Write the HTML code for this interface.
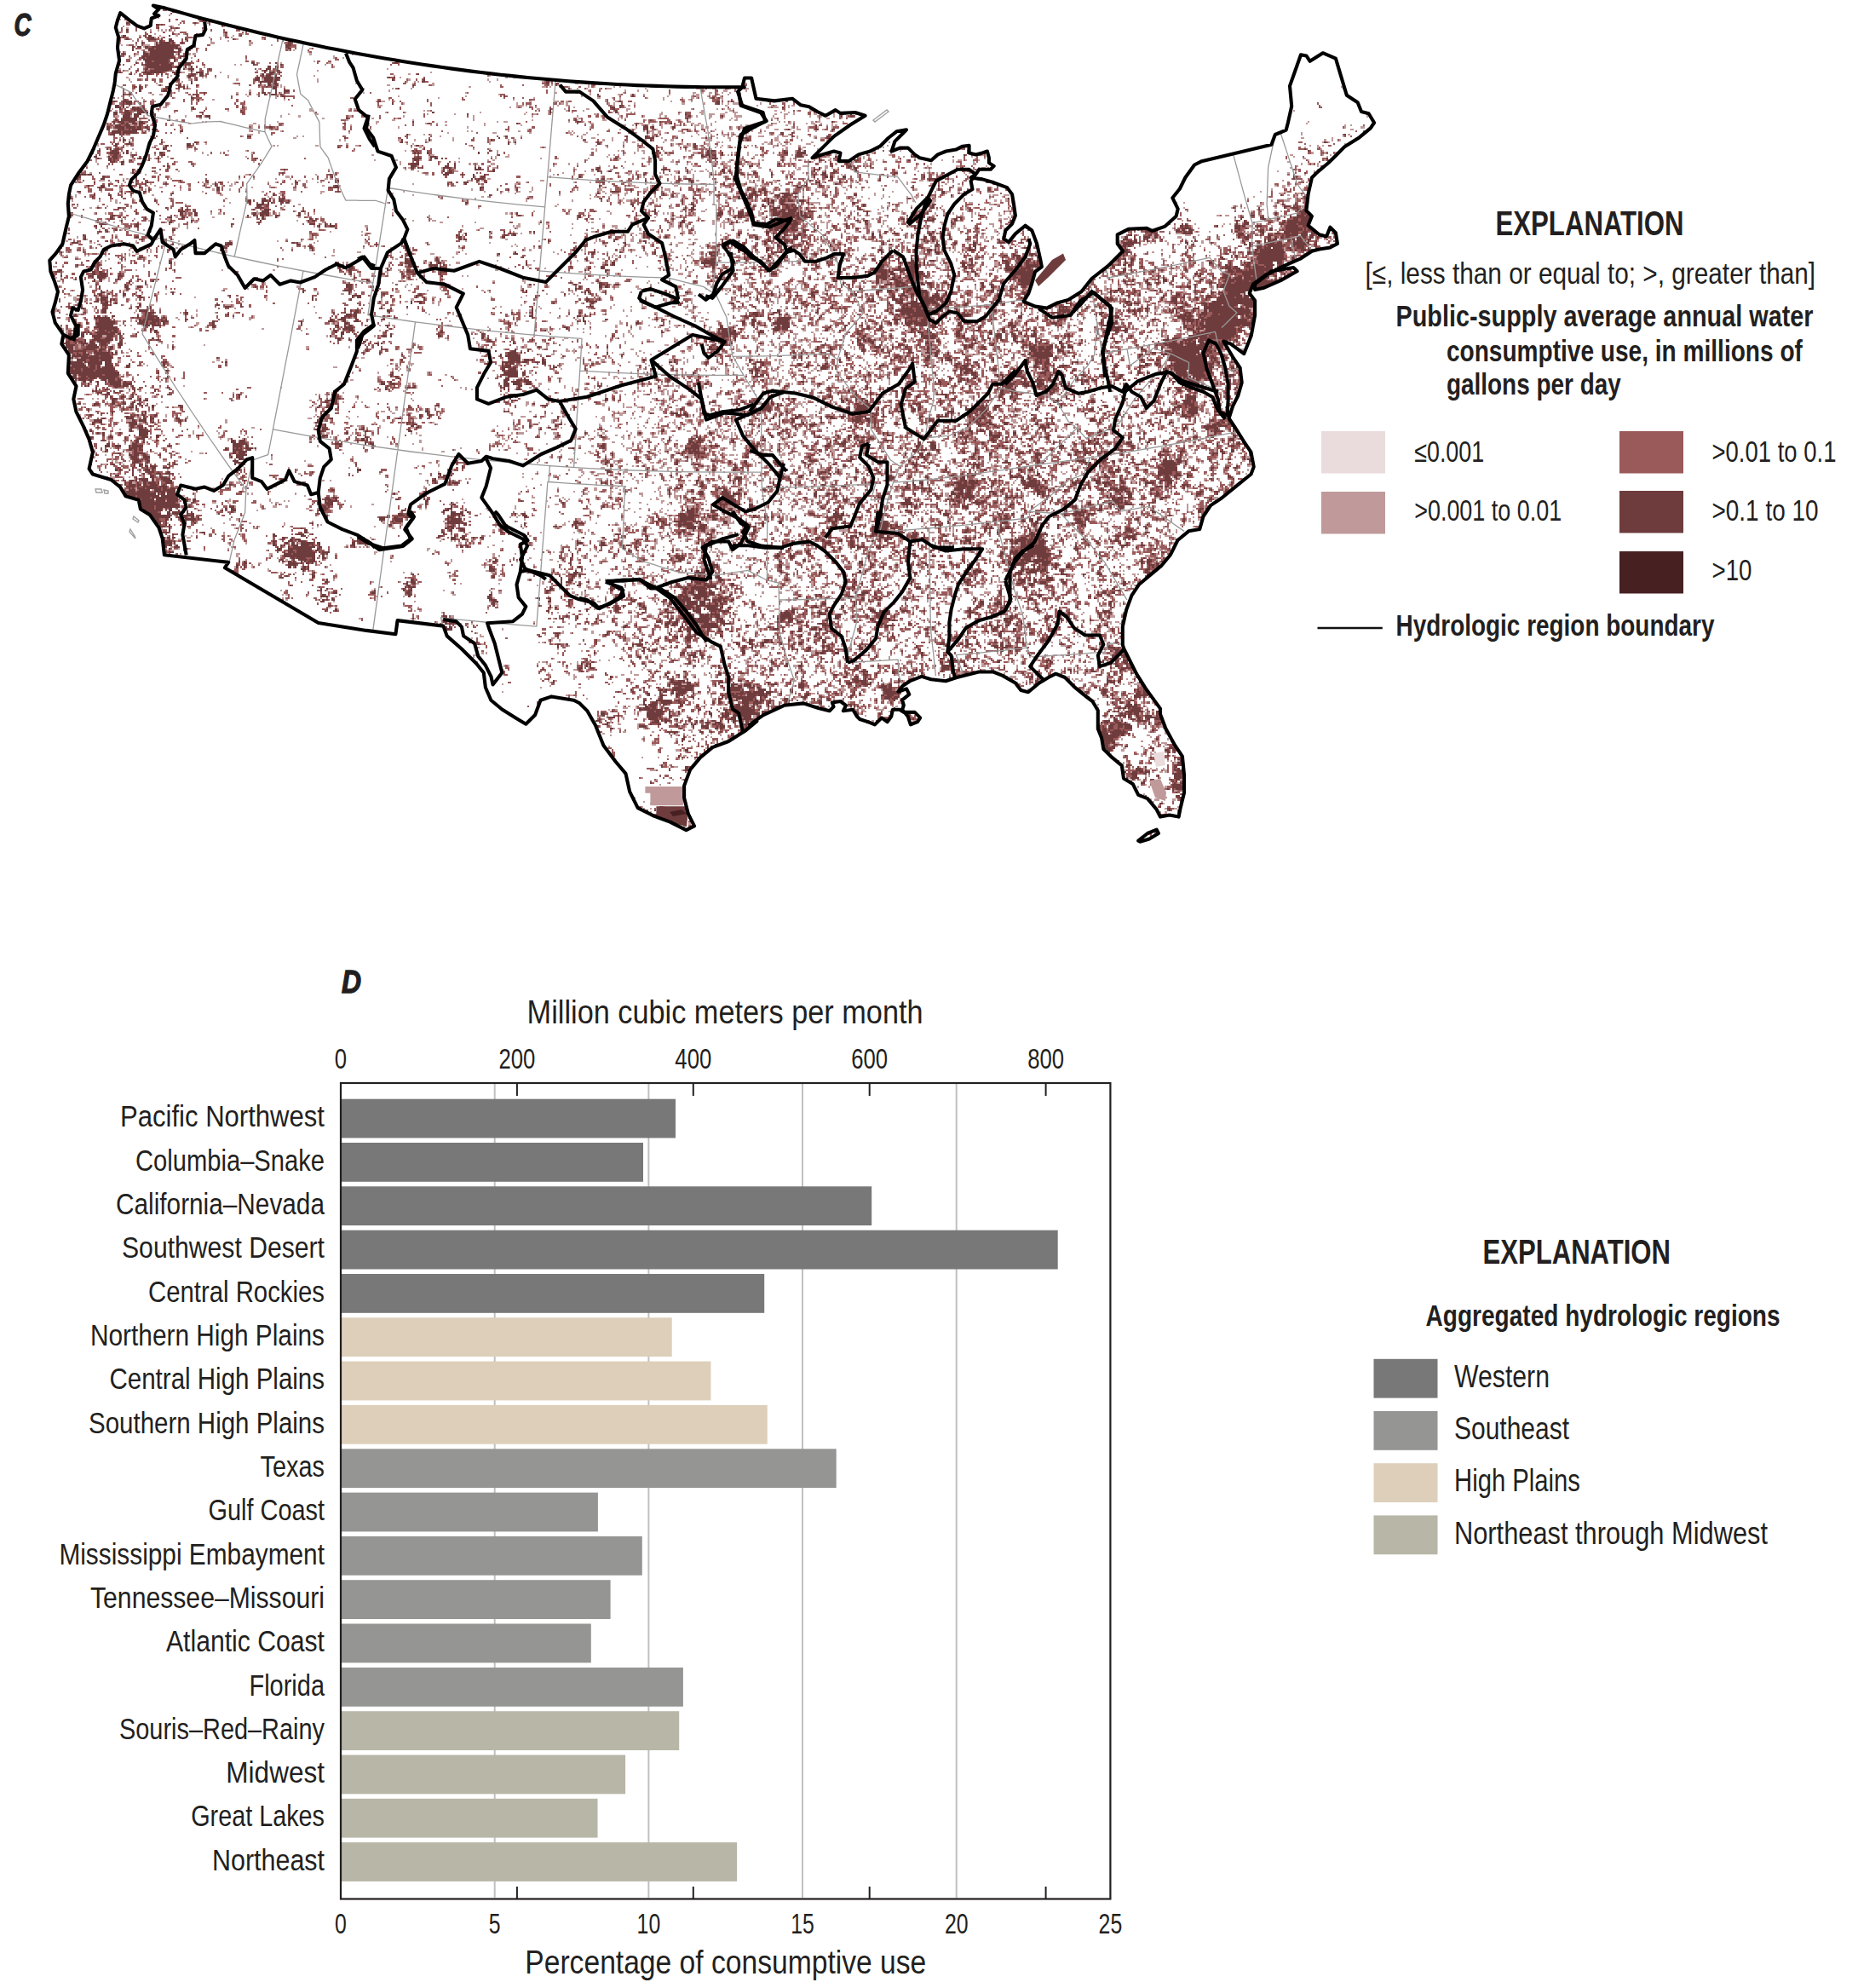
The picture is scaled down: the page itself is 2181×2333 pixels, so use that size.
<!DOCTYPE html>
<html><head><meta charset="utf-8"><style>
html,body{margin:0;padding:0;background:#fff;width:2181px;height:2333px;overflow:hidden}
svg{display:block}
</style></head><body>
<svg width="2181" height="2333" viewBox="0 0 2181 2333">
<rect width="2181" height="2333" fill="#fff"/>
<g transform="scale(2.15)" shape-rendering="crispEdges" fill="none" stroke-width="1">
<path stroke="#6f3c3d" d="M0 .5m109 10h2m-1 1h2m-43 1h1m36 0h1m-22 1h2m1 0h1m32 0h1m-36 2h1m6 0h1m2 0h1m-28 1h1m53 1h1m-30 1h1m-28 1h2m10 0h1m1 0h2m9 0h1m38 0h1m-67 1h1m1 0h1m13 0h3m67 0h2m-84 1h1m11 0h4m3 0h1m3 0h2m7 0h1m25 0h1m-47 1h1m5 0h2m3 0h3m7 0h1m55 0h1m-82 1h1m7 0h1m1 0h6m1 0h1m4 0h1m57 0h2m-74 1h13m58 0h3m-87 1h1m2 0h2m2 0h2m2 0h14m59 0h2m-86 1h1m8 0h3m1 0h10m1 0h3m5 0h1m52 0h2m-87 1h1m8 0h14m2 0h2m-21 1h1m3 0h14m1 0h1m4 0h1m-36 1h1m10 0h3m1 0h13m2 0h1m3 0h1m-25 1h18m3 0h4m-25 1h2m1 0h16m2 0h1m-21 1h14m3 0h1m4 0h2m109 0h1m-133 1h4m1 0h8m3 0h1m4 0h2m-28 1h1m5 0h12m1 0h2m3 0h2m1 0h3m33 0h2m11 0h1m64 0h2m-140 1h1m1 0h8m1 0h6m4 0h2m1 0h3m34 0h1m14 0h1m-74 1h14m2 0h2m3 0h1m2 0h1m41 0h2m2 0h2m-73 1h2m3 0h10m6 0h1m2 0h3m8 0h1m30 0h3m2 0h1m-76 1h1m3 0h1m2 0h10m12 0h1m39 0h2m4 0h2m-87 1h1m12 0h11m5 0h4m9 0h4m33 0h1m2 0h3m2 0h1m-82 1h1m8 0h3m5 0h1m6 0h2m7 0h3m2 0h2m32 0h1m2 0h3m79 0h1m-126 1h3m3 0h2m32 0h1m1 0h3m2 0h1m-48 1h1m36 0h2m2 0h5m1 0h3m59 0h1m2 0h1m-120 1h2m9 0h1m31 0h3m2 0h8m62 0h1m16 0h1m68 0h1m-197 1h1m37 0h9m79 0h2m66 0h2m-196 1h1m37 0h1m3 0h2m1 0h2m147 0h2m3 0h2m-218 1h1m9 0h2m8 0h1m33 0h1m4 0h2m2 0h2m73 0h1m77 0h1m-231 1h1m2 0h1m13 0h2m5 0h2m1 0h1m44 0h1m2 0h3m-75 1h1m13 0h2m5 0h1m2 0h1m48 0h2m66 0h1m92 0h1m-235 1h1m12 0h2m59 0h1m4 0h3m-87 1h1m39 0h1m31 0h2m5 0h1m4 0h1m-89 1h1m2 0h1m34 0h1m1 0h1m36 0h1m3 0h3m2 0h1m172 0h1m18 0h1m-239 1h1m46 0h2m119 0h1m51 0h1m17 0h1m-242 1h2m283 0h1m2 0h1m-325 1h1m39 0h1m321 0h1m-371 1h1m1 0h1m4 0h5m134 0h2m130 0h1m52 0h2m6 0h1m-333 1h1m1 0h3m142 0h1m87 0h1m88 0h2m-330 1h2m2 0h1m270 0h2m-277 1h3m1 0h1m4 0h2m1 0h1m1 0h2m26 0h1m26 0h1m200 0h3m2 0h1m88 0h1m-363 1h1m6 0h7m7 0h1m18 0h1m194 0h1m33 0h2m-268 1h2m3 0h1m1 0h5m51 0h1m168 0h1m9 0h1m25 0h1m-275 1h2m4 0h3m4 0h6m29 0h1m21 0h1m103 0h1m63 0h1m31 0h1m3 0h1m-275 1h2m4 0h3m2 0h4m7 0h1m170 0h1m118 0h1m84 0h2m3 0h1m281 0h2m-681 1h4m2 0h3m8 0h1m24 0h1m2 0h3m261 0h1m17 0h1m64 0h1m4 0h2m5 0h1m-405 1h8m9 0h1m104 0h1m185 0h1m-313 1h1m2 0h9m17 0h1m221 0h1m40 0h1m-294 1h1m1 0h4m2 0h4m2 0h2m22 0h1m124 0h1m89 0h2m43 0h1m93 0h1m-393 1h1m3 0h2m1 0h1m2 0h3m1 0h3m109 0h1m45 0h1m47 0h1m64 0h1m18 0h1m-304 1h3m2 0h3m5 0h1m270 0h1m4 0h1m92 0h1m-388 1h2m3 0h5m1 0h5m1 0h2m2 0h2m63 0h1m2 0h2m202 0h3m2 0h1m10 0h2m76 0h1m-388 1h2m4 0h4m2 0h1m1 0h5m4 0h1m2 0h2m265 0h1m1 0h1m21 0h1m54 0h1m14 0h2m7 0h2m-395 1h5m1 0h8m23 0h2m243 0h3m7 0h1m-293 1h5m1 0h8m3 0h1m266 0h1m7 0h1m72 0h2m4 0h1m-373 1h3m2 0h1m1 0h1m154 0h1m181 0h1m22 0h1m306 0h1m-600 1h2m139 0h1m65 0h1m9 0h2m4 0h1m44 0h2m27 0h1m18 0h2m-265 1h1m83 0h1m79 0h5m28 0h1m19 0h1m1 0h1m43 0h2m-386 1h1m151 0h1m14 0h1m33 0h1m80 0h1m5 0h1m52 0h1m-339 1h1m17 0h1m17 0h2m111 0h1m57 0h1m3 0h1m44 0h1m24 0h1m371 0h1m-661 1h1m5 0h3m30 0h2m173 0h1m48 0h2m51 0h1m-317 1h1m26 0h2m10 0h2m123 0h2m150 0h1m148 0h1m-439 1h1m93 0h1m189 0h1m4 0h1m7 0h1m137 0h2m-469 1h1m1 0h1m2 0h2m24 0h1m141 0h1m155 0h1m48 0h1m275 0h1m-659 1h1m6 0h3m5 0h1m155 0h1m1 0h1m39 0h1m88 0h1m1 0h2m26 0h4m38 0h1m7 0h1m2 0h1m57 0h1m216 0h1m-655 1h5m4 0h1m17 0h2m137 0h1m1 0h1m4 0h1m27 0h1m96 0h1m27 0h3m5 0h1m33 0h2m5 0h5m96 0h2m-476 1h2m8 0h2m14 0h2m182 0h1m85 0h1m24 0h1m1 0h3m1 0h2m3 0h1m40 0h3m13 0h2m46 0h1m26 0h1m-476 1h2m6 0h1m1 0h3m8 0h1m155 0h1m6 0h3m120 0h2m23 0h2m2 0h2m1 0h1m36 0h1m7 0h3m9 0h1m8 0h1m40 0h3m-447 1h1m5 0h2m1 0h2m12 0h1m4 0h1m4 0h1m52 0h1m85 0h5m5 0h1m1 0h2m2 0h1m94 0h1m51 0h3m56 0h1m276 0h1m-666 1h2m1 0h1m8 0h1m9 0h1m144 0h3m198 0h1m19 0h2m17 0h3m27 0h1m227 0h1m-665 1h3m3 0h2m160 0h1m159 0h1m18 0h1m33 0h2m18 0h1m2 0h1m2 0h1m-402 1h1m157 0h5m15 0h1m3 0h1m176 0h1m27 0h1m8 0h1m1 0h1m-374 1h1m132 0h3m16 0h2m3 0h1m160 0h2m43 0h1m8 0h3m9 0h1m-252 1h2m2 0h1m1 0h1m11 0h4m2 0h1m10 0h1m1 0h2m63 0h2m7 0h1m111 0h1m15 0h1m2 0h2m57 0h1m195 0h1m-650 1h1m18 0h1m63 0h1m86 0h1m2 0h1m13 0h4m6 0h1m55 0h2m35 0h2m30 0h2m48 0h1m2 0h1m18 0h2m57 0h2m-455 1h1m2 0h1m166 0h1m2 0h2m22 0h1m56 0h1m5 0h2m41 0h1m18 0h2m2 0h1m45 0h1m10 0h2m10 0h1m-396 1h1m81 0h1m88 0h4m105 0h1m17 0h1m24 0h1m8 0h1m6 0h2m8 0h1m27 0h2m3 0h2m32 0h2m24 0h2m196 0h1m-671 1h5m1 0h2m23 0h1m106 0h1m61 0h3m7 0h1m5 0h1m5 0h1m86 0h1m36 0h1m16 0h1m15 0h1m22 0h1m4 0h2m37 0h1m228 0h1m-675 1h1m12 0h1m16 0h2m106 0h1m76 0h1m4 0h2m51 0h1m31 0h1m95 0h1m5 0h2m1 0h2m5 0h2m42 0h1m201 0h2m-666 1h1m12 0h2m17 0h1m182 0h1m1 0h1m1 0h3m65 0h1m40 0h1m3 0h3m20 0h1m2 0h1m53 0h1m25 0h1m26 0h5m5 0h1m188 0h2m-634 1h1m23 0h1m13 0h1m70 0h2m75 0h2m2 0h1m61 0h4m22 0h1m17 0h1m5 0h2m64 0h1m15 0h1m21 0h1m26 0h1m2 0h1m-460 1h1m19 0h1m8 0h1m32 0h1m6 0h1m40 0h2m83 0h1m6 0h3m9 0h1m63 0h1m47 0h1m67 0h3m10 0h1m-400 1h1m14 0h1m4 0h1m10 0h1m26 0h1m126 0h1m9 0h1m140 0h1m44 0h1m6 0h1m8 0h1m86 0h1m-496 1h1m6 0h2m2 0h1m51 0h1m5 0h1m65 0h2m142 0h1m29 0h1m77 0h1m2 0h3m6 0h2m63 0h1m-459 1h3m19 0h1m41 0h2m60 0h1m1 0h3m77 0h2m93 0h1m51 0h1m25 0h3m60 0h1m-418 1h1m36 0h2m142 0h1m14 0h1m4 0h1m61 0h1m11 0h3m22 0h1m26 0h1m2 0h1m4 0h2m94 0h1m26 0h2m-498 1h1m22 0h1m3 0h1m7 0h2m104 0h1m149 0h4m18 0h2m53 0h2m1 0h2m1 0h2m95 0h2m-445 1h1m22 0h1m231 0h1m35 0h1m47 0h3m4 0h1m9 0h4m2 0h3m78 0h2m10 0h1m-476 1h1m7 0h2m88 0h1m4 0h1m112 0h1m94 0h1m4 0h1m24 0h1m14 0h1m1 0h2m1 0h2m3 0h1m5 0h3m2 0h4m18 0h1m15 0h2m51 0h1m6 0h1m172 0h1m-663 1h2m11 0h1m9 0h1m5 0h1m300 0h1m35 0h1m5 0h2m13 0h1m2 0h3m4 0h1m277 0h2m-676 1h1m105 0h1m2 0h1m4 0h1m1 0h2m132 0h1m39 0h1m22 0h2m25 0h1m19 0h1m4 0h1m4 0h2m9 0h1m6 0h1m1 0h1m1 0h1m65 0h1m53 0h1m161 0h1m-629 1h1m50 0h2m6 0h3m1 0h1m4 0h3m2 0h1m193 0h1m20 0h1m34 0h1m9 0h1m1 0h1m1 0h2m3 0h3m1 0h3m3 0h3m-303 1h1m6 0h1m2 0h1m1 0h1m4 0h2m1 0h2m96 0h2m116 0h1m34 0h2m10 0h1m1 0h2m3 0h2m13 0h1m23 0h2m40 0h1m189 0h1m15 0h1m-574 1h4m2 0h1m197 0h2m31 0h2m29 0h2m9 0h1m6 0h4m2 0h2m37 0h1m35 0h1m1 0h1m190 0h1m6 0h1m5 0h1m-574 1h3m2 0h1m199 0h1m32 0h1m32 0h1m4 0h2m2 0h1m8 0h2m1 0h1m1 0h1m1 0h1m31 0h1m2 0h1m33 0h1m3 0h1m191 0h3m2 0h1m1 0h1m3 0h1m-660 1h1m10 0h2m24 0h1m8 0h1m40 0h4m230 0h1m2 0h2m43 0h4m3 0h2m2 0h3m4 0h1m27 0h1m39 0h2m163 0h1m13 0h1m13 0h1m3 0h4m3 0h1m-614 1h1m2 0h1m35 0h1m5 0h3m210 0h1m15 0h1m3 0h2m31 0h1m10 0h3m3 0h2m1 0h5m34 0h1m34 0h1m24 0h1m157 0h1m20 0h2m1 0h2m-616 1h4m5 0h1m36 0h4m18 0h1m158 0h1m32 0h1m19 0h1m15 0h1m10 0h2m2 0h2m12 0h2m1 0h4m1 0h5m1 0h2m3 0h3m29 0h1m24 0h1m209 0h6m-676 1h1m35 0h1m23 0h2m6 0h2m30 0h2m2 0h5m16 0h1m118 0h1m69 0h1m4 0h1m34 0h3m8 0h3m2 0h2m12 0h4m1 0h7m1 0h3m1 0h1m33 0h1m24 0h1m3 0h3m1 0h1m189 0h1m13 0h3m1 0h1m-677 1h1m22 0h2m36 0h1m6 0h2m27 0h1m2 0h1m3 0h2m1 0h2m3 0h2m11 0h1m119 0h1m32 0h1m30 0h1m4 0h2m13 0h1m23 0h3m9 0h3m1 0h3m12 0h3m2 0h14m1 0h1m56 0h3m2 0h1m30 0h1m147 0h2m19 0h1m3 0h4m1 0h3m-656 1h2m3 0h1m13 0h1m12 0h2m5 0h2m39 0h1m2 0h1m6 0h1m165 0h1m84 0h1m1 0h2m13 0h1m7 0h8m1 0h3m1 0h4m56 0h3m1 0h2m2 0h1m15 0h2m28 0h1m123 0h2m9 0h2m14 0h1m1 0h10m-656 1h2m17 0h1m19 0h1m43 0h1m25 0h1m2 0h1m147 0h1m46 0h1m29 0h1m23 0h1m4 0h7m2 0h3m54 0h2m1 0h2m2 0h3m4 0h1m2 0h1m11 0h2m1 0h1m152 0h1m11 0h2m6 0h1m8 0h3m1 0h6m-663 1h1m12 0h1m26 0h1m10 0h1m37 0h1m25 0h1m1 0h2m176 0h1m23 0h2m33 0h1m14 0h1m1 0h1m1 0h2m1 0h6m3 0h1m29 0h1m3 0h2m27 0h1m4 0h4m11 0h2m28 0h2m122 0h1m3 0h1m21 0h1m1 0h6m1 0h5m-623 1h2m47 0h1m153 0h1m75 0h3m25 0h1m2 0h1m19 0h3m1 0h1m2 0h3m1 0h3m36 0h1m28 0h2m16 0h1m31 0h2m122 0h1m3 0h3m11 0h1m6 0h2m1 0h12m-660 1h3m16 0h2m50 0h1m42 0h3m5 0h1m2 0h1m190 0h1m48 0h16m26 0h1m10 0h1m46 0h1m124 0h1m1 0h1m27 0h1m3 0h3m17 0h2m2 0h5m1 0h5m-662 1h1m2 0h1m18 0h2m98 0h1m2 0h1m2 0h3m188 0h1m48 0h1m2 0h7m2 0h3m20 0h1m6 0h1m36 0h1m144 0h2m1 0h2m15 0h1m9 0h3m1 0h2m6 0h3m13 0h7m2 0h4m-295 1h2m1 0h7m1 0h3m33 0h2m30 0h1m33 0h1m27 0h1m83 0h5m24 0h3m3 0h1m12 0h2m7 0h9m1 0h1m1 0h2m-659 1h1m5 0h1m30 0h2m281 0h1m42 0h2m1 0h2m2 0h4m1 0h4m2 0h3m3 0h2m173 0h1m3 0h1m1 0h3m14 0h2m1 0h2m2 0h2m25 0h1m11 0h2m3 0h2m5 0h1m1 0h9m1 0h1m1 0h3m-663 1h1m3 0h1m192 0h1m15 0h1m7 0h1m15 0h1m33 0h1m7 0h2m16 0h1m66 0h2m6 0h4m8 0h2m43 0h1m25 0h1m3 0h1m111 0h4m1 0h1m11 0h3m1 0h2m1 0h2m23 0h2m12 0h2m11 0h8m2 0h3m2 0h1m8 0h1m-472 1h1m23 0h1m1 0h1m48 0h1m4 0h2m15 0h1m51 0h1m14 0h2m2 0h1m5 0h1m7 0h1m39 0h1m11 0h2m11 0h1m5 0h2m4 0h1m114 0h1m1 0h2m14 0h5m25 0h3m4 0h1m5 0h1m6 0h3m2 0h3m1 0h4m1 0h4m2 0h2m10 0h1m-684 1h1m33 0h2m89 0h1m78 0h1m4 0h1m20 0h2m3 0h2m69 0h1m1 0h1m49 0h1m7 0h1m16 0h2m3 0h1m1 0h2m2 0h1m36 0h1m3 0h1m26 0h2m9 0h1m14 0h1m82 0h2m9 0h2m1 0h2m44 0h3m2 0h1m6 0h1m3 0h3m5 0h1m1 0h7m1 0h4m1 0h2m-671 1h1m27 0h2m174 0h2m22 0h2m56 0h1m18 0h1m1 0h2m8 0h1m48 0h2m11 0h1m1 0h2m4 0h3m40 0h1m27 0h2m3 0h1m8 0h1m95 0h2m3 0h1m4 0h4m2 0h2m44 0h1m2 0h3m10 0h2m2 0h1m2 0h2m1 0h2m4 0h5m2 0h2m2 0h1m-674 1h1m30 0h1m5 0h1m5 0h2m2 0h1m156 0h2m1 0h2m81 0h1m57 0h1m18 0h1m5 0h1m6 0h1m1 0h2m3 0h2m69 0h1m4 0h1m9 0h1m8 0h1m84 0h3m3 0h1m4 0h1m1 0h1m7 0h1m45 0h2m8 0h1m1 0h2m1 0h2m3 0h1m2 0h4m1 0h3m3 0h2m-658 1h1m30 0h2m208 0h1m35 0h1m15 0h2m5 0h1m35 0h1m22 0h1m1 0h2m4 0h1m2 0h3m1 0h1m5 0h1m16 0h1m48 0h1m1 0h1m2 0h1m35 0h1m66 0h1m3 0h2m1 0h2m5 0h1m20 0h1m4 0h1m25 0h1m7 0h2m2 0h1m1 0h4m2 0h1m4 0h1m2 0h1m1 0h3m1 0h1m1 0h1m3 0h1m-680 1h4m46 0h1m34 0h3m32 0h2m1 0h1m166 0h1m11 0h1m10 0h1m41 0h1m11 0h1m10 0h2m6 0h1m2 0h2m2 0h1m7 0h1m41 0h1m28 0h1m9 0h2m8 0h2m12 0h4m8 0h1m55 0h8m1 0h1m24 0h2m12 0h1m17 0h1m2 0h1m4 0h1m2 0h1m1 0h4m1 0h3m6 0h9m3 0h1m-625 1h1m28 0h4m35 0h2m41 0h1m112 0h1m1 0h1m20 0h1m50 0h5m8 0h2m10 0h1m6 0h1m3 0h1m7 0h1m16 0h1m4 0h1m23 0h1m3 0h1m13 0h1m10 0h2m8 0h1m9 0h2m77 0h1m2 0h6m32 0h1m27 0h1m2 0h2m4 0h1m2 0h9m1 0h1m3 0h9m3 0h2m-686 1h1m37 0h1m9 0h1m40 0h1m46 0h1m50 0h1m73 0h1m24 0h1m66 0h1m4 0h1m4 0h2m14 0h1m11 0h2m2 0h1m3 0h2m19 0h1m47 0h2m7 0h2m19 0h2m14 0h1m17 0h1m45 0h4m1 0h1m65 0h1m3 0h3m1 0h1m1 0h9m4 0h2m1 0h4m6 0h1m-687 1h1m89 0h2m45 0h2m50 0h1m30 0h1m60 0h1m37 0h1m38 0h1m6 0h1m20 0h2m11 0h1m9 0h1m61 0h1m25 0h1m2 0h1m18 0h1m7 0h3m50 0h1m1 0h1m67 0h1m3 0h3m1 0h4m1 0h5m3 0h2m3 0h4m2 0h1m3 0h1m-662 1h1m112 0h1m142 0h1m89 0h1m14 0h2m6 0h1m10 0h1m17 0h1m24 0h2m17 0h1m6 0h3m1 0h1m18 0h3m81 0h3m55 0h1m13 0h2m1 0h13m3 0h1m2 0h1m2 0h3m1 0h2m-683 1h1m247 0h1m41 0h2m13 0h1m18 0h1m29 0h5m29 0h1m1 0h1m1 0h2m12 0h1m18 0h1m22 0h1m25 0h1m2 0h3m100 0h4m60 0h1m3 0h2m1 0h2m2 0h14m-480 1h3m47 0h1m8 0h2m40 0h1m33 0h1m29 0h2m1 0h1m15 0h1m15 0h1m15 0h2m4 0h2m65 0h2m40 0h1m8 0h3m48 0h1m1 0h1m31 0h1m21 0h1m11 0h2m1 0h17m-479 1h2m89 0h1m74 0h3m17 0h1m10 0h2m24 0h1m9 0h1m70 0h1m21 0h2m3 0h4m6 0h1m1 0h1m47 0h1m5 0h1m54 0h2m11 0h14m-625 1h2m160 0h1m46 0h1m104 0h1m15 0h1m1 0h2m2 0h1m6 0h2m7 0h2m10 0h1m13 0h1m28 0h3m4 0h1m43 0h1m12 0h1m5 0h1m1 0h2m9 0h1m99 0h2m7 0h1m10 0h15m4 0h2m-641 1h1m154 0h2m15 0h1m80 0h2m43 0h2m19 0h1m2 0h3m15 0h2m4 0h1m29 0h1m10 0h2m21 0h1m13 0h1m6 0h1m3 0h1m27 0h2m24 0h3m3 0h2m47 0h1m2 0h2m2 0h2m48 0h2m15 0h1m1 0h16m3 0h2m-615 1h1m128 0h5m12 0h2m70 0h1m9 0h1m63 0h6m17 0h1m11 0h1m57 0h1m12 0h1m6 0h2m2 0h1m2 0h1m3 0h2m20 0h1m16 0h3m6 0h3m1 0h3m3 0h2m42 0h1m3 0h1m2 0h2m30 0h1m12 0h1m20 0h2m2 0h13m5 0h2m-655 1h2m38 0h2m89 0h1m37 0h4m10 0h1m3 0h2m46 0h1m46 0h2m47 0h8m29 0h1m1 0h1m28 0h1m39 0h1m4 0h3m5 0h1m20 0h2m3 0h1m18 0h2m4 0h2m3 0h2m2 0h1m1 0h1m47 0h1m2 0h1m42 0h2m9 0h1m7 0h1m1 0h2m4 0h8m2 0h3m-658 1h1m8 0h1m1 0h2m134 0h3m27 0h1m3 0h2m9 0h5m3 0h1m44 0h1m42 0h2m2 0h2m48 0h1m3 0h3m26 0h1m2 0h1m24 0h1m6 0h1m27 0h3m14 0h6m1 0h1m20 0h2m2 0h2m18 0h2m6 0h1m2 0h7m40 0h1m2 0h1m2 0h2m1 0h2m47 0h1m3 0h1m1 0h1m6 0h1m1 0h3m2 0h2m3 0h6m2 0h2m-650 1h1m2 0h1m130 0h3m2 0h4m30 0h2m10 0h1m1 0h2m1 0h1m70 0h1m16 0h2m55 0h1m3 0h1m55 0h2m32 0h4m7 0h2m4 0h6m23 0h3m21 0h2m3 0h1m2 0h1m2 0h9m38 0h2m14 0h1m45 0h3m2 0h2m4 0h3m1 0h6m1 0h4m2 0h2m-646 1h1m131 0h1m4 0h3m18 0h1m26 0h3m1 0h2m77 0h2m5 0h2m59 0h1m6 0h1m14 0h1m64 0h6m8 0h2m1 0h1m2 0h6m24 0h2m2 0h1m18 0h4m4 0h6m4 0h1m46 0h1m15 0h1m16 0h1m19 0h1m1 0h3m1 0h4m5 0h1m1 0h11m9 0h2m-674 1h2m19 0h1m41 0h1m89 0h1m4 0h2m19 0h1m10 0h2m1 0h1m14 0h1m78 0h1m10 0h2m61 0h1m21 0h1m60 0h8m1 0h1m2 0h13m48 0h6m1 0h4m1 0h3m38 0h1m10 0h2m2 0h1m16 0h1m12 0h1m22 0h3m2 0h3m2 0h1m1 0h13m4 0h1m-670 1h3m17 0h2m2 0h2m134 0h2m30 0h4m14 0h4m86 0h1m62 0h1m28 0h1m49 0h1m1 0h2m3 0h5m1 0h3m3 0h2m3 0h5m1 0h2m24 0h1m1 0h2m21 0h12m41 0h1m6 0h1m10 0h1m4 0h1m40 0h4m1 0h15m1 0h5m3 0h1m-650 1h2m2 0h4m7 0h1m125 0h1m16 0h1m10 0h1m5 0h2m13 0h1m160 0h1m7 0h1m11 0h3m29 0h1m4 0h1m22 0h3m2 0h3m7 0h3m2 0h3m28 0h1m20 0h12m46 0h1m40 0h2m1 0h1m12 0h2m2 0h1m1 0h1m3 0h18m5 0h1m-669 1h1m15 0h2m2 0h5m6 0h3m153 0h1m20 0h1m147 0h1m11 0h1m76 0h6m1 0h1m2 0h1m2 0h1m3 0h4m2 0h2m1 0h2m11 0h1m33 0h4m2 0h8m67 0h1m21 0h2m6 0h1m5 0h3m5 0h2m1 0h4m1 0h9m3 0h1m-647 1h1m2 0h4m7 0h1m128 0h1m26 0h1m2 0h1m166 0h2m50 0h1m12 0h1m22 0h6m3 0h2m1 0h2m4 0h3m1 0h3m50 0h3m1 0h7m68 0h1m2 0h1m4 0h1m4 0h1m16 0h1m4 0h5m2 0h4m1 0h10m1 0h3m8 0h1m-661 1h1m9 0h1m2 0h2m8 0h1m10 0h1m124 0h1m40 0h1m152 0h1m60 0h1m22 0h2m2 0h2m2 0h4m6 0h2m53 0h1m1 0h1m2 0h8m54 0h1m7 0h1m5 0h1m2 0h2m3 0h1m14 0h2m12 0h9m1 0h12m5 0h1m-646 1h1m3 0h1m14 0h1m12 0h1m116 0h2m124 0h1m52 0h1m8 0h1m66 0h2m8 0h2m11 0h2m9 0h3m3 0h1m50 0h1m9 0h8m31 0h1m17 0h2m3 0h1m6 0h2m8 0h2m18 0h1m5 0h1m6 0h6m1 0h7m1 0h3m1 0h10m-627 1h1m8 0h1m160 0h3m68 0h1m15 0h2m90 0h2m39 0h1m17 0h2m6 0h1m2 0h5m3 0h3m3 0h1m2 0h3m6 0h2m19 0h1m9 0h1m10 0h6m51 0h1m11 0h2m3 0h2m27 0h2m7 0h3m2 0h11m1 0h9m-643 1h1m15 0h1m120 0h3m49 0h1m47 0h1m23 0h2m12 0h3m1 0h1m4 0h2m101 0h1m20 0h1m4 0h1m17 0h4m2 0h2m1 0h3m3 0h2m3 0h2m2 0h2m8 0h1m18 0h1m4 0h1m14 0h7m52 0h1m2 0h1m7 0h3m23 0h1m11 0h1m2 0h17m1 0h7m1 0h1m-640 1h1m13 0h2m5 0h2m62 0h1m49 0h3m51 0h1m72 0h1m10 0h2m1 0h2m72 0h1m76 0h2m6 0h5m1 0h1m1 0h2m9 0h1m27 0h1m4 0h2m15 0h2m2 0h1m81 0h1m3 0h2m2 0h1m11 0h1m1 0h18m1 0h6m-637 1h1m14 0h1m120 0h2m122 0h1m1 0h1m4 0h1m141 0h1m5 0h1m19 0h1m3 0h1m2 0h2m37 0h1m6 0h1m8 0h3m40 0h1m15 0h2m45 0h1m11 0h14m2 0h3m-523 1h1m22 0h4m93 0h1m1 0h1m32 0h2m108 0h1m27 0h1m11 0h1m8 0h3m2 0h3m2 0h1m5 0h2m3 0h6m6 0h1m26 0h1m1 0h2m8 0h1m54 0h1m2 0h2m4 0h1m3 0h1m10 0h1m2 0h1m18 0h1m16 0h14m-628 1h2m37 0h1m70 0h1m24 0h1m96 0h1m31 0h1m1 0h1m8 0h1m43 0h2m45 0h1m8 0h1m12 0h4m31 0h2m5 0h2m6 0h1m1 0h1m4 0h7m4 0h1m4 0h1m3 0h1m20 0h1m16 0h2m1 0h1m44 0h1m1 0h1m4 0h1m5 0h1m32 0h1m3 0h1m4 0h2m2 0h3m2 0h10m-626 1h2m3 0h1m7 0h2m4 0h1m20 0h1m95 0h1m18 0h1m19 0h1m78 0h1m13 0h1m92 0h1m2 0h2m1 0h1m21 0h1m7 0h1m12 0h4m11 0h1m7 0h1m4 0h2m3 0h2m1 0h4m1 0h2m3 0h2m4 0h1m11 0h1m15 0h1m13 0h3m34 0h1m10 0h1m5 0h1m5 0h1m3 0h1m19 0h2m17 0h1m3 0h1m1 0h2m1 0h7m2 0h1m-629 1h1m2 0h2m11 0h1m8 0h1m7 0h1m40 0h1m66 0h5m16 0h1m13 0h3m63 0h1m110 0h1m1 0h2m10 0h2m1 0h1m13 0h1m7 0h2m21 0h2m19 0h2m2 0h4m2 0h2m1 0h4m1 0h2m2 0h4m2 0h1m28 0h1m14 0h2m37 0h2m16 0h1m5 0h1m12 0h1m6 0h2m2 0h1m12 0h2m5 0h12m1 0h4m-628 1h4m17 0h2m92 0h1m21 0h1m2 0h2m30 0h1m3 0h1m60 0h1m120 0h1m17 0h1m12 0h1m42 0h2m2 0h1m3 0h1m1 0h1m5 0h4m1 0h5m1 0h1m2 0h2m38 0h1m1 0h1m30 0h1m2 0h2m9 0h1m1 0h1m27 0h2m4 0h3m2 0h2m5 0h2m4 0h4m3 0h9m1 0h3m1 0h3m-629 1h1m1 0h3m2 0h1m1 0h1m107 0h1m20 0h1m39 0h1m88 0h2m5 0h1m85 0h1m60 0h1m1 0h1m10 0h3m1 0h2m7 0h1m3 0h6m1 0h4m1 0h3m38 0h2m45 0h4m26 0h1m5 0h3m10 0h1m4 0h1m5 0h21m-633 1h2m1 0h1m1 0h2m1 0h1m146 0h1m16 0h1m3 0h2m90 0h1m1 0h4m91 0h2m20 0h1m15 0h1m17 0h1m1 0h2m12 0h4m4 0h4m3 0h7m3 0h3m1 0h1m26 0h2m11 0h1m23 0h1m31 0h3m22 0h4m2 0h1m16 0h23m-629 1h3m4 0h1m160 0h1m4 0h1m72 0h1m20 0h1m47 0h1m27 0h2m36 0h2m46 0h1m4 0h3m2 0h13m1 0h3m2 0h1m3 0h1m8 0h2m12 0h2m1 0h1m1 0h3m4 0h1m5 0h1m17 0h1m4 0h1m1 0h1m30 0h1m1 0h1m1 0h3m19 0h2m2 0h1m1 0h1m8 0h3m1 0h25m-629 1h3m1 0h1m15 0h1m41 0h2m11 0h1m190 0h1m48 0h1m33 0h1m34 0h1m5 0h1m7 0h1m31 0h1m6 0h3m1 0h5m1 0h4m4 0h2m1 0h2m10 0h2m15 0h1m3 0h1m9 0h1m21 0h1m4 0h1m1 0h2m28 0h2m24 0h1m4 0h2m8 0h2m1 0h7m1 0h8m3 0h6m-648 1h1m1 0h2m3 0h1m12 0h1m17 0h1m6 0h1m40 0h3m5 0h1m90 0h1m99 0h2m87 0h1m28 0h1m13 0h1m37 0h2m1 0h1m1 0h10m4 0h1m1 0h2m1 0h2m55 0h1m4 0h5m3 0h2m12 0h1m25 0h1m17 0h2m11 0h17m3 0h1m2 0h5m-647 1h2m4 0h2m10 0h2m17 0h1m6 0h1m105 0h1m19 0h1m4 0h1m76 0h1m163 0h1m3 0h1m2 0h1m25 0h1m4 0h6m2 0h3m2 0h2m3 0h2m1 0h2m1 0h2m3 0h2m55 0h1m1 0h1m1 0h1m10 0h1m28 0h1m2 0h2m14 0h1m1 0h3m5 0h4m2 0h22m1 0h2m2 0h1m-644 1h1m14 0h2m18 0h5m110 0h1m2 0h2m15 0h2m77 0h1m133 0h2m20 0h1m37 0h1m4 0h10m1 0h8m1 0h1m1 0h1m1 0h2m2 0h1m4 0h1m20 0h1m34 0h6m32 0h1m1 0h2m1 0h2m3 0h1m11 0h1m1 0h1m1 0h1m3 0h1m4 0h1m5 0h2m1 0h23m1 0h1m-639 1h1m9 0h2m21 0h5m17 0h2m79 0h1m5 0h1m4 0h3m16 0h1m66 0h1m10 0h1m25 0h1m94 0h3m8 0h2m1 0h1m19 0h2m39 0h1m5 0h15m4 0h1m14 0h1m47 0h5m1 0h2m1 0h2m16 0h2m16 0h1m19 0h1m2 0h1m4 0h3m6 0h3m3 0h21m1 0h1m-644 1h1m37 0h4m18 0h1m22 0h1m64 0h3m1 0h2m95 0h1m31 0h1m87 0h4m7 0h1m3 0h1m3 0h1m57 0h1m1 0h1m2 0h2m1 0h2m1 0h9m1 0h1m1 0h2m2 0h2m8 0h6m47 0h4m2 0h1m14 0h1m1 0h2m17 0h1m24 0h1m1 0h2m1 0h1m5 0h4m3 0h3m1 0h13m1 0h2m1 0h2m-645 1h2m11 0h2m2 0h1m3 0h2m12 0h1m3 0h7m41 0h1m60 0h4m1 0h2m14 0h1m2 0h1m76 0h2m24 0h2m2 0h1m86 0h2m1 0h1m2 0h2m1 0h1m32 0h1m41 0h1m5 0h12m5 0h2m10 0h4m27 0h2m12 0h1m9 0h1m28 0h2m32 0h8m4 0h1m1 0h1m3 0h14m3 0h1m1 0h3m1 0h1m-634 1h9m12 0h1m2 0h1m3 0h5m1 0h2m2 0h1m96 0h3m1 0h1m3 0h1m20 0h1m74 0h1m27 0h1m39 0h1m48 0h2m10 0h1m5 0h7m15 0h1m40 0h1m5 0h4m2 0h1m3 0h3m49 0h2m8 0h1m3 0h2m7 0h3m21 0h1m5 0h2m32 0h4m1 0h2m5 0h2m2 0h17m2 0h1m2 0h4m-633 1h1m1 0h6m16 0h1m1 0h9m1 0h1m1 0h1m10 0h1m78 0h2m3 0h4m5 0h2m13 0h1m108 0h1m11 0h1m27 0h1m3 0h1m47 0h2m8 0h1m3 0h7m11 0h1m45 0h3m3 0h1m2 0h1m2 0h1m2 0h6m14 0h1m2 0h1m8 0h3m3 0h1m29 0h1m6 0h2m1 0h1m23 0h1m23 0h2m14 0h7m1 0h2m1 0h25m2 0h2m-645 1h2m12 0h9m13 0h5m2 0h4m1 0h4m24 0h1m47 0h1m14 0h4m4 0h2m4 0h3m119 0h1m2 0h2m28 0h1m56 0h2m3 0h3m11 0h6m46 0h1m12 0h1m4 0h1m1 0h5m2 0h5m3 0h1m13 0h3m7 0h1m37 0h1m3 0h1m23 0h1m3 0h2m2 0h1m36 0h1m1 0h4m1 0h1m2 0h1m1 0h23m2 0h1m-637 1h1m4 0h11m13 0h5m1 0h3m1 0h1m2 0h1m26 0h1m47 0h1m23 0h2m87 0h1m69 0h2m56 0h2m3 0h2m2 0h1m7 0h9m47 0h1m6 0h2m2 0h1m4 0h4m1 0h8m2 0h2m12 0h2m3 0h1m22 0h2m7 0h1m13 0h3m24 0h1m2 0h1m2 0h3m36 0h1m3 0h1m2 0h1m1 0h2m1 0h26m-642 1h2m9 0h9m16 0h4m1 0h5m28 0h1m66 0h2m3 0h1m1 0h2m19 0h1m66 0h1m82 0h1m22 0h1m8 0h1m16 0h2m5 0h1m6 0h2m1 0h4m30 0h2m7 0h1m10 0h1m13 0h2m3 0h1m1 0h4m2 0h3m12 0h2m10 0h1m14 0h5m23 0h2m22 0h3m2 0h1m38 0h2m3 0h1m1 0h1m1 0h22m1 0h5m-642 1h1m9 0h13m52 0h1m67 0h1m3 0h5m18 0h1m96 0h2m83 0h2m5 0h1m22 0h3m1 0h4m21 0h2m7 0h1m11 0h2m5 0h2m27 0h2m13 0h2m8 0h2m16 0h2m53 0h5m34 0h2m3 0h1m2 0h1m1 0h18m3 0h1m4 0h1m-651 1h2m6 0h2m12 0h10m14 0h1m3 0h1m104 0h6m20 0h1m95 0h1m82 0h5m1 0h1m5 0h1m17 0h4m1 0h3m21 0h1m19 0h1m1 0h2m5 0h2m15 0h3m2 0h1m3 0h1m17 0h1m9 0h1m12 0h2m3 0h1m8 0h1m3 0h1m24 0h1m13 0h1m1 0h2m1 0h2m3 0h2m32 0h3m2 0h4m1 0h17m1 0h1m-644 1h1m6 0h2m12 0h3m1 0h3m1 0h2m18 0h1m1 0h2m96 0h2m6 0h3m48 0h1m55 0h1m94 0h1m1 0h3m1 0h1m1 0h2m13 0h1m7 0h2m25 0h2m6 0h1m9 0h1m1 0h1m8 0h1m6 0h1m10 0h2m7 0h2m15 0h2m8 0h2m12 0h2m6 0h1m8 0h1m38 0h4m1 0h3m2 0h3m35 0h1m2 0h1m3 0h17m1 0h2m-638 1h3m2 0h2m1 0h1m3 0h7m1 0h4m20 0h2m97 0h1m2 0h2m22 0h1m29 0h2m119 0h1m26 0h1m3 0h1m1 0h8m12 0h3m51 0h1m28 0h1m1 0h1m1 0h3m2 0h3m13 0h2m16 0h2m6 0h1m3 0h1m4 0h1m6 0h1m37 0h4m3 0h1m4 0h1m36 0h2m1 0h1m1 0h19m-638 1h2m1 0h3m1 0h2m3 0h1m3 0h10m1 0h2m8 0h1m111 0h2m5 0h1m19 0h1m25 0h1m23 0h2m123 0h3m1 0h11m11 0h1m53 0h2m33 0h1m3 0h1m1 0h1m12 0h2m16 0h2m2 0h3m5 0h2m3 0h1m2 0h1m3 0h2m17 0h1m20 0h1m48 0h7m1 0h14m-641 1h1m2 0h2m1 0h2m2 0h2m4 0h6m2 0h4m3 0h1m114 0h1m5 0h1m22 0h2m2 0h1m25 0h2m22 0h1m70 0h1m53 0h1m1 0h2m2 0h5m2 0h1m69 0h2m13 0h1m16 0h8m11 0h2m1 0h2m16 0h4m6 0h2m4 0h1m3 0h3m15 0h1m1 0h1m19 0h2m12 0h1m31 0h10m1 0h14m1 0h1m6 0h1m-649 1h1m2 0h2m12 0h4m2 0h4m4 0h1m17 0h1m100 0h2m77 0h1m2 0h1m33 0h1m87 0h1m1 0h6m5 0h1m66 0h1m1 0h2m2 0h1m29 0h6m16 0h1m1 0h1m2 0h1m7 0h2m3 0h1m1 0h1m6 0h2m6 0h1m45 0h1m29 0h1m2 0h4m5 0h5m1 0h17m-635 1h2m2 0h2m3 0h1m3 0h12m4 0h1m15 0h1m2 0h2m97 0h2m4 0h1m75 0h2m22 0h1m97 0h1m3 0h2m2 0h1m1 0h1m2 0h1m66 0h2m1 0h2m1 0h2m1 0h1m15 0h2m7 0h1m8 0h2m14 0h1m3 0h2m4 0h1m8 0h2m5 0h2m3 0h1m6 0h1m2 0h1m21 0h1m44 0h3m2 0h3m3 0h5m4 0h5m8 0h2m1 0h1m2 0h2m-640 1h2m2 0h2m1 0h2m1 0h1m2 0h2m2 0h7m5 0h2m131 0h2m66 0h3m11 0h1m104 0h1m2 0h2m2 0h2m1 0h2m71 0h1m3 0h1m1 0h3m17 0h1m11 0h1m4 0h2m41 0h2m1 0h2m6 0h1m2 0h1m9 0h2m29 0h1m27 0h1m2 0h2m2 0h2m1 0h1m1 0h1m1 0h2m1 0h3m1 0h2m2 0h4m9 0h1m-641 1h3m3 0h1m2 0h4m1 0h3m3 0h3m6 0h3m129 0h1m8 0h2m1 0h1m71 0h1m99 0h1m12 0h4m1 0h2m15 0h1m53 0h1m6 0h1m28 0h4m21 0h1m1 0h1m7 0h1m1 0h1m19 0h1m4 0h1m2 0h2m6 0h2m9 0h1m41 0h3m1 0h2m1 0h5m1 0h2m1 0h6m2 0h3m1 0h10m2 0h1m-636 1h5m4 0h1m2 0h5m2 0h3m6 0h3m139 0h1m182 0h1m4 0h1m1 0h1m1 0h1m50 0h1m19 0h3m8 0h1m9 0h4m7 0h1m5 0h2m17 0h2m1 0h2m10 0h2m15 0h3m1 0h1m1 0h2m7 0h2m4 0h1m3 0h1m36 0h1m10 0h1m4 0h10m2 0h5m1 0h5m2 0h1m2 0h4m-632 1h4m7 0h7m1 0h1m1 0h1m2 0h2m3 0h1m28 0h1m199 0h1m36 0h1m55 0h2m2 0h1m2 0h1m51 0h1m6 0h1m17 0h1m5 0h4m6 0h1m6 0h2m10 0h2m18 0h2m1 0h2m5 0h2m20 0h1m3 0h3m2 0h3m1 0h4m4 0h2m2 0h3m37 0h1m10 0h1m3 0h21m1 0h2m3 0h3m-631 1h3m5 0h7m2 0h3m2 0h2m139 0h1m7 0h1m1 0h1m70 0h1m6 0h1m98 0h5m2 0h1m50 0h2m6 0h2m15 0h2m9 0h2m13 0h1m9 0h2m1 0h1m27 0h1m24 0h4m1 0h7m3 0h2m31 0h1m12 0h2m9 0h1m5 0h17m1 0h3m8 0h1m-634 1h11m4 0h2m1 0h2m3 0h1m140 0h1m69 0h1m8 0h3m6 0h1m144 0h1m18 0h2m16 0h2m5 0h2m2 0h1m14 0h1m9 0h1m4 0h2m50 0h3m1 0h2m1 0h3m4 0h4m23 0h1m20 0h1m10 0h3m1 0h15m1 0h1m1 0h4m1 0h1m-627 1h3m2 0h1m2 0h2m4 0h9m1 0h1m1 0h1m134 0h1m8 0h1m69 0h5m2 0h1m46 0h1m52 0h1m3 0h1m44 0h1m3 0h1m10 0h1m4 0h1m8 0h1m22 0h1m10 0h2m7 0h4m1 0h2m5 0h1m7 0h1m36 0h1m1 0h10m6 0h1m2 0h1m45 0h2m5 0h1m1 0h17m1 0h3m1 0h2m3 0h1m-629 1h1m2 0h1m1 0h2m1 0h4m3 0h8m1 0h1m157 0h1m53 0h1m3 0h6m109 0h2m43 0h1m6 0h1m8 0h1m7 0h2m45 0h1m1 0h2m5 0h1m8 0h1m31 0h1m3 0h1m1 0h11m6 0h1m40 0h2m10 0h3m2 0h14m1 0h4m1 0h1m-621 1h9m1 0h5m1 0h6m212 0h1m2 0h8m14 0h2m7 0h1m31 0h1m50 0h1m42 0h2m2 0h1m24 0h1m26 0h3m3 0h1m10 0h2m2 0h2m6 0h1m44 0h12m11 0h1m19 0h1m15 0h1m15 0h22m1 0h2m5 0h1m-630 1h1m4 0h18m56 0h1m158 0h7m149 0h2m2 0h1m12 0h2m10 0h2m24 0h2m1 0h1m2 0h1m3 0h1m6 0h3m8 0h3m3 0h1m4 0h1m33 0h1m4 0h6m4 0h1m45 0h1m15 0h21m2 0h3m5 0h1m-628 1h5m2 0h5m1 0h6m158 0h1m58 0h6m2 0h3m1 0h1m5 0h1m54 0h1m16 0h1m40 0h1m48 0h1m27 0h1m4 0h1m5 0h2m6 0h2m7 0h1m2 0h3m8 0h1m13 0h1m17 0h2m3 0h2m1 0h1m2 0h2m50 0h1m7 0h2m5 0h21m2 0h1m1 0h1m-626 1h7m1 0h1m1 0h8m1 0h4m28 0h2m32 0h1m150 0h7m1 0h2m1 0h3m4 0h2m2 0h2m67 0h2m1 0h1m16 0h2m26 0h4m41 0h1m33 0h1m39 0h2m26 0h2m3 0h4m1 0h3m12 0h1m1 0h2m13 0h1m21 0h1m17 0h17m3 0h1m1 0h2m6 0h1m-635 1h8m2 0h8m1 0h4m9 0h1m18 0h1m175 0h2m7 0h1m1 0h1m1 0h3m15 0h2m25 0h1m61 0h1m25 0h2m3 0h1m19 0h1m4 0h1m8 0h2m70 0h2m4 0h1m36 0h2m1 0h1m1 0h3m12 0h1m39 0h2m3 0h3m6 0h1m1 0h16m1 0h5m2 0h1m-627 1h8m2 0h3m1 0h2m2 0h5m7 0h2m18 0h1m184 0h1m1 0h3m137 0h1m19 0h1m3 0h2m7 0h2m29 0h3m22 0h2m14 0h2m2 0h4m1 0h1m3 0h1m14 0h1m14 0h2m4 0h1m4 0h1m3 0h4m25 0h2m12 0h2m1 0h2m4 0h1m1 0h1m4 0h20m2 0h2m-624 1h10m1 0h3m1 0h2m1 0h6m7 0h1m204 0h5m1 0h2m20 0h2m108 0h1m2 0h1m24 0h1m7 0h4m13 0h1m14 0h1m41 0h1m1 0h1m1 0h2m6 0h1m29 0h3m3 0h2m6 0h1m1 0h1m28 0h1m12 0h1m1 0h1m13 0h1m2 0h18m1 0h3m9 0h2m1 0h1m-639 1h3m1 0h3m1 0h7m1 0h10m211 0h2m2 0h4m37 0h1m35 0h2m3 0h1m6 0h1m44 0h2m34 0h3m38 0h2m33 0h6m12 0h2m9 0h1m15 0h1m1 0h1m3 0h1m10 0h1m35 0h1m12 0h2m2 0h1m1 0h21m6 0h1m3 0h2m-636 1h6m1 0h6m1 0h11m27 0h2m182 0h2m1 0h5m127 0h2m1 0h3m46 0h1m26 0h1m32 0h1m2 0h1m2 0h4m11 0h2m11 0h1m1 0h1m12 0h3m2 0h1m9 0h2m21 0h1m13 0h1m13 0h1m4 0h7m1 0h13m-625 1h28m21 0h1m127 0h1m60 0h8m2 0h2m91 0h1m31 0h1m2 0h1m60 0h1m13 0h1m35 0h1m1 0h3m1 0h3m23 0h2m10 0h3m4 0h5m27 0h2m12 0h2m3 0h1m6 0h1m8 0h6m1 0h8m2 0h3m5 0h1m-628 1h2m1 0h13m1 0h8m148 0h2m59 0h9m2 0h2m81 0h2m2 0h1m5 0h1m33 0h1m2 0h2m1 0h1m55 0h2m19 0h1m28 0h1m5 0h3m10 0h2m1 0h2m5 0h4m13 0h1m2 0h2m3 0h2m10 0h2m9 0h2m5 0h1m2 0h2m30 0h6m2 0h7m13 0h3m-636 1h4m2 0h3m1 0h16m27 0h1m121 0h1m2 0h1m56 0h1m3 0h6m98 0h1m29 0h4m23 0h1m33 0h1m22 0h1m36 0h2m10 0h2m1 0h1m5 0h6m8 0h1m5 0h1m5 0h1m7 0h1m4 0h1m7 0h4m3 0h2m2 0h2m30 0h2m1 0h4m1 0h7m10 0h1m2 0h1m-633 1h3m1 0h5m1 0h3m3 0h8m1 0h1m25 0h1m126 0h1m58 0h2m8 0h1m37 0h1m32 0h2m104 0h1m54 0h2m4 0h2m2 0h1m2 0h2m12 0h1m1 0h1m2 0h2m6 0h2m6 0h1m5 0h2m14 0h1m21 0h2m30 0h2m2 0h1m1 0h2m1 0h1m1 0h3m1 0h3m-619 1h1m1 0h4m1 0h2m6 0h2m1 0h4m1 0h2m209 0h3m4 0h3m1 0h3m69 0h2m4 0h2m14 0h2m34 0h1m95 0h1m11 0h1m1 0h1m1 0h1m5 0h1m10 0h3m1 0h2m1 0h1m6 0h1m6 0h4m2 0h4m12 0h1m1 0h1m1 0h2m2 0h3m10 0h1m3 0h1m29 0h1m5 0h3m1 0h2m3 0h1m12 0h1m-627 1h2m2 0h1m3 0h1m3 0h1m1 0h7m2 0h1m139 0h1m4 0h1m61 0h2m2 0h5m2 0h4m74 0h1m16 0h1m4 0h1m50 0h2m57 0h2m14 0h2m9 0h2m3 0h1m14 0h1m2 0h5m3 0h1m2 0h1m1 0h1m4 0h2m1 0h2m5 0h2m14 0h1m1 0h2m34 0h1m11 0h2m2 0h2m2 0h6m16 0h2m-624 1h1m4 0h1m6 0h6m1 0h5m136 0h2m3 0h3m59 0h3m2 0h4m3 0h3m60 0h1m34 0h1m61 0h1m47 0h1m17 0h1m3 0h1m28 0h8m4 0h4m4 0h4m6 0h1m2 0h1m10 0h1m54 0h1m1 0h8m9 0h1m6 0h1m-626 1h1m1 0h1m13 0h4m1 0h3m2 0h1m138 0h1m14 0h1m46 0h1m1 0h3m5 0h2m41 0h2m47 0h1m3 0h1m49 0h1m43 0h1m21 0h1m25 0h1m7 0h1m14 0h1m2 0h6m6 0h3m1 0h1m2 0h3m1 0h2m2 0h1m1 0h1m2 0h3m1 0h2m60 0h1m2 0h4m19 0h1m-620 1h1m10 0h1m8 0h1m18 0h1m118 0h1m4 0h1m6 0h2m1 0h2m46 0h1m1 0h1m7 0h1m75 0h1m68 0h1m23 0h1m12 0h1m7 0h1m18 0h1m2 0h1m29 0h1m23 0h3m2 0h1m12 0h1m2 0h1m3 0h2m1 0h1m4 0h1m18 0h1m40 0h1m4 0h1m22 0h2m3 0h1m-624 1h1m4 0h2m14 0h1m10 0h1m125 0h1m64 0h1m1 0h1m4 0h2m168 0h2m26 0h1m11 0h2m3 0h1m46 0h1m2 0h1m1 0h2m1 0h2m16 0h1m3 0h3m60 0h2m4 0h2m2 0h3m20 0h1m3 0h1m-625 1h1m1 0h1m9 0h1m2 0h2m6 0h1m10 0h1m292 0h1m25 0h1m14 0h1m34 0h1m9 0h1m25 0h1m2 0h2m52 0h2m3 0h3m16 0h4m1 0h1m61 0h1m5 0h2m4 0h1m-597 1h3m2 0h2m3 0h1m118 0h2m138 0h3m2 0h1m69 0h1m50 0h1m8 0h1m9 0h1m7 0h1m20 0h1m23 0h1m7 0h1m17 0h2m4 0h1m1 0h1m14 0h3m1 0h3m76 0h1m16 0h1m4 0h2m-619 1h3m12 0h1m19 0h1m37 0h1m50 0h3m94 0h5m43 0h1m126 0h1m12 0h2m7 0h1m2 0h1m17 0h2m7 0h1m5 0h1m2 0h3m29 0h2m4 0h1m2 0h1m17 0h1m11 0h1m62 0h1m26 0h1m-616 1h1m5 0h2m4 0h1m57 0h1m51 0h3m93 0h1m2 0h1m138 0h2m30 0h2m13 0h1m32 0h2m14 0h1m28 0h2m4 0h2m29 0h1m3 0h1m61 0h5m22 0h1m-615 1h3m2 0h1m3 0h2m4 0h1m105 0h4m92 0h1m51 0h2m3 0h1m22 0h1m54 0h1m7 0h1m8 0h1m1 0h2m15 0h2m8 0h1m2 0h1m4 0h1m2 0h2m48 0h2m26 0h1m2 0h1m2 0h1m13 0h1m5 0h1m7 0h1m65 0h5m-592 1h2m13 0h1m2 0h2m97 0h2m1 0h3m95 0h1m1 0h1m48 0h1m52 0h1m27 0h1m1 0h2m6 0h1m11 0h1m15 0h1m9 0h2m1 0h1m4 0h1m2 0h1m1 0h2m39 0h1m24 0h2m8 0h1m4 0h2m13 0h1m6 0h3m18 0h1m49 0h4m1 0h2m-592 1h2m4 0h1m4 0h2m103 0h2m3 0h2m92 0h1m48 0h1m57 0h1m5 0h1m12 0h1m2 0h2m2 0h2m2 0h1m4 0h1m2 0h1m38 0h1m12 0h1m6 0h1m10 0h1m21 0h1m10 0h1m8 0h1m14 0h1m18 0h2m7 0h2m18 0h2m33 0h1m10 0h1m3 0h4m1 0h1m5 0h1m-615 1h1m7 0h3m7 0h2m4 0h2m2 0h2m2 0h2m104 0h1m1 0h1m107 0h1m83 0h2m25 0h1m13 0h4m1 0h2m1 0h1m42 0h2m2 0h4m15 0h1m2 0h1m4 0h5m10 0h1m19 0h2m44 0h1m62 0h1m3 0h6m-601 1h1m12 0h2m6 0h1m4 0h1m5 0h1m13 0h2m75 0h1m3 0h2m58 0h2m56 0h3m110 0h1m7 0h3m4 0h1m1 0h1m41 0h9m20 0h1m4 0h1m30 0h2m1 0h1m1 0h1m4 0h3m33 0h1m23 0h1m39 0h2m2 0h1m1 0h3m-582 1h3m1 0h1m8 0h1m14 0h2m73 0h1m4 0h3m3 0h1m38 0h1m89 0h1m97 0h1m3 0h6m3 0h1m32 0h2m4 0h1m4 0h6m1 0h2m2 0h1m17 0h1m3 0h2m24 0h1m7 0h3m5 0h2m21 0h1m11 0h1m25 0h1m14 0h2m4 0h1m15 0h4m2 0h1m2 0h4m9 0h1m-616 1h1m18 0h1m6 0h1m105 0h1m52 0h1m137 0h2m38 0h2m2 0h6m36 0h4m1 0h2m3 0h7m5 0h1m9 0h1m8 0h2m1 0h2m24 0h4m1 0h7m4 0h1m10 0h1m10 0h2m28 0h2m43 0h2m7 0h5m-593 1h1m17 0h1m97 0h2m53 0h2m41 0h1m1 0h1m128 0h1m8 0h1m3 0h2m8 0h1m30 0h2m4 0h7m2 0h1m2 0h1m6 0h1m4 0h2m6 0h1m18 0h4m8 0h1m1 0h1m1 0h1m2 0h3m52 0h1m32 0h1m9 0h1m2 0h1m7 0h1m2 0h6m9 0h2m1 0h1m-612 1h1m5 0h1m15 0h1m1 0h1m95 0h1m1 0h1m55 0h1m73 0h1m47 0h1m10 0h4m3 0h2m31 0h1m7 0h2m10 0h1m37 0h3m1 0h5m2 0h2m1 0h1m38 0h1m1 0h1m10 0h1m1 0h1m2 0h3m1 0h1m52 0h1m10 0h1m19 0h1m10 0h1m1 0h2m1 0h2m4 0h1m3 0h5m12 0h2m-619 1h1m21 0h1m1 0h1m1 0h1m1 0h2m5 0h2m137 0h1m5 0h1m4 0h2m133 0h3m1 0h3m10 0h1m23 0h1m15 0h1m9 0h1m26 0h3m3 0h1m7 0h2m3 0h1m29 0h1m3 0h1m11 0h2m3 0h1m1 0h2m2 0h2m13 0h1m8 0h1m72 0h1m8 0h3m2 0h2m11 0h3m-597 1h1m1 0h2m5 0h1m3 0h1m1 0h1m144 0h1m4 0h1m57 0h1m11 0h1m65 0h1m4 0h1m46 0h1m2 0h1m8 0h3m14 0h4m4 0h2m6 0h6m3 0h1m5 0h1m19 0h2m7 0h4m1 0h1m12 0h1m6 0h2m2 0h2m71 0h1m31 0h5m-594 1h1m12 0h4m5 0h2m2 0h2m12 0h2m76 0h3m3 0h2m35 0h2m5 0h1m79 0h1m94 0h1m12 0h1m5 0h1m3 0h1m9 0h1m1 0h2m12 0h1m4 0h3m9 0h1m1 0h3m2 0h3m2 0h1m24 0h1m4 0h1m4 0h1m18 0h1m1 0h5m26 0h2m5 0h1m2 0h1m21 0h1m55 0h1m17 0h1m-620 1h5m16 0h2m2 0h4m2 0h1m14 0h2m2 0h1m71 0h1m253 0h1m4 0h2m31 0h5m3 0h3m1 0h1m29 0h3m21 0h3m1 0h1m4 0h1m23 0h1m9 0h1m20 0h3m2 0h1m26 0h1m5 0h1m27 0h2m3 0h2m2 0h2m-622 1h2m2 0h2m14 0h5m4 0h1m3 0h1m14 0h1m73 0h2m48 0h2m1 0h1m206 0h1m5 0h1m9 0h1m18 0h2m1 0h1m3 0h1m2 0h1m11 0h1m15 0h1m23 0h1m3 0h2m3 0h3m7 0h2m16 0h1m17 0h1m15 0h1m37 0h2m24 0h2m1 0h2m1 0h2m-622 1h1m20 0h4m99 0h2m1 0h1m44 0h1m2 0h3m77 0h2m102 0h2m25 0h1m1 0h1m3 0h4m31 0h1m11 0h1m38 0h1m5 0h4m2 0h3m5 0h2m15 0h2m4 0h2m2 0h1m6 0h2m45 0h1m32 0h5m3 0h3m-602 1h2m2 0h3m4 0h1m90 0h2m2 0h1m46 0h2m2 0h1m60 0h1m13 0h1m110 0h1m18 0h2m7 0h2m23 0h1m9 0h1m50 0h1m5 0h2m3 0h1m3 0h1m24 0h2m2 0h1m74 0h1m9 0h7m1 0h5m2 0h2m-621 1h1m17 0h2m3 0h2m1 0h1m96 0h2m20 0h1m28 0h2m70 0h2m69 0h1m63 0h1m29 0h1m3 0h1m10 0h1m64 0h1m22 0h4m1 0h1m32 0h1m40 0h2m9 0h8m8 0h1m-628 1h1m24 0h1m4 0h4m92 0h1m3 0h3m18 0h2m24 0h1m71 0h1m32 0h1m33 0h1m56 0h1m9 0h1m36 0h1m62 0h1m5 0h1m34 0h1m34 0h1m40 0h1m11 0h2m3 0h2m6 0h1m-623 1h1m21 0h1m4 0h6m92 0h3m22 0h2m22 0h2m136 0h2m64 0h1m82 0h1m4 0h1m1 0h1m11 0h2m2 0h1m1 0h3m2 0h1m29 0h1m29 0h2m59 0h1m1 0h5m5 0h1m-621 1h1m2 0h1m8 0h1m10 0h5m93 0h1m14 0h1m129 0h1m29 0h1m37 0h2m36 0h1m18 0h1m37 0h1m1 0h1m36 0h1m2 0h2m4 0h1m9 0h2m3 0h1m7 0h2m4 0h1m39 0h2m2 0h1m3 0h1m16 0h1m38 0h1m-608 1h1m3 0h1m15 0h4m5 0h2m21 0h1m67 0h3m125 0h2m22 0h1m51 0h1m26 0h1m12 0h2m8 0h1m13 0h1m12 0h1m5 0h2m2 0h2m15 0h2m35 0h1m3 0h1m2 0h1m11 0h6m26 0h1m27 0h1m2 0h1m13 0h1m43 0h2m10 0h2m-626 1h2m8 0h3m6 0h1m8 0h4m4 0h2m88 0h2m22 0h2m92 0h1m34 0h2m50 0h1m1 0h1m33 0h1m4 0h1m8 0h1m15 0h2m9 0h1m5 0h1m2 0h3m1 0h2m3 0h1m30 0h1m17 0h1m1 0h3m13 0h4m3 0h1m20 0h3m43 0h1m34 0h3m7 0h2m11 0h1m-626 1h1m18 0h1m6 0h4m47 0h1m6 0h1m40 0h1m22 0h2m1 0h1m164 0h1m11 0h2m2 0h2m44 0h1m35 0h1m2 0h1m7 0h3m45 0h1m4 0h1m13 0h2m14 0h1m4 0h2m7 0h2m24 0h1m1 0h1m16 0h1m5 0h1m16 0h1m31 0h3m-618 1h1m17 0h2m2 0h1m6 0h1m40 0h2m3 0h3m61 0h1m1 0h2m1 0h1m151 0h1m12 0h1m10 0h2m3 0h3m15 0h2m15 0h2m38 0h1m4 0h1m6 0h1m1 0h1m2 0h1m9 0h2m2 0h1m34 0h1m4 0h1m4 0h1m8 0h3m50 0h2m1 0h1m29 0h2m6 0h1m31 0h1m3 0h3m-600 1h2m2 0h1m47 0h3m1 0h4m65 0h1m2 0h1m173 0h3m1 0h3m17 0h1m52 0h1m6 0h2m7 0h3m29 0h2m5 0h2m17 0h1m8 0h1m5 0h1m6 0h1m25 0h1m18 0h2m2 0h2m15 0h3m8 0h2m7 0h1m40 0h1m-619 1h2m12 0h3m52 0h8m48 0h4m12 0h1m2 0h2m125 0h1m46 0h1m1 0h3m30 0h1m1 0h2m10 0h1m19 0h1m6 0h1m4 0h5m9 0h1m29 0h2m5 0h2m15 0h2m9 0h1m38 0h1m10 0h2m3 0h1m2 0h1m2 0h3m5 0h1m3 0h2m4 0h2m47 0h1m5 0h1m4 0h2m-620 1h3m3 0h3m4 0h1m1 0h6m14 0h1m34 0h5m2 0h2m49 0h1m17 0h1m124 0h2m47 0h5m6 0h1m1 0h2m18 0h4m36 0h3m7 0h1m39 0h3m5 0h3m34 0h1m1 0h1m14 0h1m15 0h3m10 0h1m5 0h1m11 0h1m7 0h2m45 0h1m7 0h2m-610 1h1m5 0h5m1 0h1m46 0h1m3 0h1m1 0h1m1 0h1m2 0h4m1 0h1m148 0h1m23 0h2m15 0h1m44 0h8m2 0h1m27 0h1m78 0h1m9 0h1m6 0h3m21 0h1m5 0h1m5 0h1m4 0h1m2 0h1m26 0h1m11 0h2m17 0h1m7 0h1m27 0h1m-589 1h1m11 0h2m1 0h2m1 0h2m4 0h1m40 0h1m3 0h5m3 0h2m237 0h1m1 0h1m1 0h2m1 0h1m2 0h1m23 0h1m16 0h1m17 0h1m3 0h1m3 0h1m8 0h2m36 0h4m1 0h3m3 0h1m1 0h2m19 0h2m4 0h1m12 0h1m3 0h1m6 0h1m3 0h1m7 0h1m10 0h1m2 0h1m2 0h2m17 0h3m22 0h1m9 0h1m21 0h1m4 0h2m4 0h1m-622 1h1m15 0h2m52 0h2m1 0h5m219 0h1m9 0h1m8 0h1m2 0h6m28 0h1m21 0h1m65 0h4m10 0h1m12 0h2m5 0h1m29 0h1m24 0h3m2 0h2m1 0h2m4 0h1m1 0h1m8 0h1m22 0h3m6 0h3m19 0h2m4 0h2m8 0h1m-619 1h2m7 0h6m48 0h2m1 0h4m192 0h1m7 0h1m35 0h1m1 0h1m3 0h2m1 0h6m23 0h1m4 0h2m57 0h1m21 0h1m7 0h2m2 0h2m18 0h1m5 0h1m7 0h2m14 0h3m6 0h3m19 0h1m4 0h3m4 0h2m2 0h1m8 0h1m20 0h1m10 0h1m17 0h3m2 0h2m13 0h1m-631 1h1m17 0h2m1 0h3m2 0h2m7 0h1m37 0h1m3 0h6m191 0h1m7 0h1m32 0h1m4 0h1m6 0h1m1 0h1m25 0h1m5 0h2m28 0h1m50 0h1m7 0h2m2 0h2m23 0h1m8 0h1m24 0h4m14 0h2m2 0h1m4 0h1m10 0h1m8 0h1m19 0h4m1 0h1m6 0h1m17 0h1m-592 1h4m3 0h4m44 0h1m2 0h4m214 0h1m27 0h1m5 0h1m1 0h1m23 0h2m32 0h2m21 0h1m12 0h1m20 0h1m2 0h1m1 0h2m25 0h2m2 0h1m30 0h2m35 0h2m29 0h1m10 0h1m34 0h1m-608 1h4m1 0h1m1 0h2m49 0h3m197 0h1m15 0h2m6 0h1m25 0h1m61 0h1m21 0h2m17 0h1m20 0h2m20 0h1m7 0h1m31 0h1m20 0h2m2 0h1m9 0h1m1 0h2m13 0h1m10 0h2m5 0h1m5 0h3m15 0h1m9 0h2m7 0h1m1 0h2m-610 1h4m3 0h2m45 0h3m201 0h1m16 0h1m20 0h1m19 0h1m8 0h1m7 0h2m34 0h4m17 0h2m17 0h1m13 0h1m24 0h1m4 0h1m22 0h1m14 0h1m1 0h2m20 0h4m6 0h1m1 0h4m3 0h2m2 0h1m12 0h1m10 0h6m2 0h2m2 0h1m34 0h1m-634 1h1m22 0h4m4 0h1m14 0h1m32 0h3m118 0h1m80 0h2m37 0h1m28 0h1m7 0h2m15 0h1m14 0h2m42 0h1m15 0h1m1 0h1m7 0h1m39 0h3m7 0h2m6 0h2m23 0h5m6 0h1m5 0h1m9 0h1m16 0h7m1 0h2m2 0h1m-587 1h2m10 0h1m2 0h2m14 0h1m2 0h1m32 0h1m2 0h2m61 0h1m135 0h1m2 0h1m35 0h1m9 0h3m19 0h1m5 0h1m15 0h2m17 0h1m12 0h1m24 0h1m17 0h3m30 0h4m44 0h1m13 0h3m24 0h3m11 0h9m4 0h1m-575 1h1m2 0h1m2 0h2m1 0h3m167 0h1m80 0h2m16 0h1m31 0h1m5 0h1m11 0h1m6 0h1m15 0h1m16 0h1m18 0h2m37 0h2m3 0h1m23 0h1m2 0h1m1 0h2m59 0h3m3 0h1m31 0h1m2 0h7m33 0h1m-612 1h1m7 0h1m4 0h1m2 0h1m2 0h2m4 0h4m159 0h1m148 0h2m1 0h2m22 0h1m24 0h1m77 0h1m1 0h2m21 0h1m36 0h2m11 0h1m3 0h1m4 0h1m4 0h1m11 0h3m1 0h7m8 0h1m9 0h2m6 0h2m3 0h2m-613 1h1m1 0h1m6 0h1m6 0h3m1 0h1m46 0h1m64 0h2m134 0h2m20 0h1m26 0h1m8 0h1m10 0h2m50 0h1m4 0h1m9 0h1m10 0h1m7 0h1m7 0h1m5 0h1m15 0h1m20 0h1m18 0h2m4 0h2m29 0h1m11 0h1m3 0h2m14 0h1m7 0h10m8 0h1m9 0h1m-590 1h1m7 0h4m2 0h1m4 0h2m36 0h1m40 0h1m74 0h1m85 0h3m91 0h1m16 0h1m5 0h3m6 0h1m9 0h2m10 0h2m13 0h1m20 0h1m1 0h1m33 0h1m5 0h1m44 0h1m2 0h4m1 0h1m5 0h1m15 0h8m2 0h1m-571 1h1m5 0h1m2 0h2m2 0h3m2 0h3m1 0h1m144 0h2m97 0h1m108 0h2m3 0h2m3 0h1m67 0h1m2 0h1m3 0h1m18 0h1m14 0h2m23 0h1m16 0h1m23 0h8m2 0h2m4 0h1m-586 1h2m7 0h1m9 0h2m3 0h1m152 0h1m1 0h2m2 0h1m114 0h1m4 0h1m60 0h1m9 0h1m48 0h1m32 0h2m3 0h2m2 0h1m1 0h2m19 0h2m3 0h1m4 0h1m4 0h1m7 0h1m28 0h1m8 0h1m6 0h1m1 0h1m10 0h2m2 0h2m3 0h4m3 0h3m19 0h1m-597 1h1m7 0h2m3 0h4m41 0h1m106 0h1m1 0h2m128 0h1m25 0h1m4 0h3m21 0h3m1 0h1m5 0h2m11 0h1m1 0h1m14 0h2m17 0h4m7 0h1m8 0h2m14 0h1m3 0h2m24 0h5m1 0h2m2 0h2m37 0h1m2 0h3m5 0h1m20 0h1m3 0h3m2 0h2m5 0h1m21 0h3m-599 1h1m1 0h5m2 0h1m4 0h5m60 0h1m83 0h1m148 0h1m14 0h4m20 0h1m1 0h1m2 0h1m18 0h1m17 0h1m17 0h3m18 0h1m15 0h1m1 0h3m9 0h2m20 0h1m2 0h2m1 0h1m32 0h1m2 0h1m10 0h1m2 0h1m9 0h1m7 0h1m3 0h3m3 0h1m18 0h1m11 0h1m-612 1h1m4 0h1m3 0h2m1 0h1m2 0h4m2 0h1m5 0h5m39 0h1m19 0h2m81 0h2m7 0h1m124 0h1m9 0h2m16 0h1m4 0h1m27 0h1m52 0h1m13 0h1m25 0h4m1 0h3m1 0h1m9 0h1m1 0h1m11 0h3m2 0h4m4 0h1m17 0h1m8 0h4m6 0h2m2 0h2m11 0h1m8 0h7m-572 1h1m1 0h2m3 0h1m2 0h2m1 0h4m1 0h1m3 0h4m143 0h1m7 0h1m1 0h3m78 0h1m1 0h1m7 0h1m41 0h1m2 0h1m16 0h1m21 0h1m8 0h1m4 0h1m35 0h1m2 0h1m22 0h1m3 0h2m17 0h4m1 0h2m1 0h5m8 0h1m15 0h2m1 0h5m1 0h1m2 0h1m14 0h3m1 0h2m3 0h1m3 0h3m1 0h4m6 0h2m11 0h5m3 0h1m3 0h3m32 0h1m-608 1h1m2 0h1m1 0h4m1 0h2m1 0h2m2 0h4m3 0h1m30 0h1m4 0h2m118 0h1m125 0h1m11 0h1m38 0h1m26 0h1m4 0h1m40 0h1m2 0h2m3 0h1m13 0h1m1 0h2m2 0h5m2 0h2m2 0h1m7 0h1m15 0h10m12 0h1m5 0h2m5 0h2m8 0h1m1 0h2m18 0h1m11 0h1m7 0h4m6 0h1m16 0h1m-608 1h1m3 0h5m1 0h1m2 0h8m1 0h4m280 0h2m9 0h2m35 0h1m3 0h1m30 0h2m4 0h2m32 0h2m3 0h1m23 0h9m9 0h1m18 0h7m1 0h2m14 0h1m9 0h1m8 0h1m7 0h3m17 0h4m1 0h2m3 0h1m4 0h1m1 0h1m-579 1h1m1 0h1m2 0h4m1 0h8m1 0h2m2 0h3m28 0h1m244 0h2m21 0h2m1 0h1m25 0h1m5 0h1m66 0h3m2 0h1m1 0h1m1 0h3m1 0h1m13 0h6m1 0h4m27 0h2m4 0h2m1 0h1m1 0h2m3 0h1m15 0h1m3 0h1m5 0h1m4 0h4m1 0h5m13 0h1m16 0h1m11 0h1m-589 1h4m2 0h6m2 0h4m1 0h7m85 0h2m182 0h1m11 0h1m13 0h1m3 0h2m6 0h2m11 0h2m8 0h1m21 0h1m6 0h2m36 0h1m10 0h1m2 0h1m13 0h5m2 0h2m17 0h1m7 0h1m9 0h3m4 0h2m7 0h2m17 0h3m2 0h2m1 0h7m13 0h2m31 0h1m7 0h1m-603 1h1m1 0h5m1 0h7m2 0h6m1 0h5m35 0h1m99 0h2m108 0h1m23 0h1m11 0h2m3 0h2m4 0h1m5 0h3m48 0h1m61 0h2m11 0h1m3 0h2m2 0h2m10 0h3m3 0h2m18 0h4m11 0h1m6 0h1m20 0h2m1 0h1m1 0h3m14 0h1m23 0h2m6 0h2m4 0h1m-601 1h16m1 0h1m1 0h2m1 0h5m119 0h1m15 0h2m132 0h1m16 0h2m10 0h4m2 0h4m2 0h1m37 0h2m5 0h2m2 0h1m43 0h1m10 0h1m8 0h3m1 0h3m1 0h3m12 0h2m22 0h2m1 0h1m36 0h1m4 0h1m4 0h2m10 0h1m2 0h2m20 0h3m8 0h1m-597 1h6m1 0h12m1 0h9m134 0h1m159 0h1m2 0h7m43 0h2m5 0h1m3 0h2m22 0h1m12 0h1m17 0h2m1 0h1m4 0h1m3 0h2m1 0h1m1 0h5m8 0h1m8 0h1m2 0h1m2 0h1m13 0h1m2 0h1m31 0h1m1 0h1m1 0h1m3 0h1m3 0h2m12 0h3m20 0h1m-583 1h2m2 0h7m1 0h14m81 0h2m2 0h2m149 0h1m40 0h1m3 0h1m12 0h2m1 0h6m39 0h1m39 0h2m15 0h1m14 0h2m9 0h2m1 0h7m6 0h2m9 0h3m1 0h2m2 0h1m13 0h1m32 0h1m2 0h2m1 0h3m1 0h1m1 0h2m6 0h1m9 0h3m24 0h1m-587 1h1m1 0h7m1 0h5m1 0h6m3 0h3m2 0h2m70 0h4m2 0h1m32 0h2m13 0h1m1 0h1m104 0h1m36 0h1m2 0h1m14 0h2m1 0h6m58 0h3m5 0h1m25 0h3m4 0h1m15 0h1m1 0h2m5 0h1m2 0h1m44 0h1m32 0h6m20 0h2m25 0h2m-586 1h8m1 0h5m1 0h6m3 0h3m2 0h2m70 0h1m1 0h5m48 0h2m50 0h1m93 0h1m15 0h1m2 0h5m59 0h2m4 0h2m25 0h3m23 0h1m1 0h2m2 0h1m5 0h2m2 0h2m39 0h1m27 0h6m1 0h1m1 0h1m15 0h1m-555 1h20m4 0h2m3 0h1m67 0h2m2 0h5m50 0h1m13 0h1m60 0h1m84 0h2m2 0h6m49 0h1m17 0h1m22 0h6m25 0h1m7 0h6m6 0h1m29 0h1m20 0h2m6 0h2m1 0h2m2 0h4m1 0h2m13 0h1m29 0h1m-584 1h22m80 0h4m50 0h1m14 0h2m58 0h1m72 0h1m12 0h4m2 0h1m2 0h2m5 0h2m53 0h3m25 0h6m2 0h1m1 0h1m17 0h2m11 0h2m5 0h1m10 0h3m27 0h1m12 0h2m9 0h1m1 0h2m1 0h1m3 0h4m5 0h1m-548 1h8m1 0h13m5 0h1m21 0h3m48 0h2m1 0h1m66 0h1m82 0h1m63 0h1m1 0h1m5 0h1m7 0h2m37 0h1m9 0h1m36 0h1m3 0h2m10 0h1m13 0h4m22 0h1m29 0h1m3 0h3m13 0h1m4 0h1m3 0h4m-537 1h7m1 0h4m1 0h1m1 0h2m6 0h1m22 0h1m2 0h2m47 0h4m65 0h3m128 0h1m1 0h2m1 0h1m14 0h1m2 0h2m5 0h1m3 0h1m1 0h1m37 0h1m7 0h1m25 0h1m15 0h1m27 0h2m58 0h1m2 0h1m9 0h2m8 0h3m16 0h1m25 0h2m1 0h1m-581 1h11m3 0h2m3 0h1m23 0h1m4 0h3m45 0h1m1 0h2m41 0h2m21 0h3m9 0h1m117 0h1m2 0h4m1 0h1m7 0h3m2 0h3m2 0h2m10 0h2m61 0h2m5 0h1m13 0h2m52 0h1m10 0h1m22 0h1m4 0h1m2 0h1m1 0h1m6 0h3m8 0h2m17 0h1m24 0h2m-577 1h7m5 0h2m1 0h5m3 0h1m1 0h1m21 0h1m115 0h1m3 0h3m2 0h2m2 0h1m66 0h1m52 0h4m1 0h1m7 0h2m4 0h2m4 0h1m51 0h1m3 0h1m23 0h1m15 0h2m15 0h1m33 0h1m34 0h1m4 0h6m36 0h2m23 0h2m-575 1h7m3 0h2m1 0h6m2 0h1m1 0h2m13 0h1m53 0h1m43 0h3m26 0h7m28 0h1m3 0h2m84 0h3m2 0h3m16 0h1m4 0h1m41 0h2m11 0h3m1 0h2m19 0h3m32 0h3m19 0h1m7 0h1m6 0h2m12 0h1m14 0h1m3 0h5m1 0h1m2 0h4m-516 1h11m6 0h7m72 0h1m38 0h4m1 0h1m23 0h3m1 0h1m1 0h1m32 0h3m70 0h1m11 0h5m1 0h6m4 0h2m1 0h3m8 0h1m10 0h2m4 0h2m25 0h1m10 0h6m17 0h5m33 0h2m17 0h1m9 0h1m2 0h2m8 0h1m17 0h1m4 0h2m3 0h2m1 0h3m2 0h1m43 0h1m-556 1h10m4 0h5m2 0h2m2 0h1m69 0h1m28 0h3m1 0h1m3 0h2m4 0h3m20 0h4m2 0h1m35 0h2m83 0h8m5 0h1m2 0h1m1 0h1m21 0h1m1 0h1m3 0h2m2 0h1m3 0h1m8 0h1m16 0h1m1 0h7m9 0h1m9 0h3m64 0h1m2 0h1m12 0h1m4 0h2m24 0h1m61 0h2m-573 1h3m3 0h2m1 0h1m4 0h2m1 0h6m1 0h1m98 0h3m5 0h5m24 0h1m1 0h6m107 0h2m10 0h8m10 0h2m27 0h1m33 0h2m2 0h1m1 0h2m72 0h1m1 0h1m8 0h1m2 0h1m1 0h3m7 0h1m3 0h2m2 0h2m19 0h3m2 0h3m25 0h2m9 0h1m3 0h1m10 0h1m9 0h1m-573 1h4m2 0h1m8 0h1m1 0h1m3 0h1m108 0h1m1 0h4m24 0h8m62 0h2m42 0h1m2 0h2m5 0h7m3 0h2m1 0h2m12 0h2m28 0h2m25 0h1m1 0h3m4 0h1m20 0h2m33 0h1m24 0h2m2 0h1m1 0h2m8 0h2m3 0h1m1 0h2m21 0h3m55 0h1m-562 1h3m2 0h1m8 0h3m4 0h1m63 0h1m44 0h1m28 0h7m1 0h3m31 0h1m26 0h6m39 0h1m3 0h1m7 0h2m1 0h5m2 0h1m1 0h1m12 0h2m19 0h1m8 0h2m27 0h2m4 0h2m17 0h6m8 0h1m20 0h1m2 0h1m20 0h2m7 0h3m14 0h3m18 0h1m1 0h4m-504 1h1m2 0h1m1 0h1m119 0h2m33 0h1m5 0h2m31 0h1m25 0h1m1 0h1m48 0h1m1 0h1m4 0h8m4 0h4m22 0h2m6 0h1m38 0h2m4 0h1m17 0h6m1 0h1m2 0h1m20 0h4m25 0h1m6 0h1m17 0h2m11 0h1m12 0h3m33 0h1m-540 1h3m2 0h1m151 0h4m55 0h1m10 0h1m46 0h1m8 0h2m3 0h5m2 0h3m21 0h1m4 0h2m40 0h1m2 0h1m6 0h1m12 0h9m1 0h1m2 0h2m22 0h1m24 0h1m2 0h1m4 0h1m2 0h2m13 0h1m12 0h1m12 0h1m34 0h1m-539 1h1m4 0h1m39 0h1m31 0h1m78 0h2m1 0h2m2 0h3m20 0h1m40 0h1m36 0h2m22 0h5m1 0h4m55 0h1m4 0h1m5 0h3m9 0h1m12 0h8m2 0h3m16 0h2m5 0h1m15 0h1m8 0h2m1 0h2m4 0h2m1 0h2m10 0h1m15 0h1m37 0h2m8 0h1m-534 1h1m73 0h2m73 0h1m3 0h2m4 0h3m19 0h1m77 0h2m19 0h2m4 0h1m4 0h2m4 0h1m21 0h2m32 0h1m6 0h2m22 0h1m1 0h6m7 0h1m35 0h2m8 0h1m8 0h2m14 0h1m2 0h1m49 0h3m-529 1h3m18 0h2m54 0h2m73 0h2m30 0h2m95 0h2m1 0h1m37 0h1m37 0h1m2 0h1m7 0h1m6 0h1m1 0h1m6 0h2m1 0h5m1 0h2m5 0h2m4 0h1m1 0h1m25 0h2m12 0h1m3 0h2m17 0h1m3 0h1m22 0h1m23 0h1m2 0h1m7 0h2m-533 1h1m54 0h1m12 0h4m4 0h1m71 0h1m45 0h1m47 0h2m26 0h1m5 0h1m5 0h2m8 0h3m21 0h2m40 0h1m16 0h1m6 0h3m1 0h3m3 0h2m1 0h3m6 0h3m14 0h1m46 0h3m1 0h6m47 0h2m-472 1h2m13 0h3m72 0h3m6 0h1m3 0h2m86 0h1m11 0h2m27 0h1m6 0h1m21 0h1m40 0h3m10 0h4m4 0h1m2 0h2m1 0h1m1 0h2m2 0h1m4 0h2m4 0h1m1 0h4m3 0h1m10 0h2m43 0h2m1 0h2m2 0h2m40 0h3m3 0h5m-531 1h1m1 0h2m1 0h2m11 0h1m46 0h2m3 0h1m7 0h1m28 0h2m41 0h1m6 0h3m2 0h3m4 0h1m3 0h2m54 0h1m10 0h1m23 0h1m27 0h1m6 0h1m56 0h3m4 0h2m10 0h2m1 0h2m11 0h3m1 0h3m4 0h3m3 0h3m3 0h2m8 0h1m13 0h1m4 0h1m24 0h3m3 0h1m3 0h2m41 0h1m3 0h6m-531 1h1m2 0h1m6 0h1m54 0h1m3 0h2m1 0h3m31 0h4m47 0h3m3 0h2m33 0h1m47 0h1m17 0h1m27 0h1m4 0h2m5 0h1m43 0h1m7 0h2m2 0h1m9 0h1m4 0h1m15 0h1m2 0h2m1 0h1m6 0h1m4 0h3m2 0h1m23 0h3m22 0h1m2 0h6m1 0h6m1 0h1m9 0h1m11 0h1m17 0h1m8 0h2m-531 1h5m1 0h1m53 0h2m6 0h3m3 0h4m26 0h1m1 0h4m116 0h1m20 0h1m10 0h2m44 0h1m38 0h1m6 0h3m7 0h1m2 0h2m4 0h2m4 0h2m10 0h1m3 0h1m2 0h1m32 0h1m7 0h1m2 0h3m21 0h2m1 0h6m1 0h4m2 0h4m21 0h1m5 0h1m7 0h1m1 0h3m20 0h1m-543 1h5m1 0h1m53 0h1m6 0h1m2 0h2m3 0h7m2 0h2m17 0h2m2 0h4m115 0h3m10 0h2m17 0h1m33 0h1m2 0h1m42 0h1m4 0h1m17 0h4m10 0h2m60 0h1m2 0h1m22 0h1m1 0h2m1 0h3m1 0h4m2 0h3m24 0h1m4 0h1m11 0h1m3 0h1m-527 1h2m1 0h2m2 0h1m52 0h2m2 0h1m1 0h1m3 0h4m1 0h5m1 0h1m3 0h1m16 0h3m57 0h1m2 0h2m72 0h3m9 0h1m1 0h2m40 0h1m2 0h2m42 0h2m8 0h1m3 0h1m4 0h1m13 0h2m2 0h1m2 0h1m8 0h1m16 0h1m36 0h1m22 0h13m17 0h1m6 0h1m17 0h4m7 0h2m3 0h1m-540 1h2m4 0h3m53 0h1m1 0h1m3 0h1m2 0h12m2 0h2m17 0h1m57 0h2m2 0h1m84 0h1m6 0h1m36 0h1m3 0h1m36 0h1m5 0h1m13 0h1m3 0h2m3 0h1m3 0h1m5 0h3m1 0h4m6 0h3m1 0h1m5 0h1m45 0h1m17 0h2m3 0h7m1 0h6m16 0h1m19 0h1m4 0h1m7 0h1m-532 1h1m2 0h1m58 0h3m3 0h13m3 0h2m132 0h1m32 0h1m6 0h1m82 0h2m26 0h1m9 0h1m10 0h2m14 0h1m22 0h1m29 0h1m8 0h1m2 0h12m2 0h1m11 0h3m41 0h1m7 0h1m-488 1h2m4 0h3m2 0h8m2 0h2m136 0h1m26 0h1m5 0h1m23 0h1m62 0h1m10 0h1m13 0h1m37 0h1m4 0h1m9 0h1m43 0h1m1 0h2m1 0h2m2 0h10m1 0h1m15 0h1m39 0h1m10 0h1m-550 1h1m1 0h3m60 0h1m1 0h4m1 0h10m2 0h1m1 0h4m126 0h1m36 0h1m39 0h3m49 0h1m4 0h2m32 0h1m14 0h1m3 0h1m40 0h1m11 0h2m3 0h5m1 0h1m3 0h10m7 0h1m55 0h2m3 0h1m-485 1h4m1 0h12m4 0h1m1 0h1m133 0h1m71 0h1m39 0h1m6 0h1m9 0h2m30 0h1m3 0h1m20 0h2m34 0h1m11 0h2m3 0h1m1 0h5m1 0h15m26 0h1m28 0h1m8 0h1m-543 1h1m58 0h17m4 0h1m135 0h1m22 0h1m33 0h2m1 0h1m50 0h3m5 0h3m40 0h1m20 0h1m3 0h2m8 0h1m36 0h1m7 0h3m1 0h6m2 0h7m27 0h1m-442 1h2m1 0h5m3 0h2m4 0h2m128 0h1m4 0h1m54 0h1m2 0h5m50 0h1m6 0h2m41 0h1m16 0h1m3 0h1m55 0h1m3 0h2m2 0h4m4 0h1m1 0h3m3 0h1m24 0h1m23 0h1m6 0h1m3 0h1m-483 1h2m5 0h1m2 0h5m1 0h3m98 0h1m36 0h1m3 0h1m39 0h1m14 0h1m3 0h3m65 0h2m37 0h1m47 0h1m11 0h1m15 0h3m1 0h6m1 0h6m1 0h1m51 0h1m2 0h3m-499 1h1m2 0h1m20 0h1m2 0h2m1 0h1m3 0h1m1 0h1m1 0h4m97 0h2m40 0h1m56 0h1m2 0h1m12 0h1m40 0h2m27 0h1m14 0h2m55 0h1m20 0h2m1 0h2m3 0h1m1 0h2m1 0h14m49 0h1m2 0h3m5 0h1m-502 1h2m22 0h6m1 0h1m2 0h2m1 0h1m140 0h1m143 0h1m13 0h2m4 0h1m28 0h2m13 0h1m10 0h1m19 0h11m4 0h2m2 0h4m3 0h1m46 0h1m2 0h2m3 0h2m-504 1h1m3 0h1m23 0h5m149 0h1m73 0h1m3 0h3m33 0h2m43 0h1m5 0h1m12 0h1m7 0h1m3 0h1m3 0h2m5 0h1m9 0h1m5 0h2m20 0h9m5 0h1m2 0h1m1 0h3m2 0h1m1 0h2m5 0h1m43 0h3m1 0h2m-504 1h1m3 0h1m23 0h2m2 0h1m3 0h2m1 0h1m98 0h2m47 0h1m72 0h1m1 0h1m33 0h2m48 0h1m6 0h1m14 0h1m17 0h1m12 0h3m19 0h1m1 0h3m3 0h1m5 0h1m2 0h1m2 0h1m5 0h1m5 0h2m17 0h1m25 0h1m1 0h1m1 0h2m-469 1h3m1 0h1m98 0h3m47 0h1m31 0h1m34 0h1m111 0h1m36 0h1m23 0h2m1 0h2m1 0h2m1 0h2m1 0h2m8 0h2m19 0h1m24 0h3m2 0h2m-467 1h1m101 0h3m32 0h1m11 0h1m62 0h1m2 0h2m2 0h1m2 0h2m36 0h2m42 0h1m2 0h1m54 0h2m2 0h5m21 0h2m3 0h5m1 0h3m8 0h2m44 0h2m3 0h1m-460 1h1m116 0h1m24 0h3m31 0h1m31 0h6m2 0h2m37 0h1m20 0h2m20 0h1m2 0h1m4 0h1m21 0h2m25 0h3m2 0h2m1 0h2m19 0h3m2 0h6m2 0h1m2 0h1m7 0h1m19 0h2m24 0h3m-458 1h1m54 0h1m84 0h5m1 0h1m62 0h1m1 0h2m46 0h1m17 0h1m13 0h1m3 0h1m11 0h1m17 0h1m3 0h1m16 0h1m11 0h2m2 0h1m21 0h1m1 0h2m21 0h4m8 0h1m7 0h3m6 0h2m16 0h2m-472 1h1m13 0h2m97 0h1m35 0h1m6 0h2m2 0h1m59 0h4m1 0h2m1 0h1m2 0h1m3 0h2m131 0h2m4 0h1m22 0h1m17 0h1m54 0h1m-474 1h2m15 0h1m98 0h1m36 0h1m5 0h1m63 0h1m2 0h1m1 0h1m1 0h2m2 0h2m2 0h3m138 0h1m29 0h1m8 0h4m50 0h1m-448 1h1m45 0h2m80 0h1m3 0h3m37 0h1m26 0h4m1 0h1m1 0h1m7 0h3m34 0h1m36 0h1m10 0h2m3 0h1m15 0h1m27 0h1m1 0h2m26 0h4m2 0h1m1 0h2m5 0h4m4 0h1m-403 1h2m43 0h1m1 0h3m73 0h1m5 0h1m2 0h3m9 0h1m55 0h1m1 0h6m3 0h1m4 0h1m72 0h2m29 0h1m28 0h3m28 0h3m4 0h2m2 0h3m9 0h2m31 0h2m-393 1h1m2 0h2m79 0h1m9 0h1m52 0h1m10 0h3m1 0h2m2 0h1m10 0h2m65 0h1m3 0h1m26 0h1m30 0h1m26 0h3m4 0h2m4 0h3m9 0h2m31 0h2m-457 1h1m63 0h2m91 0h2m52 0h2m5 0h1m2 0h1m4 0h7m8 0h2m26 0h1m37 0h1m62 0h1m33 0h2m7 0h1m15 0h1m25 0h1m-440 1h1m46 0h1m1 0h4m73 0h1m32 0h2m18 0h1m3 0h1m12 0h3m1 0h1m2 0h8m1 0h5m2 0h1m71 0h2m33 0h3m56 0h1m14 0h1m11 0h1m21 0h1m-434 1h1m2 0h1m41 0h1m3 0h1m75 0h2m31 0h3m37 0h3m1 0h9m5 0h1m1 0h1m8 0h1m60 0h1m2 0h1m33 0h3m5 0h1m9 0h1m40 0h2m46 0h2m-434 1h1m28 0h1m15 0h1m2 0h2m73 0h3m32 0h2m29 0h1m8 0h2m2 0h2m2 0h4m2 0h1m5 0h1m71 0h1m13 0h1m66 0h1m63 0h2m-430 1h2m19 0h2m17 0h2m74 0h1m10 0h1m54 0h1m8 0h2m1 0h3m2 0h5m1 0h3m5 0h1m71 0h1m2 0h4m3 0h1m50 0h1m16 0h2m28 0h1m23 0h1m2 0h2m3 0h2m-433 1h1m46 0h2m42 0h2m39 0h2m61 0h2m1 0h1m3 0h8m1 0h3m2 0h1m5 0h2m45 0h1m1 0h2m13 0h1m6 0h3m5 0h2m67 0h1m16 0h1m1 0h1m1 0h2m6 0h1m6 0h1m16 0h3m2 0h2m-431 1h4m44 0h1m42 0h2m68 0h1m33 0h6m3 0h8m6 0h1m4 0h1m37 0h1m8 0h1m2 0h1m14 0h3m32 0h1m68 0h2m25 0h2m-415 1h1m84 0h3m24 0h2m4 0h2m35 0h1m7 0h1m25 0h2m1 0h4m1 0h5m1 0h2m6 0h5m43 0h1m9 0h2m18 0h2m5 0h2m1 0h2m11 0h3m12 0h1m23 0h1m29 0h2m6 0h1m2 0h1m23 0h1m-422 1h1m1 0h1m2 0h2m84 0h4m29 0h1m9 0h2m11 0h1m20 0h1m1 0h1m16 0h1m6 0h7m4 0h1m2 0h4m1 0h5m1 0h1m3 0h2m39 0h1m29 0h2m2 0h1m4 0h2m14 0h1m36 0h1m28 0h3m-389 1h2m92 0h3m27 0h2m9 0h1m34 0h2m15 0h1m3 0h1m4 0h3m1 0h6m1 0h3m4 0h2m1 0h2m1 0h2m2 0h1m40 0h1m25 0h2m7 0h1m59 0h2m7 0h2m60 0h1m-338 1h1m40 0h1m38 0h1m15 0h2m5 0h2m1 0h6m1 0h3m2 0h1m2 0h2m1 0h2m15 0h2m28 0h1m8 0h2m15 0h2m11 0h1m55 0h2m6 0h4m18 0h1m39 0h2m-428 1h2m88 0h1m24 0h1m5 0h1m9 0h1m25 0h1m3 0h1m8 0h1m1 0h1m12 0h1m6 0h7m2 0h12m2 0h1m49 0h2m2 0h1m11 0h1m5 0h1m66 0h1m1 0h1m8 0h1m3 0h1m57 0h1m-307 1h1m2 0h1m32 0h2m12 0h3m14 0h1m2 0h9m1 0h2m4 0h5m2 0h2m2 0h2m44 0h1m1 0h2m5 0h1m6 0h2m72 0h2m11 0h2m6 0h1m10 0h1m22 0h1m18 0h1m-430 1h1m4 0h1m136 0h1m15 0h2m14 0h1m10 0h2m4 0h2m1 0h5m1 0h1m1 0h3m1 0h1m1 0h8m38 0h2m17 0h1m23 0h2m14 0h1m37 0h1m16 0h1m1 0h1m5 0h1m11 0h1m-390 1h1m5 0h1m114 0h2m20 0h1m15 0h1m26 0h1m6 0h3m5 0h5m5 0h3m1 0h6m31 0h1m2 0h2m6 0h1m6 0h1m2 0h2m23 0h3m2 0h5m7 0h4m8 0h1m23 0h2m16 0h1m19 0h2m34 0h4m-269 1h1m12 0h2m12 0h4m2 0h3m1 0h3m3 0h3m5 0h1m1 0h1m4 0h1m30 0h1m1 0h3m1 0h2m12 0h3m12 0h1m15 0h2m1 0h6m43 0h3m1 0h1m49 0h1m15 0h1m3 0h1m1 0h2m-247 1h1m10 0h4m1 0h2m4 0h2m1 0h2m1 0h5m33 0h6m6 0h1m8 0h4m6 0h2m19 0h7m44 0h1m5 0h1m9 0h2m30 0h1m5 0h1m16 0h1m12 0h1m-372 1h2m65 0h1m5 0h1m48 0h1m8 0h6m3 0h5m1 0h1m1 0h3m32 0h7m24 0h3m6 0h1m7 0h1m4 0h6m4 0h1m40 0h1m21 0h2m1 0h1m15 0h1m1 0h2m3 0h1m22 0h1m4 0h1m7 0h1m-389 1h1m16 0h5m59 0h2m7 0h1m9 0h1m40 0h2m4 0h2m1 0h5m1 0h7m3 0h4m29 0h5m1 0h3m18 0h1m4 0h2m17 0h2m3 0h6m62 0h5m17 0h3m5 0h2m-338 1h3m1 0h1m81 0h1m5 0h1m25 0h1m4 0h1m3 0h1m3 0h1m2 0h11m4 0h1m1 0h2m31 0h2m2 0h3m2 0h1m14 0h2m14 0h1m9 0h1m3 0h2m3 0h1m1 0h2m33 0h1m25 0h2m1 0h1m19 0h1m7 0h1m15 0h1m6 0h1m-361 1h2m1 0h3m72 0h1m4 0h1m32 0h3m3 0h2m2 0h2m3 0h3m1 0h10m4 0h1m1 0h3m28 0h3m3 0h2m3 0h3m39 0h2m1 0h2m67 0h3m5 0h1m-315 1h1m1 0h4m114 0h3m1 0h3m7 0h4m3 0h7m3 0h5m41 0h1m6 0h4m27 0h5m13 0h1m15 0h1m27 0h1m9 0h1m4 0h1m1 0h1m3 0h2m13 0h1m-236 1h2m4 0h1m9 0h1m5 0h2m2 0h2m3 0h1m4 0h4m2 0h9m3 0h1m11 0h2m31 0h1m8 0h4m25 0h2m1 0h1m1 0h5m52 0h2m2 0h1m4 0h2m4 0h1m5 0h2m37 0h1m2 0h2m-363 1h2m1 0h2m93 0h2m22 0h1m6 0h2m2 0h4m2 0h1m1 0h9m27 0h2m4 0h1m1 0h1m16 0h2m4 0h1m32 0h2m24 0h1m26 0h1m4 0h1m1 0h2m27 0h1m5 0h1m20 0h2m-358 1h4m124 0h1m3 0h2m1 0h1m1 0h1m1 0h1m3 0h2m4 0h1m29 0h3m11 0h2m5 0h3m1 0h2m1 0h1m54 0h2m35 0h2m9 0h2m17 0h1m1 0h1m1 0h1m30 0h1m-365 1h1m88 0h1m37 0h2m3 0h2m6 0h1m2 0h1m5 0h3m4 0h1m32 0h1m3 0h1m14 0h1m1 0h2m14 0h1m40 0h1m17 0h1m3 0h1m5 0h1m3 0h1m3 0h2m5 0h1m20 0h1m23 0h1m8 0h1m-305 1h3m25 0h1m33 0h1m10 0h1m5 0h1m1 0h1m1 0h1m45 0h1m12 0h2m3 0h1m55 0h1m21 0h1m16 0h2m12 0h1m2 0h2m10 0h2m35 0h1m-308 1h1m25 0h2m33 0h1m10 0h1m2 0h1m4 0h1m1 0h1m6 0h1m30 0h1m12 0h1m7 0h1m9 0h1m31 0h1m57 0h2m31 0h1m-285 1h1m9 0h1m33 0h1m29 0h2m5 0h3m1 0h1m13 0h2m41 0h2m6 0h2m41 0h1m33 0h2m22 0h2m24 0h3m21 0h2m-256 1h1m21 0h1m5 0h1m4 0h3m8 0h1m61 0h2m39 0h1m31 0h3m32 0h2m12 0h1m1 0h3m22 0h1m-297 1h1m24 0h1m24 0h1m8 0h1m5 0h1m9 0h2m29 0h1m2 0h2m6 0h3m1 0h1m8 0h1m10 0h1m7 0h1m35 0h1m41 0h2m26 0h1m12 0h4m-312 1h1m64 0h1m76 0h1m6 0h1m6 0h3m2 0h1m4 0h1m9 0h2m6 0h1m4 0h2m24 0h1m38 0h2m12 0h1m4 0h1m9 0h1m3 0h1m2 0h1m4 0h1m2 0h1m50 0h1m-349 1h1m42 0h2m3 0h1m35 0h1m1 0h4m51 0h2m5 0h2m5 0h1m9 0h1m6 0h1m2 0h2m16 0h1m15 0h1m4 0h1m37 0h3m8 0h2m2 0h2m3 0h1m6 0h1m5 0h2m10 0h1m20 0h2m19 0h1m-297 1h1m40 0h1m2 0h2m25 0h2m8 0h1m20 0h1m3 0h1m5 0h1m15 0h1m16 0h1m1 0h2m16 0h1m2 0h1m2 0h2m23 0h1m15 0h1m10 0h2m13 0h3m1 0h2m1 0h3m53 0h1m-302 1h1m46 0h1m23 0h2m28 0h2m3 0h1m21 0h1m8 0h2m6 0h1m2 0h1m16 0h2m5 0h1m23 0h1m42 0h2m2 0h3m4 0h3m26 0h1m21 0h4m1 0h1m-260 1h1m2 0h1m2 0h2m46 0h1m22 0h1m3 0h1m2 0h1m5 0h2m9 0h1m4 0h1m11 0h2m30 0h2m43 0h2m6 0h3m39 0h3m9 0h3m-261 1h2m4 0h2m24 0h1m22 0h2m33 0h2m7 0h3m1 0h2m37 0h1m9 0h1m41 0h1m1 0h2m3 0h1m3 0h1m50 0h1m2 0h3m-288 1h1m47 0h2m5 0h1m2 0h1m22 0h2m38 0h2m1 0h2m6 0h2m45 0h1m58 0h1m46 0h2m-240 1h1m4 0h4m3 0h1m28 0h1m57 0h1m3 0h1m3 0h1m24 0h1m11 0h2m33 0h1m11 0h1m44 0h4m1 0h3m-267 1h2m28 0h2m3 0h1m94 0h1m128 0h3m3 0h2m-221 1h1m2 0h1m50 0h1m14 0h2m48 0h3m15 0h2m70 0h1m2 0h3m-289 1h1m46 0h1m26 0h1m26 0h1m95 0h2m1 0h3m1 0h1m20 0h1m25 0h3m28 0h1m4 0h4m2 0h3m-298 1h1m4 0h1m32 0h1m19 0h1m44 0h2m43 0h1m46 0h2m3 0h2m5 0h2m17 0h2m12 0h1m12 0h1m1 0h2m25 0h3m6 0h1m3 0h3m-299 1h1m2 0h1m1 0h1m22 0h1m4 0h2m24 0h1m45 0h1m6 0h1m7 0h1m76 0h1m3 0h2m6 0h1m31 0h1m14 0h1m26 0h1m5 0h1m2 0h1m4 0h2m1 0h1m-301 1h1m2 0h1m1 0h1m69 0h1m36 0h1m6 0h2m29 0h2m10 0h1m34 0h5m7 0h2m43 0h1m37 0h2m4 0h1m1 0h1m-302 1h2m4 0h2m68 0h1m27 0h2m45 0h2m45 0h4m1 0h1m28 0h1m21 0h2m27 0h1m6 0h1m5 0h6m-322 1h1m19 0h1m103 0h2m15 0h1m28 0h3m2 0h1m28 0h1m13 0h4m1 0h1m3 0h1m59 0h2m11 0h1m14 0h3m-297 1h1m36 0h1m3 0h1m14 0h2m86 0h1m8 0h4m13 0h2m2 0h1m3 0h1m2 0h1m1 0h1m13 0h1m4 0h1m45 0h3m13 0h1m2 0h1m8 0h1m2 0h2m13 0h1m-282 1h1m33 0h1m27 0h2m10 0h2m29 0h1m26 0h1m8 0h1m6 0h1m8 0h2m7 0h2m5 0h1m23 0h1m30 0h1m49 0h1m8 0h1m-255 1h1m6 0h1m21 0h2m3 0h1m57 0h2m5 0h1m8 0h3m4 0h1m121 0h1m4 0h1m2 0h1m3 0h1m-280 1h1m30 0h1m9 0h1m22 0h1m63 0h1m5 0h2m3 0h1m90 0h1m8 0h1m38 0h1m-313 1h1m66 0h2m7 0h1m21 0h3m65 0h4m3 0h1m1 0h2m14 0h1m6 0h1m64 0h1m3 0h1m37 0h1m6 0h1m7 0h1m-318 1h1m63 0h2m2 0h4m19 0h1m9 0h2m3 0h1m29 0h1m19 0h1m7 0h7m17 0h2m73 0h2m37 0h3m1 0h1m1 0h2m10 0h1m-321 1h1m63 0h6m1 0h1m1 0h2m15 0h3m24 0h1m11 0h1m5 0h1m24 0h3m2 0h2m1 0h3m2 0h1m14 0h1m74 0h1m38 0h1m1 0h3m1 0h1m11 0h1m-258 1h1m2 0h4m3 0h2m3 0h1m9 0h1m8 0h4m3 0h4m3 0h1m5 0h1m1 0h3m12 0h3m7 0h1m16 0h2m5 0h6m6 0h1m2 0h2m78 0h1m38 0h1m18 0h1m-277 1h1m17 0h1m4 0h9m11 0h1m3 0h1m4 0h2m2 0h2m1 0h4m1 0h1m24 0h3m28 0h1m1 0h1m2 0h1m8 0h3m1 0h2m-136 1h1m7 0h1m8 0h4m2 0h4m21 0h6m4 0h3m1 0h2m21 0h3m27 0h1m13 0h4m1 0h2m3 0h2m105 0h2m25 0h1m-281 1h1m15 0h2m1 0h1m3 0h11m20 0h6m1 0h1m8 0h4m13 0h2m49 0h5m3 0h1m2 0h1m108 0h2m15 0h1m1 0h1m2 0h2m-289 1h1m7 0h1m14 0h1m1 0h2m3 0h1m2 0h5m6 0h1m16 0h1m5 0h2m1 0h3m1 0h6m1 0h4m9 0h2m18 0h1m14 0h1m16 0h9m100 0h3m7 0h2m17 0h2m1 0h3m-274 1h2m5 0h1m5 0h2m1 0h5m4 0h1m18 0h4m1 0h5m1 0h9m1 0h3m5 0h1m13 0h2m14 0h1m2 0h1m6 0h1m2 0h1m13 0h8m102 0h1m8 0h2m3 0h1m5 0h1m6 0h3m1 0h3m-273 1h1m5 0h3m6 0h2m1 0h1m21 0h2m1 0h6m1 0h1m3 0h5m1 0h5m20 0h3m22 0h2m15 0h2m1 0h4m2 0h1m111 0h1m1 0h1m2 0h1m11 0h8m-267 1h2m7 0h1m7 0h2m15 0h1m2 0h1m2 0h12m3 0h1m1 0h2m18 0h4m7 0h1m15 0h1m18 0h4m1 0h3m113 0h1m14 0h4m1 0h1m-265 1h2m30 0h2m5 0h1m2 0h9m1 0h1m2 0h1m12 0h2m9 0h1m11 0h2m30 0h3m1 0h3m2 0h1m114 0h1m3 0h1m-261 1h2m5 0h8m3 0h2m21 0h1m6 0h1m2 0h1m2 0h6m1 0h2m1 0h2m3 0h1m7 0h3m13 0h1m2 0h1m4 0h1m25 0h1m9 0h1m3 0h1m124 0h2m-268 1h1m4 0h3m2 0h6m3 0h2m1 0h1m15 0h1m2 0h2m5 0h1m5 0h4m2 0h5m3 0h2m8 0h1m17 0h2m37 0h1m5 0h1m114 0h1m3 0h2m3 0h1m-266 1h2m1 0h5m3 0h2m7 0h2m26 0h1m2 0h2m2 0h3m2 0h1m1 0h1m5 0h1m8 0h3m32 0h2m1 0h1m141 0h1m6 0h3m1 0h2m-269 1h2m1 0h3m13 0h1m8 0h2m18 0h4m1 0h4m1 0h2m3 0h1m3 0h1m3 0h3m38 0h1m1 0h1m1 0h1m145 0h7m-272 1h1m1 0h4m1 0h2m3 0h1m1 0h2m35 0h10m1 0h1m10 0h3m63 0h1m121 0h2m1 0h2m1 0h1m1 0h5m-274 1h13m19 0h2m12 0h2m1 0h14m2 0h1m36 0h1m165 0h6m-289 1h1m19 0h3m1 0h5m2 0h1m4 0h1m16 0h1m8 0h1m3 0h1m3 0h8m4 0h2m49 0h1m25 0h1m111 0h1m2 0h1m1 0h1m4 0h9m7 0h2m-305 1h2m23 0h9m3 0h1m4 0h1m16 0h2m5 0h1m1 0h2m3 0h14m1 0h2m49 0h2m11 0h1m5 0h1m9 0h1m114 0h2m1 0h1m1 0h2m1 0h3m9 0h1m-303 1h1m7 0h1m15 0h8m4 0h2m21 0h1m5 0h4m2 0h10m3 0h2m1 0h1m51 0h1m27 0h1m106 0h1m2 0h2m2 0h5m1 0h1m3 0h2m3 0h4m2 0h1m1 0h1m-302 1h4m18 0h5m1 0h1m4 0h1m28 0h1m1 0h1m2 0h3m2 0h1m1 0h4m3 0h2m193 0h1m7 0h1m4 0h2m2 0h9m-307 1h1m26 0h5m2 0h1m1 0h1m5 0h1m6 0h1m20 0h5m3 0h6m71 0h4m12 0h1m109 0h2m7 0h3m1 0h2m3 0h2m2 0h4m-309 1h3m29 0h3m1 0h1m1 0h3m10 0h1m3 0h1m2 0h1m5 0h1m3 0h1m3 0h1m2 0h2m2 0h1m2 0h2m2 0h1m191 0h3m2 0h2m2 0h1m8 0h5m8 0h1m-304 1h1m24 0h4m3 0h1m16 0h1m4 0h3m2 0h4m6 0h1m3 0h1m2 0h2m2 0h1m189 0h1m1 0h2m4 0h3m2 0h1m12 0h1m4 0h3m-305 1h2m23 0h1m3 0h2m8 0h1m3 0h1m3 0h1m1 0h1m6 0h1m2 0h2m1 0h3m9 0h5m197 0h3m1 0h7m10 0h1m2 0h3m-307 1h1m22 0h4m16 0h1m8 0h1m4 0h4m4 0h1m1 0h3m11 0h1m192 0h1m1 0h1m2 0h3m2 0h3m1 0h4m-285 1h2m36 0h1m13 0h2m3 0h2m1 0h2m11 0h3m191 0h1m1 0h2m1 0h3m2 0h1m3 0h4m-18 1h1m1 0h2m1 0h1m2 0h4m1 0h1m15 0h1m-266 1h6m12 0h2m4 0h1m4 0h1m206 0h4m2 0h9m-247 1h1m30 0h1m3 0h1m197 0h4m2 0h7m2 0h1m-218 1h2m200 0h10m1 0h2m-241 1h1m26 0h1m200 0h9m-238 1h2m228 0h6m23 0h1m-260 1h1m229 0h7m-7 1h4m1 0h2m-219 1h2m210 0h3m3 0h2m30 0h1m-255 1h1m216 0h2m2 0h2m5 0h2m23 0h1m-254 1h1m216 0h6m19 0h2m8 0h5m-269 1h2m10 0h1m217 0h3m29 0h2m2 0h2m-37 1h1m19 0h1m11 0h2m2 0h1m-37 1h1m-236 1h1m11 0h1m231 0h1m22 0h1m-268 1h1m1 0h1m6 0h2m247 0h1m12 0h1m2 0h2m-16 1h1m12 0h2m-1 1h1m-2 1h3m-285 1h1m253 0h2m24 0h5m-285 1h1m12 0h2m239 0h1m5 0h1m3 0h1m15 0h2m2 0h1m-272 1h2m244 0h3m18 0h1m1 0h1m1 0h1m-281 1h1m8 0h2m244 0h4m1 0h1m15 0h5m-32 1h1m3 0h3m1 0h2m1 0h3m15 0h3m-29 1h4m3 0h2m14 0h6m-28 1h3m11 0h1m8 0h4m-30 1h1m1 0h5m19 0h4m1 0h1m-29 1h1m9 0h2m9 0h1m2 0h2m2 0h1m-31 1h1m7 0h1m3 0h1m11 0h1m1 0h1m3 0h1m-292 1h1m267 0h2m16 0h1m2 0h3m-7 1h5m1 0h1m-7 1h7m-10 1h1m2 0h1m1 0h5m-7 1h1m1 1h1m2 1h1m-4 1h2m-1 1h3m-2 1h2m-13 2h2m-261 2h1m258 0h1m-273 1h1m3 0h1m271 0h2m-282 1h1m7 0h2m271 0h1m-275 1h1m-9 1h1m1 0h1m5 0h2m267 0h1m1 0h1m-275 1h1m0 1h2m1 0h1m1 0h1m-5 1h3m-1 1h1m6 0h2m-1 1h1"/>
<path stroke="#9a5a5a" d="M0 .5m89 5h2m3 1h2m-3 1h1m-26 3h1m23 0h1m3 0h1m11 0h1m-17 1h1m6 0h2m8 0h1m2 0h1m1 0h1m-45 1h1m27 0h1m1 0h1m4 0h1m1 0h1m6 0h1m-46 1h2m11 0h1m4 0h1m1 0h1m24 0h1m7 0h1m-38 1h2m6 0h1m27 0h1m5 0h1m-62 1h1m7 0h1m10 0h1m8 0h2m1 0h1m12 0h1m-45 1h1m7 0h1m17 0h1m22 0h1m6 0h1m6 0h2m-66 1h1m3 0h1m9 0h1m2 0h1m6 0h1m4 0h1m3 0h4m20 0h1m9 0h1m1 0h1m-56 1h2m14 0h1m1 0h1m3 0h2m4 0h1m15 0h1m6 0h2m2 0h2m-58 1h1m23 0h1m3 0h2m15 0h1m6 0h1m-65 1h1m1 0h2m6 0h1m2 0h2m5 0h1m2 0h1m11 0h4m18 0h2m18 0h2m-80 1h1m2 0h1m1 0h1m4 0h1m4 0h1m4 0h2m12 0h1m2 0h1m12 0h1m12 0h1m15 0h1m6 0h1m-87 1h1m9 0h1m6 0h3m4 0h1m9 0h1m36 0h1m14 0h1m2 0h1m2 0h1m-84 1h1m3 0h1m14 0h1m1 0h1m2 0h1m1 0h1m55 0h1m2 0h1m-90 1h3m4 0h1m28 0h1m6 0h2m44 0h3m8 0h1m-98 1h1m7 0h2m21 0h1m1 0h1m51 0h4m-88 1h3m2 0h2m3 0h1m10 0h1m7 0h1m3 0h1m4 0h1m43 0h1m4 0h1m8 0h1m-93 1h1m23 0h2m3 0h1m4 0h1m43 0h1m1 0h1m9 0h1m-102 1h1m7 0h1m3 0h1m16 0h1m1 0h1m2 0h1m67 0h1m-104 1h1m1 0h1m4 0h1m7 0h1m18 0h1m-36 1h3m2 0h1m24 0h1m1 0h1m8 0h1m27 0h1m-59 1h1m2 0h1m17 0h1m36 0h1m48 0h1m-115 1h2m5 0h1m15 0h1m3 0h1m11 0h1m74 0h2m-116 1h2m12 0h1m8 0h1m6 0h1m4 0h1m3 0h1m25 0h2m1 0h2m34 0h2m4 0h2m35 0h1m-142 1h1m1 0h1m1 0h1m12 0h1m4 0h1m6 0h2m4 0h1m29 0h1m6 0h1m3 0h1m21 0h1m4 0h1m35 0h1m2 0h1m-153 1h1m1 0h1m5 0h1m4 0h1m8 0h1m6 0h1m2 0h1m2 0h1m9 0h2m27 0h2m10 0h1m2 0h1m26 0h1m31 0h1m3 0h1m-139 1h1m14 0h2m11 0h1m45 0h2m26 0h1m-112 1h1m4 0h1m2 0h1m3 0h2m25 0h1m3 0h1m1 0h1m23 0h1m2 0h1m6 0h1m1 0h1m-88 1h2m1 0h1m6 0h1m5 0h2m10 0h2m2 0h1m12 0h2m2 0h3m27 0h1m3 0h1m1 0h1m2 0h1m-89 1h1m1 0h1m4 0h1m2 0h1m2 0h1m11 0h1m8 0h1m5 0h1m8 0h1m25 0h2m10 0h1m1 0h1m-84 1h1m5 0h1m1 0h2m3 0h1m1 0h2m3 0h2m11 0h1m8 0h2m31 0h1m3 0h2m1 0h1m60 0h2m12 0h1m38 0h1m-191 1h2m2 0h1m4 0h1m2 0h1m8 0h1m4 0h1m3 0h1m5 0h1m4 0h1m22 0h1m1 0h1m10 0h1m112 0h1m-187 1h1m10 0h1m14 0h2m31 0h1m3 0h1m5 0h1m61 0h1m1 0h2m16 0h1m-157 1h2m2 0h2m2 0h2m2 0h2m15 0h1m1 0h1m31 0h1m13 0h1m62 0h1m6 0h1m4 0h1m2 0h1m-147 1h1m2 0h2m7 0h2m40 0h1m2 0h1m79 0h1m10 0h2m63 0h1m3 0h1m-210 1h2m3 0h2m29 0h3m7 0h1m12 0h1m68 0h2m4 0h1m69 0h2m3 0h1m19 0h1m-255 1h2m3 0h2m2 0h1m2 0h1m16 0h1m3 0h1m7 0h1m27 0h1m5 0h1m1 0h1m3 0h2m76 0h1m7 0h2m37 0h1m11 0h1m11 0h3m5 0h1m17 0h2m81 0h2m325 0h1m-662 1h1m1 0h1m2 0h1m1 0h1m12 0h1m6 0h1m2 0h1m4 0h1m33 0h1m1 0h2m1 0h2m77 0h1m47 0h2m23 0h1m8 0h3m6 0h1m6 0h1m81 0h1m-339 1h1m4 0h2m3 0h1m11 0h1m2 0h1m3 0h1m5 0h1m40 0h1m11 0h1m41 0h1m18 0h1m102 0h1m8 0h1m1 0h1m54 0h1m4 0h1m5 0h2m3 0h1m1 0h2m1 0h1m326 0h1m-667 1h1m20 0h1m4 0h1m13 0h1m35 0h1m16 0h1m137 0h1m23 0h1m4 0h1m37 0h1m17 0h1m6 0h2m9 0h1m1 0h1m-337 1h1m2 0h1m3 0h1m7 0h1m10 0h1m1 0h1m6 0h1m4 0h1m1 0h2m1 0h1m23 0h1m4 0h1m4 0h2m4 0h1m3 0h2m44 0h1m52 0h1m42 0h1m16 0h1m25 0h1m23 0h1m24 0h1m-323 1h2m1 0h1m21 0h1m9 0h1m2 0h1m1 0h1m2 0h1m17 0h1m6 0h1m4 0h1m3 0h1m1 0h1m6 0h1m118 0h3m41 0h1m21 0h1m50 0h2m-325 1h1m25 0h1m10 0h1m3 0h1m17 0h1m14 0h1m9 0h1m1 0h1m2 0h5m112 0h1m2 0h1m49 0h1m11 0h1m5 0h1m1 0h1m4 0h1m26 0h2m7 0h1m1 0h2m3 0h1m-333 1h1m4 0h1m3 0h1m22 0h1m11 0h4m16 0h1m28 0h1m4 0h1m30 0h2m19 0h2m38 0h1m22 0h1m4 0h1m4 0h1m49 0h1m16 0h1m28 0h1m6 0h1m2 0h1m-325 1h1m1 0h1m30 0h1m3 0h2m1 0h1m2 0h1m18 0h1m27 0h1m48 0h2m6 0h1m18 0h1m18 0h2m35 0h3m39 0h1m3 0h1m35 0h2m4 0h1m11 0h4m6 0h1m17 0h1m13 0h1m-371 1h1m1 0h1m2 0h1m6 0h3m2 0h2m2 0h2m16 0h1m3 0h1m3 0h1m20 0h1m3 0h1m80 0h1m3 0h1m14 0h1m72 0h2m2 0h2m19 0h1m5 0h1m1 0h1m3 0h2m27 0h2m15 0h2m3 0h1m2 0h1m2 0h1m18 0h1m9 0h1m3 0h1m-373 1h1m3 0h2m1 0h1m4 0h1m2 0h1m5 0h2m6 0h2m12 0h1m2 0h1m20 0h1m2 0h3m72 0h1m12 0h1m15 0h1m49 0h1m1 0h3m13 0h1m1 0h1m25 0h1m7 0h1m50 0h1m29 0h1m6 0h2m4 0h1m285 0h1m-654 1h1m3 0h1m6 0h2m5 0h1m5 0h1m38 0h1m2 0h1m26 0h1m46 0h1m28 0h1m56 0h1m39 0h2m6 0h1m5 0h1m75 0h1m5 0h1m291 0h1m-652 1h1m4 0h1m1 0h1m10 0h1m16 0h1m24 0h1m3 0h1m73 0h1m10 0h1m64 0h1m5 0h2m9 0h1m9 0h1m28 0h2m56 0h1m23 0h1m6 0h1m291 0h2m-656 1h1m1 0h1m2 0h1m13 0h1m18 0h1m1 0h1m5 0h1m10 0h2m7 0h2m57 0h1m26 0h1m71 0h1m10 0h1m8 0h1m22 0h1m2 0h2m40 0h1m15 0h1m32 0h2m-369 1h1m4 0h2m3 0h3m1 0h1m20 0h2m14 0h1m20 0h2m56 0h2m1 0h3m39 0h1m56 0h1m1 0h1m17 0h3m17 0h1m2 0h1m64 0h1m32 0h1m2 0h1m7 0h1m-380 1h3m3 0h1m11 0h1m25 0h1m21 0h1m1 0h1m38 0h1m38 0h1m8 0h1m112 0h1m36 0h1m3 0h3m64 0h2m1 0h1m20 0h1m-399 1h1m3 0h1m8 0h1m2 0h1m26 0h1m21 0h2m97 0h1m58 0h1m2 0h1m6 0h1m25 0h1m15 0h5m28 0h2m64 0h2m15 0h1m9 0h1m-407 1h1m29 0h1m14 0h2m80 0h1m2 0h1m4 0h2m8 0h1m23 0h1m23 0h1m65 0h2m2 0h2m2 0h1m9 0h1m2 0h1m7 0h1m23 0h2m17 0h1m53 0h1m10 0h1m4 0h1m2 0h1m3 0h1m-408 1h1m2 0h1m9 0h4m34 0h1m75 0h1m16 0h1m7 0h1m1 0h2m94 0h2m2 0h1m11 0h1m30 0h5m9 0h1m49 0h1m22 0h1m10 0h1m3 0h1m285 0h1m-687 1h1m1 0h1m16 0h1m2 0h2m5 0h1m7 0h2m85 0h3m121 0h1m2 0h1m3 0h1m23 0h1m9 0h1m2 0h1m1 0h1m7 0h2m4 0h1m4 0h1m45 0h1m46 0h1m-408 1h1m1 0h1m4 0h2m8 0h3m4 0h1m13 0h1m136 0h1m50 0h1m26 0h1m2 0h1m4 0h1m28 0h1m2 0h4m3 0h6m3 0h2m3 0h1m54 0h1m14 0h1m9 0h1m-398 1h1m1 0h1m4 0h1m2 0h1m14 0h1m6 0h1m61 0h3m32 0h1m37 0h1m7 0h1m1 0h1m47 0h1m31 0h1m32 0h1m11 0h1m2 0h1m1 0h1m2 0h1m2 0h1m1 0h1m47 0h1m11 0h1m26 0h3m-405 1h4m4 0h2m5 0h2m2 0h1m2 0h1m2 0h1m6 0h1m2 0h1m4 0h1m45 0h1m7 0h2m34 0h1m32 0h1m3 0h1m12 0h1m80 0h1m3 0h1m27 0h1m1 0h1m6 0h1m7 0h1m2 0h1m1 0h1m3 0h1m55 0h1m13 0h2m295 0h1m-685 1h1m1 0h1m5 0h1m5 0h1m2 0h2m2 0h1m2 0h1m13 0h1m37 0h1m4 0h1m3 0h2m2 0h1m1 0h1m35 0h2m2 0h1m10 0h1m74 0h1m12 0h2m31 0h1m31 0h1m42 0h1m4 0h1m3 0h1m25 0h1m8 0h3m6 0h1m3 0h3m275 0h1m-666 1h2m1 0h1m5 0h1m2 0h1m2 0h1m11 0h1m3 0h1m48 0h1m1 0h2m36 0h1m2 0h1m84 0h2m11 0h1m32 0h1m22 0h1m6 0h1m3 0h2m9 0h1m4 0h3m4 0h1m3 0h2m18 0h1m3 0h1m21 0h1m14 0h1m5 0h2m-393 1h1m6 0h1m10 0h1m1 0h1m5 0h2m50 0h1m16 0h1m35 0h1m50 0h1m46 0h2m41 0h2m39 0h1m2 0h2m2 0h2m3 0h1m3 0h1m18 0h1m7 0h1m38 0h1m36 0h2m247 0h1m3 0h1m-686 1h2m5 0h1m8 0h1m1 0h1m1 0h1m10 0h1m2 0h1m54 0h2m110 0h1m48 0h1m27 0h1m8 0h1m17 0h1m29 0h1m12 0h1m12 0h3m10 0h1m-375 1h1m6 0h1m2 0h2m77 0h1m85 0h1m111 0h1m10 0h2m1 0h1m30 0h1m5 0h1m2 0h1m20 0h1m4 0h1m4 0h2m8 0h2m9 0h2m279 0h1m-672 1h1m3 0h1m18 0h1m45 0h1m55 0h2m32 0h2m12 0h1m35 0h1m43 0h1m25 0h1m12 0h1m1 0h1m10 0h2m19 0h1m16 0h1m3 0h1m23 0h1m19 0h1m280 0h1m2 0h1m-676 1h2m3 0h1m3 0h2m10 0h2m17 0h1m32 0h2m52 0h1m27 0h2m3 0h1m11 0h1m23 0h1m7 0h1m9 0h1m2 0h2m3 0h1m57 0h1m24 0h1m1 0h1m18 0h1m17 0h1m1 0h2m35 0h1m4 0h1m-389 1h1m2 0h1m2 0h1m3 0h1m15 0h1m168 0h2m7 0h1m2 0h1m48 0h2m6 0h1m14 0h2m13 0h1m15 0h1m32 0h1m1 0h1m1 0h1m11 0h1m9 0h2m15 0h2m2 0h1m277 0h1m-671 1h1m1 0h1m4 0h1m40 0h1m3 0h1m105 0h1m3 0h1m9 0h1m33 0h1m58 0h1m1 0h2m23 0h1m31 0h1m36 0h1m6 0h2m279 0h2m13 0h1m-670 1h2m4 0h1m2 0h1m3 0h1m3 0h1m14 0h2m16 0h1m1 0h1m146 0h1m95 0h1m15 0h1m3 0h2m3 0h1m2 0h1m5 0h1m5 0h2m29 0h1m290 0h1m15 0h1m-667 1h1m4 0h1m3 0h2m20 0h1m10 0h2m78 0h3m2 0h1m6 0h1m27 0h1m5 0h1m26 0h1m73 0h1m8 0h1m7 0h3m2 0h2m3 0h1m7 0h1m11 0h1m1 0h1m2 0h1m28 0h1m11 0h1m300 0h2m-669 1h3m2 0h2m1 0h2m16 0h1m4 0h1m12 0h3m1 0h1m78 0h1m3 0h1m41 0h1m26 0h1m37 0h1m52 0h1m8 0h2m1 0h1m9 0h1m1 0h1m4 0h1m1 0h1m3 0h1m13 0h2m6 0h2m7 0h2m19 0h1m272 0h1m10 0h1m-670 1h1m2 0h1m7 0h1m2 0h2m18 0h2m3 0h1m15 0h2m85 0h1m32 0h2m7 0h1m30 0h1m89 0h1m1 0h1m2 0h1m12 0h1m4 0h2m1 0h2m1 0h1m29 0h2m60 0h1m44 0h2m1 0h2m182 0h3m1 0h1m5 0h2m-671 1h1m2 0h1m6 0h1m3 0h1m1 0h1m24 0h2m42 0h1m56 0h1m33 0h1m1 0h2m3 0h3m32 0h1m71 0h1m42 0h1m6 0h1m2 0h1m22 0h1m1 0h1m8 0h1m1 0h1m5 0h1m10 0h1m35 0h1m45 0h1m186 0h1m5 0h1m-672 1h1m2 0h2m3 0h2m7 0h1m16 0h1m4 0h1m25 0h1m6 0h1m15 0h1m86 0h1m1 0h1m1 0h1m4 0h2m30 0h1m8 0h1m47 0h1m16 0h1m15 0h2m1 0h2m2 0h1m1 0h3m13 0h3m1 0h1m3 0h2m2 0h1m8 0h1m14 0h2m6 0h1m1 0h1m24 0h2m18 0h2m3 0h1m50 0h1m185 0h2m5 0h2m1 0h1m3 0h1m-677 1h1m1 0h1m5 0h2m2 0h2m5 0h1m2 0h1m6 0h1m5 0h1m35 0h1m13 0h1m90 0h1m5 0h1m36 0h1m51 0h1m35 0h1m17 0h2m9 0h1m4 0h1m5 0h1m1 0h2m12 0h2m8 0h5m4 0h1m5 0h1m12 0h1m19 0h2m12 0h2m8 0h1m29 0h1m2 0h1m3 0h2m1 0h1m183 0h1m-658 1h3m9 0h1m1 0h1m2 0h1m4 0h1m1 0h1m48 0h1m88 0h2m1 0h1m8 0h1m64 0h1m32 0h2m19 0h1m15 0h1m2 0h2m7 0h1m3 0h1m36 0h1m7 0h1m3 0h1m9 0h3m17 0h1m18 0h2m11 0h1m19 0h1m5 0h1m6 0h1m3 0h1m164 0h1m8 0h1m-660 1h1m1 0h1m6 0h1m2 0h1m8 0h1m1 0h1m2 0h1m6 0h1m7 0h2m40 0h1m1 0h2m1 0h1m25 0h1m76 0h1m24 0h1m34 0h1m31 0h1m18 0h2m31 0h1m3 0h1m13 0h1m4 0h1m16 0h1m6 0h1m9 0h2m9 0h3m8 0h1m1 0h2m4 0h1m16 0h1m10 0h1m23 0h1m6 0h1m168 0h1m19 0h2m-676 1h2m11 0h1m1 0h2m5 0h1m15 0h1m50 0h3m2 0h1m82 0h1m8 0h2m83 0h1m13 0h1m1 0h2m17 0h1m5 0h1m25 0h3m1 0h1m8 0h1m6 0h1m19 0h1m9 0h1m12 0h1m6 0h1m12 0h1m4 0h2m19 0h1m3 0h1m26 0h1m4 0h3m179 0h1m8 0h1m2 0h2m-664 1h1m6 0h3m13 0h1m8 0h1m7 0h2m120 0h1m1 0h1m11 0h1m5 0h1m20 0h2m51 0h1m34 0h1m14 0h2m4 0h1m11 0h1m3 0h1m11 0h2m3 0h1m18 0h1m11 0h2m6 0h1m2 0h1m2 0h1m14 0h2m12 0h2m5 0h3m3 0h2m26 0h2m8 0h1m180 0h1m5 0h1m4 0h1m-667 1h1m1 0h1m5 0h1m7 0h2m14 0h1m2 0h2m8 0h2m35 0h1m81 0h1m15 0h1m19 0h1m3 0h1m38 0h1m47 0h1m28 0h2m9 0h1m3 0h1m6 0h4m5 0h1m3 0h1m9 0h1m3 0h1m1 0h1m1 0h2m11 0h2m7 0h1m6 0h1m1 0h1m11 0h1m24 0h1m3 0h1m19 0h1m190 0h1m1 0h1m-672 1h1m11 0h1m30 0h1m2 0h1m12 0h1m121 0h1m2 0h1m28 0h1m7 0h1m3 0h1m43 0h1m19 0h1m3 0h1m10 0h2m29 0h2m6 0h2m4 0h1m9 0h1m7 0h1m10 0h3m1 0h1m1 0h1m2 0h1m19 0h1m5 0h2m1 0h1m3 0h1m1 0h2m1 0h1m1 0h1m16 0h1m33 0h3m3 0h1m176 0h1m13 0h2m-676 1h1m35 0h2m6 0h2m128 0h1m4 0h1m2 0h1m16 0h1m19 0h1m4 0h1m53 0h1m10 0h1m25 0h2m10 0h1m20 0h2m4 0h2m41 0h1m17 0h1m1 0h1m3 0h1m6 0h2m13 0h1m1 0h2m11 0h1m1 0h1m14 0h1m1 0h1m6 0h1m175 0h1m-635 1h1m1 0h1m11 0h1m2 0h1m5 0h1m56 0h2m1 0h1m67 0h2m20 0h2m15 0h1m2 0h1m46 0h1m9 0h1m3 0h1m33 0h1m2 0h2m9 0h1m22 0h1m4 0h2m15 0h1m24 0h2m8 0h1m1 0h1m7 0h1m17 0h1m3 0h2m38 0h1m4 0h1m173 0h2m1 0h1m-664 1h1m27 0h1m1 0h1m6 0h2m5 0h2m87 0h1m61 0h1m2 0h1m2 0h1m18 0h3m44 0h1m13 0h2m14 0h2m17 0h1m2 0h1m4 0h1m22 0h1m3 0h1m5 0h1m7 0h2m14 0h1m15 0h1m6 0h1m17 0h1m18 0h2m36 0h2m1 0h2m179 0h1m3 0h1m-670 1h3m7 0h1m18 0h1m78 0h2m1 0h1m27 0h1m47 0h3m2 0h1m4 0h1m5 0h1m4 0h1m7 0h1m1 0h1m65 0h1m7 0h2m4 0h1m4 0h1m3 0h1m10 0h1m12 0h1m12 0h1m4 0h1m4 0h2m2 0h2m1 0h1m7 0h1m13 0h1m4 0h1m7 0h1m2 0h1m1 0h1m7 0h1m2 0h2m10 0h1m17 0h2m6 0h1m12 0h1m1 0h1m9 0h2m186 0h1m5 0h1m3 0h1m-671 1h1m17 0h2m20 0h1m24 0h1m23 0h1m15 0h1m1 0h1m23 0h2m1 0h1m1 0h1m52 0h1m14 0h1m1 0h1m11 0h2m37 0h1m11 0h2m29 0h2m3 0h1m37 0h1m1 0h2m5 0h1m4 0h1m1 0h1m1 0h2m1 0h3m17 0h1m11 0h1m1 0h1m2 0h1m4 0h2m14 0h1m4 0h1m6 0h2m4 0h1m11 0h1m3 0h2m2 0h2m2 0h1m2 0h1m16 0h1m171 0h1m2 0h1m-665 1h1m7 0h1m6 0h3m23 0h2m1 0h1m3 0h2m38 0h1m2 0h1m4 0h1m20 0h1m6 0h1m6 0h1m4 0h1m1 0h1m62 0h1m8 0h1m9 0h1m19 0h2m28 0h1m4 0h1m11 0h1m7 0h1m7 0h1m14 0h1m9 0h1m25 0h1m3 0h1m11 0h2m7 0h1m7 0h1m1 0h2m16 0h1m14 0h1m4 0h1m10 0h1m3 0h1m18 0h1m3 0h2m2 0h3m3 0h1m4 0h1m5 0h1m179 0h1m-666 1h1m6 0h2m26 0h1m7 0h1m4 0h1m20 0h1m60 0h1m9 0h1m76 0h1m3 0h1m47 0h1m2 0h1m10 0h1m1 0h1m4 0h1m9 0h1m1 0h1m2 0h1m3 0h1m2 0h2m7 0h1m6 0h1m1 0h1m15 0h2m5 0h1m1 0h1m34 0h1m2 0h3m2 0h1m4 0h1m2 0h1m3 0h1m3 0h5m2 0h1m4 0h1m29 0h2m2 0h2m1 0h1m9 0h1m10 0h2m176 0h1m2 0h3m3 0h1m-673 1h1m2 0h1m13 0h1m3 0h2m2 0h1m7 0h1m3 0h2m5 0h1m7 0h4m15 0h1m41 0h1m5 0h1m13 0h2m80 0h1m7 0h1m59 0h1m13 0h1m3 0h2m13 0h1m5 0h1m4 0h1m1 0h1m6 0h1m21 0h1m10 0h1m4 0h1m7 0h2m12 0h1m4 0h1m1 0h1m1 0h1m4 0h3m7 0h1m1 0h2m3 0h1m9 0h1m28 0h2m10 0h1m5 0h2m186 0h1m-674 1h1m1 0h1m20 0h1m5 0h1m1 0h1m1 0h2m1 0h1m1 0h1m1 0h3m6 0h1m7 0h3m7 0h1m3 0h1m4 0h1m1 0h1m1 0h1m7 0h1m2 0h1m18 0h1m2 0h2m23 0h1m3 0h2m59 0h2m3 0h1m10 0h1m3 0h1m17 0h1m5 0h1m25 0h1m10 0h4m11 0h2m10 0h1m16 0h2m7 0h1m11 0h1m4 0h1m15 0h1m4 0h1m1 0h1m1 0h2m8 0h3m3 0h1m2 0h2m9 0h1m8 0h1m1 0h2m5 0h1m4 0h1m24 0h2m12 0h1m1 0h2m9 0h1m12 0h3m162 0h1m5 0h3m-661 1h1m4 0h1m3 0h2m8 0h1m4 0h4m10 0h1m1 0h1m11 0h1m7 0h1m6 0h1m1 0h2m10 0h1m13 0h1m6 0h1m7 0h2m2 0h2m79 0h2m5 0h1m7 0h1m1 0h1m12 0h1m6 0h1m16 0h1m28 0h1m4 0h2m3 0h2m36 0h1m5 0h2m8 0h2m3 0h4m4 0h2m9 0h3m1 0h1m7 0h2m5 0h1m6 0h1m1 0h1m11 0h2m50 0h1m2 0h1m12 0h1m16 0h1m153 0h2m5 0h1m3 0h2m-662 1h1m1 0h2m12 0h1m2 0h2m1 0h1m2 0h3m1 0h1m2 0h1m15 0h1m7 0h1m14 0h1m3 0h1m9 0h1m28 0h1m3 0h2m15 0h1m61 0h1m1 0h2m25 0h1m7 0h1m18 0h1m13 0h1m13 0h1m6 0h2m4 0h1m1 0h1m12 0h1m20 0h1m17 0h4m1 0h1m32 0h2m2 0h1m11 0h1m14 0h1m18 0h1m14 0h1m8 0h3m10 0h1m23 0h1m152 0h1m-652 1h1m1 0h1m4 0h1m11 0h1m11 0h1m3 0h1m16 0h1m13 0h3m6 0h1m9 0h1m16 0h2m10 0h2m4 0h1m12 0h1m1 0h1m99 0h2m30 0h3m11 0h1m2 0h1m5 0h2m18 0h1m1 0h2m1 0h1m14 0h2m12 0h1m7 0h1m9 0h1m7 0h2m5 0h2m15 0h2m5 0h3m2 0h1m3 0h1m7 0h1m5 0h2m25 0h1m11 0h1m2 0h1m5 0h2m19 0h2m3 0h1m4 0h1m156 0h1m5 0h2m-666 1h2m4 0h2m1 0h5m4 0h1m10 0h1m4 0h1m20 0h1m17 0h1m8 0h1m48 0h3m2 0h1m78 0h1m7 0h1m4 0h1m35 0h1m23 0h3m2 0h3m1 0h1m9 0h1m15 0h1m4 0h3m1 0h1m1 0h1m7 0h1m8 0h1m9 0h2m3 0h2m7 0h1m1 0h1m3 0h2m3 0h3m1 0h1m1 0h2m14 0h1m25 0h1m15 0h1m14 0h2m3 0h1m4 0h2m3 0h1m4 0h2m8 0h2m4 0h1m151 0h2m1 0h1m1 0h1m5 0h2m-672 1h1m5 0h2m15 0h1m3 0h1m1 0h1m9 0h1m6 0h1m29 0h2m10 0h1m3 0h1m12 0h1m5 0h3m8 0h1m18 0h1m1 0h1m87 0h1m8 0h1m22 0h1m5 0h1m14 0h1m6 0h1m4 0h1m5 0h1m3 0h1m2 0h2m2 0h1m5 0h1m5 0h1m10 0h2m1 0h1m2 0h1m2 0h1m4 0h1m6 0h1m3 0h1m6 0h1m19 0h1m2 0h4m13 0h1m2 0h1m2 0h1m69 0h1m8 0h1m3 0h4m151 0h1m8 0h2m-654 1h1m7 0h1m4 0h1m1 0h1m1 0h1m3 0h1m5 0h1m14 0h1m18 0h1m6 0h2m24 0h1m3 0h1m4 0h2m149 0h1m21 0h1m20 0h1m2 0h1m5 0h1m3 0h1m5 0h2m10 0h1m22 0h2m2 0h2m1 0h1m5 0h1m2 0h1m2 0h1m4 0h1m5 0h1m10 0h1m5 0h1m6 0h2m8 0h2m55 0h1m11 0h1m10 0h1m147 0h1m6 0h1m5 0h1m2 0h2m-663 1h2m13 0h3m4 0h1m21 0h1m50 0h1m5 0h1m117 0h1m56 0h1m11 0h1m10 0h1m12 0h1m1 0h1m2 0h1m6 0h1m5 0h4m7 0h2m1 0h1m1 0h2m9 0h1m4 0h1m2 0h2m2 0h1m13 0h1m16 0h1m1 0h1m4 0h1m43 0h1m2 0h1m4 0h3m2 0h2m179 0h1m5 0h1m5 0h1m1 0h1m3 0h2m-668 1h1m2 0h1m1 0h1m100 0h1m1 0h2m83 0h1m1 0h1m25 0h1m21 0h2m35 0h1m2 0h1m30 0h1m5 0h1m6 0h1m4 0h1m3 0h1m8 0h2m7 0h3m5 0h1m3 0h2m9 0h1m1 0h1m4 0h2m1 0h1m1 0h1m2 0h1m11 0h2m3 0h2m6 0h2m41 0h1m3 0h1m2 0h1m5 0h1m20 0h1m1 0h1m5 0h1m3 0h1m140 0h2m11 0h1m4 0h1m-675 1h1m1 0h1m10 0h2m2 0h1m5 0h2m5 0h2m24 0h1m40 0h1m8 0h1m9 0h1m87 0h1m85 0h1m4 0h1m15 0h1m4 0h1m18 0h1m1 0h2m3 0h1m2 0h1m9 0h1m4 0h1m9 0h1m2 0h1m1 0h1m4 0h2m5 0h1m2 0h1m1 0h1m1 0h1m2 0h1m6 0h1m12 0h1m8 0h1m1 0h1m29 0h1m13 0h1m198 0h1m1 0h2m-675 1h1m34 0h1m3 0h2m7 0h1m7 0h2m27 0h1m11 0h1m3 0h1m7 0h1m2 0h1m5 0h2m95 0h1m2 0h1m72 0h1m2 0h1m6 0h1m5 0h1m1 0h3m31 0h1m29 0h1m1 0h1m3 0h1m1 0h1m6 0h1m3 0h1m3 0h1m1 0h1m3 0h1m1 0h1m12 0h2m12 0h1m37 0h2m30 0h1m11 0h1m130 0h1m15 0h4m7 0h2m2 0h1m-641 1h3m10 0h1m8 0h1m1 0h4m35 0h1m4 0h1m8 0h1m62 0h1m120 0h1m3 0h2m5 0h3m1 0h4m3 0h2m20 0h2m1 0h1m15 0h1m12 0h1m10 0h1m4 0h1m2 0h1m6 0h1m1 0h2m1 0h1m13 0h2m4 0h1m6 0h2m16 0h1m17 0h2m1 0h1m20 0h1m10 0h2m6 0h2m2 0h1m137 0h1m11 0h1m6 0h2m2 0h2m-674 1h2m1 0h1m13 0h1m11 0h2m16 0h1m7 0h1m41 0h1m7 0h2m7 0h1m100 0h1m78 0h1m14 0h1m6 0h1m13 0h2m1 0h1m24 0h1m18 0h1m5 0h1m7 0h2m5 0h1m3 0h1m1 0h1m10 0h1m10 0h2m3 0h1m1 0h1m14 0h1m1 0h2m15 0h1m3 0h1m16 0h4m3 0h1m8 0h1m6 0h1m150 0h1m6 0h1m3 0h1m-644 1h1m1 0h1m21 0h2m6 0h3m40 0h1m1 0h1m3 0h1m9 0h1m100 0h2m94 0h4m4 0h1m3 0h2m3 0h1m4 0h1m14 0h1m1 0h2m14 0h1m8 0h2m2 0h1m1 0h2m2 0h1m1 0h1m18 0h1m17 0h1m1 0h1m16 0h1m16 0h3m16 0h1m1 0h1m17 0h1m5 0h1m122 0h1m2 0h1m18 0h1m7 0h1m2 0h1m1 0h1m-670 1h2m12 0h1m2 0h1m8 0h3m22 0h1m1 0h1m8 0h1m36 0h1m4 0h3m6 0h1m11 0h1m180 0h1m45 0h2m4 0h1m11 0h2m5 0h1m2 0h1m6 0h2m2 0h2m3 0h2m3 0h1m1 0h2m2 0h2m1 0h3m2 0h1m13 0h1m14 0h1m12 0h1m7 0h1m5 0h1m1 0h1m10 0h1m3 0h2m2 0h3m15 0h1m1 0h1m121 0h1m27 0h1m1 0h1m4 0h1m-665 1h1m16 0h3m2 0h1m6 0h1m16 0h1m5 0h2m2 0h1m1 0h1m1 0h2m13 0h1m16 0h1m4 0h1m4 0h1m6 0h2m9 0h1m5 0h1m135 0h1m11 0h1m2 0h2m27 0h2m21 0h1m1 0h1m2 0h1m12 0h2m4 0h1m6 0h1m5 0h1m8 0h1m5 0h1m2 0h1m5 0h2m3 0h2m18 0h1m7 0h1m1 0h1m16 0h2m14 0h1m3 0h1m16 0h2m4 0h1m4 0h1m1 0h1m2 0h1m11 0h1m94 0h2m54 0h1m2 0h2m-635 1h2m10 0h1m15 0h2m2 0h1m9 0h1m4 0h1m28 0h1m10 0h1m3 0h1m1 0h1m4 0h1m136 0h1m1 0h1m11 0h2m21 0h1m6 0h1m1 0h1m1 0h1m17 0h1m17 0h1m1 0h1m2 0h2m1 0h1m2 0h1m6 0h1m6 0h2m1 0h2m2 0h1m19 0h1m8 0h2m5 0h1m10 0h2m1 0h1m12 0h1m13 0h4m1 0h3m6 0h1m13 0h2m17 0h1m2 0h1m122 0h1m3 0h1m5 0h1m2 0h2m12 0h3m3 0h1m-669 1h1m12 0h1m6 0h3m4 0h1m8 0h1m25 0h1m1 0h2m17 0h1m14 0h1m11 0h1m18 0h1m110 0h1m10 0h1m18 0h1m6 0h3m28 0h1m3 0h1m1 0h2m3 0h1m8 0h1m8 0h1m1 0h1m12 0h1m6 0h1m8 0h1m2 0h1m5 0h1m4 0h1m4 0h1m7 0h1m5 0h4m13 0h2m5 0h1m3 0h1m24 0h1m3 0h1m1 0h2m4 0h1m138 0h1m38 0h2m2 0h1m9 0h1m3 0h2m5 0h2m3 0h1m-675 1h1m4 0h1m15 0h1m2 0h4m2 0h1m17 0h1m5 0h1m1 0h1m2 0h1m1 0h2m1 0h1m35 0h2m3 0h1m7 0h1m9 0h1m5 0h1m45 0h1m67 0h1m1 0h1m5 0h1m24 0h1m2 0h1m2 0h1m20 0h2m10 0h2m15 0h1m2 0h1m1 0h2m23 0h2m3 0h1m3 0h1m10 0h1m3 0h2m16 0h1m3 0h1m4 0h1m10 0h1m9 0h1m10 0h1m10 0h1m1 0h1m4 0h2m7 0h1m3 0h1m18 0h1m1 0h2m106 0h1m21 0h1m10 0h1m10 0h2m6 0h1m15 0h1m-675 1h1m5 0h1m19 0h1m2 0h2m8 0h2m12 0h1m10 0h1m32 0h1m30 0h2m1 0h1m63 0h1m10 0h1m34 0h1m35 0h1m5 0h1m24 0h1m24 0h1m1 0h2m16 0h1m1 0h1m6 0h1m4 0h2m4 0h1m13 0h1m8 0h1m3 0h1m4 0h1m3 0h1m15 0h1m2 0h1m13 0h1m10 0h2m5 0h1m9 0h2m12 0h1m2 0h1m9 0h2m1 0h1m13 0h1m121 0h1m8 0h2m12 0h2m2 0h1m3 0h1m-653 1h3m2 0h2m2 0h1m15 0h1m11 0h1m2 0h1m3 0h2m1 0h1m7 0h1m18 0h1m12 0h2m2 0h1m25 0h1m2 0h1m1 0h2m44 0h1m12 0h1m80 0h1m3 0h1m3 0h1m22 0h2m15 0h1m2 0h1m6 0h1m7 0h1m9 0h2m15 0h1m11 0h1m3 0h2m8 0h1m3 0h2m3 0h1m17 0h1m4 0h1m4 0h1m8 0h1m9 0h2m5 0h2m8 0h2m1 0h1m9 0h1m4 0h1m8 0h2m107 0h2m3 0h1m39 0h1m4 0h1m4 0h1m4 0h3m3 0h1m-658 1h1m6 0h1m12 0h1m4 0h3m14 0h2m9 0h1m1 0h1m61 0h1m2 0h1m2 0h2m57 0h1m85 0h1m26 0h1m1 0h1m6 0h1m6 0h2m2 0h1m13 0h1m1 0h1m13 0h1m4 0h1m5 0h1m2 0h1m1 0h1m7 0h1m3 0h1m2 0h1m6 0h3m23 0h1m5 0h1m3 0h1m7 0h2m9 0h1m2 0h1m1 0h1m4 0h1m3 0h2m13 0h1m4 0h2m4 0h1m14 0h2m101 0h2m24 0h1m1 0h1m3 0h1m9 0h5m2 0h1m2 0h1m8 0h1m-657 1h2m2 0h1m8 0h1m8 0h1m12 0h2m12 0h1m1 0h1m35 0h1m1 0h1m25 0h4m5 0h1m100 0h2m18 0h2m44 0h1m3 0h1m15 0h2m10 0h2m22 0h1m16 0h1m7 0h1m1 0h2m3 0h1m3 0h1m32 0h1m3 0h1m5 0h2m12 0h1m6 0h1m4 0h1m14 0h2m24 0h1m3 0h1m133 0h1m7 0h1m1 0h1m3 0h2m2 0h1m-649 1h1m3 0h1m8 0h3m1 0h1m1 0h1m8 0h1m9 0h1m7 0h3m24 0h1m13 0h1m23 0h1m8 0h1m3 0h1m4 0h1m182 0h1m9 0h1m21 0h2m10 0h1m25 0h1m1 0h1m1 0h1m3 0h1m12 0h1m3 0h1m2 0h2m6 0h1m19 0h3m6 0h2m16 0h1m1 0h1m11 0h3m13 0h1m87 0h2m2 0h1m6 0h1m25 0h1m3 0h1m7 0h1m1 0h1m3 0h1m5 0h1m2 0h2m5 0h1m-658 1h1m12 0h1m3 0h4m1 0h1m8 0h1m43 0h1m46 0h1m4 0h2m3 0h1m115 0h1m29 0h1m30 0h1m9 0h1m4 0h1m39 0h2m2 0h1m10 0h2m3 0h1m2 0h2m4 0h1m1 0h1m7 0h1m1 0h1m6 0h1m1 0h1m7 0h1m21 0h1m1 0h2m2 0h1m2 0h1m1 0h1m12 0h1m12 0h2m12 0h1m99 0h1m2 0h1m13 0h1m13 0h1m7 0h1m3 0h3m7 0h1m1 0h1m7 0h2m-674 1h1m14 0h1m3 0h1m4 0h3m6 0h1m4 0h1m18 0h2m12 0h1m74 0h1m16 0h1m80 0h1m78 0h1m16 0h1m44 0h1m7 0h1m3 0h2m1 0h2m7 0h1m8 0h2m5 0h2m9 0h1m12 0h1m13 0h1m1 0h2m2 0h1m6 0h1m2 0h1m15 0h1m1 0h1m3 0h1m7 0h1m11 0h1m1 0h1m80 0h1m1 0h2m5 0h1m26 0h3m1 0h1m4 0h1m1 0h2m1 0h1m8 0h2m9 0h1m1 0h1m-677 1h1m20 0h1m3 0h1m2 0h1m2 0h1m6 0h1m12 0h1m85 0h3m23 0h1m50 0h1m9 0h1m11 0h3m44 0h1m5 0h1m6 0h2m26 0h1m2 0h1m11 0h1m1 0h1m21 0h1m17 0h1m3 0h1m3 0h1m4 0h1m9 0h1m14 0h3m8 0h2m4 0h2m11 0h1m5 0h1m23 0h2m10 0h2m2 0h2m2 0h1m24 0h1m53 0h2m4 0h1m2 0h1m26 0h1m20 0h1m1 0h2m1 0h2m6 0h3m3 0h1m6 0h2m1 0h1m9 0h1m1 0h1m-661 1h1m1 0h1m1 0h1m11 0h1m24 0h1m74 0h1m80 0h1m27 0h1m10 0h1m10 0h1m25 0h1m8 0h1m23 0h1m1 0h1m14 0h1m26 0h2m15 0h1m1 0h2m1 0h1m4 0h5m8 0h2m6 0h2m8 0h1m7 0h1m3 0h2m5 0h1m3 0h1m3 0h1m17 0h2m16 0h2m2 0h2m1 0h4m9 0h1m13 0h1m57 0h2m1 0h1m3 0h2m4 0h1m1 0h1m1 0h3m9 0h1m2 0h1m4 0h1m18 0h1m3 0h2m1 0h1m3 0h2m2 0h1m9 0h1m11 0h2m3 0h2m1 0h1m-681 1h1m15 0h1m15 0h1m99 0h4m27 0h2m48 0h1m17 0h1m6 0h1m1 0h1m1 0h1m1 0h1m9 0h1m41 0h1m18 0h1m18 0h2m3 0h2m26 0h1m3 0h1m14 0h1m1 0h1m1 0h1m1 0h1m3 0h1m3 0h3m12 0h1m20 0h1m6 0h1m2 0h1m3 0h1m2 0h1m4 0h1m4 0h1m5 0h1m2 0h1m1 0h1m2 0h1m2 0h2m8 0h2m4 0h1m2 0h1m21 0h1m58 0h1m7 0h3m1 0h1m8 0h1m6 0h1m38 0h1m3 0h1m3 0h3m4 0h2m3 0h1m4 0h1m17 0h1m-693 1h1m10 0h1m14 0h1m7 0h3m1 0h3m95 0h3m25 0h1m50 0h1m23 0h1m2 0h1m1 0h1m40 0h1m12 0h1m6 0h1m3 0h1m7 0h1m10 0h3m31 0h1m11 0h2m1 0h1m5 0h2m2 0h1m2 0h1m4 0h2m2 0h1m2 0h2m1 0h1m1 0h2m5 0h2m8 0h1m29 0h2m3 0h1m2 0h2m1 0h2m11 0h3m1 0h1m14 0h1m25 0h1m56 0h1m3 0h2m3 0h3m5 0h1m31 0h1m3 0h1m6 0h1m3 0h1m2 0h2m1 0h2m2 0h1m5 0h5m1 0h1m15 0h2m2 0h1m-677 1h1m10 0h1m4 0h1m1 0h1m9 0h1m3 0h3m1 0h1m10 0h2m76 0h1m78 0h1m3 0h1m13 0h2m50 0h2m12 0h1m2 0h3m13 0h1m7 0h1m3 0h1m31 0h1m12 0h2m8 0h2m1 0h1m14 0h3m1 0h2m1 0h1m3 0h1m10 0h1m3 0h1m2 0h3m2 0h1m5 0h1m2 0h2m12 0h1m2 0h1m10 0h1m1 0h1m2 0h1m14 0h2m1 0h3m25 0h1m62 0h1m10 0h1m17 0h1m8 0h1m3 0h1m12 0h2m3 0h2m6 0h2m5 0h1m3 0h1m2 0h3m6 0h1m4 0h1m1 0h1m2 0h1m1 0h2m1 0h1m-692 1h2m6 0h1m30 0h1m1 0h1m9 0h1m75 0h1m4 0h2m28 0h1m1 0h1m95 0h1m1 0h1m27 0h1m7 0h1m60 0h1m1 0h1m8 0h1m4 0h1m5 0h1m1 0h1m1 0h1m1 0h2m1 0h1m2 0h3m2 0h1m1 0h1m3 0h2m1 0h1m1 0h1m1 0h1m1 0h2m3 0h1m6 0h2m2 0h2m4 0h1m1 0h3m1 0h1m8 0h1m2 0h2m11 0h1m1 0h1m2 0h1m1 0h1m7 0h1m8 0h1m1 0h1m3 0h1m10 0h2m11 0h3m1 0h2m53 0h2m2 0h1m1 0h1m2 0h1m3 0h1m3 0h1m11 0h1m6 0h1m5 0h3m4 0h1m7 0h1m4 0h2m14 0h1m4 0h1m1 0h1m9 0h3m4 0h2m4 0h1m-685 1h1m1 0h2m5 0h1m3 0h1m3 0h1m2 0h2m4 0h1m10 0h1m5 0h1m41 0h1m30 0h1m43 0h1m48 0h2m49 0h1m28 0h1m19 0h1m7 0h1m49 0h1m8 0h1m1 0h1m2 0h2m3 0h1m4 0h1m5 0h1m1 0h2m1 0h1m1 0h1m4 0h1m2 0h1m1 0h1m7 0h1m3 0h2m10 0h1m1 0h3m1 0h2m19 0h1m1 0h1m3 0h1m3 0h1m5 0h2m8 0h1m1 0h1m5 0h1m6 0h3m3 0h3m2 0h1m2 0h1m52 0h1m1 0h1m2 0h1m3 0h1m1 0h1m2 0h1m1 0h2m2 0h2m9 0h2m4 0h1m2 0h1m25 0h1m5 0h1m2 0h1m7 0h2m1 0h1m4 0h1m2 0h1m3 0h1m3 0h3m7 0h1m2 0h2m-669 1h2m4 0h1m7 0h1m14 0h1m3 0h1m28 0h1m37 0h1m39 0h1m3 0h1m27 0h1m65 0h1m13 0h1m6 0h1m9 0h2m8 0h1m17 0h3m17 0h1m17 0h1m8 0h1m1 0h1m5 0h1m7 0h1m1 0h1m2 0h1m4 0h1m6 0h1m2 0h1m10 0h1m2 0h1m1 0h2m5 0h1m16 0h1m10 0h1m12 0h2m7 0h1m5 0h1m12 0h1m10 0h1m7 0h1m3 0h1m1 0h1m51 0h1m1 0h1m8 0h1m40 0h1m15 0h1m4 0h1m2 0h1m4 0h1m4 0h1m5 0h4m11 0h1m7 0h1m3 0h1m-696 1h1m3 0h1m4 0h2m9 0h1m7 0h2m6 0h2m21 0h1m75 0h1m31 0h1m2 0h1m1 0h1m26 0h1m85 0h1m36 0h1m9 0h1m11 0h1m7 0h1m4 0h1m7 0h1m3 0h1m8 0h2m4 0h1m6 0h1m7 0h3m1 0h1m2 0h4m12 0h2m3 0h1m19 0h1m3 0h1m4 0h1m1 0h1m9 0h2m6 0h1m4 0h1m3 0h2m4 0h2m2 0h1m4 0h2m16 0h2m11 0h1m45 0h1m10 0h1m17 0h1m7 0h1m1 0h1m29 0h1m9 0h1m9 0h1m1 0h2m10 0h2m11 0h2m-680 1h1m5 0h1m9 0h1m6 0h1m9 0h1m3 0h1m1 0h1m10 0h1m21 0h1m1 0h2m37 0h2m2 0h1m1 0h1m1 0h1m27 0h1m3 0h1m2 0h1m3 0h1m9 0h1m30 0h1m2 0h1m37 0h1m3 0h1m18 0h1m3 0h1m1 0h1m9 0h1m10 0h1m8 0h2m4 0h1m30 0h1m1 0h2m1 0h1m2 0h1m3 0h1m3 0h2m6 0h1m14 0h1m2 0h1m4 0h4m1 0h1m1 0h1m6 0h1m5 0h1m2 0h1m3 0h1m27 0h2m1 0h2m4 0h3m2 0h1m8 0h1m7 0h1m4 0h2m2 0h1m7 0h1m4 0h1m3 0h1m7 0h1m60 0h1m1 0h1m22 0h1m6 0h1m2 0h2m13 0h1m10 0h2m5 0h1m5 0h1m1 0h1m9 0h3m3 0h1m4 0h2m3 0h1m1 0h2m-688 1h1m2 0h2m5 0h1m5 0h1m2 0h1m18 0h2m8 0h1m3 0h1m2 0h1m3 0h1m28 0h1m31 0h1m66 0h1m1 0h1m2 0h1m27 0h1m40 0h2m18 0h1m25 0h1m17 0h1m27 0h1m1 0h2m5 0h1m2 0h1m12 0h2m7 0h3m1 0h3m3 0h1m2 0h1m1 0h1m3 0h2m14 0h1m1 0h2m4 0h2m11 0h1m4 0h1m3 0h2m2 0h1m2 0h2m1 0h1m5 0h2m1 0h1m5 0h1m1 0h1m5 0h1m1 0h1m6 0h2m6 0h3m4 0h1m4 0h2m3 0h1m5 0h1m3 0h1m1 0h2m47 0h1m5 0h1m20 0h1m6 0h1m1 0h2m14 0h1m2 0h2m4 0h1m6 0h1m7 0h1m10 0h1m1 0h1m3 0h2m4 0h1m2 0h1m3 0h1m1 0h3m-692 1h1m3 0h3m3 0h2m1 0h1m10 0h1m1 0h1m21 0h1m4 0h1m5 0h2m27 0h2m37 0h1m53 0h1m7 0h3m1 0h3m57 0h1m26 0h1m11 0h1m11 0h1m3 0h1m3 0h1m6 0h1m5 0h1m32 0h1m1 0h1m11 0h2m6 0h2m7 0h1m2 0h1m2 0h1m2 0h1m2 0h1m4 0h3m7 0h2m1 0h1m4 0h1m1 0h1m2 0h1m1 0h1m1 0h1m13 0h1m5 0h1m6 0h1m2 0h2m1 0h1m1 0h1m3 0h1m7 0h1m1 0h1m10 0h1m2 0h1m3 0h1m2 0h2m17 0h1m6 0h2m3 0h1m49 0h1m31 0h1m8 0h1m8 0h1m1 0h3m11 0h1m4 0h1m14 0h2m1 0h2m1 0h2m3 0h1m2 0h1m-685 1h1m4 0h1m7 0h2m8 0h1m1 0h1m27 0h1m5 0h1m120 0h2m8 0h3m25 0h1m57 0h1m12 0h2m16 0h1m16 0h1m26 0h1m19 0h1m6 0h1m7 0h1m3 0h1m1 0h1m15 0h1m3 0h1m3 0h1m2 0h1m9 0h2m16 0h1m2 0h1m2 0h1m6 0h1m3 0h1m1 0h3m3 0h1m1 0h1m6 0h1m13 0h1m2 0h2m2 0h1m19 0h2m5 0h2m54 0h1m8 0h1m13 0h2m5 0h2m17 0h1m1 0h2m1 0h1m1 0h2m1 0h1m1 0h1m4 0h1m2 0h2m18 0h1m2 0h3m3 0h1m-683 1h1m12 0h1m1 0h1m1 0h3m3 0h2m1 0h1m8 0h1m53 0h1m98 0h1m3 0h1m45 0h1m8 0h1m29 0h3m6 0h1m1 0h1m2 0h1m4 0h1m1 0h1m24 0h1m5 0h2m1 0h1m17 0h1m1 0h1m3 0h1m1 0h1m16 0h1m10 0h1m1 0h1m12 0h1m8 0h1m2 0h1m8 0h1m5 0h1m1 0h1m17 0h1m22 0h4m20 0h1m4 0h1m3 0h1m4 0h1m3 0h2m4 0h1m1 0h1m3 0h2m5 0h1m46 0h1m1 0h1m2 0h1m1 0h1m5 0h2m7 0h1m10 0h2m4 0h1m14 0h1m1 0h1m1 0h1m2 0h1m4 0h1m4 0h1m17 0h1m10 0h1m-680 1h1m29 0h4m5 0h2m2 0h2m6 0h2m125 0h3m5 0h1m1 0h1m49 0h1m13 0h2m27 0h1m8 0h1m7 0h1m6 0h1m22 0h1m1 0h1m1 0h1m9 0h1m9 0h1m5 0h1m14 0h1m2 0h2m13 0h1m4 0h1m9 0h1m4 0h1m9 0h1m4 0h3m1 0h2m6 0h1m3 0h2m9 0h2m9 0h2m1 0h1m4 0h1m21 0h3m3 0h1m2 0h1m5 0h1m2 0h3m4 0h1m5 0h1m1 0h1m1 0h1m3 0h1m44 0h2m1 0h2m29 0h1m1 0h3m1 0h1m6 0h1m7 0h1m5 0h1m5 0h1m1 0h1m3 0h3m14 0h2m3 0h5m-676 1h2m27 0h1m1 0h2m10 0h1m6 0h1m91 0h1m33 0h1m1 0h2m3 0h2m1 0h1m56 0h1m5 0h1m29 0h1m5 0h1m2 0h1m8 0h1m5 0h1m21 0h2m2 0h1m4 0h1m13 0h1m4 0h2m11 0h3m3 0h1m5 0h1m2 0h1m4 0h1m3 0h1m27 0h1m1 0h1m25 0h2m3 0h2m3 0h1m5 0h1m2 0h2m3 0h1m20 0h2m4 0h2m1 0h2m4 0h1m6 0h3m1 0h1m4 0h2m1 0h1m49 0h2m1 0h1m3 0h3m28 0h3m21 0h1m1 0h1m3 0h3m2 0h1m17 0h2m4 0h1m-667 1h2m25 0h1m6 0h2m1 0h1m14 0h1m57 0h1m2 0h1m68 0h2m12 0h1m1 0h1m92 0h1m3 0h1m26 0h1m9 0h1m8 0h3m1 0h2m20 0h2m9 0h1m8 0h1m9 0h1m4 0h1m2 0h1m9 0h1m5 0h1m5 0h1m1 0h3m4 0h1m5 0h1m1 0h1m3 0h1m4 0h1m9 0h1m27 0h2m13 0h1m2 0h4m4 0h1m4 0h1m2 0h2m41 0h1m1 0h2m6 0h1m2 0h2m21 0h1m3 0h1m15 0h2m8 0h1m5 0h1m1 0h1m1 0h1m16 0h1m5 0h1m-662 1h2m2 0h3m12 0h1m4 0h1m1 0h1m4 0h1m2 0h1m11 0h1m57 0h1m80 0h1m4 0h1m3 0h1m45 0h1m42 0h2m3 0h1m9 0h1m13 0h2m3 0h1m13 0h4m1 0h1m6 0h1m1 0h1m9 0h2m4 0h1m9 0h1m1 0h1m1 0h1m5 0h2m12 0h1m8 0h4m3 0h2m2 0h2m12 0h1m3 0h1m2 0h1m1 0h1m1 0h2m18 0h1m2 0h1m4 0h1m9 0h1m3 0h1m13 0h1m6 0h2m2 0h2m8 0h1m43 0h2m1 0h1m11 0h1m11 0h1m9 0h2m3 0h2m7 0h3m3 0h1m4 0h3m4 0h1m7 0h2m13 0h1m1 0h1m-673 1h1m4 0h2m7 0h1m9 0h1m9 0h1m6 0h1m1 0h2m6 0h1m102 0h1m28 0h1m4 0h2m5 0h1m5 0h1m6 0h1m3 0h1m68 0h1m10 0h1m7 0h1m14 0h1m33 0h2m20 0h1m5 0h1m9 0h1m3 0h1m1 0h1m2 0h1m9 0h1m7 0h2m6 0h3m14 0h1m8 0h1m2 0h3m1 0h1m4 0h1m1 0h1m1 0h2m3 0h2m1 0h1m3 0h1m8 0h2m7 0h1m2 0h1m4 0h1m3 0h1m8 0h1m1 0h2m8 0h1m1 0h1m2 0h2m1 0h1m1 0h1m39 0h1m2 0h2m3 0h1m2 0h1m3 0h2m3 0h3m5 0h1m13 0h1m1 0h2m9 0h1m2 0h2m3 0h1m1 0h1m4 0h1m2 0h1m2 0h1m1 0h2m13 0h1m2 0h2m-664 1h1m2 0h2m4 0h1m1 0h1m2 0h1m10 0h1m26 0h1m89 0h2m1 0h2m24 0h1m1 0h1m2 0h2m21 0h1m2 0h1m16 0h1m22 0h1m45 0h1m3 0h1m53 0h1m3 0h1m3 0h1m20 0h1m2 0h1m5 0h1m15 0h1m1 0h1m9 0h2m28 0h2m6 0h1m3 0h2m9 0h4m18 0h1m2 0h1m4 0h1m8 0h2m5 0h1m1 0h1m1 0h1m2 0h1m7 0h2m37 0h1m1 0h2m1 0h1m6 0h1m4 0h1m5 0h1m5 0h1m1 0h1m1 0h1m9 0h3m8 0h3m3 0h1m3 0h1m1 0h1m4 0h1m1 0h1m4 0h1m2 0h3m7 0h1m2 0h2m-668 1h1m6 0h2m4 0h1m1 0h1m1 0h2m13 0h1m26 0h1m31 0h1m25 0h1m36 0h1m23 0h1m8 0h2m2 0h1m1 0h2m5 0h1m1 0h1m4 0h3m37 0h1m3 0h1m24 0h1m1 0h1m8 0h2m52 0h1m8 0h1m1 0h2m7 0h2m14 0h1m2 0h3m2 0h2m2 0h2m22 0h1m4 0h1m10 0h2m2 0h2m15 0h1m17 0h1m14 0h1m11 0h3m3 0h1m7 0h1m7 0h3m1 0h2m1 0h2m56 0h2m4 0h1m7 0h1m8 0h1m2 0h1m3 0h2m1 0h2m11 0h1m2 0h4m3 0h2m5 0h1m3 0h1m6 0h1m8 0h1m-652 1h1m3 0h1m2 0h1m4 0h1m5 0h1m23 0h1m1 0h2m90 0h1m2 0h2m4 0h1m19 0h1m8 0h2m11 0h2m4 0h1m32 0h1m10 0h1m3 0h1m2 0h3m15 0h3m47 0h1m4 0h1m17 0h1m8 0h1m2 0h1m11 0h1m2 0h1m1 0h1m2 0h1m23 0h2m2 0h4m13 0h2m9 0h1m3 0h1m6 0h1m2 0h1m1 0h3m2 0h1m2 0h1m15 0h2m4 0h1m11 0h1m12 0h1m3 0h1m1 0h1m4 0h4m6 0h1m2 0h1m36 0h1m2 0h3m4 0h1m3 0h1m4 0h3m6 0h2m6 0h2m5 0h1m9 0h2m8 0h1m1 0h1m3 0h1m6 0h3m1 0h1m-653 1h1m19 0h2m3 0h1m1 0h1m9 0h4m18 0h1m95 0h1m2 0h1m2 0h3m12 0h1m4 0h1m11 0h1m4 0h1m1 0h1m4 0h1m2 0h1m1 0h1m3 0h2m46 0h2m15 0h1m10 0h1m10 0h1m29 0h1m11 0h1m3 0h1m10 0h1m4 0h1m7 0h1m11 0h1m1 0h2m6 0h1m14 0h2m3 0h1m15 0h2m5 0h1m7 0h1m8 0h1m2 0h1m27 0h4m7 0h1m3 0h2m1 0h1m1 0h1m6 0h1m12 0h1m4 0h1m42 0h1m2 0h1m2 0h2m8 0h1m4 0h2m2 0h3m1 0h2m1 0h1m10 0h1m1 0h1m5 0h3m1 0h1m14 0h2m3 0h2m1 0h1m13 0h1m2 0h1m4 0h2m-676 1h1m3 0h1m18 0h2m2 0h1m1 0h1m6 0h1m15 0h1m13 0h1m33 0h1m55 0h3m7 0h2m10 0h2m9 0h2m6 0h1m4 0h1m4 0h1m2 0h1m149 0h1m6 0h2m16 0h1m2 0h2m2 0h1m1 0h1m29 0h1m4 0h2m13 0h1m4 0h1m5 0h1m8 0h1m1 0h1m5 0h1m4 0h1m2 0h1m13 0h1m2 0h2m4 0h1m16 0h4m49 0h1m7 0h3m1 0h1m2 0h2m1 0h1m6 0h2m5 0h1m12 0h2m4 0h1m2 0h3m10 0h1m4 0h1m15 0h1m5 0h1m1 0h1m1 0h1m1 0h1m1 0h2m-678 1h3m2 0h1m5 0h2m6 0h3m2 0h2m4 0h1m1 0h1m3 0h1m1 0h2m13 0h1m2 0h1m103 0h1m1 0h1m16 0h1m1 0h1m10 0h1m1 0h3m14 0h1m1 0h3m87 0h1m5 0h1m54 0h2m3 0h1m2 0h1m5 0h3m1 0h1m4 0h1m30 0h1m7 0h1m2 0h1m4 0h1m3 0h1m7 0h1m3 0h3m3 0h1m6 0h1m1 0h1m5 0h2m3 0h1m1 0h2m9 0h1m5 0h1m4 0h1m4 0h1m6 0h2m9 0h2m49 0h1m4 0h1m2 0h1m1 0h2m1 0h1m8 0h1m2 0h2m3 0h1m12 0h1m10 0h1m2 0h4m4 0h1m2 0h2m1 0h1m1 0h3m18 0h1m2 0h2m2 0h1m-675 1h1m6 0h1m11 0h1m9 0h1m8 0h1m4 0h1m1 0h2m5 0h1m111 0h1m9 0h2m5 0h2m7 0h1m1 0h1m1 0h1m1 0h1m3 0h3m8 0h1m57 0h2m1 0h1m1 0h1m17 0h2m8 0h1m6 0h1m37 0h1m3 0h1m5 0h1m3 0h2m8 0h1m14 0h1m5 0h3m18 0h1m22 0h2m7 0h1m9 0h1m4 0h2m3 0h1m4 0h2m2 0h1m2 0h2m10 0h1m2 0h3m8 0h1m1 0h1m5 0h1m2 0h1m11 0h2m45 0h3m3 0h2m4 0h2m13 0h1m1 0h1m1 0h1m1 0h1m4 0h3m2 0h2m5 0h1m14 0h1m3 0h1m2 0h2m2 0h1m4 0h1m11 0h1m5 0h3m-669 1h2m2 0h1m1 0h1m4 0h1m1 0h2m7 0h1m7 0h2m5 0h1m23 0h3m40 0h2m53 0h1m24 0h1m2 0h1m6 0h2m9 0h1m65 0h1m12 0h1m9 0h1m56 0h2m7 0h1m1 0h2m2 0h2m6 0h2m27 0h1m2 0h1m7 0h1m4 0h1m1 0h1m5 0h1m3 0h1m17 0h1m4 0h1m3 0h3m3 0h1m3 0h1m1 0h2m10 0h1m2 0h1m6 0h1m2 0h1m12 0h2m5 0h3m3 0h1m43 0h1m4 0h1m9 0h1m12 0h1m18 0h1m3 0h1m5 0h1m5 0h1m2 0h1m6 0h1m22 0h1m1 0h2m-667 1h2m11 0h1m16 0h1m1 0h1m5 0h1m4 0h1m5 0h3m1 0h1m105 0h2m3 0h3m1 0h1m21 0h2m15 0h1m44 0h1m40 0h1m15 0h2m44 0h1m4 0h1m1 0h1m5 0h2m7 0h2m19 0h2m5 0h1m3 0h1m3 0h1m7 0h1m1 0h1m1 0h2m6 0h2m13 0h1m3 0h1m4 0h3m2 0h1m2 0h6m14 0h2m6 0h6m10 0h2m3 0h1m4 0h1m1 0h1m41 0h2m7 0h1m1 0h1m5 0h1m2 0h1m2 0h1m4 0h1m4 0h3m16 0h1m11 0h1m1 0h1m2 0h4m9 0h1m12 0h1m2 0h1m3 0h2m-666 1h1m15 0h1m3 0h1m8 0h1m7 0h1m3 0h1m1 0h1m1 0h1m2 0h1m11 0h1m92 0h1m19 0h1m10 0h1m1 0h1m19 0h1m84 0h1m15 0h3m21 0h1m12 0h1m1 0h1m4 0h3m1 0h1m26 0h1m2 0h2m9 0h3m3 0h3m28 0h1m2 0h2m3 0h1m5 0h1m2 0h1m3 0h1m3 0h1m1 0h1m1 0h2m1 0h1m5 0h1m9 0h2m3 0h1m3 0h2m12 0h1m2 0h5m1 0h1m3 0h1m2 0h1m41 0h1m10 0h1m2 0h1m4 0h3m14 0h1m6 0h2m8 0h1m2 0h3m3 0h3m4 0h1m1 0h1m6 0h1m7 0h1m14 0h1m-646 1h2m8 0h1m6 0h1m73 0h1m43 0h2m1 0h1m6 0h1m2 0h1m6 0h1m61 0h1m40 0h1m1 0h1m3 0h1m12 0h3m46 0h3m5 0h1m3 0h1m19 0h3m3 0h1m1 0h1m10 0h2m7 0h2m10 0h2m9 0h1m3 0h2m4 0h2m3 0h1m4 0h1m2 0h2m2 0h1m5 0h3m5 0h1m2 0h1m3 0h1m4 0h1m4 0h2m14 0h1m5 0h1m5 0h1m7 0h2m38 0h2m13 0h1m10 0h2m2 0h1m4 0h1m2 0h1m1 0h1m2 0h2m9 0h1m4 0h2m2 0h2m2 0h2m1 0h2m1 0h1m3 0h2m21 0h1m-643 1h1m15 0h1m1 0h1m7 0h1m57 0h3m3 0h1m48 0h1m1 0h1m21 0h1m23 0h1m1 0h3m46 0h1m6 0h1m31 0h1m1 0h1m2 0h1m74 0h1m6 0h1m1 0h1m7 0h2m1 0h1m9 0h2m3 0h1m7 0h2m4 0h1m2 0h2m14 0h1m8 0h2m2 0h1m3 0h1m1 0h1m3 0h1m4 0h1m2 0h1m1 0h2m1 0h1m3 0h1m13 0h1m7 0h1m1 0h1m5 0h1m3 0h1m2 0h1m40 0h2m12 0h1m5 0h2m1 0h1m2 0h1m8 0h2m6 0h2m4 0h1m2 0h1m4 0h1m6 0h2m3 0h2m25 0h1m-661 1h1m19 0h1m24 0h1m12 0h1m47 0h1m1 0h1m1 0h2m1 0h1m46 0h1m9 0h2m24 0h1m12 0h2m17 0h1m36 0h2m15 0h1m2 0h1m14 0h1m2 0h1m19 0h1m14 0h2m17 0h1m4 0h1m5 0h2m1 0h1m6 0h1m6 0h1m6 0h1m14 0h3m2 0h1m7 0h2m1 0h1m3 0h1m3 0h1m1 0h1m3 0h1m6 0h2m2 0h1m2 0h1m2 0h1m7 0h1m1 0h1m2 0h1m7 0h1m1 0h1m1 0h2m1 0h1m2 0h1m5 0h1m13 0h1m5 0h1m1 0h1m5 0h2m1 0h2m1 0h1m2 0h1m33 0h2m1 0h2m27 0h1m15 0h2m1 0h3m13 0h1m3 0h1m-631 1h1m16 0h1m17 0h1m3 0h2m17 0h1m1 0h1m44 0h1m22 0h3m5 0h2m15 0h2m2 0h1m14 0h1m6 0h1m1 0h1m9 0h3m13 0h2m41 0h1m24 0h1m4 0h1m1 0h1m2 0h1m6 0h2m23 0h1m38 0h2m1 0h1m8 0h2m7 0h2m3 0h2m10 0h2m12 0h2m5 0h1m6 0h2m5 0h1m5 0h1m10 0h2m9 0h1m1 0h2m2 0h1m1 0h3m5 0h1m1 0h1m3 0h1m2 0h1m5 0h1m12 0h1m8 0h1m2 0h1m5 0h1m3 0h2m33 0h1m4 0h2m4 0h1m1 0h1m5 0h1m5 0h2m6 0h2m5 0h1m15 0h1m2 0h1m3 0h1m1 0h1m9 0h1m-635 1h1m4 0h1m10 0h3m2 0h1m2 0h1m2 0h1m3 0h1m3 0h1m6 0h1m45 0h1m22 0h1m20 0h1m20 0h1m15 0h1m2 0h1m7 0h1m11 0h1m15 0h3m22 0h1m16 0h1m11 0h1m13 0h1m3 0h1m4 0h1m10 0h1m21 0h2m1 0h1m7 0h1m34 0h1m4 0h2m8 0h1m2 0h1m3 0h1m8 0h1m1 0h1m11 0h1m1 0h2m3 0h2m12 0h1m4 0h1m1 0h1m6 0h1m8 0h1m5 0h2m2 0h2m12 0h1m1 0h3m7 0h1m4 0h2m5 0h1m2 0h1m1 0h1m3 0h3m1 0h1m1 0h1m1 0h1m1 0h1m3 0h1m1 0h2m29 0h1m2 0h1m3 0h4m5 0h2m2 0h3m2 0h1m1 0h1m1 0h3m5 0h2m1 0h1m5 0h1m1 0h1m13 0h2m1 0h2m3 0h1m6 0h1m-635 1h1m15 0h2m8 0h2m3 0h1m1 0h1m6 0h1m2 0h1m8 0h1m6 0h1m51 0h1m45 0h1m5 0h2m6 0h1m2 0h4m13 0h2m17 0h1m19 0h1m20 0h2m6 0h1m23 0h1m4 0h1m6 0h1m33 0h1m1 0h1m3 0h1m6 0h1m23 0h2m6 0h1m4 0h2m3 0h1m6 0h1m3 0h1m1 0h1m2 0h2m22 0h1m7 0h1m1 0h1m1 0h1m13 0h1m2 0h2m5 0h1m1 0h4m21 0h2m4 0h4m7 0h3m1 0h1m3 0h1m4 0h2m4 0h1m2 0h1m32 0h1m4 0h2m1 0h1m3 0h1m3 0h1m1 0h2m2 0h4m1 0h1m1 0h1m2 0h1m7 0h2m4 0h1m2 0h4m7 0h3m7 0h1m4 0h2m-635 1h1m1 0h1m13 0h1m1 0h1m4 0h1m2 0h1m1 0h1m8 0h1m11 0h1m13 0h1m74 0h1m20 0h1m2 0h2m6 0h1m2 0h1m1 0h2m16 0h1m1 0h2m11 0h2m74 0h1m3 0h1m1 0h1m4 0h1m44 0h1m28 0h1m1 0h1m1 0h2m4 0h1m5 0h1m1 0h1m5 0h1m2 0h1m3 0h1m5 0h2m1 0h1m5 0h1m3 0h1m17 0h2m4 0h1m6 0h2m1 0h1m7 0h1m2 0h1m4 0h1m7 0h1m2 0h1m3 0h4m4 0h1m1 0h1m7 0h1m2 0h1m8 0h1m2 0h1m1 0h4m35 0h2m6 0h1m11 0h1m2 0h2m1 0h1m1 0h1m9 0h1m4 0h1m2 0h1m4 0h1m1 0h4m2 0h2m8 0h1m3 0h1m2 0h1m-628 1h2m2 0h1m5 0h1m3 0h1m1 0h1m2 0h3m4 0h1m3 0h1m1 0h2m9 0h1m38 0h1m4 0h1m14 0h2m24 0h3m28 0h1m6 0h2m4 0h1m3 0h1m11 0h1m61 0h1m1 0h1m13 0h1m14 0h1m1 0h1m29 0h2m16 0h1m31 0h1m2 0h1m4 0h1m1 0h1m6 0h1m2 0h1m2 0h1m1 0h2m2 0h1m1 0h2m13 0h1m1 0h4m7 0h2m4 0h1m2 0h1m1 0h2m2 0h1m6 0h1m3 0h1m4 0h1m8 0h1m9 0h1m1 0h1m7 0h2m2 0h2m7 0h1m1 0h2m2 0h1m1 0h1m3 0h4m2 0h2m31 0h2m1 0h1m1 0h1m1 0h1m10 0h1m3 0h1m4 0h1m3 0h1m1 0h1m14 0h1m3 0h2m2 0h1m10 0h2m1 0h1m2 0h3m-612 1h1m22 0h1m2 0h1m2 0h1m3 0h1m39 0h1m5 0h2m11 0h1m63 0h1m4 0h1m4 0h1m7 0h1m3 0h1m13 0h2m47 0h1m26 0h1m3 0h1m2 0h1m5 0h2m30 0h1m33 0h1m1 0h1m7 0h1m8 0h1m6 0h1m4 0h1m4 0h1m5 0h3m4 0h2m2 0h2m9 0h1m5 0h2m3 0h1m1 0h1m3 0h1m3 0h3m5 0h1m1 0h1m3 0h1m8 0h1m5 0h1m1 0h1m8 0h2m7 0h3m2 0h1m4 0h3m5 0h2m3 0h1m1 0h1m30 0h1m1 0h1m3 0h1m3 0h2m2 0h1m3 0h1m8 0h1m10 0h2m10 0h1m3 0h2m4 0h1m4 0h1m1 0h1m5 0h3m9 0h1m3 0h1m-647 1h1m9 0h2m3 0h1m4 0h1m5 0h1m2 0h1m1 0h1m5 0h1m6 0h1m1 0h1m6 0h1m31 0h2m10 0h1m1 0h1m40 0h1m17 0h1m23 0h2m16 0h1m3 0h1m3 0h1m27 0h2m21 0h1m24 0h1m2 0h1m2 0h2m1 0h2m7 0h1m17 0h1m9 0h1m3 0h3m4 0h4m22 0h1m17 0h1m2 0h1m9 0h1m2 0h2m1 0h2m6 0h1m5 0h4m8 0h2m2 0h1m6 0h1m1 0h1m5 0h1m2 0h1m5 0h1m2 0h1m1 0h1m1 0h2m4 0h1m6 0h1m17 0h1m6 0h3m4 0h2m1 0h2m8 0h2m27 0h1m4 0h2m6 0h2m4 0h1m4 0h2m1 0h1m1 0h2m3 0h1m2 0h1m6 0h1m4 0h1m5 0h1m4 0h1m1 0h1m2 0h1m1 0h2m1 0h1m1 0h2m1 0h2m-629 1h1m13 0h1m4 0h1m4 0h1m6 0h1m5 0h1m51 0h1m7 0h2m80 0h1m2 0h1m3 0h1m7 0h2m2 0h2m54 0h1m14 0h3m10 0h2m5 0h1m46 0h2m4 0h2m26 0h2m10 0h1m6 0h1m7 0h2m2 0h1m3 0h2m1 0h1m4 0h1m4 0h1m2 0h2m1 0h1m6 0h6m5 0h1m2 0h1m6 0h1m26 0h1m1 0h1m3 0h1m1 0h2m5 0h1m1 0h2m6 0h1m3 0h3m1 0h1m7 0h2m30 0h1m16 0h1m2 0h3m1 0h1m2 0h3m5 0h1m1 0h2m2 0h3m4 0h2m2 0h3m5 0h1m2 0h1m2 0h1m5 0h2m-621 1h1m9 0h1m1 0h1m5 0h1m4 0h1m1 0h1m13 0h1m41 0h1m10 0h3m17 0h1m18 0h1m18 0h2m6 0h2m9 0h2m2 0h2m18 0h2m59 0h1m9 0h1m16 0h1m3 0h1m28 0h2m19 0h1m25 0h1m6 0h1m11 0h2m10 0h1m3 0h1m5 0h1m1 0h2m5 0h3m1 0h2m2 0h2m7 0h1m13 0h1m4 0h1m4 0h1m3 0h2m13 0h1m3 0h1m2 0h2m2 0h1m1 0h1m4 0h1m16 0h1m8 0h1m3 0h2m2 0h1m17 0h1m4 0h1m1 0h1m1 0h1m11 0h1m1 0h1m1 0h2m6 0h1m2 0h1m1 0h1m5 0h1m6 0h2m7 0h3m2 0h2m1 0h1m1 0h1m4 0h3m3 0h1m-623 1h1m3 0h2m1 0h1m14 0h1m6 0h1m50 0h1m4 0h1m3 0h1m9 0h1m51 0h2m6 0h1m1 0h1m10 0h1m3 0h2m155 0h1m29 0h1m8 0h2m8 0h1m18 0h2m1 0h1m1 0h1m1 0h1m1 0h1m7 0h2m13 0h1m6 0h1m6 0h2m1 0h1m3 0h2m9 0h1m4 0h1m1 0h2m2 0h1m3 0h3m2 0h2m1 0h1m2 0h1m9 0h1m5 0h1m3 0h1m6 0h2m2 0h2m1 0h1m13 0h3m1 0h1m4 0h1m3 0h1m7 0h1m1 0h2m1 0h2m2 0h1m6 0h1m1 0h1m5 0h1m4 0h2m10 0h1m7 0h1m2 0h1m2 0h1m3 0h1m2 0h1m18 0h1m-646 1h1m2 0h1m1 0h1m13 0h1m3 0h1m1 0h1m12 0h1m2 0h1m1 0h1m3 0h1m36 0h1m4 0h1m3 0h1m5 0h1m3 0h1m71 0h1m19 0h1m60 0h2m29 0h2m53 0h1m2 0h2m20 0h2m1 0h1m1 0h1m4 0h1m1 0h1m6 0h1m14 0h2m3 0h1m4 0h1m8 0h1m4 0h1m1 0h4m6 0h1m4 0h1m1 0h1m6 0h1m1 0h2m6 0h1m1 0h1m13 0h1m1 0h1m2 0h1m5 0h3m2 0h2m2 0h1m2 0h3m1 0h3m1 0h1m13 0h1m4 0h1m13 0h1m1 0h1m6 0h2m8 0h2m2 0h2m2 0h2m10 0h2m8 0h1m6 0h1m12 0h1m2 0h1m1 0h2m4 0h1m19 0h2m2 0h1m-642 1h1m8 0h1m5 0h1m5 0h1m11 0h2m8 0h1m38 0h1m3 0h2m70 0h1m1 0h1m9 0h1m20 0h1m1 0h1m38 0h1m53 0h2m25 0h2m26 0h1m21 0h1m11 0h1m16 0h1m3 0h3m1 0h1m8 0h2m5 0h1m1 0h3m1 0h2m1 0h1m7 0h2m12 0h3m11 0h2m3 0h1m3 0h3m2 0h1m17 0h2m6 0h1m1 0h1m18 0h2m1 0h2m9 0h1m5 0h1m1 0h1m1 0h1m1 0h2m1 0h1m3 0h1m7 0h2m1 0h1m12 0h1m2 0h1m1 0h1m1 0h1m3 0h1m2 0h1m7 0h1m1 0h1m1 0h1m36 0h1m-651 1h1m1 0h1m14 0h1m6 0h1m1 0h1m26 0h2m3 0h1m13 0h1m79 0h1m6 0h1m3 0h2m2 0h1m16 0h1m16 0h2m84 0h2m11 0h2m85 0h1m22 0h1m11 0h2m4 0h1m3 0h2m6 0h3m2 0h1m2 0h1m5 0h1m2 0h1m12 0h1m8 0h1m1 0h1m1 0h1m10 0h1m2 0h2m1 0h2m2 0h1m6 0h1m1 0h1m2 0h1m1 0h1m6 0h2m3 0h1m17 0h1m6 0h1m5 0h3m3 0h2m9 0h1m2 0h2m1 0h1m1 0h1m1 0h1m2 0h1m2 0h1m1 0h1m9 0h2m2 0h1m4 0h2m1 0h2m1 0h1m1 0h1m1 0h1m-626 1h1m2 0h1m12 0h1m6 0h2m1 0h1m4 0h1m16 0h2m5 0h1m2 0h1m12 0h1m17 0h1m5 0h1m4 0h2m50 0h1m4 0h2m3 0h1m4 0h1m7 0h1m39 0h2m22 0h1m4 0h1m8 0h2m5 0h1m20 0h1m6 0h1m6 0h1m53 0h1m30 0h2m3 0h1m1 0h1m7 0h1m10 0h1m17 0h1m7 0h1m9 0h1m5 0h1m7 0h1m1 0h1m3 0h1m15 0h1m1 0h2m1 0h1m2 0h1m1 0h1m5 0h1m1 0h1m2 0h1m1 0h1m2 0h1m8 0h2m4 0h1m5 0h1m2 0h1m14 0h2m5 0h1m2 0h1m2 0h1m3 0h1m8 0h1m1 0h1m6 0h1m1 0h2m1 0h1m3 0h1m3 0h1m1 0h1m3 0h1m3 0h1m5 0h3m1 0h1m2 0h1m2 0h1m3 0h2m2 0h1m4 0h3m21 0h1m-644 1h1m3 0h2m29 0h1m2 0h1m4 0h1m18 0h1m20 0h1m8 0h1m49 0h1m1 0h1m7 0h1m8 0h1m2 0h1m46 0h1m17 0h1m6 0h1m2 0h5m26 0h1m5 0h1m2 0h1m4 0h1m5 0h1m26 0h1m7 0h2m40 0h1m1 0h1m4 0h3m2 0h2m1 0h1m3 0h1m7 0h2m6 0h1m6 0h1m18 0h2m3 0h1m16 0h2m2 0h1m2 0h1m9 0h1m1 0h1m2 0h1m3 0h1m13 0h1m6 0h1m3 0h2m4 0h2m8 0h1m4 0h1m11 0h2m8 0h1m3 0h3m6 0h1m5 0h2m1 0h2m1 0h1m1 0h2m5 0h1m1 0h1m9 0h1m2 0h1m8 0h1m2 0h1m2 0h1m1 0h1m2 0h2m4 0h3m3 0h1m13 0h1m2 0h1m-641 1h1m8 0h1m25 0h2m10 0h1m11 0h1m16 0h1m4 0h2m7 0h1m4 0h1m43 0h1m1 0h1m8 0h1m11 0h1m6 0h1m3 0h1m34 0h2m24 0h1m6 0h1m21 0h1m14 0h1m1 0h1m41 0h1m1 0h1m11 0h1m21 0h1m3 0h2m2 0h1m1 0h2m2 0h1m1 0h1m2 0h1m5 0h1m2 0h1m1 0h1m6 0h1m1 0h1m21 0h1m4 0h1m8 0h2m3 0h1m7 0h2m1 0h3m1 0h1m16 0h1m3 0h1m5 0h1m1 0h1m4 0h1m10 0h3m5 0h1m17 0h1m4 0h1m7 0h1m1 0h1m6 0h1m9 0h1m2 0h4m2 0h2m5 0h3m3 0h1m2 0h1m2 0h1m14 0h2m8 0h1m2 0h1m1 0h1m1 0h3m14 0h1m1 0h1m5 0h1m-653 1h2m4 0h1m8 0h1m14 0h1m9 0h1m1 0h2m1 0h3m5 0h1m3 0h1m1 0h1m10 0h1m2 0h2m12 0h1m18 0h1m36 0h1m5 0h1m2 0h1m5 0h1m1 0h1m1 0h1m15 0h1m6 0h1m63 0h1m1 0h2m7 0h2m20 0h1m64 0h2m20 0h1m5 0h1m4 0h1m8 0h1m1 0h1m1 0h1m17 0h2m4 0h1m10 0h2m9 0h1m7 0h3m2 0h1m5 0h1m1 0h1m1 0h1m4 0h2m1 0h3m3 0h1m4 0h3m1 0h1m4 0h1m1 0h1m1 0h1m10 0h2m2 0h4m2 0h1m18 0h1m12 0h1m3 0h1m8 0h1m10 0h1m3 0h2m13 0h1m25 0h1m2 0h1m3 0h1m2 0h2m18 0h1m1 0h2m-644 1h1m2 0h2m4 0h2m5 0h1m6 0h1m1 0h1m14 0h1m9 0h1m1 0h1m12 0h1m16 0h1m62 0h1m1 0h1m15 0h1m7 0h1m29 0h1m1 0h1m34 0h1m4 0h1m1 0h2m47 0h1m25 0h1m3 0h1m23 0h1m20 0h1m5 0h1m6 0h1m16 0h1m6 0h1m2 0h2m26 0h2m6 0h1m4 0h1m3 0h1m3 0h2m1 0h2m2 0h1m6 0h1m2 0h1m5 0h1m3 0h1m2 0h1m13 0h2m1 0h2m4 0h1m3 0h1m9 0h2m2 0h1m3 0h1m1 0h1m4 0h1m2 0h1m3 0h1m16 0h2m3 0h1m4 0h3m7 0h1m9 0h2m7 0h3m9 0h1m28 0h1m-645 1h1m9 0h1m4 0h2m9 0h1m3 0h2m5 0h1m6 0h2m4 0h1m13 0h1m15 0h2m44 0h1m19 0h1m12 0h1m3 0h1m72 0h3m1 0h1m18 0h2m18 0h1m44 0h2m2 0h1m38 0h1m9 0h1m5 0h1m2 0h1m6 0h1m5 0h2m7 0h2m7 0h2m3 0h1m5 0h1m6 0h1m1 0h2m1 0h1m5 0h3m2 0h1m6 0h1m5 0h2m5 0h1m1 0h1m3 0h1m2 0h1m6 0h1m3 0h1m2 0h2m1 0h1m1 0h1m2 0h2m7 0h1m3 0h1m1 0h1m1 0h1m3 0h2m1 0h2m4 0h3m3 0h1m2 0h2m1 0h1m20 0h1m26 0h1m3 0h1m7 0h2m2 0h1m1 0h1m4 0h1m1 0h2m1 0h1m23 0h2m1 0h1m-644 1h1m1 0h1m4 0h1m14 0h1m3 0h1m7 0h1m5 0h1m3 0h1m1 0h1m2 0h2m22 0h2m61 0h3m2 0h1m1 0h1m5 0h1m6 0h1m8 0h1m34 0h1m33 0h2m1 0h1m2 0h1m10 0h1m26 0h1m22 0h1m6 0h1m12 0h1m29 0h2m19 0h1m1 0h1m1 0h1m14 0h1m8 0h3m1 0h1m10 0h5m2 0h1m2 0h2m2 0h1m6 0h1m3 0h1m2 0h1m3 0h1m3 0h1m5 0h1m8 0h1m4 0h1m1 0h1m11 0h2m1 0h1m2 0h2m2 0h2m3 0h1m8 0h1m3 0h2m3 0h1m11 0h3m3 0h3m10 0h1m9 0h1m1 0h1m2 0h2m5 0h2m2 0h2m8 0h2m7 0h1m12 0h1m2 0h2m1 0h1m-622 1h1m2 0h1m7 0h1m7 0h1m15 0h1m20 0h1m16 0h1m6 0h3m1 0h1m46 0h1m27 0h1m6 0h1m10 0h1m1 0h1m26 0h3m2 0h1m32 0h1m14 0h1m14 0h1m34 0h1m17 0h1m1 0h1m7 0h1m2 0h1m20 0h1m7 0h1m2 0h2m8 0h2m4 0h1m11 0h2m8 0h1m9 0h1m2 0h2m11 0h1m3 0h2m5 0h1m5 0h1m6 0h1m5 0h1m1 0h1m5 0h1m4 0h2m11 0h1m4 0h2m4 0h1m23 0h1m10 0h2m3 0h2m5 0h1m2 0h1m14 0h1m3 0h1m2 0h1m4 0h2m1 0h1m9 0h2m3 0h1m3 0h1m12 0h3m1 0h1m1 0h1m22 0h1m5 0h1m-648 1h1m5 0h3m3 0h1m30 0h2m2 0h1m3 0h1m6 0h2m8 0h1m8 0h1m3 0h1m45 0h1m19 0h1m2 0h1m6 0h1m8 0h1m12 0h1m23 0h1m1 0h1m35 0h2m13 0h1m7 0h1m6 0h1m2 0h1m11 0h1m21 0h1m39 0h1m12 0h3m11 0h1m1 0h1m12 0h1m22 0h3m18 0h1m6 0h1m18 0h2m1 0h1m2 0h2m3 0h2m2 0h1m17 0h1m18 0h1m1 0h1m3 0h1m3 0h1m5 0h2m1 0h3m7 0h1m5 0h1m13 0h2m2 0h1m4 0h1m5 0h3m1 0h1m1 0h1m7 0h1m17 0h1m3 0h3m2 0h1m1 0h1m18 0h1m1 0h1m1 0h1m-643 1h1m5 0h1m3 0h2m3 0h3m10 0h1m14 0h1m3 0h1m25 0h1m52 0h2m16 0h1m1 0h1m1 0h2m26 0h1m25 0h1m2 0h1m31 0h1m3 0h1m17 0h1m4 0h2m8 0h1m86 0h1m1 0h2m2 0h1m1 0h1m6 0h2m12 0h1m11 0h1m11 0h1m1 0h1m7 0h2m5 0h2m1 0h1m1 0h1m2 0h1m2 0h2m20 0h1m2 0h1m5 0h1m3 0h1m1 0h1m5 0h3m1 0h1m1 0h2m2 0h1m3 0h1m10 0h1m8 0h1m4 0h1m1 0h1m1 0h1m4 0h1m19 0h1m8 0h2m1 0h2m2 0h1m2 0h1m2 0h1m6 0h1m1 0h1m25 0h1m4 0h1m23 0h1m1 0h1m4 0h2m-650 1h1m2 0h3m6 0h3m1 0h1m2 0h1m3 0h1m3 0h1m2 0h1m12 0h3m29 0h1m2 0h2m70 0h1m2 0h3m3 0h1m16 0h2m28 0h1m20 0h1m4 0h2m9 0h1m14 0h1m2 0h2m13 0h1m25 0h1m24 0h1m2 0h1m32 0h1m1 0h1m4 0h1m11 0h1m5 0h1m2 0h1m1 0h3m1 0h1m27 0h2m6 0h1m1 0h1m1 0h1m5 0h2m1 0h1m1 0h1m4 0h1m6 0h1m4 0h4m1 0h2m8 0h1m1 0h1m3 0h1m1 0h1m4 0h1m2 0h3m2 0h1m1 0h2m1 0h2m2 0h1m7 0h3m3 0h4m1 0h1m1 0h1m3 0h1m12 0h1m6 0h2m8 0h1m2 0h1m4 0h1m3 0h2m11 0h1m3 0h1m2 0h1m2 0h3m7 0h1m3 0h3m1 0h2m3 0h1m17 0h1m2 0h2m3 0h1m-647 1h2m5 0h1m2 0h1m1 0h1m1 0h1m7 0h1m4 0h2m9 0h1m6 0h1m3 0h1m94 0h2m6 0h2m1 0h1m2 0h1m13 0h1m29 0h1m2 0h1m19 0h1m16 0h2m55 0h1m25 0h1m26 0h1m1 0h1m1 0h1m9 0h2m17 0h1m5 0h1m2 0h2m25 0h1m3 0h2m2 0h2m1 0h2m6 0h1m4 0h2m8 0h2m2 0h1m1 0h1m5 0h2m5 0h1m1 0h2m1 0h1m10 0h1m3 0h1m3 0h2m2 0h1m7 0h1m3 0h1m4 0h1m3 0h1m4 0h1m7 0h1m25 0h1m10 0h1m4 0h1m6 0h3m2 0h2m5 0h1m18 0h1m1 0h1m19 0h3m1 0h1m-633 1h1m2 0h3m14 0h1m17 0h1m81 0h1m13 0h2m11 0h1m14 0h2m27 0h1m1 0h2m15 0h1m1 0h1m13 0h1m26 0h1m33 0h2m39 0h1m15 0h1m11 0h1m18 0h1m3 0h1m35 0h1m2 0h1m1 0h1m2 0h1m1 0h2m3 0h1m3 0h1m4 0h1m5 0h3m4 0h1m4 0h3m1 0h1m1 0h2m2 0h1m1 0h1m4 0h1m2 0h1m1 0h1m4 0h1m3 0h1m7 0h1m5 0h1m4 0h1m1 0h1m6 0h1m4 0h1m12 0h2m2 0h1m13 0h1m2 0h2m1 0h1m1 0h3m12 0h2m10 0h1m8 0h2m1 0h1m4 0h2m7 0h1m14 0h1m3 0h4m-648 1h1m6 0h1m19 0h2m2 0h1m4 0h4m11 0h1m7 0h2m87 0h1m10 0h1m2 0h1m8 0h1m1 0h1m32 0h1m2 0h1m19 0h1m1 0h1m68 0h1m53 0h1m2 0h2m6 0h1m1 0h1m2 0h1m2 0h1m5 0h1m15 0h1m29 0h1m3 0h3m2 0h2m10 0h2m2 0h1m8 0h1m4 0h1m11 0h1m12 0h1m5 0h2m3 0h2m2 0h1m9 0h1m2 0h1m2 0h1m4 0h2m14 0h2m1 0h1m2 0h1m1 0h2m12 0h1m2 0h2m4 0h1m4 0h1m3 0h1m1 0h1m7 0h1m7 0h1m2 0h1m3 0h4m14 0h1m14 0h1m1 0h1m-641 1h1m4 0h1m1 0h2m10 0h2m4 0h1m1 0h1m2 0h2m18 0h1m96 0h1m2 0h2m2 0h1m15 0h2m36 0h1m31 0h1m2 0h2m9 0h1m11 0h1m31 0h1m2 0h1m39 0h1m2 0h2m14 0h3m1 0h1m4 0h3m3 0h1m13 0h1m13 0h1m4 0h1m28 0h1m1 0h1m4 0h1m2 0h1m2 0h2m4 0h2m3 0h1m5 0h1m6 0h1m1 0h1m10 0h3m1 0h1m2 0h1m2 0h1m2 0h1m6 0h1m1 0h1m3 0h1m5 0h1m9 0h3m8 0h2m2 0h2m1 0h1m14 0h2m4 0h1m1 0h1m1 0h1m6 0h3m26 0h1m3 0h1m23 0h2m1 0h2m1 0h1m-643 1h1m2 0h1m3 0h3m3 0h1m13 0h1m1 0h1m15 0h1m1 0h2m2 0h1m103 0h1m5 0h1m2 0h1m63 0h2m4 0h1m8 0h2m4 0h1m3 0h1m1 0h1m4 0h2m1 0h2m14 0h1m17 0h1m43 0h1m6 0h2m5 0h1m3 0h1m1 0h1m39 0h1m2 0h1m3 0h1m6 0h1m6 0h2m13 0h1m2 0h1m3 0h1m2 0h1m8 0h1m7 0h2m1 0h1m2 0h2m20 0h3m5 0h1m3 0h1m1 0h3m3 0h2m10 0h2m7 0h3m11 0h1m13 0h2m9 0h1m6 0h1m3 0h2m17 0h2m5 0h1m5 0h2m1 0h1m5 0h8m2 0h1m1 0h2m4 0h2m-646 1h1m3 0h2m2 0h1m2 0h1m5 0h1m29 0h1m5 0h2m91 0h1m3 0h1m17 0h1m6 0h1m2 0h1m52 0h1m3 0h1m5 0h1m2 0h1m9 0h3m6 0h1m14 0h1m2 0h1m37 0h2m13 0h1m8 0h1m6 0h1m2 0h1m10 0h2m21 0h1m7 0h2m13 0h5m7 0h1m8 0h1m3 0h1m1 0h1m1 0h1m7 0h1m7 0h1m3 0h1m4 0h2m1 0h3m1 0h1m1 0h3m3 0h1m7 0h1m1 0h2m2 0h2m1 0h1m1 0h1m1 0h1m2 0h1m5 0h2m2 0h3m6 0h1m2 0h2m1 0h1m3 0h2m3 0h2m9 0h3m5 0h1m1 0h1m10 0h1m4 0h1m1 0h2m6 0h3m8 0h1m2 0h1m3 0h1m1 0h2m2 0h1m3 0h1m1 0h1m1 0h1m9 0h2m4 0h2m5 0h2m-641 1h1m3 0h3m2 0h1m10 0h1m3 0h2m21 0h1m100 0h1m1 0h1m10 0h1m1 0h2m2 0h2m1 0h1m8 0h1m11 0h1m43 0h1m11 0h1m10 0h1m5 0h2m2 0h1m17 0h1m29 0h1m28 0h1m1 0h2m7 0h1m23 0h1m1 0h1m12 0h2m19 0h1m14 0h1m2 0h1m1 0h1m4 0h1m5 0h1m8 0h3m8 0h2m9 0h2m7 0h1m3 0h1m5 0h1m1 0h1m7 0h1m1 0h1m8 0h1m2 0h1m2 0h3m2 0h1m1 0h1m2 0h2m2 0h1m7 0h1m1 0h1m3 0h1m3 0h1m18 0h1m9 0h1m10 0h1m3 0h1m2 0h1m5 0h1m2 0h1m11 0h1m14 0h1m2 0h1m2 0h2m-640 1h2m1 0h1m2 0h1m6 0h1m3 0h1m26 0h1m8 0h1m101 0h1m2 0h1m1 0h1m1 0h1m21 0h2m34 0h1m2 0h3m2 0h1m8 0h1m26 0h1m14 0h1m4 0h1m5 0h1m6 0h1m31 0h1m9 0h1m5 0h1m1 0h1m1 0h1m4 0h1m1 0h1m24 0h1m5 0h2m3 0h2m13 0h1m1 0h3m3 0h4m8 0h1m7 0h2m3 0h1m5 0h1m7 0h1m4 0h1m1 0h1m2 0h2m2 0h2m1 0h1m12 0h1m2 0h1m2 0h1m4 0h1m3 0h1m7 0h1m12 0h1m1 0h1m3 0h6m3 0h1m3 0h1m3 0h1m4 0h1m11 0h1m19 0h1m5 0h1m2 0h1m1 0h4m11 0h1m5 0h1m6 0h1m1 0h2m4 0h1m6 0h2m-636 1h2m1 0h3m9 0h1m2 0h1m4 0h1m16 0h1m118 0h1m2 0h1m4 0h1m7 0h2m7 0h1m2 0h2m33 0h1m4 0h1m16 0h1m7 0h1m1 0h1m21 0h1m4 0h1m3 0h1m11 0h1m37 0h1m12 0h2m15 0h1m6 0h1m12 0h1m5 0h3m1 0h1m10 0h3m2 0h1m1 0h3m1 0h2m9 0h2m4 0h2m7 0h1m4 0h3m4 0h2m2 0h1m1 0h3m3 0h1m1 0h2m16 0h1m5 0h2m7 0h3m11 0h1m2 0h1m4 0h2m3 0h1m5 0h2m3 0h1m15 0h1m8 0h2m1 0h2m9 0h2m8 0h2m3 0h1m1 0h1m21 0h1m3 0h2m4 0h1m-629 1h4m7 0h1m4 0h1m3 0h1m32 0h1m73 0h1m30 0h1m1 0h2m6 0h1m1 0h1m4 0h1m5 0h3m4 0h1m32 0h1m13 0h2m11 0h1m7 0h2m87 0h1m6 0h1m1 0h1m3 0h2m12 0h1m11 0h2m11 0h1m8 0h1m7 0h1m2 0h1m13 0h1m5 0h2m4 0h1m2 0h1m4 0h4m1 0h1m2 0h1m3 0h2m2 0h1m1 0h1m1 0h1m13 0h2m7 0h2m1 0h1m3 0h2m1 0h1m2 0h1m9 0h1m7 0h1m7 0h1m4 0h2m4 0h1m12 0h1m4 0h1m7 0h1m13 0h1m5 0h1m7 0h1m21 0h3m2 0h3m-622 1h4m2 0h1m2 0h2m5 0h1m2 0h1m4 0h1m127 0h1m1 0h1m5 0h2m1 0h2m55 0h1m10 0h1m5 0h1m17 0h1m11 0h1m57 0h2m14 0h2m4 0h3m11 0h2m3 0h1m12 0h1m5 0h1m5 0h1m6 0h2m1 0h1m2 0h1m9 0h1m10 0h1m3 0h1m2 0h1m2 0h1m1 0h3m10 0h1m3 0h2m4 0h2m12 0h1m2 0h2m2 0h1m5 0h1m8 0h1m2 0h1m3 0h2m4 0h1m2 0h2m5 0h1m2 0h1m3 0h2m8 0h1m19 0h1m1 0h1m2 0h1m1 0h2m11 0h2m9 0h1m4 0h1m17 0h1m4 0h1m-623 1h2m1 0h2m3 0h2m10 0h1m5 0h1m8 0h1m6 0h2m113 0h1m10 0h1m17 0h4m46 0h1m5 0h1m3 0h1m38 0h1m59 0h3m3 0h1m4 0h1m12 0h1m21 0h2m1 0h1m4 0h2m2 0h1m5 0h2m10 0h1m9 0h1m6 0h2m2 0h3m8 0h1m1 0h1m2 0h1m10 0h1m2 0h1m8 0h3m10 0h1m1 0h1m19 0h1m6 0h1m10 0h1m2 0h2m2 0h1m2 0h3m14 0h1m1 0h3m4 0h2m13 0h1m2 0h1m4 0h2m2 0h1m21 0h1m2 0h3m13 0h1m-640 1h1m1 0h1m2 0h1m6 0h1m8 0h1m1 0h2m19 0h1m114 0h1m8 0h1m57 0h1m10 0h1m6 0h1m9 0h1m30 0h2m5 0h1m7 0h2m23 0h1m26 0h1m22 0h1m16 0h1m2 0h1m1 0h1m3 0h1m4 0h1m2 0h1m1 0h1m3 0h1m22 0h2m1 0h1m4 0h1m2 0h3m4 0h2m3 0h1m2 0h1m3 0h1m7 0h2m8 0h1m5 0h1m4 0h2m2 0h3m5 0h2m3 0h1m3 0h1m1 0h1m1 0h1m1 0h1m16 0h1m5 0h2m18 0h1m3 0h1m10 0h1m3 0h3m1 0h2m6 0h2m19 0h1m1 0h9m2 0h1m-624 1h1m5 0h1m6 0h1m7 0h2m4 0h2m11 0h2m129 0h2m43 0h2m6 0h1m22 0h1m4 0h1m7 0h1m20 0h2m1 0h1m34 0h2m24 0h2m1 0h3m21 0h1m4 0h2m9 0h1m4 0h1m2 0h2m3 0h2m4 0h1m9 0h1m2 0h1m14 0h3m2 0h1m3 0h1m1 0h1m1 0h1m1 0h1m2 0h1m2 0h1m10 0h3m1 0h1m7 0h3m10 0h2m2 0h1m8 0h1m5 0h1m16 0h1m5 0h1m2 0h1m10 0h1m7 0h1m2 0h1m13 0h1m1 0h1m8 0h1m2 0h1m24 0h1m2 0h1m3 0h1m1 0h1m2 0h1m-635 1h1m2 0h2m21 0h2m22 0h1m30 0h1m74 0h1m25 0h2m47 0h1m3 0h2m21 0h1m29 0h1m3 0h1m36 0h1m25 0h2m9 0h1m27 0h1m3 0h1m3 0h1m8 0h1m19 0h1m13 0h1m6 0h1m1 0h1m4 0h1m1 0h3m10 0h3m5 0h2m1 0h1m4 0h1m11 0h3m1 0h3m5 0h2m8 0h4m6 0h1m2 0h1m1 0h1m8 0h1m9 0h1m6 0h2m2 0h1m4 0h1m8 0h1m4 0h1m4 0h4m2 0h1m22 0h1m3 0h1m3 0h1m1 0h1m1 0h1m-626 1h2m5 0h1m34 0h2m122 0h2m3 0h1m43 0h2m13 0h1m11 0h1m1 0h1m5 0h1m20 0h1m3 0h1m11 0h1m15 0h1m1 0h1m16 0h1m16 0h1m4 0h1m2 0h1m4 0h1m10 0h1m4 0h1m2 0h1m18 0h1m12 0h1m3 0h2m7 0h1m23 0h2m1 0h1m2 0h2m9 0h1m2 0h1m8 0h1m4 0h1m4 0h2m1 0h1m6 0h2m3 0h1m17 0h1m4 0h1m2 0h1m1 0h2m4 0h2m19 0h1m4 0h3m3 0h1m4 0h2m8 0h1m1 0h1m2 0h3m3 0h1m3 0h1m24 0h1m1 0h1m2 0h3m2 0h1m-636 1h1m9 0h1m16 0h1m7 0h1m3 0h2m10 0h1m2 0h1m29 0h1m96 0h3m45 0h1m2 0h2m10 0h1m2 0h1m3 0h1m1 0h2m2 0h1m23 0h1m6 0h2m2 0h1m4 0h2m15 0h1m17 0h1m14 0h1m6 0h1m2 0h1m14 0h1m2 0h1m4 0h4m20 0h2m8 0h1m2 0h2m3 0h1m5 0h1m12 0h1m7 0h1m3 0h2m1 0h2m3 0h4m2 0h3m4 0h1m2 0h1m4 0h1m3 0h1m2 0h1m1 0h1m2 0h1m5 0h1m4 0h1m6 0h2m8 0h1m2 0h1m6 0h1m16 0h1m3 0h1m10 0h1m1 0h1m3 0h1m2 0h1m12 0h1m6 0h4m5 0h1m1 0h1m17 0h3m1 0h1m7 0h1m1 0h1m-613 1h1m1 0h1m12 0h1m13 0h2m31 0h1m89 0h1m4 0h1m45 0h1m5 0h1m6 0h1m4 0h2m4 0h1m4 0h1m11 0h1m12 0h1m6 0h3m41 0h1m14 0h1m1 0h1m6 0h2m1 0h1m13 0h1m4 0h1m1 0h4m14 0h1m1 0h1m16 0h2m6 0h4m12 0h1m3 0h1m2 0h2m1 0h1m16 0h3m11 0h1m1 0h1m2 0h1m1 0h2m1 0h1m2 0h3m2 0h1m21 0h3m5 0h1m1 0h1m3 0h1m1 0h1m12 0h1m4 0h1m9 0h1m5 0h1m17 0h2m4 0h1m6 0h1m16 0h1m6 0h1m6 0h1m-624 1h1m3 0h1m10 0h2m10 0h2m11 0h1m2 0h1m27 0h2m2 0h1m70 0h1m21 0h1m58 0h1m5 0h2m1 0h1m1 0h1m10 0h1m2 0h1m1 0h1m1 0h2m13 0h2m1 0h2m14 0h1m10 0h1m9 0h1m6 0h1m18 0h1m10 0h1m11 0h1m3 0h1m2 0h1m1 0h1m13 0h5m1 0h1m4 0h2m2 0h2m3 0h2m3 0h1m5 0h1m1 0h1m1 0h1m2 0h1m4 0h1m2 0h1m5 0h2m11 0h1m7 0h1m4 0h2m12 0h2m6 0h1m1 0h1m3 0h1m5 0h1m4 0h1m1 0h1m15 0h1m2 0h1m1 0h4m3 0h1m4 0h1m26 0h1m5 0h1m7 0h1m2 0h1m4 0h1m4 0h1m20 0h2m2 0h1m1 0h4m3 0h3m1 0h1m-639 1h1m10 0h1m3 0h1m9 0h1m7 0h1m18 0h2m3 0h1m24 0h2m73 0h2m26 0h1m50 0h1m5 0h1m2 0h1m8 0h1m8 0h1m18 0h1m2 0h1m26 0h1m2 0h1m6 0h2m6 0h1m43 0h1m2 0h1m3 0h1m5 0h1m9 0h1m4 0h1m1 0h1m10 0h1m1 0h1m1 0h1m7 0h1m19 0h1m4 0h5m2 0h1m9 0h1m1 0h2m11 0h1m1 0h1m1 0h1m2 0h1m1 0h2m8 0h1m1 0h2m4 0h2m2 0h1m2 0h1m11 0h1m1 0h1m2 0h1m2 0h1m1 0h1m1 0h1m1 0h4m19 0h1m3 0h1m7 0h1m4 0h1m1 0h1m8 0h2m2 0h2m1 0h2m18 0h1m5 0h1m1 0h1m3 0h1m4 0h1m-637 1h1m3 0h1m7 0h1m163 0h1m6 0h1m49 0h1m3 0h1m6 0h1m15 0h3m49 0h1m4 0h1m1 0h1m6 0h1m5 0h1m7 0h1m7 0h1m1 0h1m19 0h2m2 0h1m3 0h1m2 0h1m2 0h1m6 0h1m19 0h1m2 0h1m1 0h1m4 0h2m2 0h1m12 0h3m3 0h1m2 0h2m2 0h1m30 0h1m7 0h1m9 0h2m9 0h2m1 0h2m5 0h1m3 0h1m1 0h1m2 0h1m1 0h1m3 0h1m4 0h1m5 0h1m11 0h1m3 0h1m3 0h2m7 0h1m2 0h2m16 0h1m2 0h1m23 0h1m2 0h1m1 0h2m3 0h2m-639 1h1m6 0h1m6 0h1m11 0h1m21 0h2m109 0h1m26 0h1m52 0h1m5 0h1m3 0h1m3 0h1m28 0h2m16 0h1m10 0h1m6 0h1m10 0h2m1 0h1m9 0h2m16 0h1m18 0h3m3 0h1m13 0h2m8 0h1m15 0h1m6 0h1m11 0h1m7 0h2m29 0h1m1 0h1m2 0h1m10 0h1m1 0h1m2 0h1m8 0h1m2 0h2m1 0h1m1 0h1m4 0h1m1 0h1m10 0h2m4 0h1m4 0h1m6 0h1m8 0h2m16 0h1m11 0h1m1 0h1m3 0h1m28 0h2m2 0h3m1 0h1m-608 1h1m15 0h1m4 0h2m8 0h1m112 0h1m20 0h1m26 0h2m29 0h1m10 0h2m48 0h1m25 0h1m32 0h1m3 0h3m13 0h1m20 0h1m3 0h1m11 0h1m15 0h1m3 0h1m13 0h1m5 0h2m10 0h1m7 0h1m3 0h1m2 0h1m9 0h1m3 0h2m1 0h3m4 0h1m3 0h1m1 0h2m3 0h3m10 0h2m5 0h1m2 0h1m11 0h1m10 0h1m5 0h1m3 0h1m6 0h1m1 0h1m11 0h1m8 0h2m3 0h1m3 0h1m1 0h1m6 0h2m-621 1h1m12 0h2m4 0h1m24 0h1m118 0h1m14 0h2m37 0h1m79 0h1m1 0h1m5 0h3m13 0h1m3 0h1m15 0h1m2 0h1m12 0h1m5 0h1m13 0h2m2 0h2m28 0h1m3 0h1m1 0h1m3 0h2m1 0h1m3 0h2m2 0h2m4 0h1m1 0h1m7 0h2m4 0h1m12 0h1m1 0h1m1 0h1m5 0h1m2 0h1m8 0h1m3 0h4m4 0h3m1 0h1m2 0h1m2 0h3m1 0h2m4 0h1m2 0h2m4 0h2m1 0h1m2 0h2m6 0h1m2 0h1m6 0h1m2 0h1m7 0h1m2 0h1m12 0h1m4 0h1m7 0h1m7 0h5m3 0h1m3 0h1m3 0h1m1 0h1m-634 1h1m3 0h1m16 0h1m1 0h2m14 0h1m3 0h1m13 0h1m88 0h2m23 0h2m1 0h1m28 0h1m24 0h1m15 0h2m10 0h1m21 0h1m27 0h1m8 0h1m13 0h1m2 0h3m4 0h1m2 0h1m16 0h1m4 0h1m2 0h1m4 0h2m2 0h1m12 0h2m3 0h1m1 0h1m14 0h1m1 0h2m4 0h3m2 0h1m1 0h1m1 0h1m2 0h2m2 0h1m1 0h3m1 0h1m7 0h3m1 0h1m6 0h3m11 0h2m3 0h3m6 0h1m4 0h1m1 0h1m9 0h1m1 0h3m6 0h1m8 0h5m3 0h1m3 0h2m6 0h1m2 0h1m2 0h2m1 0h2m5 0h1m4 0h2m26 0h1m7 0h1m12 0h2m1 0h1m1 0h1m5 0h2m1 0h2m3 0h1m-636 1h1m5 0h1m3 0h1m1 0h1m8 0h1m1 0h1m6 0h1m12 0h2m4 0h1m3 0h1m4 0h1m105 0h1m9 0h1m1 0h1m28 0h1m22 0h2m12 0h1m14 0h2m4 0h1m17 0h1m27 0h1m3 0h1m7 0h3m3 0h1m3 0h1m2 0h1m4 0h2m19 0h1m8 0h1m7 0h1m2 0h1m15 0h2m3 0h2m7 0h1m4 0h1m4 0h1m1 0h1m7 0h1m6 0h2m4 0h1m6 0h1m1 0h3m7 0h1m1 0h2m3 0h1m8 0h1m2 0h1m2 0h1m3 0h1m3 0h1m3 0h1m13 0h2m3 0h1m2 0h1m6 0h2m1 0h2m5 0h1m12 0h1m3 0h3m2 0h1m9 0h1m9 0h2m10 0h2m5 0h1m1 0h2m2 0h1m2 0h1m2 0h1m5 0h1m6 0h1m-617 1h1m2 0h1m4 0h1m7 0h1m2 0h1m5 0h1m13 0h1m1 0h1m1 0h1m4 0h1m92 0h2m16 0h2m6 0h2m2 0h1m21 0h1m7 0h1m36 0h1m13 0h2m4 0h1m44 0h1m9 0h1m2 0h1m5 0h1m33 0h3m7 0h1m1 0h1m2 0h1m6 0h1m25 0h1m5 0h1m1 0h2m9 0h1m1 0h1m2 0h1m1 0h1m14 0h1m4 0h1m6 0h1m1 0h3m4 0h3m2 0h2m3 0h1m1 0h1m1 0h1m1 0h2m4 0h1m5 0h1m6 0h1m6 0h2m3 0h1m4 0h1m4 0h2m5 0h1m9 0h1m1 0h1m1 0h1m2 0h1m13 0h1m1 0h1m3 0h1m1 0h1m12 0h1m8 0h2m4 0h1m1 0h3m3 0h1m2 0h1m1 0h1m1 0h1m2 0h2m4 0h3m2 0h2m1 0h1m-636 1h1m10 0h1m14 0h1m1 0h3m1 0h1m4 0h1m11 0h1m98 0h1m16 0h2m1 0h1m1 0h2m4 0h1m66 0h2m19 0h1m32 0h2m10 0h1m3 0h1m4 0h1m1 0h1m1 0h1m1 0h1m9 0h3m2 0h1m1 0h1m18 0h2m8 0h2m1 0h1m1 0h1m1 0h1m6 0h1m10 0h1m3 0h1m2 0h2m22 0h2m3 0h2m1 0h1m1 0h1m17 0h1m8 0h2m1 0h1m2 0h1m3 0h3m1 0h1m10 0h4m1 0h2m2 0h1m2 0h2m1 0h1m6 0h1m1 0h1m1 0h2m1 0h1m1 0h4m2 0h1m2 0h1m1 0h1m1 0h1m4 0h2m11 0h1m2 0h1m2 0h2m3 0h1m2 0h2m13 0h1m1 0h2m3 0h1m1 0h1m3 0h1m4 0h1m4 0h1m3 0h1m6 0h1m7 0h1m1 0h1m1 0h1m6 0h2m1 0h1m-633 1h3m10 0h3m152 0h1m3 0h3m6 0h1m46 0h1m11 0h1m35 0h2m4 0h1m1 0h1m10 0h1m8 0h1m2 0h1m2 0h2m19 0h1m2 0h3m1 0h1m1 0h1m1 0h1m1 0h1m11 0h2m9 0h1m5 0h2m5 0h2m4 0h1m5 0h1m1 0h1m7 0h1m1 0h1m24 0h1m22 0h1m3 0h1m4 0h1m4 0h3m1 0h3m4 0h1m5 0h1m2 0h4m4 0h1m3 0h3m9 0h4m5 0h1m14 0h1m4 0h1m7 0h1m2 0h1m3 0h1m6 0h2m1 0h1m4 0h1m5 0h2m1 0h1m9 0h2m6 0h1m3 0h1m11 0h1m5 0h2m2 0h3m4 0h5m-637 1h1m2 0h1m2 0h1m4 0h2m5 0h3m4 0h1m4 0h1m7 0h1m3 0h1m3 0h1m3 0h1m118 0h1m1 0h2m1 0h1m1 0h1m5 0h1m1 0h1m15 0h1m48 0h2m36 0h1m21 0h1m8 0h1m3 0h2m9 0h1m1 0h1m1 0h1m4 0h1m4 0h1m21 0h2m4 0h2m10 0h1m1 0h1m15 0h2m6 0h1m11 0h1m5 0h1m15 0h1m5 0h1m1 0h1m8 0h1m7 0h1m1 0h2m2 0h2m1 0h1m20 0h1m10 0h2m2 0h1m3 0h1m1 0h2m3 0h1m5 0h1m6 0h1m2 0h1m9 0h1m2 0h1m2 0h1m11 0h2m12 0h1m24 0h3m1 0h1m5 0h2m11 0h1m-620 1h1m1 0h1m3 0h1m1 0h4m5 0h1m2 0h2m5 0h1m8 0h1m42 0h2m69 0h1m4 0h1m1 0h2m1 0h2m3 0h1m2 0h1m49 0h1m2 0h1m4 0h1m8 0h2m34 0h1m20 0h1m11 0h1m15 0h2m5 0h1m32 0h1m1 0h1m32 0h1m1 0h5m6 0h1m1 0h1m5 0h1m2 0h1m4 0h1m3 0h2m2 0h1m7 0h3m5 0h2m14 0h1m8 0h1m2 0h1m6 0h1m4 0h2m1 0h1m4 0h1m7 0h1m4 0h2m1 0h2m6 0h1m4 0h1m1 0h2m7 0h1m1 0h1m43 0h1m2 0h1m1 0h4m6 0h1m2 0h1m1 0h2m2 0h1m6 0h1m4 0h1m-621 1h1m1 0h1m2 0h1m10 0h1m1 0h1m2 0h2m8 0h2m5 0h2m35 0h1m54 0h1m19 0h1m2 0h1m3 0h2m1 0h1m69 0h1m30 0h1m3 0h1m35 0h1m21 0h1m25 0h1m14 0h1m8 0h2m22 0h1m8 0h1m2 0h3m5 0h3m8 0h1m2 0h1m1 0h1m8 0h1m1 0h1m5 0h1m5 0h1m9 0h1m3 0h2m3 0h1m3 0h1m9 0h1m2 0h1m1 0h1m2 0h1m15 0h3m1 0h3m3 0h1m3 0h1m12 0h1m3 0h1m1 0h1m18 0h5m8 0h1m9 0h1m7 0h1m2 0h1m2 0h2m1 0h1m4 0h1m4 0h1m1 0h1m4 0h1m-626 1h1m1 0h5m2 0h1m25 0h1m7 0h1m87 0h1m29 0h1m60 0h1m3 0h1m7 0h2m28 0h1m12 0h1m6 0h1m10 0h1m8 0h1m5 0h1m6 0h2m6 0h1m1 0h2m1 0h2m10 0h1m3 0h1m1 0h1m2 0h1m16 0h1m23 0h1m7 0h2m5 0h1m2 0h1m3 0h3m7 0h1m11 0h2m5 0h1m3 0h1m2 0h6m7 0h1m5 0h1m5 0h5m12 0h1m4 0h3m3 0h1m9 0h1m9 0h1m1 0h2m7 0h1m6 0h1m1 0h1m2 0h1m32 0h2m13 0h1m2 0h1m3 0h3m9 0h1m3 0h2m5 0h2m-625 1h1m9 0h1m1 0h2m6 0h2m9 0h1m8 0h3m16 0h2m8 0h1m9 0h1m46 0h1m43 0h2m1 0h1m77 0h1m22 0h1m1 0h1m7 0h1m9 0h1m30 0h1m15 0h1m2 0h1m3 0h1m16 0h1m24 0h2m3 0h1m5 0h1m4 0h6m1 0h1m10 0h1m4 0h2m6 0h1m2 0h1m2 0h1m8 0h2m5 0h1m2 0h1m3 0h2m1 0h1m2 0h1m2 0h1m1 0h3m1 0h2m3 0h1m4 0h1m4 0h3m2 0h1m1 0h1m1 0h2m2 0h1m3 0h3m11 0h1m2 0h1m2 0h2m15 0h1m34 0h1m4 0h3m4 0h3m1 0h1m10 0h1m3 0h1m1 0h1m-624 1h2m4 0h1m2 0h1m10 0h1m3 0h1m2 0h1m10 0h2m4 0h1m1 0h1m33 0h1m1 0h1m1 0h1m46 0h2m4 0h1m90 0h1m1 0h1m35 0h2m10 0h1m1 0h1m25 0h2m12 0h1m23 0h1m4 0h3m5 0h1m12 0h1m1 0h1m1 0h1m3 0h1m16 0h2m7 0h2m4 0h1m10 0h1m3 0h2m2 0h1m2 0h4m6 0h1m3 0h3m5 0h2m1 0h1m7 0h2m3 0h1m16 0h1m4 0h2m4 0h1m2 0h1m5 0h1m1 0h2m8 0h2m2 0h2m2 0h1m3 0h1m2 0h1m2 0h1m1 0h1m3 0h2m5 0h1m15 0h1m12 0h2m9 0h1m3 0h2m4 0h1m1 0h1m1 0h2m13 0h1m2 0h1m4 0h1m-635 1h1m16 0h2m2 0h1m3 0h1m2 0h1m2 0h1m3 0h1m8 0h1m3 0h1m38 0h1m1 0h1m4 0h1m39 0h1m6 0h1m3 0h1m9 0h1m79 0h1m6 0h1m17 0h1m20 0h1m12 0h2m2 0h1m28 0h1m3 0h3m4 0h1m24 0h2m14 0h1m2 0h1m19 0h1m6 0h3m2 0h1m4 0h1m4 0h3m1 0h2m5 0h1m13 0h1m3 0h4m5 0h1m2 0h2m10 0h1m3 0h2m8 0h1m2 0h1m5 0h1m6 0h1m5 0h3m10 0h4m1 0h1m40 0h1m14 0h1m3 0h4m9 0h2m1 0h1m18 0h1m1 0h2m1 0h1m-629 1h2m12 0h1m2 0h1m4 0h1m1 0h1m7 0h1m3 0h2m30 0h1m13 0h2m2 0h2m43 0h2m2 0h1m7 0h2m95 0h1m16 0h1m7 0h1m12 0h2m11 0h1m3 0h1m26 0h2m4 0h1m27 0h1m3 0h1m6 0h3m1 0h1m5 0h1m6 0h1m1 0h1m4 0h1m11 0h1m7 0h1m6 0h1m6 0h2m5 0h2m1 0h1m13 0h1m7 0h1m6 0h2m4 0h1m3 0h1m1 0h1m11 0h1m9 0h1m3 0h1m1 0h1m4 0h2m1 0h2m8 0h1m1 0h1m1 0h1m3 0h1m3 0h1m5 0h1m2 0h1m9 0h1m12 0h1m3 0h3m5 0h1m10 0h1m8 0h1m5 0h1m18 0h1m2 0h1m1 0h2m-617 1h1m6 0h1m3 0h1m5 0h1m1 0h1m2 0h1m47 0h1m48 0h1m1 0h1m2 0h1m94 0h1m4 0h1m1 0h1m18 0h1m29 0h1m3 0h1m1 0h2m19 0h2m1 0h2m5 0h1m11 0h1m8 0h2m11 0h1m1 0h2m3 0h2m1 0h1m14 0h1m2 0h1m15 0h1m6 0h1m9 0h2m10 0h2m8 0h2m2 0h2m3 0h7m3 0h3m5 0h1m1 0h2m2 0h4m2 0h1m3 0h1m7 0h2m2 0h1m4 0h1m13 0h1m1 0h1m9 0h1m7 0h1m4 0h3m7 0h2m1 0h1m3 0h1m12 0h1m4 0h3m2 0h1m5 0h3m9 0h1m2 0h1m4 0h1m-608 1h1m8 0h2m2 0h1m6 0h2m1 0h1m1 0h1m7 0h2m92 0h2m3 0h2m2 0h1m1 0h1m88 0h3m2 0h1m1 0h1m1 0h1m21 0h2m21 0h1m1 0h2m34 0h1m4 0h1m8 0h1m3 0h1m1 0h1m4 0h2m1 0h1m13 0h1m6 0h1m2 0h1m2 0h1m1 0h1m2 0h1m8 0h3m7 0h3m5 0h1m1 0h1m1 0h1m5 0h1m3 0h3m1 0h1m1 0h4m2 0h2m2 0h1m3 0h1m1 0h2m3 0h1m7 0h2m1 0h3m1 0h2m4 0h2m1 0h2m2 0h1m4 0h1m12 0h2m1 0h1m7 0h1m5 0h1m12 0h1m2 0h1m5 0h1m18 0h2m6 0h1m7 0h1m15 0h1m3 0h1m1 0h1m5 0h1m2 0h1m1 0h1m6 0h1m1 0h2m4 0h1m13 0h1m-631 1h1m11 0h1m2 0h2m1 0h1m3 0h3m13 0h1m94 0h1m2 0h3m1 0h1m1 0h1m21 0h1m4 0h1m26 0h2m36 0h3m11 0h1m7 0h1m6 0h1m19 0h3m18 0h1m14 0h2m14 0h1m9 0h1m12 0h2m1 0h1m2 0h3m2 0h1m1 0h1m12 0h1m3 0h2m1 0h1m16 0h4m2 0h1m6 0h1m2 0h1m2 0h1m8 0h2m9 0h1m1 0h2m3 0h1m17 0h1m2 0h2m5 0h1m11 0h1m1 0h1m9 0h1m3 0h1m2 0h1m4 0h1m3 0h1m1 0h1m6 0h1m3 0h2m1 0h2m11 0h2m30 0h1m6 0h2m1 0h1m3 0h3m3 0h1m6 0h2m3 0h1m5 0h1m2 0h1m4 0h1m-622 1h1m1 0h3m4 0h3m1 0h1m7 0h1m2 0h1m1 0h1m2 0h2m18 0h1m70 0h1m4 0h1m4 0h2m2 0h1m8 0h1m5 0h1m23 0h1m4 0h1m8 0h1m40 0h1m2 0h1m13 0h1m17 0h1m50 0h1m11 0h2m6 0h1m7 0h1m10 0h1m4 0h1m2 0h1m4 0h1m3 0h3m2 0h1m1 0h1m1 0h2m19 0h1m2 0h2m3 0h1m7 0h2m15 0h3m3 0h2m1 0h2m2 0h1m3 0h2m11 0h1m3 0h3m4 0h1m5 0h1m1 0h1m2 0h1m3 0h1m6 0h1m3 0h2m7 0h1m1 0h1m5 0h1m4 0h3m3 0h1m2 0h2m1 0h2m7 0h1m8 0h1m1 0h1m13 0h1m1 0h2m3 0h1m4 0h1m14 0h2m1 0h1m3 0h2m2 0h2m5 0h1m2 0h1m3 0h3m-629 1h1m1 0h1m13 0h3m2 0h1m1 0h1m1 0h1m7 0h1m3 0h1m9 0h1m2 0h1m79 0h1m2 0h1m3 0h1m10 0h2m6 0h1m10 0h1m4 0h1m7 0h1m3 0h1m52 0h1m15 0h1m8 0h1m7 0h1m35 0h1m9 0h1m4 0h2m5 0h2m28 0h1m5 0h1m3 0h1m8 0h1m1 0h1m26 0h1m2 0h1m5 0h1m2 0h1m3 0h2m6 0h1m7 0h2m2 0h1m2 0h2m7 0h1m4 0h1m11 0h1m8 0h1m5 0h1m1 0h3m3 0h2m2 0h1m2 0h1m21 0h1m8 0h1m2 0h1m11 0h1m1 0h1m2 0h1m2 0h1m3 0h1m13 0h2m11 0h1m14 0h2m1 0h2m4 0h1m1 0h1m5 0h1m6 0h2m1 0h1m-630 1h2m2 0h1m12 0h2m4 0h1m1 0h2m1 0h1m3 0h1m5 0h1m1 0h1m14 0h2m72 0h1m3 0h1m2 0h1m3 0h2m27 0h1m7 0h1m1 0h4m1 0h1m1 0h1m2 0h1m4 0h1m3 0h1m71 0h1m18 0h1m30 0h1m9 0h1m8 0h1m5 0h2m2 0h1m9 0h1m18 0h1m1 0h3m3 0h1m2 0h2m14 0h1m12 0h1m12 0h2m2 0h1m2 0h2m5 0h1m8 0h1m7 0h1m9 0h2m2 0h2m10 0h1m7 0h1m2 0h1m2 0h2m3 0h1m4 0h2m18 0h2m11 0h2m1 0h4m5 0h2m5 0h2m16 0h1m5 0h1m1 0h2m3 0h1m4 0h1m1 0h3m7 0h2m6 0h2m-617 1h1m3 0h2m6 0h1m1 0h1m3 0h1m8 0h1m1 0h2m15 0h2m3 0h2m74 0h2m13 0h1m43 0h1m3 0h2m1 0h2m33 0h1m20 0h1m8 0h2m33 0h1m8 0h1m11 0h2m2 0h1m4 0h1m1 0h2m15 0h1m14 0h1m2 0h1m3 0h1m3 0h2m7 0h1m5 0h1m27 0h1m2 0h1m10 0h1m8 0h1m4 0h3m2 0h2m3 0h1m1 0h1m1 0h1m2 0h2m24 0h1m1 0h1m2 0h1m4 0h1m5 0h2m4 0h2m1 0h1m4 0h1m15 0h1m11 0h1m1 0h1m3 0h4m6 0h2m17 0h1m1 0h1m4 0h2m3 0h2m1 0h1m1 0h1m1 0h1m3 0h1m9 0h1m8 0h1m1 0h2m1 0h1m-618 1h1m2 0h1m1 0h1m9 0h2m2 0h1m12 0h1m8 0h5m79 0h1m4 0h2m20 0h1m17 0h1m10 0h1m3 0h1m1 0h1m38 0h1m17 0h1m37 0h1m1 0h1m7 0h1m10 0h1m6 0h1m7 0h1m3 0h1m6 0h2m1 0h1m16 0h3m5 0h4m3 0h1m5 0h1m3 0h1m1 0h2m16 0h1m6 0h1m8 0h1m3 0h1m5 0h1m3 0h1m1 0h1m2 0h1m2 0h3m14 0h3m11 0h1m3 0h1m2 0h1m4 0h2m1 0h1m1 0h1m4 0h1m1 0h1m30 0h2m20 0h1m5 0h1m2 0h1m5 0h1m5 0h1m5 0h1m8 0h1m1 0h3m1 0h1m2 0h1m3 0h2m2 0h1m1 0h1m9 0h1m4 0h1m6 0h2m-625 1h2m1 0h1m4 0h1m5 0h1m10 0h1m1 0h1m4 0h1m2 0h2m10 0h1m1 0h1m78 0h2m1 0h2m25 0h1m16 0h1m7 0h1m2 0h1m2 0h1m1 0h1m69 0h3m23 0h1m31 0h2m4 0h1m5 0h1m3 0h1m1 0h1m26 0h1m1 0h1m3 0h1m5 0h1m1 0h1m3 0h1m2 0h3m2 0h1m7 0h1m5 0h2m2 0h1m4 0h1m5 0h1m1 0h1m1 0h7m2 0h1m7 0h1m14 0h2m3 0h1m3 0h1m2 0h1m2 0h1m1 0h1m5 0h2m3 0h1m1 0h1m1 0h1m2 0h2m9 0h1m2 0h1m3 0h1m8 0h2m5 0h1m8 0h2m4 0h1m5 0h1m10 0h1m1 0h4m2 0h1m1 0h1m6 0h2m15 0h3m8 0h2m4 0h1m11 0h1m4 0h1m-629 1h1m4 0h2m18 0h1m1 0h1m2 0h1m1 0h1m3 0h2m2 0h1m1 0h1m8 0h1m1 0h1m76 0h1m2 0h1m1 0h2m25 0h2m4 0h2m10 0h1m6 0h1m4 0h1m3 0h1m51 0h1m3 0h2m10 0h1m55 0h1m5 0h1m1 0h1m2 0h1m7 0h1m3 0h1m6 0h2m2 0h1m1 0h3m9 0h1m6 0h1m18 0h2m2 0h1m6 0h1m1 0h1m4 0h1m2 0h1m2 0h1m1 0h1m1 0h2m8 0h1m1 0h2m2 0h1m1 0h1m8 0h1m14 0h1m7 0h1m1 0h1m1 0h1m6 0h1m1 0h1m1 0h2m1 0h3m3 0h1m2 0h1m2 0h2m1 0h2m1 0h4m4 0h1m4 0h2m8 0h1m22 0h1m4 0h1m2 0h1m6 0h1m3 0h2m3 0h1m14 0h1m7 0h1m5 0h2m11 0h1m-621 1h1m1 0h1m2 0h1m4 0h1m1 0h1m1 0h1m2 0h2m14 0h1m24 0h1m75 0h3m26 0h1m4 0h2m3 0h1m2 0h1m3 0h1m1 0h1m3 0h1m3 0h2m4 0h2m96 0h1m52 0h1m5 0h2m6 0h1m8 0h1m3 0h1m3 0h1m9 0h1m1 0h1m5 0h1m11 0h1m4 0h1m2 0h2m2 0h2m1 0h1m3 0h1m4 0h2m1 0h1m12 0h1m13 0h2m1 0h2m9 0h1m9 0h2m1 0h1m5 0h1m2 0h2m2 0h1m2 0h1m14 0h1m6 0h1m2 0h1m1 0h1m19 0h1m1 0h1m3 0h4m11 0h2m13 0h1m4 0h1m10 0h1m1 0h1m12 0h2m5 0h1m-610 1h1m13 0h1m8 0h1m2 0h1m2 0h2m5 0h1m2 0h1m74 0h2m1 0h2m2 0h1m32 0h1m8 0h1m1 0h1m57 0h1m4 0h2m12 0h2m33 0h1m38 0h2m4 0h2m15 0h1m9 0h2m3 0h1m1 0h1m3 0h1m4 0h1m2 0h3m6 0h1m10 0h1m14 0h2m5 0h3m3 0h1m1 0h5m10 0h2m7 0h2m1 0h1m6 0h1m5 0h2m9 0h2m3 0h1m2 0h3m6 0h2m9 0h1m5 0h1m2 0h3m2 0h1m26 0h1m3 0h1m6 0h1m16 0h1m1 0h1m10 0h1m9 0h1m2 0h1m7 0h1m2 0h1m1 0h1m2 0h2m-618 1h2m6 0h1m1 0h2m5 0h1m8 0h1m3 0h1m3 0h1m10 0h1m82 0h2m6 0h2m23 0h2m2 0h4m3 0h1m5 0h2m3 0h1m44 0h1m2 0h1m5 0h1m12 0h1m3 0h1m35 0h1m10 0h1m17 0h2m4 0h1m3 0h2m8 0h2m3 0h1m13 0h1m14 0h1m1 0h3m1 0h1m1 0h1m3 0h1m2 0h1m3 0h1m4 0h1m2 0h2m11 0h1m3 0h1m1 0h1m4 0h1m1 0h2m8 0h1m14 0h2m4 0h1m5 0h4m2 0h1m9 0h2m2 0h3m3 0h1m5 0h1m2 0h1m14 0h1m5 0h2m1 0h2m9 0h1m13 0h1m1 0h1m24 0h1m1 0h1m1 0h2m1 0h1m6 0h1m11 0h1m7 0h1m2 0h1m2 0h1m-616 1h1m3 0h2m2 0h2m1 0h2m6 0h1m5 0h1m3 0h1m3 0h2m12 0h1m77 0h1m26 0h1m1 0h1m17 0h2m12 0h1m42 0h1m1 0h2m5 0h1m1 0h3m9 0h2m33 0h1m20 0h1m4 0h1m7 0h2m7 0h2m9 0h1m2 0h2m14 0h1m2 0h2m5 0h1m1 0h1m1 0h1m6 0h1m1 0h2m1 0h1m1 0h1m26 0h2m1 0h2m2 0h2m4 0h1m1 0h2m5 0h1m1 0h1m12 0h1m19 0h1m2 0h2m1 0h1m3 0h1m4 0h1m4 0h1m7 0h2m15 0h2m3 0h2m6 0h1m2 0h1m3 0h1m10 0h2m5 0h1m5 0h1m8 0h1m3 0h1m2 0h1m3 0h1m5 0h1m6 0h7m7 0h2m6 0h3m-617 1h1m5 0h2m9 0h1m2 0h1m7 0h1m1 0h1m2 0h1m21 0h1m11 0h1m51 0h1m2 0h2m14 0h1m5 0h2m30 0h1m51 0h1m3 0h1m18 0h1m32 0h1m23 0h4m27 0h2m3 0h2m12 0h1m12 0h2m6 0h1m3 0h2m1 0h2m3 0h1m19 0h1m1 0h1m6 0h2m4 0h1m28 0h1m2 0h1m5 0h1m3 0h1m1 0h1m12 0h3m3 0h1m1 0h4m8 0h1m1 0h1m2 0h1m1 0h1m6 0h2m10 0h1m16 0h1m5 0h2m5 0h2m2 0h1m1 0h1m2 0h1m5 0h1m1 0h1m4 0h2m4 0h1m4 0h1m10 0h1m7 0h1m5 0h2m-626 1h1m5 0h1m1 0h1m1 0h1m16 0h3m43 0h2m57 0h1m10 0h2m6 0h1m8 0h1m16 0h1m5 0h1m55 0h1m3 0h1m5 0h1m31 0h2m9 0h1m20 0h1m11 0h1m7 0h1m45 0h1m14 0h1m1 0h1m8 0h1m11 0h1m3 0h1m2 0h1m5 0h3m1 0h2m25 0h1m2 0h1m5 0h2m3 0h1m7 0h1m8 0h3m1 0h2m1 0h1m1 0h1m5 0h1m3 0h1m2 0h2m9 0h1m14 0h1m16 0h1m2 0h1m9 0h2m4 0h1m9 0h1m1 0h2m6 0h1m2 0h1m2 0h1m7 0h1m12 0h3m-623 1h1m6 0h2m12 0h1m9 0h1m1 0h1m1 0h4m6 0h1m7 0h1m29 0h1m9 0h1m28 0h1m1 0h1m5 0h1m8 0h1m5 0h1m1 0h1m3 0h1m5 0h1m15 0h1m3 0h2m49 0h1m3 0h2m11 0h1m6 0h3m22 0h2m33 0h1m8 0h1m8 0h1m10 0h1m19 0h1m7 0h1m3 0h1m1 0h1m2 0h1m2 0h1m3 0h2m5 0h2m4 0h1m12 0h2m3 0h1m4 0h1m1 0h1m5 0h3m26 0h1m1 0h2m6 0h5m3 0h1m7 0h1m2 0h1m1 0h2m7 0h2m8 0h4m6 0h1m1 0h1m4 0h1m1 0h1m11 0h2m10 0h1m3 0h1m1 0h1m3 0h1m21 0h1m1 0h1m10 0h1m2 0h1m1 0h2m8 0h3m2 0h1m4 0h1m2 0h1m-627 1h1m2 0h1m9 0h2m8 0h1m1 0h1m9 0h1m5 0h1m10 0h1m23 0h1m7 0h1m1 0h2m38 0h1m3 0h1m3 0h1m7 0h1m11 0h2m3 0h1m62 0h1m60 0h1m36 0h2m11 0h1m6 0h1m8 0h1m13 0h1m3 0h1m3 0h1m7 0h1m1 0h2m1 0h1m7 0h1m3 0h2m1 0h3m7 0h1m1 0h1m4 0h1m1 0h2m5 0h1m1 0h1m3 0h3m19 0h1m6 0h3m1 0h1m4 0h1m1 0h1m5 0h2m1 0h2m5 0h1m6 0h1m1 0h1m5 0h1m3 0h2m6 0h1m4 0h1m6 0h1m2 0h1m11 0h1m3 0h2m13 0h1m2 0h1m13 0h1m3 0h1m11 0h2m4 0h1m4 0h2m6 0h1m2 0h1m8 0h1m-622 1h1m1 0h1m1 0h1m9 0h1m1 0h1m15 0h1m39 0h1m11 0h1m40 0h1m5 0h1m6 0h1m5 0h2m3 0h1m3 0h1m2 0h1m64 0h1m10 0h1m21 0h1m15 0h1m27 0h1m7 0h1m4 0h1m18 0h1m8 0h1m17 0h1m2 0h1m8 0h2m3 0h1m1 0h1m2 0h2m8 0h1m3 0h1m22 0h1m6 0h2m4 0h2m2 0h1m3 0h1m7 0h3m2 0h2m8 0h1m3 0h2m4 0h1m2 0h1m2 0h1m2 0h1m3 0h1m3 0h1m5 0h2m1 0h1m2 0h2m7 0h1m1 0h1m4 0h2m1 0h1m1 0h3m12 0h1m7 0h4m4 0h1m2 0h1m11 0h2m3 0h2m2 0h1m15 0h3m4 0h1m10 0h1m4 0h3m5 0h2m-610 1h2m4 0h1m2 0h1m6 0h1m6 0h1m9 0h3m3 0h1m3 0h1m1 0h2m10 0h2m47 0h2m2 0h1m20 0h2m2 0h1m21 0h1m50 0h3m18 0h1m19 0h2m12 0h1m15 0h1m35 0h1m2 0h1m1 0h2m2 0h1m2 0h2m15 0h2m15 0h1m7 0h2m12 0h1m8 0h1m17 0h1m7 0h1m3 0h2m3 0h1m2 0h2m1 0h1m2 0h2m1 0h1m3 0h2m4 0h1m13 0h1m1 0h2m15 0h1m3 0h1m2 0h2m10 0h1m5 0h1m1 0h1m20 0h2m3 0h1m2 0h1m7 0h2m1 0h1m2 0h1m7 0h1m18 0h1m8 0h2m5 0h2m2 0h1m11 0h1m-620 1h1m12 0h1m4 0h3m5 0h1m13 0h1m11 0h1m11 0h2m8 0h1m6 0h1m31 0h2m3 0h1m2 0h2m4 0h1m6 0h1m3 0h1m6 0h1m12 0h1m62 0h1m14 0h1m1 0h1m8 0h3m7 0h1m4 0h1m11 0h1m34 0h1m11 0h1m3 0h1m2 0h2m3 0h1m2 0h2m1 0h1m6 0h1m19 0h1m3 0h1m5 0h1m11 0h2m2 0h1m6 0h1m2 0h1m5 0h1m4 0h1m2 0h3m1 0h1m10 0h1m1 0h1m1 0h2m1 0h2m7 0h3m1 0h1m9 0h1m5 0h1m1 0h1m4 0h1m1 0h1m7 0h2m8 0h1m1 0h1m2 0h1m7 0h2m2 0h2m8 0h4m2 0h1m5 0h1m12 0h1m6 0h2m6 0h1m4 0h1m1 0h1m14 0h2m3 0h2m12 0h2m13 0h1m-624 1h1m5 0h1m2 0h3m7 0h1m4 0h1m10 0h1m4 0h1m17 0h1m60 0h1m3 0h1m9 0h1m5 0h2m3 0h2m6 0h1m11 0h2m63 0h1m36 0h1m6 0h1m5 0h2m31 0h1m13 0h1m2 0h1m3 0h2m4 0h1m9 0h4m3 0h1m9 0h2m10 0h1m21 0h3m3 0h3m2 0h1m5 0h2m1 0h2m1 0h1m3 0h1m4 0h2m3 0h1m7 0h1m5 0h1m3 0h2m9 0h2m6 0h1m1 0h1m2 0h2m1 0h2m6 0h1m2 0h2m2 0h1m1 0h1m6 0h1m3 0h2m5 0h1m21 0h1m4 0h1m3 0h1m2 0h1m6 0h1m14 0h2m2 0h4m7 0h1m1 0h1m7 0h2m1 0h3m9 0h1m3 0h1m2 0h1m5 0h2m-623 1h1m1 0h1m10 0h2m1 0h1m1 0h1m12 0h1m2 0h1m38 0h1m1 0h1m43 0h1m8 0h1m1 0h1m3 0h1m4 0h1m1 0h1m2 0h1m15 0h1m65 0h1m69 0h1m2 0h1m9 0h1m14 0h2m3 0h1m2 0h1m18 0h2m7 0h1m21 0h1m8 0h1m4 0h1m1 0h1m1 0h1m4 0h1m2 0h1m5 0h1m1 0h1m2 0h1m7 0h1m2 0h2m4 0h1m9 0h1m12 0h2m5 0h1m3 0h1m5 0h1m7 0h2m4 0h2m2 0h1m1 0h1m2 0h1m7 0h1m9 0h1m5 0h1m11 0h2m4 0h1m2 0h1m3 0h2m3 0h1m4 0h1m8 0h1m6 0h2m5 0h2m6 0h1m2 0h1m1 0h1m4 0h1m3 0h5m5 0h1m1 0h1m-612 1h1m8 0h1m3 0h2m3 0h1m2 0h1m3 0h2m48 0h2m33 0h1m11 0h1m1 0h2m1 0h1m8 0h1m4 0h2m1 0h1m9 0h1m1 0h1m54 0h2m8 0h3m69 0h1m1 0h2m8 0h1m14 0h1m3 0h1m3 0h2m9 0h2m1 0h1m8 0h2m1 0h2m18 0h2m2 0h2m6 0h2m9 0h2m1 0h1m2 0h1m4 0h1m5 0h2m4 0h4m1 0h1m2 0h1m18 0h2m2 0h1m11 0h1m2 0h2m1 0h1m1 0h6m1 0h1m1 0h1m3 0h1m2 0h3m1 0h1m2 0h2m3 0h1m5 0h2m5 0h1m1 0h1m2 0h1m1 0h1m6 0h2m3 0h1m1 0h2m2 0h1m6 0h4m1 0h2m2 0h2m16 0h1m3 0h1m8 0h1m1 0h2m4 0h2m6 0h3m2 0h2m1 0h1m2 0h1m2 0h1m1 0h1m2 0h1m-630 1h1m1 0h2m8 0h2m12 0h3m3 0h1m3 0h1m6 0h1m3 0h1m38 0h1m1 0h1m43 0h2m18 0h1m11 0h1m2 0h1m53 0h4m13 0h1m19 0h1m18 0h1m3 0h1m14 0h1m13 0h1m3 0h2m3 0h2m5 0h1m1 0h1m3 0h2m7 0h1m19 0h1m5 0h1m12 0h1m14 0h1m1 0h1m4 0h1m1 0h1m1 0h2m9 0h2m1 0h2m10 0h1m12 0h3m2 0h1m10 0h1m10 0h1m2 0h1m2 0h1m4 0h3m2 0h1m6 0h4m13 0h1m3 0h1m12 0h2m10 0h1m1 0h1m2 0h2m3 0h1m1 0h1m1 0h1m1 0h1m1 0h1m2 0h1m1 0h2m2 0h1m5 0h1m2 0h1m3 0h1m4 0h2m19 0h1m5 0h1m10 0h1m3 0h2m-628 1h2m8 0h2m8 0h1m13 0h1m5 0h1m1 0h1m38 0h1m50 0h2m1 0h1m80 0h1m1 0h1m1 0h1m15 0h1m16 0h1m2 0h1m18 0h2m2 0h1m17 0h1m5 0h1m13 0h1m5 0h3m5 0h1m1 0h1m2 0h1m1 0h1m2 0h1m14 0h1m1 0h1m5 0h1m5 0h1m3 0h1m4 0h1m7 0h3m2 0h2m8 0h1m4 0h2m1 0h1m3 0h2m1 0h2m1 0h2m7 0h2m2 0h2m5 0h1m2 0h1m8 0h1m17 0h2m9 0h2m3 0h2m2 0h4m1 0h1m1 0h1m2 0h2m6 0h1m1 0h1m24 0h2m12 0h2m6 0h1m2 0h2m3 0h1m2 0h1m22 0h1m3 0h1m2 0h2m2 0h2m2 0h2m6 0h2m3 0h2m2 0h3m2 0h1m-628 1h1m2 0h1m1 0h1m5 0h1m11 0h1m1 0h1m11 0h1m34 0h1m3 0h1m1 0h1m1 0h2m49 0h2m13 0h1m4 0h1m63 0h1m21 0h2m19 0h2m4 0h1m10 0h2m1 0h1m17 0h1m8 0h1m25 0h1m1 0h1m2 0h2m5 0h1m11 0h1m1 0h1m3 0h1m7 0h1m3 0h1m4 0h1m2 0h1m6 0h1m2 0h1m6 0h3m8 0h3m7 0h2m2 0h2m3 0h1m1 0h1m1 0h4m4 0h1m1 0h2m1 0h1m2 0h1m2 0h1m1 0h1m16 0h1m2 0h3m5 0h1m2 0h1m6 0h1m3 0h2m2 0h1m3 0h1m12 0h2m3 0h3m2 0h1m1 0h2m3 0h1m8 0h2m1 0h1m3 0h2m14 0h1m1 0h1m1 0h1m3 0h1m9 0h1m1 0h1m5 0h3m8 0h1m1 0h3m1 0h1m3 0h3m2 0h1m2 0h4m2 0h2m-625 1h1m1 0h1m6 0h1m4 0h1m2 0h1m2 0h1m13 0h2m31 0h1m1 0h1m7 0h1m1 0h1m50 0h1m13 0h2m46 0h1m12 0h1m6 0h1m8 0h1m11 0h3m39 0h1m14 0h5m7 0h1m17 0h1m1 0h1m2 0h1m4 0h1m1 0h1m6 0h1m12 0h1m5 0h1m2 0h1m3 0h1m3 0h1m7 0h1m9 0h1m1 0h1m1 0h1m1 0h1m1 0h1m5 0h2m15 0h1m21 0h1m6 0h1m5 0h1m1 0h1m13 0h3m7 0h1m4 0h1m1 0h2m11 0h1m8 0h1m1 0h1m4 0h1m2 0h1m5 0h1m6 0h2m5 0h1m1 0h1m2 0h1m2 0h1m7 0h1m3 0h6m17 0h2m4 0h1m1 0h1m1 0h1m5 0h2m6 0h3m1 0h1m1 0h1m-616 1h1m6 0h1m8 0h1m4 0h1m2 0h3m4 0h1m7 0h1m3 0h1m34 0h1m69 0h1m99 0h1m25 0h2m2 0h1m19 0h1m3 0h1m9 0h1m8 0h1m1 0h2m6 0h3m2 0h1m1 0h1m17 0h3m1 0h1m1 0h1m11 0h1m7 0h2m10 0h1m1 0h2m4 0h1m6 0h2m2 0h2m6 0h2m7 0h2m28 0h1m12 0h1m3 0h1m4 0h2m6 0h3m7 0h2m3 0h3m1 0h2m2 0h1m1 0h1m7 0h2m1 0h1m8 0h1m3 0h2m2 0h1m2 0h1m1 0h1m2 0h1m1 0h1m6 0h1m2 0h1m15 0h1m2 0h2m3 0h2m3 0h1m3 0h1m13 0h2m1 0h1m3 0h1m9 0h2m-628 1h1m8 0h3m6 0h1m1 0h1m6 0h1m7 0h1m4 0h2m2 0h1m15 0h1m12 0h2m2 0h1m131 0h1m29 0h1m41 0h1m20 0h3m12 0h1m1 0h1m1 0h2m3 0h1m7 0h1m2 0h1m4 0h1m11 0h2m22 0h2m8 0h3m1 0h1m1 0h1m7 0h1m16 0h1m1 0h1m1 0h4m11 0h2m7 0h1m12 0h1m10 0h1m1 0h1m5 0h1m1 0h2m9 0h1m5 0h1m3 0h2m3 0h1m2 0h1m1 0h1m3 0h2m7 0h2m4 0h1m4 0h2m1 0h1m3 0h2m4 0h1m3 0h2m1 0h1m2 0h1m20 0h1m3 0h2m3 0h1m3 0h1m14 0h2m9 0h1m5 0h1m2 0h1m-628 1h1m7 0h1m3 0h1m6 0h1m4 0h1m2 0h1m5 0h1m6 0h1m1 0h1m52 0h1m152 0h1m22 0h2m26 0h2m3 0h1m8 0h1m13 0h1m1 0h5m2 0h2m2 0h2m11 0h1m1 0h1m6 0h1m25 0h2m1 0h1m2 0h1m3 0h2m1 0h1m2 0h3m6 0h4m2 0h1m32 0h1m2 0h1m1 0h1m21 0h1m8 0h1m7 0h2m4 0h2m17 0h1m11 0h1m1 0h1m2 0h1m3 0h1m3 0h2m10 0h1m1 0h1m1 0h2m19 0h1m1 0h1m1 0h2m1 0h1m1 0h1m1 0h1m13 0h1m1 0h2m2 0h1m3 0h2m6 0h1m2 0h1m-633 1h1m12 0h2m1 0h1m8 0h1m11 0h1m5 0h1m4 0h1m26 0h1m122 0h1m52 0h1m3 0h2m19 0h2m2 0h1m3 0h1m11 0h1m1 0h1m4 0h2m11 0h2m6 0h1m4 0h2m1 0h1m1 0h2m8 0h2m9 0h2m8 0h1m23 0h2m24 0h1m10 0h1m1 0h1m1 0h2m1 0h1m9 0h1m3 0h1m1 0h1m2 0h1m2 0h2m22 0h1m5 0h2m3 0h2m1 0h2m11 0h1m6 0h2m3 0h1m6 0h3m6 0h1m3 0h4m8 0h2m2 0h1m10 0h1m2 0h1m17 0h1m1 0h1m2 0h1m1 0h1m15 0h5m3 0h1m3 0h1m6 0h1m-621 1h3m1 0h2m2 0h2m3 0h1m4 0h1m1 0h1m2 0h1m7 0h2m37 0h1m4 0h1m57 0h2m55 0h1m38 0h1m2 0h1m14 0h1m27 0h1m14 0h1m4 0h1m1 0h1m13 0h1m1 0h1m3 0h1m1 0h1m10 0h1m1 0h1m39 0h1m12 0h3m2 0h2m5 0h3m4 0h1m3 0h1m10 0h1m4 0h1m13 0h1m3 0h2m4 0h1m13 0h2m5 0h1m2 0h3m7 0h1m3 0h1m13 0h1m5 0h2m1 0h1m6 0h1m2 0h2m10 0h2m5 0h3m1 0h1m1 0h1m8 0h2m4 0h1m6 0h1m3 0h1m6 0h1m3 0h1m8 0h1m4 0h2m4 0h1m1 0h1m5 0h1m10 0h1m-627 1h1m5 0h1m8 0h2m3 0h1m4 0h1m1 0h1m15 0h1m7 0h1m88 0h1m45 0h1m9 0h2m39 0h2m14 0h1m20 0h1m1 0h3m1 0h1m4 0h3m7 0h1m1 0h1m10 0h1m9 0h1m3 0h2m4 0h1m7 0h1m1 0h5m2 0h1m24 0h2m13 0h2m2 0h1m4 0h1m12 0h4m30 0h1m6 0h1m4 0h1m2 0h1m4 0h1m6 0h1m4 0h1m2 0h1m7 0h1m6 0h2m14 0h1m5 0h1m4 0h1m3 0h4m7 0h1m1 0h1m4 0h1m6 0h1m12 0h1m2 0h1m2 0h1m6 0h1m7 0h1m8 0h1m2 0h2m7 0h1m1 0h1m3 0h2m21 0h1m-624 1h2m3 0h1m10 0h1m2 0h1m1 0h1m10 0h1m1 0h1m6 0h1m29 0h1m62 0h1m43 0h1m9 0h1m1 0h5m43 0h1m29 0h1m3 0h1m4 0h1m9 0h2m10 0h1m8 0h1m9 0h1m12 0h1m2 0h2m1 0h1m1 0h1m4 0h2m8 0h1m7 0h1m1 0h1m2 0h1m15 0h1m12 0h1m24 0h1m1 0h1m8 0h1m3 0h2m5 0h2m1 0h2m1 0h1m10 0h2m7 0h1m1 0h2m1 0h1m1 0h1m7 0h1m2 0h1m3 0h1m3 0h1m1 0h1m7 0h1m2 0h2m7 0h1m1 0h5m5 0h2m6 0h5m1 0h3m1 0h1m9 0h1m1 0h1m3 0h3m5 0h1m2 0h1m7 0h1m18 0h1m1 0h2m5 0h2m5 0h1m4 0h1m-634 1h1m5 0h1m2 0h1m1 0h1m4 0h1m5 0h2m6 0h1m2 0h1m1 0h1m6 0h1m2 0h1m1 0h1m33 0h1m2 0h1m13 0h2m100 0h1m3 0h3m78 0h1m27 0h1m5 0h1m8 0h2m3 0h1m6 0h1m7 0h2m1 0h1m4 0h2m1 0h2m15 0h1m13 0h1m1 0h1m14 0h1m3 0h2m3 0h1m13 0h1m1 0h1m13 0h1m1 0h1m3 0h1m5 0h1m2 0h3m15 0h3m4 0h2m13 0h2m3 0h3m2 0h2m4 0h1m9 0h1m1 0h1m1 0h1m9 0h1m1 0h1m3 0h1m3 0h1m1 0h2m4 0h1m7 0h1m2 0h1m3 0h1m1 0h1m1 0h1m3 0h1m1 0h1m9 0h1m18 0h1m1 0h1m16 0h2m-630 1h2m2 0h1m4 0h2m2 0h4m1 0h2m4 0h1m7 0h1m3 0h2m1 0h3m73 0h3m23 0h1m35 0h2m21 0h1m55 0h1m28 0h2m8 0h1m1 0h1m30 0h2m3 0h1m3 0h1m11 0h1m2 0h3m1 0h1m8 0h1m6 0h2m12 0h1m8 0h1m4 0h1m8 0h1m23 0h1m7 0h2m6 0h2m7 0h2m3 0h1m6 0h2m11 0h1m6 0h2m4 0h1m6 0h1m8 0h4m3 0h1m2 0h2m7 0h2m11 0h2m2 0h1m1 0h4m1 0h1m1 0h1m16 0h3m1 0h1m1 0h2m7 0h1m3 0h1m4 0h1m9 0h2m6 0h3m4 0h1m-623 1h1m2 0h1m5 0h1m1 0h1m1 0h3m3 0h2m3 0h2m2 0h1m46 0h1m97 0h1m21 0h1m3 0h1m84 0h1m14 0h2m24 0h2m8 0h2m9 0h1m7 0h1m8 0h2m17 0h1m4 0h1m6 0h1m2 0h2m14 0h1m5 0h1m4 0h1m7 0h1m4 0h1m6 0h3m3 0h2m1 0h1m8 0h1m13 0h1m8 0h2m7 0h2m5 0h1m3 0h1m2 0h2m1 0h1m2 0h3m2 0h4m11 0h1m2 0h1m3 0h3m2 0h1m1 0h2m1 0h1m1 0h1m13 0h1m8 0h2m3 0h1m10 0h1m2 0h2m12 0h2m8 0h1m2 0h1m-623 1h1m9 0h1m1 0h1m3 0h1m5 0h1m1 0h1m5 0h1m44 0h1m1 0h1m1 0h1m27 0h1m46 0h3m33 0h2m2 0h2m2 0h1m77 0h1m2 0h1m22 0h1m12 0h1m11 0h1m4 0h1m3 0h1m11 0h2m1 0h1m2 0h1m11 0h1m7 0h2m3 0h1m12 0h1m3 0h2m1 0h1m14 0h1m4 0h3m1 0h1m1 0h1m16 0h1m17 0h2m13 0h1m5 0h2m1 0h1m4 0h1m7 0h1m6 0h2m1 0h1m12 0h3m8 0h4m3 0h1m1 0h1m2 0h1m4 0h1m3 0h2m3 0h1m2 0h2m4 0h2m2 0h1m1 0h1m5 0h1m17 0h1m1 0h2m8 0h1m5 0h2m4 0h1m-620 1h1m9 0h1m2 0h2m9 0h1m4 0h2m1 0h2m1 0h1m37 0h1m2 0h1m1 0h1m27 0h1m4 0h1m2 0h1m25 0h1m11 0h2m37 0h1m76 0h1m10 0h1m18 0h1m35 0h1m14 0h2m11 0h3m4 0h1m8 0h1m1 0h1m7 0h1m2 0h2m3 0h2m3 0h1m1 0h1m15 0h2m7 0h1m2 0h3m7 0h5m1 0h2m10 0h1m1 0h1m1 0h1m6 0h2m2 0h1m2 0h1m2 0h2m6 0h1m14 0h2m2 0h1m1 0h1m1 0h1m6 0h1m12 0h1m8 0h1m5 0h1m7 0h1m4 0h2m8 0h3m13 0h2m1 0h2m4 0h1m7 0h2m3 0h1m5 0h1m7 0h1m-617 1h1m1 0h1m1 0h2m2 0h1m8 0h1m5 0h2m3 0h2m3 0h1m36 0h1m3 0h1m31 0h2m1 0h2m19 0h1m44 0h1m10 0h2m45 0h1m6 0h1m8 0h1m21 0h1m5 0h1m6 0h1m4 0h1m2 0h2m6 0h1m8 0h1m6 0h2m20 0h1m5 0h1m11 0h3m6 0h1m6 0h1m1 0h2m6 0h1m3 0h1m2 0h2m4 0h1m2 0h2m2 0h1m7 0h1m2 0h1m3 0h5m1 0h1m9 0h1m3 0h1m9 0h2m8 0h1m2 0h2m2 0h1m4 0h2m2 0h2m7 0h1m12 0h2m2 0h1m12 0h1m19 0h1m6 0h1m3 0h1m2 0h2m8 0h1m3 0h2m3 0h1m2 0h2m10 0h2m2 0h1m1 0h1m2 0h2m6 0h1m3 0h3m5 0h2m4 0h2m-617 1h1m15 0h1m1 0h1m5 0h1m3 0h1m3 0h1m1 0h1m37 0h2m13 0h5m12 0h1m4 0h1m20 0h1m1 0h1m17 0h2m23 0h1m9 0h1m79 0h1m7 0h2m9 0h1m7 0h2m17 0h1m3 0h2m5 0h1m14 0h2m16 0h1m1 0h1m6 0h1m11 0h1m1 0h1m3 0h1m4 0h1m5 0h1m19 0h1m2 0h1m4 0h1m3 0h1m5 0h2m3 0h2m7 0h2m11 0h1m2 0h2m3 0h1m2 0h1m2 0h1m12 0h1m2 0h1m5 0h2m1 0h1m5 0h1m1 0h1m1 0h1m4 0h1m2 0h1m15 0h1m6 0h2m4 0h1m2 0h2m2 0h1m3 0h1m4 0h1m8 0h3m2 0h2m2 0h3m20 0h2m8 0h1m-609 1h4m6 0h1m4 0h1m5 0h2m5 0h2m2 0h1m2 0h1m32 0h1m1 0h1m15 0h1m61 0h1m28 0h1m2 0h1m59 0h2m31 0h1m15 0h1m8 0h2m3 0h1m5 0h1m8 0h2m9 0h1m5 0h1m2 0h1m4 0h1m18 0h1m3 0h1m17 0h2m1 0h1m1 0h1m18 0h1m25 0h1m15 0h2m5 0h1m1 0h1m1 0h1m3 0h4m7 0h1m5 0h2m9 0h1m6 0h1m3 0h2m5 0h3m15 0h2m5 0h1m1 0h2m4 0h2m3 0h1m5 0h2m10 0h2m3 0h1m13 0h2m-590 1h1m5 0h1m17 0h3m6 0h2m34 0h3m17 0h1m1 0h1m1 0h1m81 0h1m5 0h2m1 0h1m58 0h1m56 0h2m7 0h2m9 0h1m3 0h1m2 0h2m3 0h1m4 0h1m21 0h1m5 0h1m1 0h2m1 0h1m8 0h1m3 0h1m3 0h1m1 0h1m11 0h1m3 0h1m4 0h2m15 0h1m6 0h2m16 0h2m5 0h2m7 0h2m9 0h1m2 0h1m7 0h1m5 0h1m5 0h1m1 0h1m3 0h1m2 0h1m1 0h1m8 0h1m1 0h1m2 0h1m7 0h1m2 0h1m4 0h2m6 0h1m2 0h1m2 0h1m3 0h2m1 0h1m5 0h1m1 0h3m3 0h1m3 0h1m16 0h1m1 0h1m1 0h1m5 0h3m3 0h2m-615 1h2m3 0h1m1 0h1m2 0h1m2 0h1m8 0h2m1 0h1m43 0h1m1 0h1m20 0h1m77 0h1m13 0h1m2 0h1m63 0h1m13 0h1m2 0h1m1 0h1m4 0h2m22 0h1m8 0h3m12 0h2m1 0h1m4 0h1m5 0h2m2 0h1m9 0h2m10 0h1m2 0h2m5 0h1m6 0h1m1 0h1m3 0h1m6 0h1m10 0h1m3 0h2m2 0h1m7 0h1m1 0h2m1 0h1m13 0h2m4 0h7m4 0h1m3 0h1m8 0h1m1 0h4m2 0h3m3 0h2m18 0h2m1 0h1m1 0h1m10 0h1m1 0h2m1 0h1m1 0h2m3 0h1m1 0h1m7 0h1m1 0h1m6 0h1m9 0h1m1 0h2m1 0h3m9 0h1m6 0h1m10 0h1m2 0h2m10 0h1m-605 1h1m4 0h1m1 0h1m3 0h1m4 0h1m2 0h2m4 0h1m25 0h1m4 0h2m6 0h1m2 0h2m13 0h3m9 0h1m1 0h2m69 0h1m1 0h1m5 0h1m1 0h1m3 0h1m4 0h1m60 0h1m12 0h1m1 0h1m1 0h1m5 0h1m42 0h1m20 0h2m6 0h2m7 0h1m11 0h1m17 0h1m5 0h1m5 0h1m1 0h1m5 0h1m3 0h1m2 0h2m1 0h1m14 0h1m10 0h1m1 0h2m7 0h4m4 0h1m2 0h1m5 0h2m1 0h2m2 0h1m1 0h1m1 0h1m1 0h1m1 0h2m6 0h1m2 0h1m5 0h1m4 0h1m7 0h2m7 0h1m4 0h1m12 0h3m2 0h1m2 0h1m2 0h1m2 0h1m1 0h1m7 0h1m3 0h1m1 0h1m5 0h1m3 0h3m17 0h1m6 0h1m-608 1h1m2 0h1m4 0h1m5 0h2m4 0h1m1 0h1m1 0h1m2 0h2m27 0h1m4 0h2m2 0h2m4 0h1m24 0h2m2 0h1m43 0h1m29 0h1m3 0h1m1 0h1m1 0h2m81 0h1m1 0h2m35 0h1m1 0h1m6 0h2m1 0h1m1 0h1m5 0h1m12 0h1m3 0h1m4 0h1m10 0h1m1 0h1m8 0h1m1 0h2m6 0h1m3 0h1m1 0h1m4 0h2m4 0h2m5 0h1m3 0h1m23 0h1m10 0h1m8 0h1m1 0h1m3 0h1m5 0h2m2 0h2m5 0h1m1 0h1m3 0h2m1 0h1m19 0h2m9 0h1m1 0h1m2 0h2m4 0h3m6 0h2m3 0h1m3 0h2m1 0h1m1 0h1m8 0h1m6 0h2m5 0h1m1 0h2m1 0h1m7 0h1m6 0h1m9 0h3m2 0h1m-598 1h1m1 0h2m8 0h1m4 0h1m1 0h2m1 0h1m28 0h1m2 0h1m5 0h1m13 0h1m62 0h1m122 0h1m34 0h1m14 0h2m3 0h2m1 0h1m1 0h2m3 0h4m17 0h2m12 0h1m5 0h1m2 0h1m5 0h1m3 0h1m5 0h1m12 0h1m13 0h1m2 0h2m1 0h1m3 0h1m1 0h1m1 0h2m1 0h1m3 0h1m8 0h2m4 0h1m9 0h1m3 0h2m6 0h2m13 0h1m7 0h1m2 0h2m4 0h1m3 0h1m2 0h1m1 0h1m6 0h1m2 0h1m1 0h3m4 0h1m1 0h3m5 0h1m10 0h1m4 0h1m8 0h2m3 0h2m3 0h1m1 0h1m2 0h2m10 0h2m1 0h1m2 0h1m-605 1h2m1 0h1m1 0h1m5 0h1m8 0h1m2 0h2m3 0h1m26 0h1m1 0h1m9 0h1m44 0h2m50 0h1m58 0h1m27 0h2m12 0h1m13 0h1m17 0h2m1 0h1m2 0h1m11 0h3m4 0h2m2 0h1m1 0h1m1 0h1m5 0h1m11 0h2m8 0h1m7 0h1m4 0h1m7 0h1m1 0h1m6 0h1m5 0h1m26 0h1m1 0h3m4 0h1m1 0h1m1 0h1m3 0h1m1 0h1m3 0h1m14 0h1m6 0h4m1 0h1m1 0h1m5 0h2m1 0h1m4 0h1m5 0h1m1 0h2m2 0h1m1 0h1m4 0h1m8 0h1m2 0h1m2 0h2m1 0h1m1 0h1m3 0h3m1 0h1m13 0h1m1 0h2m8 0h1m1 0h3m1 0h1m1 0h1m1 0h2m1 0h1m3 0h1m5 0h3m3 0h1m2 0h2m5 0h1m1 0h2m-603 1h1m6 0h1m12 0h1m8 0h1m1 0h1m5 0h1m1 0h1m12 0h6m53 0h2m51 0h1m14 0h1m56 0h1m13 0h2m9 0h2m10 0h1m1 0h1m20 0h1m3 0h1m9 0h1m11 0h1m27 0h1m1 0h2m5 0h1m2 0h1m10 0h1m2 0h1m1 0h2m1 0h1m2 0h1m1 0h1m2 0h2m13 0h2m4 0h1m10 0h1m2 0h1m1 0h3m1 0h3m2 0h1m1 0h1m2 0h1m18 0h1m2 0h2m2 0h2m8 0h1m1 0h1m1 0h1m1 0h1m1 0h1m3 0h1m7 0h1m3 0h3m4 0h1m1 0h2m4 0h1m6 0h2m3 0h1m3 0h1m3 0h1m3 0h1m7 0h2m1 0h1m3 0h2m6 0h4m2 0h2m17 0h2m3 0h1m4 0h3m2 0h1m-603 1h1m5 0h1m7 0h2m6 0h1m6 0h1m9 0h1m12 0h2m8 0h1m1 0h1m13 0h1m33 0h3m27 0h1m6 0h1m15 0h1m50 0h1m2 0h2m15 0h1m13 0h1m9 0h2m12 0h1m32 0h2m4 0h1m7 0h3m5 0h2m4 0h1m13 0h1m1 0h3m2 0h1m11 0h1m18 0h1m37 0h1m4 0h1m4 0h2m1 0h1m12 0h1m3 0h1m3 0h1m2 0h1m2 0h2m8 0h1m6 0h3m4 0h1m5 0h3m4 0h1m1 0h2m2 0h1m3 0h1m1 0h2m3 0h1m13 0h2m1 0h1m6 0h1m6 0h1m9 0h1m3 0h1m1 0h1m2 0h1m1 0h1m2 0h1m5 0h1m4 0h2m10 0h1m2 0h1m1 0h1m-603 1h1m18 0h1m17 0h1m14 0h1m8 0h3m14 0h1m67 0h1m14 0h2m87 0h1m19 0h1m42 0h1m7 0h3m1 0h1m4 0h1m5 0h1m2 0h1m28 0h1m16 0h1m4 0h1m5 0h1m6 0h1m7 0h2m1 0h4m6 0h2m4 0h1m7 0h1m2 0h1m4 0h1m7 0h1m3 0h1m3 0h1m3 0h1m5 0h1m6 0h1m1 0h1m2 0h1m2 0h1m1 0h1m6 0h1m3 0h1m1 0h1m1 0h1m28 0h2m6 0h2m4 0h1m13 0h2m2 0h2m6 0h3m6 0h1m5 0h1m6 0h1m4 0h1m-595 1h1m103 0h2m2 0h1m46 0h2m1 0h1m132 0h1m5 0h1m1 0h2m7 0h2m6 0h1m1 0h1m10 0h2m42 0h1m2 0h1m1 0h1m7 0h1m10 0h1m2 0h3m1 0h1m1 0h3m3 0h1m4 0h1m1 0h1m5 0h1m7 0h2m3 0h1m1 0h1m4 0h1m4 0h1m1 0h1m6 0h2m1 0h1m2 0h1m3 0h2m1 0h1m4 0h1m2 0h1m2 0h2m7 0h1m3 0h2m1 0h1m6 0h1m13 0h2m6 0h2m3 0h1m15 0h2m8 0h1m2 0h3m15 0h2m5 0h2m5 0h1m-596 1h2m7 0h1m19 0h1m74 0h1m3 0h1m2 0h1m32 0h2m9 0h1m2 0h1m1 0h2m65 0h1m24 0h2m5 0h1m4 0h1m33 0h1m1 0h1m3 0h1m1 0h1m4 0h1m15 0h1m2 0h1m16 0h1m5 0h1m11 0h1m1 0h1m4 0h1m3 0h1m4 0h3m3 0h1m1 0h1m4 0h3m1 0h1m5 0h1m3 0h1m4 0h1m7 0h1m2 0h1m21 0h1m1 0h1m13 0h2m3 0h1m11 0h1m2 0h2m12 0h1m4 0h1m5 0h1m2 0h2m10 0h1m4 0h3m2 0h2m2 0h1m3 0h1m1 0h1m7 0h1m1 0h1m4 0h1m2 0h1m3 0h2m18 0h4m-587 1h1m1 0h1m13 0h1m6 0h1m5 0h1m65 0h1m4 0h1m1 0h1m4 0h2m51 0h1m48 0h1m21 0h1m14 0h2m4 0h1m9 0h2m1 0h1m36 0h1m2 0h4m8 0h2m2 0h1m7 0h1m5 0h1m23 0h1m2 0h1m2 0h2m11 0h3m1 0h1m6 0h1m5 0h1m29 0h1m5 0h2m1 0h1m2 0h2m3 0h1m1 0h1m2 0h4m2 0h1m2 0h2m1 0h2m2 0h2m5 0h1m4 0h1m3 0h1m16 0h2m5 0h2m21 0h1m15 0h3m4 0h2m4 0h2m13 0h1m7 0h1m1 0h1m7 0h1m-579 1h1m13 0h1m8 0h2m7 0h2m5 0h1m3 0h3m8 0h2m30 0h4m4 0h1m5 0h1m55 0h1m42 0h1m1 0h1m19 0h2m9 0h2m3 0h1m14 0h2m1 0h1m35 0h2m16 0h1m1 0h2m5 0h2m5 0h1m13 0h1m1 0h1m7 0h2m5 0h1m2 0h1m3 0h1m3 0h2m4 0h2m1 0h1m8 0h1m9 0h1m19 0h3m6 0h1m7 0h1m1 0h2m1 0h1m2 0h1m4 0h1m4 0h2m2 0h1m3 0h3m4 0h1m2 0h1m2 0h1m2 0h1m11 0h1m2 0h2m3 0h1m1 0h3m2 0h1m4 0h1m4 0h1m3 0h1m3 0h2m6 0h1m3 0h2m12 0h1m26 0h1m2 0h3m-566 1h1m7 0h1m1 0h1m14 0h1m5 0h2m8 0h3m31 0h1m12 0h1m48 0h1m56 0h1m15 0h1m1 0h1m8 0h1m48 0h1m7 0h1m2 0h3m2 0h1m7 0h1m3 0h2m6 0h2m2 0h1m19 0h1m8 0h1m4 0h1m5 0h3m3 0h1m2 0h3m3 0h2m2 0h1m1 0h2m4 0h1m17 0h1m11 0h1m7 0h1m6 0h1m2 0h1m2 0h1m1 0h1m3 0h1m6 0h2m3 0h1m1 0h1m1 0h1m5 0h2m1 0h2m12 0h2m5 0h4m1 0h2m10 0h1m5 0h1m4 0h1m3 0h1m4 0h1m2 0h2m8 0h3m1 0h1m9 0h1m1 0h1m12 0h2m1 0h1m-556 1h2m2 0h2m1 0h2m9 0h1m28 0h1m1 0h1m17 0h1m2 0h2m1 0h2m6 0h4m45 0h1m8 0h1m3 0h1m61 0h1m20 0h3m2 0h2m2 0h1m34 0h2m6 0h1m1 0h1m4 0h5m4 0h2m1 0h2m24 0h1m7 0h2m7 0h1m2 0h1m3 0h2m6 0h1m11 0h1m4 0h1m2 0h1m3 0h1m3 0h2m10 0h1m4 0h1m1 0h2m1 0h4m6 0h1m3 0h2m1 0h2m1 0h2m5 0h2m2 0h1m2 0h2m2 0h1m2 0h1m6 0h1m2 0h1m9 0h1m6 0h2m2 0h1m1 0h1m2 0h1m7 0h1m2 0h1m2 0h3m4 0h1m2 0h1m1 0h3m4 0h1m3 0h1m4 0h1m14 0h1m11 0h3m1 0h1m-575 1h1m14 0h2m3 0h1m13 0h1m3 0h2m19 0h1m25 0h1m5 0h1m2 0h1m1 0h2m3 0h2m30 0h1m10 0h2m2 0h1m15 0h2m2 0h1m54 0h2m11 0h1m7 0h1m2 0h1m2 0h1m3 0h1m33 0h1m2 0h1m2 0h1m1 0h2m6 0h1m5 0h1m1 0h1m14 0h1m7 0h1m12 0h1m16 0h2m6 0h1m1 0h2m5 0h1m1 0h1m1 0h2m4 0h1m1 0h1m4 0h2m1 0h2m2 0h1m2 0h1m3 0h1m4 0h1m5 0h1m10 0h1m1 0h3m10 0h1m1 0h1m1 0h1m1 0h5m5 0h1m1 0h2m5 0h1m3 0h1m18 0h3m5 0h1m1 0h1m1 0h4m2 0h1m4 0h1m18 0h1m2 0h1m1 0h1m25 0h2m1 0h2m-576 1h1m6 0h1m4 0h1m9 0h1m8 0h1m12 0h1m14 0h1m30 0h1m4 0h1m5 0h1m31 0h1m3 0h1m21 0h1m7 0h2m38 0h1m26 0h3m7 0h1m5 0h1m37 0h1m6 0h1m1 0h1m1 0h1m4 0h1m4 0h1m3 0h1m5 0h2m3 0h1m1 0h1m1 0h1m35 0h1m3 0h1m3 0h1m2 0h2m7 0h1m5 0h2m8 0h1m5 0h1m9 0h1m10 0h2m12 0h2m10 0h2m6 0h1m2 0h2m2 0h2m3 0h3m3 0h1m4 0h1m3 0h1m12 0h2m1 0h1m2 0h1m3 0h4m4 0h2m1 0h1m2 0h1m3 0h1m10 0h1m12 0h2m14 0h2m-565 1h1m9 0h1m1 0h1m5 0h1m8 0h1m2 0h1m2 0h1m45 0h1m3 0h1m4 0h3m40 0h1m24 0h1m44 0h2m61 0h1m18 0h1m5 0h1m1 0h1m4 0h1m4 0h1m5 0h1m4 0h2m8 0h1m3 0h1m8 0h2m24 0h2m2 0h3m19 0h1m1 0h1m3 0h1m2 0h1m9 0h2m14 0h3m1 0h1m1 0h1m3 0h1m13 0h1m3 0h1m5 0h1m2 0h1m10 0h1m4 0h5m1 0h2m2 0h1m10 0h1m1 0h1m2 0h1m1 0h1m1 0h3m18 0h1m7 0h1m3 0h1m5 0h1m2 0h1m4 0h2m12 0h1m-571 1h2m11 0h2m17 0h4m2 0h2m1 0h1m45 0h1m3 0h4m38 0h1m3 0h1m1 0h2m14 0h1m14 0h1m23 0h1m24 0h1m73 0h1m16 0h1m2 0h1m3 0h1m3 0h1m13 0h1m19 0h3m13 0h1m2 0h1m7 0h2m3 0h3m1 0h1m13 0h1m3 0h1m3 0h1m1 0h1m6 0h1m3 0h1m3 0h1m4 0h2m6 0h1m1 0h1m5 0h2m5 0h1m14 0h2m1 0h1m2 0h2m14 0h1m4 0h1m6 0h1m3 0h1m6 0h1m2 0h1m1 0h2m5 0h1m3 0h1m2 0h1m2 0h1m8 0h1m1 0h2m9 0h1m1 0h1m5 0h2m-555 1h1m21 0h1m5 0h1m40 0h1m1 0h1m45 0h2m1 0h1m1 0h1m16 0h1m13 0h1m22 0h2m3 0h1m22 0h1m14 0h1m34 0h2m11 0h1m3 0h2m3 0h2m1 0h1m1 0h1m1 0h1m2 0h3m14 0h2m9 0h1m3 0h1m19 0h1m2 0h1m34 0h1m3 0h1m13 0h1m1 0h1m5 0h2m6 0h1m4 0h1m2 0h2m1 0h1m4 0h1m1 0h1m2 0h1m1 0h1m1 0h1m3 0h1m1 0h1m1 0h2m1 0h2m9 0h1m4 0h1m1 0h1m6 0h1m1 0h1m3 0h1m1 0h3m5 0h1m2 0h1m11 0h3m3 0h1m6 0h1m1 0h1m2 0h5m10 0h1m7 0h1m3 0h2m4 0h1m-564 1h1m2 0h1m1 0h1m8 0h3m11 0h2m8 0h1m40 0h1m4 0h1m33 0h2m1 0h3m4 0h1m1 0h1m20 0h1m4 0h1m3 0h1m5 0h2m8 0h1m9 0h1m1 0h1m8 0h1m28 0h3m4 0h1m12 0h1m25 0h2m2 0h1m5 0h1m8 0h1m3 0h1m10 0h1m4 0h1m4 0h1m4 0h1m6 0h2m2 0h1m13 0h1m2 0h2m1 0h4m2 0h1m10 0h2m6 0h1m4 0h1m7 0h3m8 0h1m3 0h1m16 0h1m18 0h1m1 0h1m3 0h3m3 0h1m3 0h1m1 0h2m3 0h1m6 0h1m3 0h1m6 0h1m1 0h1m5 0h1m4 0h1m4 0h1m2 0h1m20 0h1m6 0h1m1 0h3m8 0h1m1 0h1m6 0h1m-551 1h1m5 0h1m4 0h1m18 0h1m50 0h1m28 0h1m3 0h1m1 0h1m4 0h4m27 0h1m39 0h1m33 0h1m16 0h1m14 0h3m1 0h2m10 0h1m8 0h3m1 0h1m2 0h1m1 0h1m1 0h1m2 0h1m2 0h1m7 0h1m5 0h1m1 0h1m1 0h1m4 0h1m2 0h1m1 0h1m2 0h1m18 0h2m2 0h1m1 0h1m14 0h2m1 0h1m7 0h1m5 0h1m1 0h2m20 0h1m8 0h1m1 0h1m5 0h1m6 0h4m6 0h4m2 0h1m1 0h2m1 0h1m3 0h2m2 0h1m4 0h1m2 0h1m1 0h1m3 0h1m1 0h1m9 0h3m1 0h2m1 0h1m23 0h1m2 0h2m2 0h2m2 0h3m3 0h2m9 0h1m7 0h1m-568 1h3m7 0h1m9 0h1m1 0h1m20 0h1m83 0h1m7 0h1m20 0h1m1 0h1m7 0h1m60 0h1m41 0h1m4 0h3m4 0h1m1 0h1m8 0h1m3 0h1m1 0h1m5 0h1m1 0h3m8 0h1m12 0h1m3 0h1m4 0h2m3 0h4m16 0h1m2 0h1m2 0h1m11 0h1m7 0h1m1 0h3m14 0h1m6 0h1m4 0h2m1 0h1m6 0h1m6 0h1m7 0h1m8 0h1m2 0h1m1 0h1m3 0h1m5 0h1m1 0h1m8 0h1m3 0h1m4 0h1m8 0h1m3 0h1m24 0h3m1 0h1m9 0h2m1 0h3m10 0h1m1 0h1m-560 1h2m8 0h1m1 0h1m3 0h1m1 0h2m22 0h1m1 0h3m73 0h1m4 0h1m1 0h1m36 0h1m3 0h1m24 0h1m31 0h1m3 0h1m38 0h2m1 0h2m2 0h1m11 0h3m2 0h1m22 0h2m2 0h1m8 0h1m2 0h1m30 0h2m1 0h1m6 0h1m15 0h2m1 0h1m1 0h1m2 0h1m2 0h1m8 0h1m6 0h1m4 0h2m2 0h2m20 0h1m3 0h1m8 0h1m9 0h1m4 0h1m24 0h1m3 0h2m1 0h4m18 0h1m4 0h1m23 0h1m5 0h1m-563 1h1m14 0h2m63 0h1m43 0h2m1 0h3m24 0h1m7 0h1m22 0h1m80 0h2m2 0h1m1 0h1m1 0h1m1 0h1m6 0h1m39 0h1m1 0h2m31 0h4m5 0h1m2 0h1m2 0h2m21 0h1m3 0h1m4 0h1m2 0h1m14 0h2m4 0h1m2 0h2m2 0h2m3 0h1m5 0h1m6 0h1m2 0h1m3 0h1m2 0h2m8 0h1m4 0h4m11 0h2m1 0h1m4 0h2m2 0h4m2 0h1m1 0h2m9 0h1m1 0h2m4 0h1m4 0h1m9 0h1m8 0h1m8 0h1m-568 1h2m8 0h2m4 0h2m21 0h1m3 0h2m37 0h1m2 0h1m70 0h1m1 0h1m1 0h1m1 0h1m5 0h1m12 0h3m2 0h3m36 0h1m2 0h3m13 0h1m3 0h1m21 0h2m1 0h2m1 0h1m3 0h2m8 0h1m15 0h1m2 0h1m8 0h1m20 0h1m9 0h1m16 0h1m8 0h2m4 0h2m1 0h1m5 0h1m6 0h1m1 0h2m19 0h2m4 0h1m5 0h2m8 0h1m7 0h1m4 0h2m4 0h2m2 0h1m7 0h1m1 0h1m4 0h1m3 0h1m5 0h2m2 0h5m2 0h1m26 0h1m5 0h1m4 0h1m9 0h1m-548 1h2m1 0h1m8 0h2m27 0h1m6 0h1m1 0h1m13 0h1m4 0h1m52 0h2m4 0h1m29 0h1m1 0h1m24 0h2m7 0h1m2 0h1m14 0h1m2 0h2m5 0h1m2 0h1m26 0h1m9 0h1m7 0h1m1 0h1m10 0h2m6 0h1m3 0h1m5 0h1m13 0h1m2 0h3m5 0h1m34 0h1m2 0h2m5 0h1m2 0h1m1 0h1m1 0h2m1 0h2m12 0h1m1 0h2m2 0h2m17 0h1m21 0h1m3 0h2m2 0h1m10 0h1m1 0h1m3 0h1m1 0h1m1 0h1m3 0h1m3 0h1m1 0h1m16 0h2m1 0h2m8 0h1m5 0h3m1 0h1m2 0h3m7 0h1m2 0h2m7 0h2m7 0h1m6 0h3m-526 1h1m1 0h1m8 0h1m19 0h4m1 0h2m78 0h1m3 0h1m3 0h1m21 0h2m27 0h1m10 0h1m25 0h3m16 0h3m7 0h1m14 0h1m20 0h1m4 0h2m1 0h2m23 0h1m1 0h1m2 0h1m9 0h1m3 0h1m1 0h1m14 0h1m8 0h1m4 0h4m20 0h1m4 0h1m13 0h1m6 0h1m2 0h1m5 0h1m2 0h2m9 0h1m2 0h1m22 0h2m1 0h1m12 0h1m5 0h2m2 0h1m2 0h2m2 0h1m4 0h1m4 0h1m-545 1h1m1 0h2m16 0h1m8 0h1m14 0h1m2 0h1m24 0h1m82 0h1m1 0h1m5 0h1m21 0h1m1 0h1m6 0h1m34 0h1m17 0h1m3 0h1m2 0h2m2 0h1m1 0h2m19 0h4m2 0h1m6 0h2m5 0h1m15 0h1m1 0h2m16 0h1m6 0h1m9 0h2m1 0h1m4 0h1m13 0h1m2 0h2m7 0h1m1 0h1m6 0h1m3 0h1m1 0h1m1 0h1m6 0h1m12 0h2m8 0h1m2 0h2m2 0h4m5 0h1m1 0h1m3 0h2m2 0h1m3 0h1m6 0h2m5 0h3m12 0h1m3 0h1m3 0h2m13 0h1m9 0h1m3 0h2m11 0h2m1 0h1m3 0h1m-551 1h1m3 0h1m16 0h1m6 0h1m46 0h2m81 0h1m6 0h1m15 0h1m5 0h1m2 0h1m9 0h1m28 0h1m5 0h1m19 0h4m5 0h1m7 0h1m6 0h1m1 0h1m4 0h3m4 0h1m2 0h1m1 0h1m1 0h2m1 0h1m9 0h1m2 0h1m5 0h1m1 0h2m7 0h1m4 0h1m3 0h1m10 0h2m1 0h2m2 0h1m1 0h1m2 0h1m9 0h4m5 0h1m5 0h1m5 0h1m2 0h1m2 0h2m7 0h1m3 0h1m8 0h2m11 0h1m2 0h2m2 0h1m1 0h1m2 0h1m8 0h1m4 0h4m4 0h1m2 0h1m1 0h1m5 0h1m12 0h1m5 0h1m1 0h1m12 0h1m5 0h2m1 0h1m1 0h2m1 0h1m1 0h2m5 0h1m5 0h1m-544 1h1m4 0h2m14 0h1m2 0h2m1 0h1m12 0h1m1 0h2m25 0h1m1 0h1m7 0h1m73 0h1m2 0h1m1 0h2m4 0h1m18 0h3m1 0h1m60 0h1m11 0h3m15 0h1m2 0h1m1 0h1m1 0h1m2 0h1m2 0h1m3 0h1m23 0h1m10 0h2m6 0h3m5 0h1m2 0h1m4 0h2m2 0h4m1 0h1m6 0h1m1 0h1m7 0h1m1 0h1m6 0h1m3 0h3m2 0h1m6 0h2m4 0h1m2 0h1m8 0h2m2 0h1m2 0h1m14 0h2m3 0h1m3 0h2m6 0h1m6 0h1m5 0h1m12 0h1m3 0h1m7 0h1m18 0h7m2 0h1m2 0h2m1 0h2m10 0h1m9 0h1m-555 1h1m1 0h1m12 0h1m6 0h2m5 0h2m1 0h1m7 0h2m11 0h1m50 0h1m20 0h1m24 0h1m6 0h1m4 0h1m8 0h1m23 0h1m49 0h1m1 0h1m1 0h1m23 0h1m4 0h1m3 0h1m29 0h3m5 0h1m16 0h1m6 0h1m2 0h2m1 0h1m4 0h1m1 0h2m11 0h1m7 0h1m2 0h2m2 0h1m1 0h1m2 0h1m2 0h1m2 0h1m2 0h1m4 0h1m17 0h1m5 0h1m6 0h1m4 0h1m2 0h1m4 0h1m4 0h1m6 0h1m4 0h3m2 0h1m3 0h1m2 0h1m1 0h1m2 0h1m6 0h2m1 0h1m7 0h1m15 0h1m5 0h1m11 0h1m-528 1h1m22 0h1m9 0h2m15 0h1m6 0h1m3 0h1m11 0h1m22 0h1m2 0h1m39 0h1m5 0h1m12 0h1m1 0h2m30 0h2m44 0h1m1 0h1m1 0h1m19 0h2m7 0h2m14 0h2m1 0h1m13 0h1m6 0h1m1 0h1m9 0h1m14 0h1m2 0h1m7 0h1m5 0h3m5 0h2m8 0h1m2 0h1m7 0h1m3 0h1m6 0h3m3 0h1m4 0h2m5 0h1m1 0h1m7 0h1m2 0h2m1 0h2m1 0h1m2 0h2m18 0h1m1 0h1m3 0h1m1 0h1m1 0h3m12 0h1m7 0h1m3 0h1m8 0h1m4 0h1m3 0h1m3 0h1m14 0h2m8 0h3m-550 1h1m2 0h1m26 0h2m2 0h2m6 0h1m15 0h1m3 0h1m1 0h1m4 0h1m9 0h2m20 0h1m10 0h1m38 0h1m6 0h2m3 0h2m2 0h1m4 0h1m24 0h1m2 0h2m37 0h1m5 0h2m8 0h1m1 0h3m1 0h1m4 0h1m9 0h1m7 0h2m5 0h2m1 0h1m2 0h1m3 0h1m9 0h3m4 0h3m5 0h2m2 0h2m5 0h3m9 0h2m1 0h1m3 0h2m8 0h2m6 0h1m2 0h1m4 0h1m4 0h2m5 0h1m6 0h1m1 0h1m2 0h1m6 0h3m2 0h1m3 0h2m6 0h2m8 0h1m12 0h1m4 0h3m2 0h1m6 0h1m6 0h1m6 0h1m4 0h1m1 0h1m7 0h1m1 0h2m2 0h2m2 0h1m4 0h2m3 0h1m2 0h2m1 0h1m3 0h1m9 0h2m8 0h1m1 0h1m-549 1h1m2 0h2m3 0h2m18 0h1m10 0h2m13 0h1m5 0h1m5 0h2m5 0h1m3 0h1m20 0h1m1 0h1m55 0h1m4 0h1m1 0h1m64 0h1m5 0h1m4 0h1m1 0h1m3 0h1m12 0h3m2 0h1m7 0h2m8 0h1m5 0h1m1 0h1m1 0h4m1 0h1m16 0h1m3 0h1m6 0h1m8 0h1m1 0h2m2 0h1m4 0h1m3 0h1m2 0h2m1 0h1m1 0h2m5 0h1m4 0h2m2 0h1m1 0h1m4 0h2m2 0h1m1 0h1m4 0h1m3 0h1m2 0h1m7 0h1m6 0h1m5 0h4m1 0h1m7 0h2m16 0h2m4 0h1m3 0h1m6 0h1m4 0h2m4 0h1m3 0h1m2 0h3m12 0h1m3 0h1m1 0h1m3 0h1m3 0h1m3 0h1m20 0h1m9 0h1m-518 1h1m20 0h2m2 0h1m4 0h1m1 0h1m4 0h1m8 0h1m23 0h1m4 0h2m52 0h1m1 0h1m1 0h1m2 0h2m26 0h1m32 0h1m15 0h2m5 0h2m1 0h2m30 0h1m2 0h1m3 0h1m12 0h2m1 0h2m16 0h1m6 0h2m3 0h1m4 0h4m7 0h1m4 0h2m1 0h1m5 0h1m2 0h1m3 0h2m5 0h1m2 0h1m3 0h5m7 0h2m3 0h1m3 0h1m6 0h2m4 0h2m4 0h1m2 0h1m3 0h1m2 0h2m1 0h1m10 0h1m4 0h1m6 0h1m4 0h2m3 0h1m5 0h1m3 0h1m6 0h1m2 0h4m4 0h1m1 0h1m6 0h1m2 0h1m5 0h1m6 0h1m3 0h1m3 0h2m1 0h1m3 0h2m-549 1h1m62 0h1m2 0h1m11 0h1m1 0h3m25 0h1m49 0h1m2 0h2m35 0h1m25 0h1m2 0h1m5 0h1m2 0h1m10 0h2m4 0h1m1 0h2m1 0h1m3 0h1m29 0h1m2 0h1m12 0h2m19 0h2m5 0h2m11 0h1m1 0h2m2 0h1m2 0h1m2 0h2m9 0h1m2 0h2m2 0h1m7 0h2m2 0h3m3 0h1m1 0h1m5 0h1m1 0h1m2 0h1m1 0h1m1 0h1m7 0h1m6 0h1m10 0h1m1 0h1m10 0h2m6 0h1m22 0h1m13 0h1m2 0h2m6 0h1m10 0h1m4 0h1m4 0h2m4 0h1m1 0h1m1 0h1m2 0h2m2 0h1m-528 1h1m15 0h2m21 0h1m3 0h1m3 0h2m13 0h1m5 0h1m9 0h1m1 0h2m7 0h1m53 0h1m1 0h1m26 0h1m23 0h4m13 0h2m2 0h1m5 0h1m11 0h1m1 0h1m3 0h1m3 0h1m18 0h1m7 0h1m14 0h2m46 0h3m6 0h1m16 0h2m1 0h2m4 0h1m4 0h2m6 0h2m7 0h3m7 0h1m1 0h1m14 0h1m2 0h1m1 0h1m8 0h1m1 0h4m5 0h2m7 0h1m6 0h1m2 0h1m13 0h1m1 0h1m1 0h1m12 0h2m6 0h1m7 0h1m1 0h1m4 0h1m2 0h1m1 0h4m-544 1h1m1 0h2m3 0h3m8 0h1m63 0h1m3 0h1m94 0h1m12 0h1m26 0h1m1 0h1m8 0h1m2 0h1m4 0h1m7 0h1m14 0h1m10 0h1m12 0h1m3 0h1m40 0h1m13 0h1m1 0h1m3 0h1m2 0h3m4 0h1m1 0h1m1 0h1m4 0h1m4 0h1m2 0h2m13 0h1m5 0h2m1 0h1m5 0h2m1 0h1m3 0h1m6 0h2m1 0h1m7 0h1m19 0h1m1 0h1m2 0h5m1 0h2m12 0h1m2 0h1m13 0h1m1 0h1m5 0h1m6 0h1m7 0h1m7 0h2m2 0h1m1 0h4m1 0h1m2 0h4m-549 1h2m1 0h1m7 0h1m23 0h1m21 0h1m3 0h1m2 0h1m1 0h2m3 0h2m8 0h1m3 0h3m2 0h1m72 0h1m20 0h2m32 0h1m8 0h1m10 0h2m3 0h1m11 0h1m2 0h2m1 0h2m1 0h1m15 0h1m8 0h1m1 0h2m44 0h1m2 0h1m9 0h2m1 0h1m11 0h1m1 0h1m1 0h1m8 0h1m3 0h2m14 0h3m2 0h1m6 0h1m9 0h1m3 0h1m4 0h1m7 0h1m2 0h1m11 0h1m6 0h1m2 0h1m1 0h1m2 0h1m2 0h2m10 0h1m1 0h1m4 0h1m8 0h1m36 0h1m1 0h2m2 0h1m6 0h2m-548 1h1m59 0h1m2 0h1m6 0h1m10 0h1m2 0h1m62 0h2m47 0h1m8 0h1m2 0h2m6 0h1m7 0h1m16 0h2m3 0h1m4 0h1m1 0h1m22 0h1m50 0h1m6 0h2m2 0h2m3 0h1m1 0h2m14 0h1m2 0h2m14 0h1m3 0h3m2 0h1m9 0h1m4 0h1m11 0h2m17 0h1m3 0h2m8 0h1m15 0h1m14 0h2m6 0h1m8 0h1m8 0h2m1 0h3m2 0h1m3 0h1m8 0h2m1 0h2m1 0h5m3 0h1m3 0h1m-545 1h1m3 0h1m62 0h1m15 0h1m1 0h1m58 0h1m2 0h1m66 0h1m13 0h1m14 0h2m5 0h2m20 0h2m3 0h1m2 0h1m1 0h1m1 0h2m7 0h1m8 0h1m22 0h1m7 0h4m4 0h5m2 0h1m30 0h2m1 0h1m1 0h1m10 0h2m1 0h1m2 0h1m3 0h1m7 0h1m27 0h1m14 0h1m3 0h1m5 0h1m15 0h2m2 0h1m9 0h2m13 0h2m4 0h1m1 0h1m1 0h1m4 0h2m2 0h1m5 0h1m1 0h1m1 0h1m1 0h2m1 0h1m-543 1h1m52 0h1m5 0h1m19 0h1m8 0h1m30 0h1m90 0h2m12 0h1m36 0h1m8 0h1m2 0h1m2 0h1m1 0h2m8 0h1m1 0h1m5 0h1m38 0h1m10 0h3m6 0h2m5 0h1m1 0h2m6 0h1m5 0h1m3 0h1m7 0h2m4 0h1m2 0h1m1 0h1m1 0h1m2 0h1m2 0h2m4 0h1m2 0h2m3 0h1m6 0h2m7 0h2m9 0h1m1 0h1m1 0h3m1 0h1m10 0h1m8 0h1m2 0h4m9 0h1m8 0h1m2 0h4m3 0h1m19 0h3m3 0h1m-505 1h1m14 0h1m1 0h1m5 0h3m2 0h1m2 0h1m5 0h3m3 0h1m9 0h1m29 0h1m55 0h2m9 0h1m4 0h1m19 0h1m1 0h2m3 0h1m6 0h1m15 0h1m12 0h4m15 0h1m8 0h1m1 0h1m4 0h1m24 0h1m2 0h2m5 0h2m3 0h1m4 0h1m4 0h1m9 0h2m6 0h2m4 0h1m3 0h2m4 0h1m17 0h2m5 0h3m4 0h1m3 0h2m13 0h1m6 0h2m9 0h1m9 0h2m2 0h1m2 0h2m3 0h1m7 0h1m1 0h1m3 0h3m1 0h1m9 0h1m1 0h2m2 0h1m8 0h1m3 0h1m17 0h1m1 0h1m1 0h1m2 0h1m1 0h2m2 0h1m-525 1h1m17 0h1m14 0h1m6 0h1m6 0h1m8 0h1m7 0h1m90 0h1m3 0h1m8 0h1m1 0h1m29 0h1m3 0h1m5 0h1m18 0h1m7 0h2m1 0h1m8 0h1m3 0h1m1 0h1m5 0h1m8 0h1m9 0h1m16 0h1m1 0h1m3 0h1m2 0h1m6 0h1m5 0h2m21 0h1m6 0h2m11 0h1m3 0h1m12 0h1m2 0h1m7 0h1m5 0h1m17 0h1m6 0h1m2 0h1m1 0h1m1 0h1m6 0h6m3 0h1m13 0h1m1 0h3m11 0h2m16 0h1m2 0h1m21 0h2m3 0h3m-503 1h1m17 0h1m2 0h1m3 0h1m1 0h1m5 0h1m4 0h1m1 0h1m92 0h1m3 0h1m6 0h1m29 0h1m13 0h1m5 0h3m9 0h2m5 0h5m9 0h1m2 0h1m2 0h1m1 0h2m12 0h1m14 0h1m16 0h1m18 0h1m3 0h2m1 0h2m12 0h1m4 0h1m2 0h1m11 0h1m1 0h2m2 0h1m9 0h1m2 0h1m3 0h1m4 0h1m8 0h1m1 0h2m2 0h2m5 0h1m4 0h1m1 0h1m7 0h1m12 0h2m1 0h1m2 0h1m34 0h2m3 0h1m1 0h1m20 0h1m1 0h1m4 0h1m1 0h1m1 0h1m-505 1h2m1 0h1m3 0h1m26 0h1m1 0h1m3 0h1m2 0h1m2 0h1m67 0h2m19 0h1m4 0h2m39 0h1m5 0h1m11 0h1m35 0h1m2 0h2m6 0h2m4 0h3m5 0h1m21 0h1m5 0h1m7 0h3m6 0h3m17 0h1m8 0h1m12 0h1m4 0h3m7 0h2m4 0h2m2 0h1m1 0h1m14 0h1m5 0h1m1 0h1m2 0h1m1 0h1m2 0h1m2 0h2m5 0h1m2 0h2m15 0h1m2 0h1m5 0h2m2 0h1m5 0h1m10 0h1m4 0h2m19 0h2m2 0h1m3 0h1m1 0h1m-501 1h1m1 0h1m1 0h1m6 0h1m14 0h1m5 0h1m2 0h1m2 0h1m3 0h1m71 0h1m19 0h1m2 0h2m5 0h2m3 0h1m25 0h1m37 0h2m39 0h1m3 0h1m28 0h1m6 0h1m11 0h2m8 0h3m20 0h1m5 0h1m1 0h1m4 0h2m11 0h2m1 0h1m1 0h1m1 0h1m10 0h1m1 0h1m3 0h3m1 0h1m6 0h1m2 0h2m7 0h1m1 0h2m3 0h1m9 0h1m3 0h1m4 0h1m3 0h1m2 0h1m2 0h1m3 0h1m1 0h1m3 0h3m5 0h2m21 0h1m3 0h1m2 0h1m3 0h1m-500 1h1m2 0h1m3 0h1m21 0h1m6 0h1m9 0h1m91 0h1m21 0h1m13 0h1m6 0h1m2 0h1m1 0h1m18 0h1m34 0h1m18 0h1m1 0h1m16 0h1m14 0h1m4 0h2m6 0h1m5 0h1m3 0h1m13 0h4m4 0h1m6 0h1m3 0h2m3 0h2m2 0h1m13 0h1m2 0h1m1 0h2m3 0h2m5 0h1m1 0h2m10 0h1m7 0h1m2 0h1m11 0h1m3 0h1m4 0h1m1 0h2m1 0h1m3 0h1m8 0h2m4 0h1m9 0h1m1 0h1m5 0h1m2 0h1m4 0h1m6 0h1m2 0h1m1 0h1m1 0h1m-503 1h2m2 0h2m33 0h1m102 0h1m3 0h1m27 0h1m5 0h1m1 0h3m21 0h1m1 0h1m5 0h1m18 0h1m8 0h2m5 0h1m5 0h1m1 0h1m3 0h1m1 0h2m16 0h1m5 0h1m2 0h1m5 0h3m7 0h1m5 0h2m16 0h1m3 0h2m9 0h3m6 0h1m3 0h1m10 0h1m14 0h1m14 0h1m1 0h1m2 0h1m1 0h2m12 0h3m1 0h2m5 0h1m2 0h1m2 0h1m2 0h1m2 0h1m2 0h1m1 0h1m1 0h1m2 0h1m2 0h3m9 0h1m8 0h1m16 0h3m3 0h2m-503 1h3m17 0h1m18 0h1m1 0h1m1 0h1m10 0h1m67 0h1m24 0h1m12 0h2m28 0h1m44 0h3m4 0h2m3 0h1m8 0h1m1 0h1m3 0h1m2 0h1m21 0h1m9 0h1m10 0h1m12 0h1m24 0h1m14 0h2m1 0h1m4 0h1m5 0h1m3 0h1m19 0h1m9 0h1m5 0h1m6 0h2m5 0h1m3 0h2m5 0h1m3 0h1m6 0h1m6 0h1m10 0h1m2 0h2m23 0h1m2 0h1m1 0h1m-503 1h3m18 0h3m4 0h1m14 0h1m74 0h1m2 0h1m21 0h1m3 0h1m14 0h1m11 0h2m1 0h1m33 0h1m7 0h1m1 0h1m1 0h2m12 0h1m21 0h1m3 0h1m1 0h1m2 0h1m17 0h1m13 0h2m6 0h1m2 0h1m5 0h2m3 0h1m9 0h1m1 0h1m6 0h1m9 0h1m1 0h1m17 0h1m8 0h1m7 0h3m4 0h2m5 0h1m3 0h1m3 0h1m16 0h1m14 0h1m2 0h1m7 0h1m26 0h1m1 0h1m14 0h1m3 0h2m-501 1h1m23 0h2m2 0h2m1 0h1m4 0h1m5 0h1m4 0h1m47 0h1m3 0h1m18 0h2m20 0h2m2 0h3m25 0h1m1 0h3m11 0h3m27 0h2m1 0h2m23 0h1m7 0h1m3 0h1m3 0h1m7 0h1m11 0h1m18 0h1m2 0h1m1 0h1m7 0h3m3 0h1m6 0h3m7 0h2m3 0h1m4 0h1m1 0h1m5 0h2m8 0h1m5 0h1m5 0h3m8 0h2m4 0h1m2 0h1m3 0h2m1 0h1m3 0h2m14 0h1m1 0h1m5 0h2m2 0h1m3 0h2m5 0h2m5 0h1m8 0h1m14 0h1m2 0h2m-460 1h2m1 0h1m1 0h1m24 0h2m41 0h2m18 0h1m2 0h2m18 0h1m6 0h1m15 0h1m17 0h3m2 0h1m28 0h2m8 0h1m4 0h1m2 0h1m21 0h1m4 0h1m1 0h1m11 0h1m3 0h1m1 0h2m1 0h1m17 0h1m11 0h1m1 0h1m1 0h3m3 0h1m5 0h1m3 0h2m2 0h1m1 0h1m8 0h3m4 0h1m1 0h1m6 0h2m1 0h1m3 0h1m11 0h1m4 0h2m2 0h1m5 0h1m2 0h1m2 0h1m3 0h1m5 0h1m1 0h1m9 0h1m1 0h1m3 0h1m1 0h1m6 0h1m12 0h2m1 0h1m5 0h1m8 0h4m4 0h2m1 0h1m13 0h1m-474 1h1m8 0h1m9 0h1m10 0h1m38 0h1m1 0h4m41 0h1m41 0h2m1 0h1m37 0h3m2 0h1m4 0h1m15 0h2m1 0h1m1 0h1m7 0h1m11 0h2m3 0h1m11 0h3m6 0h2m6 0h1m5 0h1m1 0h1m5 0h2m25 0h1m4 0h2m27 0h1m4 0h1m8 0h2m9 0h1m19 0h1m2 0h3m2 0h1m3 0h1m25 0h1m7 0h1m9 0h1m7 0h1m-452 1h2m5 0h1m49 0h2m19 0h2m40 0h1m10 0h3m34 0h1m13 0h1m4 0h1m14 0h1m9 0h1m1 0h1m3 0h2m6 0h1m1 0h2m19 0h2m8 0h1m1 0h1m12 0h2m17 0h2m1 0h1m10 0h1m2 0h1m17 0h1m9 0h1m17 0h1m1 0h1m4 0h1m3 0h1m1 0h1m2 0h1m9 0h1m1 0h1m7 0h1m5 0h4m4 0h1m4 0h1m1 0h1m17 0h4m2 0h1m6 0h1m5 0h2m1 0h1m-466 1h1m6 0h1m14 0h1m22 0h1m14 0h1m10 0h2m86 0h1m3 0h1m24 0h1m3 0h2m36 0h1m3 0h2m2 0h1m22 0h1m23 0h1m1 0h1m9 0h1m7 0h4m4 0h1m4 0h2m21 0h1m8 0h1m1 0h1m9 0h1m9 0h2m2 0h2m2 0h1m3 0h1m8 0h2m3 0h2m9 0h2m3 0h2m6 0h1m2 0h1m2 0h1m20 0h1m9 0h1m4 0h2m-466 1h1m18 0h3m23 0h1m17 0h2m2 0h1m23 0h1m52 0h1m8 0h2m1 0h1m11 0h2m18 0h1m4 0h2m10 0h2m2 0h1m3 0h1m4 0h3m1 0h1m3 0h1m2 0h2m1 0h3m2 0h2m2 0h1m15 0h1m11 0h3m15 0h1m6 0h2m1 0h1m1 0h1m5 0h1m2 0h1m1 0h1m1 0h1m6 0h1m12 0h1m6 0h1m2 0h3m8 0h1m11 0h3m2 0h1m1 0h1m3 0h2m1 0h1m14 0h1m6 0h2m1 0h1m2 0h1m2 0h1m3 0h1m10 0h1m4 0h1m24 0h1m2 0h1m5 0h1m-463 1h1m10 0h1m54 0h2m75 0h3m1 0h1m2 0h1m31 0h1m11 0h1m3 0h1m4 0h2m2 0h1m4 0h1m3 0h1m1 0h2m1 0h4m10 0h1m3 0h1m2 0h2m25 0h1m5 0h1m9 0h1m5 0h2m5 0h1m8 0h2m2 0h1m5 0h1m7 0h1m5 0h1m6 0h1m1 0h1m6 0h2m21 0h4m13 0h1m8 0h2m1 0h1m5 0h1m5 0h1m1 0h3m7 0h1m3 0h1m10 0h1m2 0h2m12 0h1m5 0h1m-446 1h2m31 0h1m13 0h1m78 0h1m19 0h1m3 0h3m7 0h1m18 0h1m11 0h1m1 0h2m3 0h1m1 0h2m8 0h1m10 0h1m2 0h1m2 0h1m1 0h1m15 0h7m4 0h2m1 0h1m6 0h1m7 0h1m8 0h2m2 0h3m4 0h1m3 0h1m2 0h1m6 0h1m15 0h1m6 0h2m22 0h1m1 0h1m13 0h1m6 0h1m4 0h1m1 0h1m2 0h1m6 0h4m1 0h1m8 0h2m1 0h1m9 0h1m11 0h1m-429 1h1m4 0h1m32 0h1m1 0h1m1 0h1m44 0h1m28 0h1m4 0h1m6 0h1m43 0h1m3 0h1m14 0h1m3 0h1m10 0h1m2 0h1m6 0h1m3 0h1m1 0h2m21 0h1m18 0h1m16 0h1m1 0h2m2 0h1m10 0h1m1 0h2m13 0h1m8 0h1m3 0h1m2 0h1m4 0h1m1 0h1m2 0h1m3 0h3m17 0h1m6 0h1m13 0h1m3 0h1m2 0h2m8 0h1m1 0h1m17 0h1m6 0h1m4 0h3m-463 1h1m16 0h2m2 0h1m4 0h2m37 0h2m49 0h2m23 0h1m3 0h2m6 0h1m9 0h1m43 0h1m4 0h1m6 0h2m3 0h1m4 0h1m2 0h1m6 0h1m1 0h1m3 0h1m2 0h1m56 0h1m9 0h5m4 0h1m16 0h1m12 0h1m6 0h3m7 0h2m16 0h1m13 0h2m3 0h1m2 0h2m3 0h4m7 0h2m1 0h1m15 0h3m1 0h4m4 0h2m-461 1h2m11 0h1m6 0h1m3 0h1m1 0h1m20 0h1m8 0h1m9 0h1m2 0h1m22 0h1m20 0h1m28 0h1m1 0h1m8 0h1m24 0h1m29 0h1m8 0h1m2 0h1m10 0h1m7 0h1m4 0h1m1 0h1m2 0h2m28 0h2m18 0h1m7 0h2m10 0h1m3 0h4m2 0h3m4 0h1m4 0h1m6 0h1m7 0h1m2 0h3m1 0h2m40 0h1m2 0h1m1 0h1m8 0h1m7 0h2m3 0h1m13 0h1m3 0h2m4 0h1m-455 1h1m9 0h1m7 0h1m1 0h1m1 0h1m5 0h1m15 0h4m16 0h2m92 0h1m20 0h2m5 0h1m13 0h1m12 0h1m2 0h1m1 0h1m1 0h1m8 0h1m4 0h1m1 0h1m39 0h4m9 0h1m13 0h2m1 0h1m4 0h1m6 0h1m5 0h1m2 0h2m1 0h1m10 0h1m7 0h1m4 0h1m1 0h4m1 0h2m19 0h1m5 0h1m5 0h2m7 0h1m1 0h1m1 0h1m1 0h1m2 0h1m4 0h1m4 0h3m13 0h1m2 0h1m10 0h3m1 0h1m-457 1h1m46 0h1m3 0h1m17 0h1m41 0h1m37 0h1m1 0h3m8 0h1m17 0h1m5 0h1m13 0h1m8 0h2m1 0h1m20 0h1m1 0h1m1 0h1m1 0h2m5 0h1m36 0h3m3 0h2m4 0h1m8 0h2m5 0h1m1 0h2m4 0h5m1 0h3m8 0h2m6 0h1m4 0h1m12 0h1m1 0h2m21 0h3m6 0h2m1 0h1m3 0h1m1 0h1m3 0h1m8 0h1m1 0h2m20 0h3m3 0h3m-452 1h2m1 0h1m11 0h2m5 0h1m3 0h1m19 0h1m1 0h1m93 0h1m7 0h1m15 0h1m7 0h1m4 0h1m1 0h1m1 0h1m2 0h1m6 0h1m6 0h1m10 0h1m1 0h1m2 0h1m16 0h3m5 0h1m1 0h2m1 0h1m31 0h2m5 0h3m4 0h1m3 0h1m6 0h2m2 0h1m32 0h1m1 0h1m7 0h2m1 0h1m2 0h2m17 0h1m9 0h1m1 0h2m1 0h1m9 0h1m1 0h2m1 0h1m5 0h1m1 0h1m1 0h2m1 0h1m1 0h3m1 0h1m7 0h1m5 0h2m2 0h1m3 0h1m4 0h1m-454 1h1m17 0h1m1 0h1m2 0h1m1 0h1m24 0h1m89 0h1m13 0h1m3 0h1m6 0h1m10 0h1m5 0h1m2 0h1m1 0h3m1 0h1m1 0h1m11 0h1m2 0h1m5 0h2m10 0h1m1 0h1m11 0h1m1 0h3m31 0h2m1 0h2m6 0h1m1 0h1m2 0h1m3 0h1m8 0h2m3 0h1m2 0h3m6 0h1m1 0h1m15 0h1m3 0h4m33 0h1m4 0h2m1 0h4m4 0h1m12 0h2m3 0h3m4 0h2m7 0h3m15 0h1m3 0h2m-341 1h1m42 0h2m6 0h1m24 0h1m12 0h1m3 0h1m1 0h1m1 0h1m2 0h3m3 0h1m12 0h1m3 0h1m6 0h1m6 0h2m3 0h2m13 0h1m15 0h1m7 0h2m5 0h1m7 0h2m3 0h1m4 0h1m1 0h1m37 0h1m1 0h1m14 0h2m13 0h1m1 0h4m7 0h3m2 0h2m5 0h1m7 0h2m2 0h1m2 0h1m1 0h2m15 0h1m1 0h1m-435 1h1m5 0h2m39 0h1m47 0h1m42 0h2m6 0h1m3 0h1m12 0h1m6 0h2m3 0h1m1 0h2m10 0h1m6 0h3m14 0h1m1 0h2m5 0h2m9 0h2m17 0h1m13 0h1m8 0h1m20 0h1m10 0h1m13 0h1m16 0h1m19 0h1m2 0h1m5 0h1m7 0h1m1 0h1m10 0h1m4 0h1m4 0h1m7 0h1m1 0h2m5 0h2m2 0h3m5 0h1m1 0h2m4 0h1m4 0h1m-456 1h1m22 0h1m1 0h1m37 0h4m42 0h1m27 0h1m13 0h1m1 0h1m11 0h1m4 0h1m6 0h1m1 0h1m3 0h1m8 0h1m14 0h1m12 0h1m13 0h2m16 0h2m27 0h3m1 0h1m5 0h2m8 0h1m5 0h1m13 0h2m11 0h1m2 0h1m4 0h1m33 0h1m1 0h1m2 0h2m1 0h2m2 0h1m18 0h1m8 0h1m12 0h2m12 0h1m3 0h1m2 0h1m-431 1h1m44 0h1m42 0h1m3 0h2m27 0h1m11 0h1m1 0h1m8 0h1m8 0h2m1 0h2m2 0h1m1 0h1m25 0h1m12 0h1m2 0h1m2 0h1m5 0h1m7 0h1m10 0h1m3 0h1m17 0h1m5 0h1m3 0h1m1 0h1m3 0h1m2 0h1m1 0h1m10 0h2m8 0h2m15 0h1m2 0h1m3 0h1m1 0h2m7 0h1m2 0h1m16 0h1m2 0h1m2 0h1m3 0h2m3 0h1m3 0h1m2 0h1m3 0h1m5 0h1m4 0h1m6 0h2m3 0h1m1 0h3m4 0h1m10 0h1m7 0h1m-431 1h2m46 0h1m3 0h2m69 0h1m3 0h2m16 0h1m13 0h1m2 0h1m10 0h1m1 0h1m8 0h1m6 0h2m2 0h1m7 0h1m17 0h2m15 0h1m15 0h1m3 0h2m1 0h4m9 0h1m8 0h1m5 0h1m3 0h2m3 0h1m8 0h1m8 0h3m5 0h1m3 0h1m4 0h1m2 0h1m6 0h1m11 0h3m7 0h3m3 0h1m1 0h1m1 0h1m9 0h1m1 0h2m5 0h1m5 0h1m1 0h1m4 0h1m14 0h1m7 0h1m-429 1h1m3 0h1m1 0h1m38 0h2m91 0h1m16 0h1m1 0h1m1 0h1m14 0h1m11 0h1m8 0h3m11 0h1m3 0h1m23 0h1m14 0h2m7 0h1m14 0h1m5 0h2m3 0h2m4 0h1m13 0h1m3 0h1m6 0h1m5 0h2m23 0h1m2 0h2m8 0h1m1 0h2m1 0h1m1 0h4m14 0h1m2 0h1m7 0h1m2 0h1m2 0h2m14 0h2m-420 1h1m61 0h1m22 0h1m33 0h1m1 0h1m8 0h1m22 0h1m2 0h1m1 0h1m4 0h2m3 0h1m3 0h1m7 0h4m9 0h1m15 0h1m1 0h2m1 0h1m1 0h3m1 0h1m11 0h1m2 0h1m11 0h1m3 0h1m3 0h1m2 0h3m2 0h2m4 0h2m1 0h3m7 0h1m2 0h1m5 0h1m4 0h1m2 0h1m10 0h1m1 0h2m1 0h2m1 0h1m5 0h1m6 0h2m14 0h2m3 0h1m5 0h1m1 0h3m2 0h2m1 0h1m17 0h2m8 0h5m3 0h1m15 0h3m1 0h1m-380 1h1m16 0h1m70 0h1m2 0h1m31 0h2m11 0h1m2 0h1m10 0h1m2 0h1m5 0h1m2 0h1m7 0h2m3 0h2m9 0h2m3 0h1m8 0h1m6 0h2m2 0h2m1 0h2m2 0h1m8 0h3m1 0h1m2 0h1m7 0h2m3 0h2m11 0h1m2 0h3m7 0h1m5 0h1m6 0h3m18 0h3m3 0h1m2 0h3m3 0h3m2 0h1m1 0h2m15 0h1m4 0h1m2 0h1m2 0h1m1 0h2m13 0h1m1 0h1m1 0h1m1 0h2m-382 1h1m2 0h1m12 0h1m3 0h1m59 0h1m1 0h2m1 0h1m3 0h1m11 0h1m21 0h1m4 0h3m3 0h1m3 0h1m2 0h2m2 0h3m14 0h1m1 0h1m8 0h1m12 0h1m4 0h1m5 0h1m1 0h1m7 0h1m2 0h2m1 0h2m4 0h1m1 0h2m3 0h2m13 0h1m1 0h5m1 0h1m2 0h1m8 0h2m40 0h1m5 0h1m3 0h1m2 0h1m1 0h1m9 0h1m1 0h1m15 0h1m2 0h1m1 0h1m5 0h2m2 0h1m14 0h1m2 0h1m7 0h1m-416 1h1m30 0h1m18 0h1m51 0h2m2 0h1m1 0h1m8 0h1m5 0h1m5 0h1m7 0h3m13 0h3m4 0h1m2 0h1m3 0h1m4 0h3m2 0h1m5 0h1m7 0h1m11 0h1m28 0h1m3 0h2m4 0h1m12 0h1m20 0h1m3 0h1m1 0h1m6 0h1m1 0h1m2 0h2m9 0h1m19 0h1m3 0h1m5 0h3m2 0h2m2 0h1m11 0h1m1 0h2m2 0h1m17 0h1m6 0h1m1 0h2m7 0h1m4 0h3m1 0h2m-409 1h1m43 0h1m3 0h1m61 0h1m6 0h1m10 0h1m1 0h1m7 0h1m15 0h3m4 0h2m1 0h1m4 0h1m3 0h1m3 0h2m11 0h2m3 0h1m2 0h1m4 0h1m2 0h1m20 0h2m2 0h1m8 0h1m11 0h1m17 0h1m1 0h1m5 0h1m1 0h1m4 0h3m1 0h1m2 0h1m14 0h1m27 0h2m10 0h2m4 0h1m1 0h1m3 0h2m9 0h1m2 0h1m3 0h1m5 0h1m7 0h1m2 0h1m4 0h1m4 0h1m1 0h1m-367 1h1m3 0h1m15 0h1m49 0h1m11 0h1m1 0h1m2 0h1m3 0h1m5 0h2m25 0h1m1 0h1m2 0h2m8 0h1m11 0h2m2 0h1m5 0h1m1 0h1m12 0h1m13 0h3m2 0h1m5 0h1m1 0h2m7 0h1m1 0h1m2 0h2m1 0h1m8 0h3m5 0h1m1 0h1m2 0h1m2 0h3m11 0h1m10 0h1m2 0h1m1 0h1m9 0h1m10 0h1m6 0h2m2 0h2m9 0h2m13 0h2m3 0h2m2 0h1m11 0h1m12 0h1m7 0h1m-373 1h1m3 0h1m4 0h1m4 0h2m35 0h1m23 0h2m2 0h1m1 0h1m1 0h4m9 0h1m10 0h1m13 0h1m10 0h1m1 0h2m6 0h2m7 0h1m1 0h1m5 0h2m12 0h1m6 0h2m2 0h2m3 0h2m2 0h1m1 0h2m9 0h1m4 0h1m2 0h1m1 0h2m25 0h1m3 0h1m9 0h1m2 0h2m11 0h1m19 0h1m4 0h1m5 0h1m4 0h1m1 0h1m1 0h1m10 0h2m5 0h1m28 0h1m2 0h2m-360 1h1m1 0h1m6 0h1m3 0h1m1 0h1m75 0h1m9 0h1m11 0h2m6 0h1m2 0h1m4 0h1m6 0h1m11 0h1m15 0h1m3 0h1m10 0h3m2 0h2m1 0h1m4 0h1m1 0h1m1 0h1m15 0h1m22 0h1m7 0h1m1 0h1m5 0h2m1 0h1m28 0h2m2 0h1m3 0h1m1 0h2m5 0h2m7 0h1m1 0h2m1 0h1m9 0h1m1 0h1m1 0h1m11 0h1m4 0h1m8 0h1m-352 1h1m6 0h1m2 0h2m40 0h1m3 0h2m36 0h2m3 0h1m1 0h4m4 0h4m2 0h1m9 0h1m5 0h2m1 0h1m9 0h1m6 0h1m7 0h2m12 0h2m1 0h1m1 0h1m1 0h1m7 0h2m2 0h2m1 0h1m2 0h1m2 0h1m1 0h2m3 0h3m10 0h1m7 0h1m1 0h3m5 0h1m6 0h1m3 0h1m2 0h2m3 0h2m7 0h1m12 0h3m2 0h2m2 0h2m6 0h1m1 0h1m1 0h1m6 0h2m1 0h4m14 0h1m5 0h4m1 0h1m1 0h1m13 0h1m-309 1h2m21 0h1m28 0h2m6 0h1m9 0h1m3 0h1m2 0h2m2 0h1m1 0h1m1 0h1m1 0h2m8 0h1m2 0h2m1 0h1m2 0h2m11 0h1m1 0h2m1 0h2m3 0h1m1 0h1m14 0h1m8 0h1m1 0h2m13 0h2m7 0h1m5 0h2m2 0h1m3 0h2m1 0h3m7 0h1m4 0h1m8 0h1m9 0h2m7 0h2m2 0h1m2 0h1m2 0h2m7 0h2m4 0h3m3 0h1m4 0h1m1 0h1m1 0h2m7 0h2m9 0h1m1 0h2m5 0h1m1 0h1m1 0h1m-354 1h1m73 0h1m1 0h1m1 0h1m13 0h1m6 0h1m9 0h1m5 0h1m6 0h1m4 0h2m1 0h3m1 0h1m6 0h1m3 0h1m12 0h1m11 0h2m2 0h1m1 0h1m1 0h1m1 0h1m9 0h1m4 0h1m5 0h1m3 0h1m29 0h2m7 0h2m3 0h1m4 0h1m5 0h2m6 0h1m3 0h1m1 0h1m4 0h2m1 0h1m3 0h2m3 0h5m1 0h3m6 0h2m2 0h2m3 0h2m1 0h2m9 0h2m4 0h1m4 0h1m2 0h1m7 0h1m1 0h1m-352 1h1m36 0h2m4 0h1m9 0h1m19 0h1m1 0h1m11 0h1m9 0h1m22 0h1m3 0h1m1 0h1m4 0h5m11 0h1m5 0h2m9 0h3m5 0h1m9 0h2m4 0h1m1 0h1m1 0h1m2 0h2m2 0h1m10 0h1m3 0h2m5 0h2m3 0h1m1 0h1m11 0h4m2 0h1m16 0h1m6 0h1m2 0h1m6 0h1m15 0h1m8 0h1m1 0h1m1 0h1m1 0h1m5 0h1m9 0h1m11 0h1m9 0h1m1 0h1m1 0h1m-320 1h2m8 0h1m25 0h1m2 0h1m3 0h3m1 0h1m4 0h1m4 0h2m4 0h1m9 0h1m1 0h1m3 0h1m2 0h1m2 0h1m1 0h2m3 0h1m4 0h1m3 0h1m8 0h1m8 0h1m19 0h1m1 0h1m1 0h1m4 0h2m3 0h2m1 0h1m6 0h1m16 0h1m6 0h2m2 0h1m5 0h1m14 0h2m6 0h1m5 0h1m2 0h1m5 0h1m14 0h1m10 0h4m4 0h3m2 0h1m1 0h3m3 0h1m1 0h1m1 0h1m21 0h3m8 0h1m-318 1h1m7 0h1m25 0h2m6 0h1m1 0h3m4 0h1m7 0h2m7 0h1m3 0h1m3 0h2m1 0h1m3 0h1m6 0h1m17 0h1m8 0h1m9 0h1m1 0h2m6 0h1m2 0h1m11 0h2m6 0h2m11 0h1m7 0h1m5 0h1m1 0h1m1 0h1m1 0h1m11 0h1m4 0h3m4 0h2m5 0h1m3 0h1m3 0h1m2 0h3m17 0h1m3 0h3m12 0h1m16 0h1m7 0h1m7 0h2m2 0h1m4 0h2m-353 1h1m15 0h1m27 0h1m33 0h1m1 0h1m7 0h1m10 0h2m3 0h1m2 0h2m8 0h1m1 0h3m2 0h1m1 0h1m18 0h1m18 0h2m4 0h1m1 0h2m2 0h1m4 0h1m4 0h1m3 0h3m3 0h1m10 0h1m7 0h1m3 0h2m3 0h4m22 0h1m2 0h1m5 0h1m11 0h2m13 0h1m1 0h1m1 0h1m7 0h1m9 0h1m1 0h1m11 0h1m11 0h2m1 0h1m5 0h1m-344 1h1m57 0h1m5 0h1m10 0h1m4 0h2m7 0h1m7 0h2m4 0h2m1 0h3m5 0h1m3 0h3m24 0h1m5 0h1m8 0h1m4 0h1m5 0h1m5 0h2m5 0h4m2 0h1m5 0h1m5 0h1m12 0h1m8 0h1m1 0h1m1 0h1m6 0h1m14 0h1m3 0h2m3 0h3m11 0h1m9 0h1m5 0h2m5 0h1m1 0h1m6 0h1m17 0h1m9 0h2m14 0h1m-354 1h1m4 0h1m2 0h1m32 0h1m2 0h1m23 0h1m10 0h1m13 0h1m2 0h2m3 0h1m7 0h2m2 0h2m3 0h3m23 0h2m1 0h1m4 0h1m1 0h1m4 0h1m3 0h2m1 0h1m1 0h2m4 0h1m2 0h2m3 0h1m6 0h1m8 0h1m1 0h1m9 0h1m3 0h1m20 0h1m6 0h1m4 0h2m2 0h1m2 0h4m10 0h2m1 0h1m6 0h1m5 0h3m1 0h1m1 0h1m7 0h1m1 0h2m6 0h1m3 0h2m9 0h1m4 0h1m9 0h1m5 0h2m3 0h1m4 0h1m-351 1h1m1 0h1m1 0h1m35 0h2m1 0h1m2 0h2m11 0h1m4 0h2m16 0h1m3 0h1m9 0h1m1 0h1m16 0h1m21 0h1m13 0h1m1 0h1m1 0h1m9 0h1m4 0h1m1 0h1m12 0h1m3 0h1m2 0h2m1 0h1m3 0h1m6 0h1m2 0h1m1 0h3m37 0h2m3 0h1m6 0h1m3 0h1m2 0h1m3 0h1m4 0h1m2 0h2m6 0h2m3 0h1m3 0h1m2 0h1m15 0h1m2 0h1m4 0h1m14 0h1m2 0h1m5 0h1m-346 1h1m40 0h2m1 0h1m14 0h1m4 0h1m20 0h1m15 0h1m2 0h1m27 0h1m5 0h1m1 0h1m1 0h1m4 0h2m1 0h1m14 0h2m18 0h1m3 0h2m12 0h1m8 0h1m11 0h1m4 0h1m6 0h3m13 0h1m1 0h2m1 0h2m2 0h1m3 0h1m3 0h2m5 0h1m10 0h1m2 0h1m2 0h2m23 0h2m9 0h1m9 0h1m1 0h2m-348 1h1m4 0h1m41 0h2m31 0h1m2 0h2m5 0h1m1 0h1m8 0h2m3 0h1m1 0h2m4 0h1m29 0h1m2 0h1m1 0h1m2 0h1m2 0h1m6 0h1m4 0h1m2 0h1m2 0h1m6 0h1m10 0h1m1 0h2m18 0h3m1 0h1m10 0h2m9 0h1m1 0h1m10 0h1m6 0h1m5 0h1m1 0h2m6 0h1m1 0h1m7 0h2m3 0h3m4 0h1m3 0h1m20 0h1m11 0h3m7 0h1m4 0h1m1 0h1m-272 1h1m2 0h2m8 0h1m2 0h1m5 0h1m10 0h2m25 0h1m3 0h1m1 0h1m3 0h1m16 0h1m2 0h1m2 0h2m3 0h3m8 0h1m1 0h1m1 0h2m1 0h1m1 0h3m1 0h1m1 0h1m11 0h2m2 0h1m38 0h1m10 0h3m11 0h1m12 0h1m43 0h1m1 0h1m1 0h3m3 0h1m-349 1h1m44 0h1m11 0h2m2 0h1m22 0h1m6 0h2m16 0h3m5 0h2m2 0h1m19 0h1m6 0h2m1 0h1m13 0h1m6 0h1m3 0h1m2 0h1m2 0h1m6 0h1m2 0h1m1 0h1m2 0h1m1 0h1m14 0h1m8 0h1m14 0h1m10 0h1m11 0h1m5 0h1m1 0h1m5 0h6m6 0h1m1 0h1m1 0h1m1 0h1m10 0h1m21 0h2m6 0h1m9 0h1m5 0h1m-307 1h1m39 0h1m3 0h1m8 0h1m4 0h1m5 0h1m3 0h1m1 0h2m4 0h1m29 0h1m6 0h1m3 0h2m21 0h1m2 0h1m3 0h2m10 0h2m18 0h1m5 0h1m8 0h2m12 0h3m3 0h1m7 0h2m2 0h1m12 0h1m3 0h3m2 0h1m5 0h1m1 0h2m18 0h1m5 0h2m13 0h2m2 0h1m2 0h1m1 0h1m-307 1h1m13 0h1m21 0h2m2 0h2m16 0h1m6 0h2m8 0h1m1 0h1m20 0h1m7 0h1m14 0h1m1 0h2m6 0h1m4 0h4m8 0h1m9 0h1m3 0h1m1 0h1m24 0h1m1 0h3m3 0h2m6 0h1m15 0h2m7 0h1m11 0h1m4 0h1m15 0h1m11 0h2m2 0h1m6 0h1m17 0h1m-269 1h2m7 0h2m10 0h1m11 0h1m3 0h1m5 0h3m8 0h1m35 0h1m8 0h2m4 0h1m11 0h1m2 0h1m4 0h2m7 0h1m17 0h2m2 0h1m3 0h1m8 0h1m2 0h1m11 0h3m7 0h2m19 0h1m5 0h1m4 0h1m4 0h1m11 0h1m7 0h1m8 0h2m7 0h1m2 0h1m-315 1h1m16 0h3m17 0h2m9 0h1m3 0h1m21 0h2m6 0h1m14 0h1m10 0h1m7 0h2m6 0h1m7 0h1m5 0h1m6 0h1m2 0h1m4 0h1m6 0h1m7 0h1m5 0h3m21 0h2m6 0h1m12 0h2m5 0h2m1 0h1m2 0h2m5 0h2m6 0h1m1 0h3m6 0h1m9 0h1m2 0h1m1 0h1m30 0h1m3 0h3m1 0h3m-297 1h1m2 0h1m17 0h1m3 0h1m21 0h1m1 0h2m6 0h1m1 0h2m1 0h1m5 0h1m5 0h1m20 0h1m8 0h1m3 0h1m3 0h1m16 0h1m5 0h1m10 0h1m1 0h1m2 0h1m5 0h1m30 0h2m4 0h2m4 0h1m5 0h2m1 0h1m2 0h2m3 0h2m3 0h2m1 0h1m1 0h1m5 0h2m5 0h1m7 0h1m1 0h2m10 0h1m1 0h1m1 0h1m3 0h1m2 0h1m11 0h1m1 0h1m9 0h1m-319 1h1m6 0h1m1 0h2m8 0h1m1 0h3m2 0h1m19 0h2m4 0h2m2 0h2m9 0h3m13 0h1m11 0h2m13 0h1m3 0h1m13 0h1m10 0h1m1 0h2m7 0h1m1 0h2m2 0h1m3 0h1m6 0h1m29 0h3m18 0h2m2 0h5m6 0h1m4 0h1m1 0h1m3 0h2m4 0h2m2 0h1m6 0h1m9 0h2m10 0h1m9 0h2m6 0h1m10 0h1m1 0h1m-306 1h1m13 0h1m24 0h1m27 0h2m22 0h1m22 0h1m1 0h1m2 0h2m19 0h1m10 0h1m6 0h1m3 0h1m19 0h2m4 0h1m1 0h1m4 0h2m1 0h1m7 0h1m9 0h1m13 0h3m19 0h1m8 0h1m2 0h2m1 0h1m24 0h1m5 0h1m2 0h1m1 0h4m2 0h1m-341 1h1m16 0h1m6 0h1m8 0h1m5 0h2m2 0h1m26 0h1m5 0h1m7 0h2m16 0h2m9 0h2m6 0h2m9 0h3m1 0h2m9 0h3m2 0h1m16 0h2m1 0h1m9 0h1m2 0h2m6 0h1m6 0h1m3 0h1m2 0h3m7 0h1m3 0h1m5 0h1m1 0h2m3 0h1m8 0h2m27 0h1m13 0h2m4 0h3m1 0h2m14 0h1m10 0h2m5 0h1m4 0h2m3 0h1m-341 1h2m18 0h1m18 0h1m3 0h1m4 0h1m35 0h1m27 0h1m4 0h1m4 0h1m2 0h1m14 0h2m6 0h1m11 0h2m10 0h2m11 0h3m2 0h1m2 0h1m9 0h2m1 0h1m2 0h1m1 0h1m3 0h1m1 0h2m5 0h1m2 0h1m14 0h1m1 0h1m2 0h1m4 0h3m3 0h1m6 0h1m2 0h2m26 0h1m8 0h1m6 0h1m7 0h1m3 0h1m9 0h2m6 0h1m-345 1h1m2 0h1m17 0h1m1 0h1m17 0h1m1 0h1m3 0h5m82 0h1m8 0h1m35 0h1m7 0h1m1 0h3m6 0h1m7 0h1m2 0h1m3 0h3m1 0h1m3 0h1m2 0h2m2 0h2m2 0h1m11 0h1m2 0h2m4 0h1m2 0h1m4 0h1m5 0h2m2 0h4m6 0h1m6 0h1m7 0h1m3 0h1m6 0h1m4 0h1m5 0h2m1 0h1m3 0h1m2 0h1m11 0h1m1 0h3m-345 1h2m18 0h2m12 0h2m6 0h1m1 0h1m1 0h1m34 0h1m1 0h1m1 0h1m4 0h1m27 0h1m3 0h1m6 0h2m3 0h1m2 0h1m4 0h1m3 0h2m13 0h1m1 0h3m5 0h1m3 0h1m3 0h1m8 0h1m2 0h2m2 0h1m9 0h2m2 0h2m4 0h2m5 0h1m2 0h1m2 0h2m9 0h1m1 0h1m6 0h2m1 0h4m1 0h2m2 0h5m10 0h1m4 0h6m4 0h1m6 0h1m1 0h1m6 0h1m5 0h1m1 0h1m3 0h1m2 0h1m2 0h1m2 0h1m4 0h1m1 0h2m2 0h1m1 0h1m2 0h1m-344 1h2m18 0h1m15 0h1m44 0h1m1 0h1m5 0h1m1 0h1m8 0h2m11 0h1m7 0h4m4 0h1m2 0h3m6 0h2m17 0h1m3 0h2m10 0h1m3 0h1m3 0h2m1 0h1m1 0h1m1 0h1m6 0h2m3 0h1m1 0h1m9 0h1m3 0h1m1 0h1m2 0h1m13 0h1m6 0h1m2 0h1m2 0h2m1 0h1m25 0h1m2 0h1m3 0h2m2 0h4m3 0h2m5 0h1m1 0h1m2 0h1m3 0h1m3 0h1m8 0h1m2 0h2m3 0h1m1 0h2m5 0h1m-344 1h2m21 0h2m30 0h2m24 0h1m12 0h1m4 0h2m15 0h1m4 0h1m3 0h1m15 0h1m1 0h1m1 0h3m5 0h1m5 0h1m3 0h1m18 0h1m1 0h1m5 0h1m1 0h1m6 0h2m1 0h1m10 0h1m8 0h3m3 0h2m10 0h1m6 0h2m34 0h2m1 0h1m1 0h1m8 0h2m18 0h1m5 0h2m1 0h1m7 0h1m-310 1h1m21 0h2m10 0h1m21 0h1m3 0h1m6 0h1m2 0h1m2 0h1m5 0h1m11 0h1m6 0h1m1 0h1m18 0h1m18 0h1m16 0h2m3 0h1m1 0h1m3 0h1m4 0h1m1 0h1m1 0h1m1 0h2m39 0h1m41 0h3m3 0h1m37 0h4m4 0h1m7 0h1m-324 1h2m34 0h1m8 0h2m10 0h1m9 0h2m30 0h1m6 0h4m20 0h1m4 0h1m4 0h1m17 0h1m2 0h1m12 0h1m4 0h1m9 0h1m9 0h1m1 0h2m52 0h1m10 0h1m3 0h1m14 0h2m26 0h1m1 0h1m-317 1h1m45 0h2m8 0h3m1 0h1m11 0h2m5 0h1m13 0h4m1 0h1m1 0h4m7 0h1m2 0h2m15 0h1m3 0h1m5 0h1m1 0h1m9 0h1m7 0h1m3 0h3m1 0h1m7 0h1m7 0h1m4 0h1m5 0h1m69 0h1m20 0h1m15 0h1m7 0h1m11 0h1m-343 1h2m22 0h1m28 0h2m12 0h1m6 0h2m12 0h1m6 0h1m1 0h1m4 0h1m1 0h1m7 0h2m5 0h2m2 0h1m6 0h4m7 0h1m1 0h1m2 0h1m5 0h2m7 0h1m1 0h1m7 0h3m2 0h1m4 0h1m6 0h2m2 0h1m3 0h1m5 0h1m6 0h1m1 0h2m3 0h2m65 0h1m1 0h2m2 0h1m28 0h1m9 0h1m5 0h1m5 0h1m-317 1h2m13 0h1m15 0h1m20 0h1m10 0h1m2 0h1m9 0h3m1 0h1m7 0h1m2 0h1m4 0h1m6 0h1m6 0h2m1 0h1m2 0h1m2 0h1m3 0h1m4 0h3m7 0h2m6 0h1m4 0h2m4 0h1m3 0h1m4 0h3m9 0h1m1 0h1m2 0h1m70 0h2m3 0h1m3 0h1m21 0h1m5 0h1m3 0h1m6 0h1m4 0h1m-267 1h1m5 0h1m5 0h1m9 0h1m3 0h2m9 0h3m11 0h1m19 0h3m5 0h2m6 0h1m4 0h1m4 0h3m2 0h3m5 0h2m5 0h2m2 0h2m3 0h1m2 0h1m1 0h1m5 0h2m3 0h1m5 0h1m66 0h2m32 0h2m3 0h3m4 0h1m5 0h1m11 0h1m1 0h2m-280 1h4m5 0h1m3 0h1m3 0h1m4 0h1m4 0h2m4 0h1m7 0h1m7 0h2m2 0h1m9 0h1m6 0h1m4 0h1m11 0h1m8 0h1m21 0h1m3 0h2m10 0h1m4 0h1m2 0h3m97 0h1m1 0h3m8 0h1m1 0h1m4 0h1m13 0h3m-279 1h1m3 0h1m1 0h1m7 0h1m2 0h1m1 0h3m11 0h1m8 0h1m7 0h1m8 0h1m4 0h3m8 0h1m2 0h1m13 0h2m11 0h1m7 0h1m5 0h4m2 0h2m5 0h1m9 0h2m5 0h1m67 0h1m26 0h1m4 0h1m5 0h2m2 0h1m2 0h1m12 0h1m1 0h2m-310 1h1m21 0h1m1 0h1m5 0h1m1 0h1m4 0h3m12 0h1m2 0h1m8 0h1m3 0h1m3 0h1m10 0h1m1 0h5m2 0h1m3 0h1m11 0h2m2 0h1m13 0h2m8 0h1m1 0h2m1 0h2m2 0h1m4 0h2m5 0h1m10 0h1m107 0h1m10 0h1m2 0h1m3 0h2m3 0h2m4 0h2m2 0h1m-310 1h1m25 0h2m3 0h2m5 0h1m8 0h1m12 0h1m13 0h3m2 0h2m1 0h1m4 0h1m5 0h1m9 0h1m7 0h1m8 0h1m1 0h1m2 0h1m2 0h1m3 0h1m5 0h1m1 0h2m1 0h1m7 0h1m16 0h1m8 0h1m99 0h1m2 0h1m6 0h1m4 0h1m2 0h1m2 0h1m1 0h1m1 0h1m6 0h1m-314 1h1m2 0h2m3 0h1m34 0h1m9 0h1m7 0h1m3 0h1m1 0h2m14 0h1m2 0h1m6 0h1m1 0h2m6 0h1m6 0h1m4 0h2m9 0h1m10 0h2m3 0h2m2 0h2m1 0h1m6 0h1m2 0h1m13 0h1m4 0h2m113 0h1m2 0h1m1 0h1m3 0h4m-306 1h1m24 0h1m12 0h1m21 0h1m2 0h1m2 0h1m19 0h1m1 0h2m12 0h1m3 0h1m16 0h1m13 0h1m1 0h1m1 0h2m1 0h2m7 0h1m1 0h1m1 0h1m13 0h2m4 0h1m6 0h1m98 0h1m13 0h1m7 0h1m9 0h1m1 0h1m-286 1h1m2 0h1m2 0h1m2 0h2m2 0h1m3 0h1m10 0h2m1 0h2m3 0h1m2 0h1m8 0h1m3 0h1m1 0h1m14 0h1m4 0h2m2 0h1m11 0h1m5 0h1m4 0h2m3 0h1m4 0h1m6 0h1m3 0h1m13 0h1m2 0h2m3 0h1m121 0h3m5 0h1m2 0h2m1 0h1m1 0h1m-259 1h1m1 0h1m2 0h5m13 0h1m3 0h1m6 0h2m9 0h1m6 0h2m1 0h2m4 0h1m4 0h1m2 0h1m10 0h1m1 0h1m2 0h1m1 0h1m1 0h1m2 0h2m10 0h1m6 0h1m4 0h1m2 0h3m3 0h1m117 0h3m3 0h2m2 0h1m4 0h1m-332 1h2m42 0h1m17 0h1m4 0h1m6 0h3m2 0h1m3 0h1m7 0h1m9 0h1m2 0h1m5 0h2m4 0h2m5 0h1m1 0h1m3 0h1m2 0h1m2 0h1m1 0h1m9 0h1m2 0h4m17 0h3m11 0h1m2 0h2m4 0h1m116 0h1m3 0h2m3 0h1m1 0h1m3 0h2m3 0h1m1 0h2m-268 1h1m3 0h2m9 0h2m3 0h2m7 0h1m2 0h2m2 0h1m4 0h1m3 0h1m6 0h1m5 0h1m3 0h1m2 0h1m14 0h1m6 0h2m16 0h1m1 0h2m2 0h1m2 0h1m11 0h2m116 0h1m4 0h1m11 0h2m7 0h1m-343 1h1m52 0h1m6 0h1m5 0h1m3 0h1m2 0h2m7 0h1m1 0h1m11 0h1m13 0h1m5 0h1m8 0h2m6 0h2m3 0h1m19 0h1m1 0h2m20 0h3m1 0h1m134 0h3m9 0h2m1 0h1m-277 1h1m1 0h1m4 0h1m2 0h1m11 0h1m9 0h3m5 0h1m6 0h1m2 0h2m10 0h1m3 0h2m3 0h1m1 0h1m25 0h2m17 0h1m2 0h1m2 0h1m4 0h2m4 0h1m124 0h2m2 0h1m4 0h1m5 0h1m-290 1h2m10 0h1m16 0h3m6 0h2m3 0h2m12 0h1m5 0h1m14 0h2m5 0h1m48 0h1m136 0h2m3 0h1m2 0h1m2 0h1m9 0h1m2 0h1m-304 1h1m1 0h3m4 0h2m3 0h2m11 0h1m3 0h1m5 0h1m2 0h2m4 0h1m4 0h2m2 0h1m3 0h1m6 0h1m4 0h3m1 0h3m8 0h2m4 0h1m49 0h1m1 0h1m10 0h1m4 0h1m117 0h1m4 0h1m4 0h1m11 0h2m-302 1h1m3 0h2m5 0h1m10 0h1m13 0h1m4 0h2m15 0h1m10 0h1m2 0h1m1 0h1m69 0h1m8 0h1m1 0h1m13 0h1m107 0h2m8 0h1m1 0h1m2 0h1m4 0h1m2 0h1m2 0h1m2 0h1m-307 1h1m1 0h1m6 0h2m1 0h2m21 0h1m5 0h3m22 0h1m86 0h2m4 0h1m9 0h1m3 0h1m102 0h1m6 0h1m7 0h1m4 0h3m7 0h1m-306 1h1m3 0h1m5 0h1m15 0h1m5 0h1m1 0h1m4 0h1m8 0h2m16 0h1m1 0h1m1 0h1m7 0h1m62 0h1m10 0h2m2 0h3m10 0h4m106 0h1m4 0h1m1 0h2m2 0h1m2 0h1m2 0h1m-298 1h1m1 0h1m3 0h2m3 0h1m9 0h1m3 0h1m7 0h2m1 0h1m1 0h2m2 0h1m8 0h1m15 0h2m1 0h1m7 0h1m6 0h3m65 0h2m16 0h1m1 0h2m111 0h1m10 0h1m1 0h1m-296 1h1m6 0h1m13 0h1m4 0h1m5 0h1m3 0h1m2 0h1m1 0h2m1 0h1m4 0h1m2 0h1m3 0h1m1 0h1m1 0h1m11 0h1m2 0h1m3 0h2m62 0h1m4 0h2m4 0h1m117 0h1m7 0h1m7 0h1m1 0h1m5 0h2m2 0h4m-307 1h2m3 0h1m1 0h1m20 0h1m10 0h1m4 0h1m2 0h1m2 0h1m1 0h1m2 0h2m13 0h1m3 0h1m3 0h1m69 0h1m2 0h1m19 0h1m103 0h1m2 0h4m3 0h1m8 0h2m1 0h2m4 0h2m-303 1h1m19 0h3m2 0h1m1 0h3m9 0h1m5 0h2m2 0h1m4 0h1m1 0h1m5 0h1m9 0h1m199 0h1m1 0h2m4 0h1m11 0h1m2 0h1m8 0h1m-309 1h1m1 0h1m3 0h2m26 0h1m5 0h4m1 0h1m1 0h2m15 0h2m1 0h1m4 0h2m2 0h2m2 0h2m1 0h1m190 0h1m1 0h1m1 0h1m4 0h2m3 0h1m7 0h1m3 0h1m3 0h1m1 0h2m2 0h1m-284 1h2m7 0h1m8 0h1m1 0h1m5 0h1m4 0h2m10 0h1m2 0h1m6 0h1m195 0h1m6 0h2m1 0h3m11 0h1m3 0h2m-298 1h1m4 0h1m2 0h1m18 0h1m2 0h1m9 0h1m8 0h1m4 0h1m5 0h2m1 0h2m5 0h2m1 0h1m194 0h1m2 0h1m1 0h2m4 0h1m1 0h4m12 0h2m4 0h1m-310 1h2m9 0h1m24 0h1m23 0h1m1 0h1m2 0h1m1 0h1m1 0h1m7 0h1m199 0h2m9 0h1m12 0h2m-265 1h1m17 0h1m8 0h1m7 0h1m205 0h1m7 0h2m21 0h1m-283 1h1m3 0h1m6 0h1m3 0h1m2 0h1m4 0h1m18 0h1m213 0h1m4 0h1m1 0h1m-245 1h1m10 0h1m11 0h3m210 0h1m8 0h1m11 0h2m-282 1h1m5 0h3m18 0h1m10 0h3m6 0h1m209 0h2m22 0h1m6 0h1m-283 1h1m1 0h1m9 0h1m6 0h1m8 0h1m5 0h1m237 0h1m-274 1h4m9 0h1m11 0h1m3 0h1m2 0h1m2 0h1m214 0h1m25 0h1m-261 1h1m8 0h1m3 0h2m218 0h1m4 0h3m2 0h1m16 0h2m3 0h3m-259 1h1m1 0h1m4 0h1m213 0h1m2 0h2m21 0h1m3 0h1m5 0h1m1 0h2m-310 1h2m26 0h1m11 0h2m1 0h3m224 0h1m24 0h1m9 0h1m-304 1h1m24 0h2m10 0h1m12 0h1m222 0h1m17 0h1m3 0h1m8 0h1m3 0h1m-309 1h2m24 0h1m14 0h2m3 0h1m4 0h1m218 0h1m14 0h1m4 0h1m15 0h1m-307 1h2m35 0h1m8 0h1m1 0h1m236 0h2m3 0h2m11 0h1m-304 1h2m35 0h1m11 0h1m231 0h1m17 0h2m1 0h1m1 0h1m1 0h1m-268 1h1m1 0h1m5 0h1m231 0h3m13 0h1m2 0h1m3 0h2m4 0h2m-280 1h1m4 0h1m245 0h1m12 0h2m1 0h2m4 0h1m3 0h1m-32 1h1m4 0h2m6 0h1m3 0h1m17 0h1m-284 1h2m252 0h1m5 0h2m3 0h2m2 0h2m7 0h1m-278 1h1m2 0h1m245 0h1m4 0h1m13 0h2m4 0h1m2 0h1m-279 1h2m2 0h2m8 0h1m239 0h1m1 0h1m18 0h1m2 0h1m-288 1h4m8 0h1m250 0h1m6 0h1m1 0h1m11 0h1m2 0h1m1 0h1m-285 1h1m14 0h1m2 0h1m238 0h5m6 0h2m1 0h2m3 0h1m2 0h1m2 0h1m-267 1h1m238 0h1m2 0h1m4 0h1m2 0h1m12 0h1m2 0h1m1 0h1m-30 1h1m1 0h2m4 0h3m3 0h1m-268 1h1m2 0h2m250 0h3m13 0h1m13 0h2m-298 1h1m12 0h1m3 0h1m4 0h1m253 0h1m6 0h1m12 0h1m-289 1h1m15 0h1m245 0h1m1 0h1m2 0h2m12 0h1m1 0h2m-287 1h1m2 0h1m258 0h1m11 0h1m9 0h1m1 0h1m2 0h2m-290 1h1m8 0h1m262 0h1m11 0h1m1 0h1m-20 1h2m3 0h1m1 0h2m7 0h1m5 0h1m-9 1h3m-282 1h1m277 0h1m1 0h1m2 0h1m-284 1h1m284 0h2m-284 1h2m3 0h1m263 0h1m9 0h2m1 0h1m-283 1h3m266 0h1m13 0h1m-20 1h1m6 0h1m-277 1h1m285 0h1m-287 1h3m284 0h1m-298 1h1m11 0h1m281 0h1m3 0h1m-283 1h1m277 0h1m-8 1h1m-285 1h1m10 0h2m268 0h1m1 0h1m4 0h2m5 0h1m-288 1h1m4 0h1m11 0h1m264 0h2m-289 1h2m9 0h1m10 0h1m262 0h1m1 0h1m3 0h1m-291 1h1m11 0h2m7 0h1m268 0h1m-287 1h1m1 0h1m6 0h1m267 0h1m1 0h1m-280 1h1m7 0h1m3 0h1m-6 1h1m3 0h1m7 0h1m-11 1h2m-1 1h2m7 0h1m-3 2h1m1 0h1m-1 1h1m250 3h2m1 0h1m-3 1h1m-1 1h1m-5 2h1"/>
<path stroke="#c09a9a" d="M0 .5m84 7h1m7 1h1m-7 1h1m-22 1h1m3 1h1m38 1h1m4 0h1m-17 1h1m8 0h1m-40 1h1m24 0h1m1 0h1m27 0h1m-54 1h1m60 0h1m-49 1h1m3 0h1m1 0h1m1 0h1m2 0h1m1 0h1m14 0h1m-45 1h1m17 1h1m11 0h1m3 0h1m21 0h1m9 0h1m-67 1h1m9 0h1m10 0h1m8 0h1m25 0h1m4 0h1m-44 1h1m3 0h1m16 0h1m8 0h1m5 0h1m5 0h1m-56 1h1m15 0h1m32 0h1m8 0h1m13 0h1m-72 1h1m4 0h1m7 0h1m15 0h1m13 0h1m8 0h1m-60 1h1m18 0h1m1 0h1m19 0h1m8 0h2m19 0h2m17 0h1m-90 1h1m2 0h1m4 0h1m3 0h4m2 0h1m51 0h1m11 0h1m-71 1h1m18 0h2m9 1h1m60 0h1m-93 1h1m21 0h1m57 0h1m2 0h1m-96 1h1m2 0h1m11 0h2m25 0h1m60 0h1m-95 1h2m20 0h1m6 0h1m1 0h2m62 0h1m22 0h1m-120 1h1m108 0h1m-113 1h2m24 0h1m3 0h1m3 0h1m77 0h1m4 0h1m-113 1h1m58 0h1m-61 1h1m21 0h1m10 0h1m63 0h1m-31 1h1m11 0h1m25 0h2m-53 1h1m2 0h1m45 0h1m-107 1h1m6 0h1m21 0h1m2 0h1m7 0h1m70 0h1m-118 1h1m15 0h1m19 0h2m38 0h1m69 0h1m-144 1h2m8 0h1m15 0h1m2 0h1m5 0h1m1 0h1m34 0h1m7 0h1m24 0h1m-84 1h1m8 0h2m19 0h1m114 0h1m-163 1h1m33 0h1m34 0h1m8 0h1m71 0h1m-133 1h1m1 0h1m17 0h1m12 0h1m19 0h1m3 0h1m22 0h1m43 0h1m51 0h1m-199 1h1m26 0h1m5 0h1m7 0h1m1 0h1m4 0h1m6 0h1m93 0h1m57 0h1m3 0h2m-212 1h1m6 0h1m16 0h1m8 0h1m25 0h1m13 0h1m29 0h1m49 0h1m42 0h1m4 0h1m26 0h2m-229 1h1m22 0h1m4 0h1m39 0h1m33 0h1m48 0h1m3 0h1m1 0h1m38 0h1m28 0h1m3 0h1m4 0h1m-221 1h1m41 0h1m20 0h1m45 0h1m30 0h1m10 0h1m77 0h2m90 0h2m-328 1h1m5 0h1m1 0h1m4 0h1m8 0h1m27 0h1m12 0h1m9 0h1m57 0h2m23 0h1m64 0h1m2 0h1m16 0h1m-256 1h1m41 0h1m33 0h1m8 0h1m1 0h1m1 0h1m100 0h1m39 0h2m2 0h1m4 0h2m3 0h1m10 0h1m2 0h1m10 0h1m2 0h1m32 0h2m1 0h2m356 0h2m-646 1h1m12 0h1m1 0h1m94 0h1m15 0h1m9 0h1m86 0h1m3 0h1m4 0h1m6 0h1m3 0h3m18 0h1m27 0h4m5 0h1m8 0h1m3 0h1m2 0h1m1 0h2m-337 1h1m24 0h1m38 0h1m75 0h1m108 0h1m19 0h1m6 0h1m4 0h1m30 0h1m10 0h2m10 0h1m-340 1h1m12 0h1m10 0h1m1 0h1m6 0h1m27 0h1m23 0h1m44 0h1m55 0h1m48 0h1m10 0h1m2 0h1m4 0h1m17 0h1m37 0h2m3 0h1m3 0h2m2 0h1m2 0h1m3 0h1m4 0h1m-321 1h1m3 0h2m45 0h1m5 0h1m10 0h2m2 0h1m116 0h1m49 0h1m14 0h2m5 0h1m1 0h1m4 0h1m13 0h1m12 0h1m1 0h2m5 0h1m4 0h1m4 0h1m-332 1h1m3 0h1m64 0h1m11 0h1m2 0h1m66 0h1m36 0h1m62 0h1m46 0h1m12 0h1m2 0h2m4 0h1m6 0h1m-330 1h1m12 0h1m17 0h1m54 0h1m88 0h1m51 0h1m34 0h2m6 0h1m3 0h1m14 0h1m8 0h1m9 0h1m4 0h2m1 0h1m6 0h1m2 0h1m2 0h2m-317 1h1m4 0h1m25 0h1m6 0h1m38 0h1m56 0h1m67 0h1m49 0h1m7 0h1m23 0h1m10 0h1m2 0h1m17 0h1m34 0h1m-346 1h1m22 0h1m97 0h1m2 0h2m5 0h1m73 0h1m13 0h2m4 0h1m20 0h1m5 0h1m29 0h1m10 0h1m20 0h1m21 0h1m3 0h1m-365 1h1m1 0h1m9 0h1m5 0h1m13 0h1m127 0h1m61 0h1m23 0h2m1 0h1m22 0h1m2 0h1m10 0h1m25 0h2m10 0h1m9 0h1m2 0h1m2 0h4m11 0h1m-351 1h1m25 0h1m41 0h1m73 0h2m73 0h4m1 0h1m1 0h1m14 0h1m4 0h2m23 0h2m7 0h1m52 0h1m16 0h1m7 0h1m1 0h1m6 0h1m1 0h2m-368 1h1m22 0h2m21 0h1m21 0h1m71 0h1m71 0h1m3 0h1m1 0h1m7 0h1m20 0h1m27 0h1m4 0h1m72 0h2m1 0h3m5 0h1m10 0h1m-381 1h1m5 0h1m11 0h1m7 0h1m43 0h1m2 0h1m34 0h1m20 0h1m2 0h2m98 0h2m13 0h1m11 0h2m20 0h2m33 0h1m13 0h1m3 0h1m1 0h2m1 0h1m41 0h1m-380 1h1m16 0h1m5 0h1m17 0h1m19 0h1m44 0h2m60 0h1m1 0h2m64 0h1m9 0h1m8 0h1m23 0h1m40 0h1m14 0h2m23 0h1m4 0h1m6 0h1m6 0h2m262 0h1m-635 1h1m22 0h1m114 0h1m10 0h1m40 0h1m24 0h1m11 0h1m1 0h1m10 0h1m21 0h1m2 0h1m6 0h1m1 0h1m14 0h1m9 0h1m10 0h2m12 0h1m3 0h3m23 0h1m3 0h1m2 0h1m11 0h1m9 0h1m10 0h1m-401 1h1m90 0h1m14 0h2m24 0h1m34 0h1m14 0h1m37 0h1m4 0h2m6 0h1m24 0h2m11 0h1m22 0h2m8 0h1m12 0h1m3 0h3m3 0h3m5 0h1m13 0h1m7 0h1m4 0h2m3 0h1m10 0h2m9 0h1m5 0h1m5 0h1m-405 1h2m6 0h1m6 0h1m22 0h1m9 0h1m41 0h1m9 0h1m26 0h2m28 0h1m37 0h1m31 0h1m24 0h1m12 0h1m1 0h2m6 0h1m12 0h1m8 0h1m2 0h1m13 0h1m2 0h1m6 0h2m6 0h1m5 0h4m17 0h1m5 0h1m13 0h1m3 0h1m1 0h1m6 0h1m6 0h1m283 0h1m-667 1h1m11 0h1m16 0h1m66 0h1m26 0h1m12 0h1m41 0h1m57 0h1m20 0h1m1 0h1m1 0h1m17 0h1m16 0h1m10 0h1m5 0h2m4 0h1m2 0h1m18 0h1m1 0h1m4 0h1m22 0h2m6 0h1m-384 1h1m19 0h1m92 0h1m24 0h2m9 0h1m32 0h1m31 0h1m24 0h1m13 0h2m6 0h1m14 0h1m4 0h1m11 0h1m1 0h1m26 0h1m2 0h2m21 0h1m22 0h1m-374 1h2m34 0h1m1 0h1m38 0h1m36 0h1m16 0h2m36 0h1m27 0h1m3 0h2m33 0h1m7 0h1m2 0h1m36 0h1m13 0h1m3 0h1m13 0h1m34 0h1m2 0h1m2 0h1m1 0h1m9 0h1m2 0h2m8 0h1m3 0h1m253 0h1m-656 1h1m4 0h1m5 0h2m3 0h1m3 0h1m14 0h1m8 0h1m34 0h2m61 0h1m3 0h1m26 0h1m5 0h1m25 0h1m54 0h1m2 0h2m22 0h1m2 0h2m3 0h1m6 0h1m2 0h1m12 0h2m2 0h2m5 0h1m33 0h2m6 0h2m8 0h1m2 0h2m3 0h1m5 0h1m258 0h1m-652 1h1m8 0h2m2 0h1m6 0h1m11 0h1m2 0h1m38 0h2m3 0h1m5 0h1m6 0h1m36 0h1m9 0h1m33 0h1m7 0h1m20 0h1m19 0h1m55 0h2m3 0h1m4 0h1m5 0h1m4 0h1m7 0h2m3 0h1m4 0h3m1 0h1m4 0h1m15 0h1m2 0h2m10 0h3m7 0h1m14 0h1m6 0h1m2 0h1m1 0h1m277 0h1m2 0h1m-677 1h1m37 0h1m37 0h1m12 0h1m66 0h1m37 0h1m66 0h1m16 0h2m6 0h1m13 0h1m4 0h1m12 0h1m3 0h1m1 0h2m12 0h1m2 0h1m1 0h2m2 0h1m3 0h1m5 0h2m12 0h1m2 0h1m5 0h1m4 0h1m7 0h1m279 0h1m8 0h2m-683 1h2m34 0h1m37 0h1m10 0h1m1 0h1m37 0h1m13 0h2m85 0h1m43 0h1m5 0h1m4 0h2m1 0h1m11 0h1m17 0h1m13 0h1m7 0h2m8 0h1m6 0h1m7 0h2m3 0h1m2 0h1m3 0h2m4 0h1m7 0h1m287 0h2m-661 1h1m2 0h1m54 0h1m4 0h1m11 0h1m101 0h1m1 0h1m19 0h1m5 0h1m26 0h1m1 0h1m38 0h1m2 0h3m2 0h2m9 0h2m5 0h1m3 0h1m7 0h1m4 0h1m15 0h1m6 0h1m15 0h1m7 0h1m3 0h1m7 0h1m1 0h1m-358 1h1m42 0h1m48 0h1m53 0h1m24 0h2m18 0h1m20 0h2m1 0h1m6 0h1m17 0h1m4 0h2m2 0h1m6 0h1m1 0h1m2 0h2m2 0h1m8 0h2m6 0h1m4 0h1m1 0h1m9 0h1m1 0h2m7 0h1m5 0h2m294 0h1m-643 1h1m66 0h3m85 0h1m7 0h1m3 0h1m75 0h2m5 0h2m6 0h1m18 0h1m7 0h1m2 0h1m24 0h1m6 0h1m5 0h3m2 0h1m1 0h1m3 0h1m1 0h1m12 0h1m1 0h1m2 0h1m4 0h1m279 0h1m25 0h1m-655 1h1m49 0h1m29 0h1m2 0h1m74 0h1m34 0h1m8 0h1m32 0h1m39 0h1m1 0h1m9 0h1m7 0h1m7 0h1m3 0h1m5 0h1m1 0h1m1 0h1m2 0h1m4 0h2m5 0h3m7 0h1m2 0h3m5 0h1m6 0h1m1 0h2m287 0h1m-669 1h1m94 0h2m85 0h1m69 0h1m5 0h2m9 0h1m26 0h1m6 0h1m14 0h2m1 0h2m3 0h1m5 0h2m4 0h2m18 0h2m7 0h1m2 0h1m8 0h1m3 0h2m3 0h1m256 0h2m15 0h1m-658 1h1m114 0h1m2 0h1m28 0h2m7 0h1m5 0h1m2 0h1m11 0h1m19 0h1m9 0h1m2 0h2m47 0h1m4 0h1m13 0h1m1 0h3m10 0h1m2 0h2m17 0h4m9 0h1m7 0h1m16 0h2m4 0h1m7 0h1m13 0h1m271 0h1m3 0h1m3 0h1m-671 1h1m2 0h1m6 0h2m16 0h1m21 0h1m109 0h1m11 0h1m33 0h1m10 0h1m1 0h1m38 0h2m19 0h1m1 0h1m2 0h2m15 0h1m9 0h1m18 0h2m1 0h1m22 0h2m1 0h1m4 0h1m4 0h1m12 0h1m41 0h1m236 0h1m2 0h1m-673 1h1m28 0h1m25 0h1m3 0h1m76 0h1m32 0h1m2 0h1m41 0h1m13 0h1m46 0h1m11 0h1m7 0h1m4 0h1m13 0h1m1 0h1m2 0h1m3 0h1m8 0h2m29 0h1m2 0h2m3 0h1m1 0h1m2 0h1m1 0h1m8 0h3m291 0h1m-682 1h1m15 0h1m14 0h2m3 0h1m59 0h1m1 0h1m20 0h2m20 0h2m30 0h1m2 0h1m26 0h1m68 0h1m4 0h1m36 0h1m2 0h1m2 0h4m5 0h1m3 0h1m4 0h1m2 0h1m2 0h2m7 0h1m1 0h1m1 0h1m11 0h2m3 0h2m7 0h1m7 0h1m39 0h1m230 0h1m3 0h1m2 0h1m-666 1h1m7 0h1m17 0h1m140 0h1m4 0h1m65 0h1m1 0h1m33 0h1m8 0h1m7 0h1m1 0h2m8 0h1m14 0h1m7 0h1m6 0h1m2 0h1m3 0h1m3 0h1m2 0h1m7 0h2m8 0h1m6 0h1m8 0h2m42 0h1m229 0h1m6 0h1m-661 1h1m12 0h1m29 0h1m127 0h1m27 0h1m8 0h1m55 0h1m1 0h1m22 0h1m22 0h1m6 0h1m2 0h1m2 0h1m1 0h1m1 0h1m38 0h1m1 0h1m7 0h1m8 0h1m32 0h1m11 0h2m31 0h1m3 0h1m192 0h1m-616 1h1m17 0h1m9 0h1m58 0h1m27 0h1m2 0h1m46 0h1m53 0h1m11 0h1m1 0h1m8 0h1m1 0h2m10 0h1m4 0h1m6 0h1m1 0h1m8 0h1m33 0h1m14 0h1m3 0h1m37 0h2m7 0h2m4 0h1m230 0h1m-658 1h1m5 0h1m2 0h1m35 0h1m9 0h1m16 0h1m133 0h1m69 0h1m4 0h1m4 0h1m12 0h1m13 0h3m11 0h1m6 0h1m1 0h1m1 0h1m4 0h1m7 0h1m5 0h1m3 0h1m7 0h1m23 0h1m17 0h1m9 0h1m229 0h1m6 0h1m5 0h1m-671 1h1m24 0h1m28 0h1m10 0h1m78 0h1m22 0h1m8 0h2m40 0h1m44 0h1m9 0h1m2 0h1m1 0h1m2 0h1m16 0h1m3 0h1m2 0h2m18 0h1m10 0h1m1 0h1m10 0h1m3 0h2m10 0h1m7 0h1m5 0h2m9 0h2m5 0h1m1 0h1m26 0h2m11 0h1m34 0h1m2 0h1m167 0h2m16 0h1m3 0h1m-669 1h1m1 0h1m10 0h1m19 0h1m42 0h1m99 0h1m33 0h1m1 0h1m5 0h2m53 0h1m22 0h1m19 0h1m11 0h1m6 0h1m11 0h1m5 0h1m4 0h1m11 0h1m17 0h1m4 0h2m4 0h1m11 0h1m1 0h1m2 0h1m15 0h1m2 0h1m36 0h1m175 0h1m17 0h1m-670 1h1m9 0h1m6 0h1m4 0h1m4 0h1m1 0h1m2 0h1m146 0h1m15 0h1m19 0h1m24 0h1m8 0h1m16 0h1m11 0h1m3 0h2m11 0h2m7 0h3m11 0h1m2 0h2m5 0h1m2 0h1m6 0h1m10 0h1m6 0h1m14 0h1m1 0h1m2 0h1m1 0h1m12 0h1m1 0h1m4 0h1m17 0h1m3 0h1m14 0h1m8 0h1m32 0h1m4 0h1m173 0h2m-661 1h1m14 0h1m4 0h2m6 0h1m123 0h1m11 0h1m12 0h1m36 0h1m2 0h1m50 0h1m13 0h1m2 0h1m17 0h1m5 0h1m5 0h1m2 0h1m27 0h1m1 0h1m2 0h3m8 0h1m1 0h1m11 0h1m2 0h1m2 0h1m2 0h1m1 0h1m1 0h1m2 0h1m7 0h2m1 0h1m17 0h1m4 0h1m3 0h1m6 0h1m1 0h1m22 0h1m5 0h1m2 0h2m2 0h1m6 0h1m179 0h1m8 0h1m-672 1h1m12 0h1m21 0h1m8 0h1m41 0h1m79 0h1m21 0h1m7 0h1m1 0h1m90 0h1m11 0h1m1 0h1m10 0h2m8 0h1m8 0h1m3 0h2m3 0h2m1 0h2m2 0h1m4 0h1m2 0h1m4 0h1m9 0h2m5 0h1m11 0h1m4 0h1m14 0h1m1 0h2m5 0h1m2 0h2m43 0h1m1 0h1m8 0h1m171 0h1m-651 1h1m52 0h1m111 0h1m37 0h1m1 0h1m1 0h1m7 0h2m33 0h1m6 0h1m4 0h1m29 0h1m8 0h1m14 0h1m5 0h1m1 0h1m11 0h1m1 0h1m1 0h1m1 0h2m8 0h2m1 0h2m1 0h3m12 0h1m2 0h1m1 0h1m2 0h1m6 0h1m14 0h1m8 0h1m5 0h3m2 0h1m13 0h1m10 0h1m6 0h1m22 0h2m177 0h1m3 0h1m1 0h1m2 0h1m-673 1h1m180 0h1m32 0h1m4 0h1m35 0h1m24 0h1m4 0h1m19 0h1m9 0h1m15 0h3m15 0h3m3 0h1m11 0h1m12 0h1m3 0h1m2 0h1m3 0h4m8 0h2m20 0h1m1 0h1m25 0h1m5 0h1m15 0h2m14 0h1m169 0h1m10 0h1m-662 1h1m161 0h1m2 0h1m17 0h1m5 0h1m21 0h2m42 0h1m26 0h1m51 0h1m5 0h1m4 0h1m5 0h1m4 0h2m18 0h1m1 0h1m6 0h1m4 0h1m1 0h2m2 0h1m2 0h1m14 0h1m10 0h1m15 0h2m3 0h1m1 0h1m1 0h1m25 0h1m1 0h2m1 0h1m164 0h1m-643 1h1m116 0h1m41 0h1m19 0h1m2 0h1m3 0h1m51 0h1m13 0h1m18 0h2m39 0h1m2 0h1m7 0h1m11 0h1m4 0h1m32 0h2m6 0h1m6 0h1m5 0h1m7 0h1m34 0h1m7 0h1m14 0h1m8 0h1m1 0h2m173 0h1m10 0h1m-676 1h2m27 0h1m23 0h1m57 0h1m72 0h1m19 0h2m50 0h1m18 0h1m3 0h1m7 0h1m15 0h2m19 0h2m4 0h1m1 0h1m2 0h1m2 0h2m2 0h1m3 0h1m8 0h1m2 0h1m1 0h1m5 0h1m9 0h2m4 0h1m1 0h1m1 0h1m2 0h1m12 0h1m2 0h1m7 0h1m8 0h1m6 0h1m15 0h1m4 0h1m6 0h1m5 0h1m19 0h1m169 0h1m9 0h1m9 0h1m1 0h1m-671 1h1m21 0h1m3 0h2m7 0h2m98 0h1m45 0h1m76 0h1m5 0h1m27 0h1m1 0h2m8 0h1m6 0h1m8 0h1m6 0h1m10 0h1m2 0h1m1 0h1m1 0h1m1 0h1m9 0h1m1 0h1m21 0h1m2 0h1m4 0h1m2 0h1m2 0h1m48 0h1m10 0h1m1 0h1m1 0h1m2 0h1m9 0h1m4 0h1m2 0h1m173 0h1m-630 1h1m4 0h1m54 0h2m36 0h1m59 0h2m68 0h1m10 0h1m4 0h1m5 0h1m12 0h1m5 0h1m1 0h1m3 0h1m13 0h2m1 0h1m11 0h1m8 0h1m1 0h1m1 0h1m9 0h1m8 0h1m11 0h1m6 0h2m1 0h2m6 0h1m5 0h1m4 0h1m3 0h1m3 0h1m1 0h1m6 0h1m11 0h1m3 0h1m4 0h1m19 0h1m3 0h1m1 0h1m11 0h1m184 0h1m-621 1h1m63 0h2m101 0h1m40 0h1m27 0h1m9 0h1m10 0h1m1 0h1m4 0h1m4 0h1m6 0h1m4 0h2m3 0h1m8 0h1m7 0h1m1 0h1m8 0h1m1 0h1m1 0h1m3 0h1m26 0h1m1 0h1m11 0h1m1 0h1m10 0h1m5 0h1m13 0h1m220 0h1m-643 1h1m1 0h1m23 0h1m36 0h1m7 0h1m11 0h1m7 0h1m11 0h1m6 0h2m1 0h2m2 0h1m81 0h2m57 0h1m5 0h2m1 0h1m9 0h1m2 0h1m12 0h1m7 0h1m8 0h2m29 0h1m5 0h1m1 0h1m12 0h1m1 0h1m2 0h1m4 0h1m4 0h1m5 0h1m12 0h1m1 0h1m4 0h1m8 0h1m18 0h1m13 0h1m5 0h3m-478 1h1m7 0h1m2 0h3m42 0h1m54 0h1m8 0h1m3 0h1m87 0h2m6 0h1m31 0h2m33 0h1m7 0h1m3 0h1m16 0h1m12 0h1m7 0h2m8 0h1m5 0h1m12 0h1m3 0h2m7 0h2m16 0h2m4 0h1m2 0h1m9 0h2m6 0h1m2 0h1m1 0h2m13 0h1m1 0h1m12 0h2m2 0h1m4 0h1m5 0h1m182 0h1m9 0h2m-670 1h1m1 0h1m15 0h1m7 0h1m20 0h1m7 0h1m12 0h1m13 0h1m3 0h1m17 0h1m3 0h1m16 0h1m5 0h1m1 0h1m85 0h1m21 0h1m3 0h1m25 0h1m8 0h1m9 0h1m6 0h1m2 0h2m9 0h1m1 0h1m2 0h1m7 0h1m1 0h1m7 0h1m14 0h1m8 0h1m1 0h2m3 0h1m1 0h2m8 0h1m3 0h1m18 0h1m6 0h1m5 0h3m2 0h1m3 0h2m1 0h1m21 0h1m5 0h1m1 0h1m19 0h1m2 0h1m186 0h1m5 0h1m-648 1h1m15 0h1m19 0h1m9 0h2m2 0h1m9 0h1m1 0h1m30 0h1m65 0h1m19 0h1m16 0h1m18 0h2m44 0h1m15 0h2m7 0h1m7 0h1m6 0h1m2 0h1m11 0h1m2 0h1m1 0h1m2 0h1m6 0h1m4 0h1m1 0h2m6 0h1m3 0h1m8 0h1m6 0h1m2 0h1m8 0h1m1 0h1m1 0h1m6 0h1m3 0h1m4 0h1m4 0h1m25 0h1m12 0h1m7 0h1m6 0h1m180 0h1m4 0h1m-664 1h1m15 0h1m2 0h1m2 0h1m2 0h1m8 0h1m3 0h1m5 0h1m7 0h1m11 0h1m1 0h1m2 0h1m5 0h1m3 0h2m20 0h1m28 0h1m8 0h1m62 0h1m14 0h1m78 0h1m1 0h3m8 0h1m4 0h1m7 0h2m10 0h1m4 0h1m7 0h2m4 0h1m4 0h3m5 0h2m1 0h5m6 0h1m5 0h1m3 0h1m9 0h1m4 0h2m6 0h1m3 0h1m17 0h1m32 0h1m10 0h1m170 0h1m3 0h2m1 0h1m3 0h1m5 0h1m-667 1h1m9 0h1m8 0h1m6 0h1m13 0h2m14 0h1m33 0h1m9 0h1m2 0h1m16 0h1m115 0h1m6 0h1m38 0h1m8 0h1m2 0h1m4 0h3m4 0h1m1 0h1m15 0h1m8 0h1m2 0h1m9 0h1m2 0h2m1 0h1m2 0h1m7 0h3m21 0h1m3 0h2m2 0h1m3 0h1m4 0h1m8 0h2m5 0h1m6 0h1m45 0h1m2 0h2m16 0h1m158 0h2m-637 1h1m10 0h1m2 0h1m18 0h1m17 0h1m8 0h1m8 0h1m25 0h2m95 0h1m23 0h1m8 0h1m22 0h1m1 0h1m10 0h3m4 0h1m17 0h3m5 0h1m1 0h1m1 0h3m17 0h1m1 0h2m13 0h1m6 0h1m4 0h1m5 0h1m3 0h1m1 0h1m8 0h1m8 0h1m2 0h1m3 0h3m5 0h1m4 0h1m7 0h1m28 0h2m10 0h1m29 0h1m152 0h1m16 0h1m-657 1h1m12 0h1m25 0h1m15 0h1m32 0h1m31 0h2m43 0h1m43 0h1m9 0h1m2 0h1m5 0h1m5 0h1m22 0h1m14 0h1m1 0h1m12 0h1m6 0h1m4 0h1m7 0h1m2 0h1m14 0h1m1 0h2m1 0h1m2 0h2m8 0h1m3 0h1m4 0h2m4 0h1m2 0h1m2 0h2m1 0h1m6 0h1m8 0h1m6 0h3m1 0h1m7 0h1m29 0h1m22 0h1m5 0h3m4 0h1m9 0h2m153 0h1m12 0h2m-660 1h1m35 0h1m38 0h1m33 0h2m21 0h1m38 0h1m58 0h1m7 0h1m43 0h1m4 0h1m3 0h4m3 0h2m13 0h1m6 0h1m2 0h1m2 0h2m7 0h1m3 0h1m4 0h2m3 0h5m16 0h1m2 0h1m3 0h1m1 0h1m2 0h1m5 0h1m6 0h1m11 0h1m2 0h1m7 0h1m15 0h1m23 0h1m8 0h1m5 0h1m7 0h2m1 0h1m23 0h1m146 0h3m7 0h2m-672 1h1m2 0h1m41 0h1m36 0h2m23 0h1m7 0h1m1 0h1m69 0h1m79 0h1m16 0h1m10 0h1m7 0h1m15 0h1m6 0h1m4 0h1m2 0h1m5 0h1m8 0h1m12 0h1m1 0h2m4 0h1m18 0h1m6 0h1m3 0h1m4 0h1m9 0h1m1 0h1m1 0h1m19 0h1m4 0h1m18 0h1m13 0h1m4 0h1m4 0h1m1 0h1m2 0h1m9 0h1m1 0h3m3 0h3m90 0h1m61 0h1m3 0h1m2 0h1m-672 1h1m1 0h1m29 0h1m62 0h1m11 0h1m1 0h1m91 0h1m22 0h1m2 0h1m21 0h1m35 0h2m1 0h1m4 0h1m4 0h1m13 0h1m1 0h2m2 0h1m10 0h2m2 0h1m1 0h1m21 0h3m19 0h1m3 0h1m3 0h1m5 0h1m8 0h1m20 0h1m2 0h1m1 0h1m2 0h1m11 0h1m2 0h1m9 0h1m3 0h3m3 0h1m2 0h2m2 0h1m7 0h1m4 0h1m15 0h1m5 0h1m136 0h1m7 0h1m14 0h2m-637 1h1m11 0h1m7 0h1m1 0h1m28 0h1m24 0h2m90 0h1m11 0h1m6 0h1m27 0h1m1 0h2m31 0h1m14 0h1m2 0h1m5 0h1m8 0h1m2 0h1m1 0h2m3 0h1m7 0h1m9 0h2m14 0h4m1 0h1m1 0h1m6 0h1m1 0h1m4 0h2m1 0h1m1 0h1m6 0h2m4 0h1m3 0h1m3 0h1m6 0h1m8 0h1m1 0h1m1 0h1m7 0h1m6 0h1m15 0h1m2 0h1m5 0h1m3 0h1m15 0h1m13 0h1m8 0h1m131 0h1m21 0h2m2 0h1m1 0h1m3 0h1m-675 1h1m14 0h1m5 0h1m2 0h1m9 0h1m84 0h1m94 0h2m32 0h1m24 0h1m19 0h1m4 0h1m1 0h1m2 0h2m1 0h1m6 0h1m3 0h1m1 0h1m12 0h1m1 0h1m4 0h2m3 0h1m7 0h2m3 0h1m3 0h2m4 0h1m1 0h2m1 0h1m1 0h1m6 0h1m2 0h1m10 0h1m5 0h1m23 0h2m3 0h1m25 0h1m2 0h1m10 0h2m15 0h1m16 0h1m2 0h1m2 0h1m2 0h1m141 0h1m6 0h3m3 0h1m3 0h1m-649 1h1m1 0h1m12 0h1m46 0h1m85 0h1m128 0h1m13 0h1m18 0h1m18 0h1m4 0h1m8 0h1m11 0h1m10 0h5m8 0h6m11 0h1m24 0h1m5 0h3m2 0h1m12 0h2m19 0h2m6 0h1m2 0h1m11 0h1m89 0h1m3 0h1m42 0h1m6 0h1m1 0h1m-598 1h1m61 0h1m91 0h1m48 0h1m33 0h1m15 0h1m2 0h2m1 0h1m5 0h1m6 0h1m2 0h1m2 0h1m9 0h1m2 0h2m17 0h2m7 0h2m3 0h1m8 0h1m3 0h1m3 0h1m4 0h1m3 0h3m5 0h2m24 0h1m2 0h1m16 0h1m2 0h1m31 0h3m1 0h2m131 0h1m10 0h2m6 0h1m2 0h1m6 0h1m-668 1h1m2 0h1m10 0h1m4 0h1m63 0h1m20 0h1m11 0h1m147 0h1m49 0h1m12 0h1m25 0h1m2 0h1m14 0h1m7 0h1m5 0h1m12 0h1m3 0h1m2 0h1m6 0h1m2 0h1m2 0h1m4 0h1m2 0h1m1 0h1m13 0h1m2 0h2m4 0h1m6 0h1m6 0h1m9 0h1m13 0h1m15 0h1m5 0h1m2 0h1m119 0h1m1 0h1m10 0h3m6 0h1m4 0h1m9 0h2m-663 1h1m2 0h1m2 0h1m15 0h1m26 0h1m55 0h1m106 0h1m89 0h1m5 0h1m7 0h3m5 0h1m1 0h1m19 0h1m3 0h1m2 0h1m3 0h2m7 0h1m5 0h1m17 0h1m2 0h1m2 0h1m3 0h1m4 0h1m1 0h2m3 0h1m19 0h2m6 0h1m17 0h1m17 0h1m1 0h1m3 0h1m5 0h1m3 0h1m104 0h1m25 0h1m4 0h1m1 0h1m16 0h1m6 0h1m7 0h1m-675 1h1m40 0h1m40 0h1m19 0h1m3 0h1m9 0h1m60 0h1m93 0h1m1 0h2m34 0h1m3 0h1m3 0h1m17 0h1m12 0h1m5 0h1m2 0h2m3 0h2m3 0h1m3 0h2m5 0h1m8 0h2m11 0h1m1 0h1m2 0h1m5 0h1m3 0h1m3 0h1m2 0h1m1 0h1m9 0h1m7 0h1m4 0h1m4 0h1m12 0h1m2 0h1m2 0h1m2 0h1m2 0h2m11 0h2m7 0h1m4 0h1m8 0h1m123 0h1m11 0h1m1 0h2m15 0h1m4 0h1m-643 1h1m34 0h1m36 0h1m20 0h1m129 0h1m15 0h1m11 0h1m5 0h1m5 0h2m22 0h1m3 0h1m11 0h2m3 0h1m1 0h1m4 0h2m29 0h1m14 0h1m5 0h1m2 0h2m5 0h1m10 0h1m4 0h1m2 0h1m1 0h1m8 0h1m6 0h1m6 0h2m1 0h1m6 0h2m4 0h1m22 0h1m20 0h2m1 0h1m95 0h1m34 0h1m12 0h1m2 0h1m-649 1h1m5 0h1m7 0h1m34 0h1m1 0h1m12 0h1m3 0h2m19 0h2m5 0h1m2 0h1m1 0h1m13 0h1m4 0h1m42 0h1m61 0h1m1 0h1m2 0h1m28 0h1m10 0h1m11 0h1m28 0h1m1 0h1m1 0h1m7 0h1m2 0h1m1 0h1m17 0h1m2 0h1m5 0h1m7 0h2m4 0h1m17 0h1m11 0h1m28 0h2m11 0h1m1 0h1m6 0h1m8 0h1m4 0h4m1 0h1m4 0h1m4 0h1m1 0h1m1 0h1m4 0h1m5 0h1m2 0h1m2 0h1m1 0h1m134 0h1m6 0h1m-600 1h1m7 0h1m42 0h2m85 0h1m44 0h1m5 0h1m33 0h1m2 0h1m25 0h2m8 0h1m7 0h1m1 0h1m3 0h1m2 0h1m2 0h2m14 0h1m3 0h3m10 0h1m2 0h2m2 0h1m1 0h1m20 0h1m6 0h1m1 0h2m6 0h1m2 0h1m2 0h1m3 0h2m2 0h1m1 0h1m8 0h1m14 0h1m10 0h1m6 0h2m4 0h1m1 0h2m4 0h1m14 0h2m5 0h2m110 0h2m3 0h2m5 0h1m1 0h1m8 0h1m9 0h1m1 0h1m1 0h1m-640 1h1m33 0h1m4 0h1m2 0h1m11 0h1m17 0h1m1 0h1m7 0h1m6 0h1m11 0h1m4 0h1m6 0h1m58 0h1m82 0h1m25 0h1m3 0h1m9 0h1m8 0h2m1 0h2m1 0h1m8 0h1m10 0h1m9 0h1m4 0h2m1 0h1m1 0h1m3 0h2m3 0h1m2 0h1m21 0h1m1 0h1m2 0h2m9 0h1m18 0h1m2 0h1m8 0h1m1 0h1m1 0h1m8 0h1m19 0h1m3 0h1m6 0h1m12 0h1m125 0h1m15 0h1m-636 1h1m8 0h1m1 0h1m4 0h1m6 0h1m6 0h1m3 0h2m11 0h2m129 0h1m86 0h1m4 0h1m20 0h1m2 0h2m15 0h1m13 0h1m13 0h1m1 0h1m2 0h1m1 0h2m2 0h1m2 0h2m4 0h2m4 0h1m10 0h1m6 0h1m22 0h2m3 0h1m1 0h1m5 0h1m1 0h2m23 0h1m15 0h1m6 0h1m11 0h1m6 0h2m1 0h2m1 0h1m122 0h1m16 0h2m3 0h1m-642 1h1m9 0h1m15 0h1m9 0h2m13 0h1m1 0h1m53 0h1m4 0h1m57 0h1m10 0h2m57 0h1m50 0h1m3 0h1m1 0h1m2 0h1m1 0h1m8 0h1m7 0h1m5 0h1m3 0h1m4 0h1m1 0h2m2 0h1m2 0h2m6 0h1m3 0h1m3 0h1m2 0h1m5 0h1m18 0h1m5 0h1m3 0h2m8 0h1m6 0h1m4 0h1m7 0h2m7 0h2m27 0h1m2 0h1m121 0h1m49 0h2m5 0h1m-660 1h1m8 0h1m3 0h1m5 0h1m27 0h1m3 0h1m11 0h2m68 0h1m63 0h2m17 0h1m34 0h1m26 0h1m1 0h1m21 0h1m3 0h1m16 0h2m2 0h1m18 0h1m4 0h5m2 0h1m1 0h1m1 0h1m4 0h1m2 0h1m2 0h1m20 0h2m5 0h2m2 0h2m1 0h2m9 0h1m5 0h1m5 0h1m7 0h1m9 0h1m1 0h1m1 0h1m12 0h1m3 0h2m20 0h1m102 0h1m39 0h1m16 0h1m-630 1h1m5 0h1m3 0h1m20 0h1m77 0h1m107 0h1m10 0h1m3 0h2m12 0h1m16 0h1m14 0h1m2 0h2m16 0h1m1 0h1m2 0h1m1 0h1m1 0h2m13 0h1m3 0h1m1 0h1m4 0h1m13 0h1m1 0h1m1 0h1m20 0h1m3 0h1m1 0h1m5 0h1m2 0h1m5 0h1m5 0h1m7 0h2m6 0h1m7 0h1m5 0h1m8 0h1m8 0h1m25 0h3m3 0h1m3 0h1m101 0h1m15 0h1m2 0h1m4 0h1m7 0h1m2 0h1m3 0h1m1 0h1m-597 1h1m4 0h1m68 0h1m27 0h2m51 0h1m27 0h1m1 0h2m50 0h3m11 0h1m16 0h3m4 0h1m1 0h1m3 0h1m14 0h1m1 0h1m4 0h1m9 0h1m7 0h1m2 0h2m14 0h1m2 0h1m10 0h1m9 0h1m4 0h1m5 0h1m1 0h2m5 0h1m2 0h1m11 0h1m3 0h1m4 0h1m1 0h1m12 0h2m4 0h1m15 0h1m4 0h1m93 0h1m8 0h1m16 0h1m12 0h4m10 0h1m5 0h1m-642 1h1m7 0h3m12 0h1m13 0h1m5 0h1m71 0h1m87 0h2m18 0h1m15 0h2m12 0h1m10 0h1m5 0h1m6 0h1m4 0h1m7 0h1m15 0h1m4 0h1m1 0h1m2 0h1m2 0h1m16 0h1m4 0h1m15 0h1m2 0h1m16 0h1m2 0h1m4 0h1m6 0h1m6 0h1m6 0h1m3 0h1m1 0h2m1 0h1m10 0h1m2 0h1m2 0h1m9 0h1m3 0h1m6 0h1m2 0h1m1 0h1m1 0h2m2 0h1m2 0h2m3 0h1m13 0h1m2 0h1m91 0h1m13 0h1m29 0h1m5 0h1m7 0h2m-646 1h1m11 0h1m11 0h1m10 0h1m87 0h1m74 0h1m7 0h1m17 0h1m58 0h1m11 0h1m5 0h2m2 0h1m12 0h1m26 0h1m3 0h2m3 0h1m2 0h1m7 0h1m5 0h1m11 0h1m10 0h1m4 0h2m6 0h1m17 0h2m4 0h1m1 0h1m11 0h1m6 0h1m3 0h1m12 0h1m10 0h1m2 0h1m5 0h1m4 0h1m9 0h1m58 0h2m3 0h1m18 0h1m2 0h1m2 0h1m31 0h1m10 0h1m1 0h1m3 0h1m29 0h1m-668 1h1m2 0h1m19 0h1m97 0h1m16 0h1m70 0h1m11 0h1m42 0h2m4 0h1m2 0h1m25 0h1m13 0h2m3 0h1m1 0h1m37 0h1m3 0h1m13 0h3m7 0h1m7 0h1m13 0h2m7 0h1m2 0h1m6 0h1m13 0h1m1 0h1m5 0h1m1 0h1m6 0h2m24 0h1m94 0h1m13 0h1m1 0h1m5 0h1m17 0h1m2 0h1m8 0h1m7 0h1m28 0h1m-692 1h1m57 0h1m78 0h1m25 0h1m2 0h1m50 0h1m13 0h1m14 0h1m1 0h1m4 0h1m29 0h2m9 0h1m1 0h1m7 0h1m3 0h2m3 0h2m2 0h1m5 0h1m13 0h1m5 0h1m10 0h1m5 0h1m5 0h1m18 0h1m9 0h2m2 0h1m14 0h2m7 0h1m2 0h2m10 0h1m7 0h1m11 0h1m2 0h1m1 0h1m2 0h1m9 0h1m2 0h1m8 0h1m9 0h1m2 0h1m7 0h1m11 0h1m54 0h1m3 0h1m25 0h3m28 0h1m1 0h1m3 0h4m2 0h2m8 0h1m22 0h2m-657 1h1m21 0h1m8 0h2m73 0h1m27 0h1m2 0h1m51 0h1m14 0h1m43 0h1m17 0h1m2 0h1m1 0h2m3 0h1m1 0h1m5 0h1m2 0h1m9 0h1m11 0h1m5 0h1m11 0h1m2 0h1m4 0h1m3 0h1m5 0h1m4 0h1m10 0h1m1 0h1m5 0h1m32 0h1m5 0h1m9 0h1m6 0h1m4 0h1m1 0h1m8 0h1m4 0h1m6 0h1m11 0h1m7 0h1m7 0h1m9 0h1m66 0h1m7 0h1m17 0h3m4 0h1m32 0h1m32 0h1m7 0h1m-687 1h1m12 0h1m24 0h1m2 0h1m85 0h1m2 0h1m28 0h1m50 0h1m20 0h1m48 0h1m2 0h1m13 0h1m1 0h1m3 0h1m4 0h1m4 0h1m3 0h1m2 0h1m2 0h1m2 0h1m26 0h1m1 0h1m4 0h2m7 0h1m2 0h2m7 0h2m1 0h1m2 0h2m9 0h1m5 0h1m4 0h1m10 0h1m1 0h2m4 0h1m1 0h1m1 0h2m19 0h1m2 0h1m15 0h1m4 0h1m15 0h2m1 0h1m2 0h2m4 0h1m13 0h1m50 0h2m14 0h2m2 0h1m2 0h1m7 0h2m7 0h1m6 0h1m5 0h1m9 0h1m12 0h1m5 0h2m2 0h1m8 0h1m6 0h1m6 0h1m-682 1h1m6 0h1m12 0h2m2 0h1m20 0h1m8 0h1m61 0h1m8 0h1m2 0h1m83 0h1m23 0h1m19 0h1m3 0h1m21 0h1m2 0h1m11 0h1m3 0h1m2 0h2m3 0h1m4 0h1m2 0h1m18 0h1m2 0h2m12 0h1m1 0h1m1 0h1m1 0h1m14 0h1m2 0h1m5 0h1m21 0h1m3 0h1m4 0h1m1 0h1m7 0h1m8 0h1m7 0h1m3 0h1m3 0h1m12 0h1m3 0h1m4 0h1m1 0h1m3 0h1m19 0h1m3 0h1m5 0h1m12 0h1m69 0h1m16 0h1m16 0h1m26 0h1m6 0h1m3 0h1m20 0h1m2 0h2m-692 1h1m27 0h2m8 0h1m3 0h1m18 0h1m28 0h1m24 0h1m12 0h1m8 0h1m25 0h1m54 0h1m39 0h1m25 0h1m4 0h1m1 0h2m12 0h1m2 0h2m4 0h1m9 0h1m42 0h1m6 0h1m13 0h1m8 0h1m11 0h1m2 0h1m1 0h2m5 0h2m5 0h1m3 0h1m7 0h2m1 0h1m7 0h1m1 0h2m2 0h1m9 0h1m4 0h1m1 0h1m1 0h1m1 0h1m1 0h1m10 0h3m2 0h1m4 0h2m5 0h1m20 0h1m45 0h1m2 0h1m8 0h1m4 0h1m7 0h1m11 0h1m7 0h1m3 0h1m16 0h1m2 0h2m18 0h1m4 0h1m7 0h1m5 0h1m6 0h1m-689 1h1m4 0h1m5 0h1m1 0h1m8 0h1m9 0h1m3 0h1m88 0h1m7 0h1m27 0h2m31 0h1m34 0h1m46 0h1m9 0h1m23 0h2m4 0h1m1 0h1m9 0h1m3 0h3m6 0h1m7 0h1m1 0h2m1 0h1m4 0h1m14 0h1m3 0h1m5 0h1m1 0h1m2 0h1m2 0h1m2 0h1m2 0h2m4 0h1m3 0h1m2 0h2m2 0h2m4 0h1m3 0h1m19 0h1m7 0h1m1 0h1m1 0h2m6 0h2m3 0h2m5 0h2m11 0h1m6 0h1m13 0h1m1 0h1m59 0h1m14 0h1m1 0h1m1 0h1m6 0h1m6 0h1m6 0h1m4 0h1m3 0h1m2 0h1m13 0h1m6 0h1m3 0h1m11 0h2m22 0h1m-686 1h1m13 0h1m18 0h1m8 0h1m15 0h1m121 0h1m14 0h1m46 0h1m47 0h2m6 0h1m4 0h2m11 0h1m9 0h1m3 0h1m6 0h2m7 0h1m1 0h1m9 0h1m2 0h1m3 0h1m11 0h1m2 0h1m2 0h1m3 0h1m2 0h1m2 0h1m5 0h1m9 0h1m1 0h1m3 0h2m3 0h2m3 0h1m18 0h1m3 0h1m10 0h2m1 0h1m12 0h1m1 0h1m5 0h1m7 0h1m2 0h1m12 0h1m3 0h1m4 0h1m6 0h1m49 0h1m11 0h2m11 0h1m3 0h1m1 0h1m17 0h1m1 0h1m22 0h2m16 0h1m11 0h1m9 0h1m-693 1h1m25 0h1m3 0h1m24 0h1m75 0h1m37 0h1m4 0h1m43 0h1m26 0h1m2 0h1m57 0h1m2 0h1m11 0h1m13 0h1m12 0h1m2 0h1m2 0h1m5 0h1m15 0h1m2 0h1m3 0h4m1 0h1m7 0h2m10 0h2m8 0h1m2 0h2m1 0h1m21 0h2m3 0h3m7 0h1m12 0h1m4 0h1m7 0h1m13 0h1m2 0h1m12 0h1m4 0h1m2 0h1m4 0h1m53 0h1m3 0h1m26 0h1m2 0h1m2 0h1m8 0h1m5 0h2m13 0h1m28 0h1m1 0h1m-675 1h1m2 0h1m4 0h1m22 0h1m2 0h1m19 0h1m62 0h1m6 0h1m4 0h1m26 0h1m14 0h1m9 0h1m26 0h2m34 0h1m4 0h1m27 0h1m19 0h1m10 0h1m8 0h1m15 0h1m7 0h1m3 0h1m3 0h2m1 0h1m1 0h1m2 0h1m1 0h1m1 0h3m4 0h1m21 0h1m1 0h1m2 0h1m8 0h2m5 0h2m1 0h1m11 0h1m8 0h1m2 0h1m24 0h3m3 0h1m2 0h1m1 0h2m3 0h1m3 0h2m3 0h1m12 0h1m13 0h1m57 0h1m41 0h1m8 0h1m4 0h1m3 0h1m4 0h1m20 0h1m3 0h1m14 0h1m-675 1h1m23 0h1m2 0h1m8 0h1m40 0h1m30 0h1m14 0h1m1 0h1m10 0h1m29 0h1m39 0h1m33 0h1m2 0h1m16 0h1m4 0h1m2 0h1m2 0h1m1 0h1m18 0h2m3 0h1m1 0h2m19 0h1m11 0h1m10 0h1m1 0h1m6 0h1m11 0h1m9 0h1m4 0h1m3 0h1m1 0h1m2 0h1m6 0h1m1 0h1m2 0h2m5 0h2m7 0h1m1 0h1m1 0h1m1 0h1m13 0h1m5 0h1m1 0h1m2 0h1m9 0h1m1 0h1m3 0h1m1 0h1m6 0h1m2 0h1m4 0h2m27 0h1m78 0h1m5 0h2m8 0h1m23 0h1m6 0h1m2 0h1m16 0h1m15 0h1m-684 1h1m1 0h1m1 0h1m33 0h1m2 0h1m4 0h1m1 0h1m40 0h1m58 0h1m12 0h2m21 0h1m30 0h1m30 0h1m21 0h1m8 0h1m7 0h1m6 0h1m4 0h1m8 0h1m3 0h1m7 0h1m10 0h1m2 0h2m9 0h1m4 0h1m3 0h1m5 0h1m5 0h1m7 0h1m5 0h3m12 0h4m6 0h2m6 0h2m3 0h1m12 0h1m25 0h1m5 0h1m6 0h2m4 0h1m5 0h1m5 0h1m2 0h1m1 0h1m11 0h2m8 0h1m17 0h1m63 0h1m30 0h1m11 0h1m32 0h1m2 0h1m4 0h1m-682 1h1m14 0h1m1 0h1m3 0h1m12 0h1m3 0h1m3 0h2m23 0h1m71 0h1m41 0h1m12 0h1m8 0h2m12 0h1m4 0h1m49 0h1m8 0h1m21 0h1m16 0h2m10 0h1m12 0h2m3 0h1m9 0h2m1 0h1m4 0h2m3 0h1m1 0h1m1 0h2m2 0h1m6 0h1m2 0h1m3 0h2m6 0h1m1 0h1m2 0h1m1 0h1m5 0h1m10 0h1m2 0h1m2 0h1m6 0h1m2 0h2m7 0h2m2 0h2m12 0h2m4 0h1m1 0h1m2 0h2m9 0h1m1 0h1m12 0h1m3 0h1m4 0h2m5 0h1m5 0h1m62 0h1m23 0h1m3 0h1m14 0h1m6 0h1m1 0h2m24 0h1m5 0h2m1 0h1m-678 1h1m1 0h1m9 0h1m1 0h1m8 0h1m10 0h1m1 0h1m10 0h1m99 0h2m89 0h1m37 0h1m23 0h1m1 0h1m4 0h1m5 0h1m5 0h1m4 0h1m1 0h1m1 0h1m1 0h1m1 0h1m5 0h1m3 0h1m6 0h1m11 0h1m1 0h1m4 0h2m3 0h1m9 0h1m3 0h1m1 0h1m10 0h1m3 0h1m1 0h1m2 0h1m9 0h1m18 0h1m1 0h1m2 0h1m5 0h1m5 0h1m9 0h1m1 0h1m4 0h3m23 0h1m1 0h1m24 0h1m1 0h1m2 0h1m51 0h3m1 0h1m13 0h1m3 0h1m5 0h1m15 0h1m3 0h2m10 0h1m4 0h1m22 0h2m-672 1h1m6 0h2m25 0h1m6 0h1m3 0h1m144 0h1m12 0h1m1 0h2m6 0h1m65 0h1m20 0h1m2 0h1m3 0h1m7 0h1m15 0h1m11 0h1m4 0h1m2 0h3m4 0h2m5 0h2m3 0h2m4 0h2m3 0h1m8 0h1m1 0h1m7 0h1m3 0h2m2 0h4m2 0h1m7 0h1m2 0h1m3 0h2m2 0h1m2 0h2m5 0h1m26 0h1m6 0h1m18 0h1m9 0h1m1 0h1m3 0h1m7 0h1m8 0h1m48 0h1m1 0h1m1 0h1m21 0h1m12 0h1m6 0h1m17 0h2m3 0h2m1 0h2m17 0h2m-662 1h1m8 0h1m6 0h1m5 0h1m11 0h1m1 0h1m12 0h1m1 0h1m119 0h1m1 0h1m8 0h1m100 0h1m2 0h1m36 0h1m11 0h1m13 0h1m5 0h2m3 0h3m5 0h1m4 0h3m2 0h2m6 0h2m5 0h1m3 0h1m6 0h1m1 0h1m11 0h1m1 0h1m3 0h1m5 0h1m7 0h1m2 0h1m13 0h1m1 0h1m1 0h2m1 0h1m5 0h1m2 0h3m5 0h1m4 0h1m6 0h1m1 0h1m3 0h1m8 0h1m4 0h1m5 0h1m55 0h1m17 0h2m10 0h1m4 0h1m11 0h1m5 0h1m3 0h1m8 0h1m21 0h1m2 0h1m-653 1h1m1 0h1m10 0h1m3 0h1m9 0h1m148 0h1m10 0h2m27 0h1m19 0h1m19 0h1m3 0h1m3 0h1m1 0h1m11 0h1m2 0h1m26 0h1m1 0h1m1 0h1m6 0h1m7 0h1m10 0h1m4 0h2m12 0h1m13 0h1m3 0h1m4 0h2m4 0h1m1 0h1m3 0h1m2 0h1m5 0h1m3 0h1m7 0h3m1 0h1m9 0h1m3 0h1m7 0h1m7 0h1m8 0h1m2 0h1m7 0h1m3 0h2m16 0h1m14 0h1m3 0h1m1 0h1m53 0h1m2 0h1m2 0h2m9 0h1m7 0h1m7 0h1m5 0h1m4 0h1m9 0h1m5 0h1m21 0h1m1 0h2m-650 1h1m9 0h1m21 0h1m7 0h1m91 0h1m1 0h1m22 0h1m7 0h1m5 0h1m5 0h1m1 0h1m6 0h1m7 0h2m9 0h1m62 0h1m5 0h1m1 0h1m1 0h1m26 0h1m3 0h1m9 0h1m2 0h1m3 0h1m9 0h1m7 0h1m2 0h1m3 0h1m2 0h1m1 0h1m6 0h2m5 0h1m4 0h1m1 0h1m2 0h1m5 0h1m1 0h1m3 0h1m9 0h2m11 0h1m13 0h1m16 0h1m1 0h1m4 0h2m3 0h1m3 0h1m10 0h2m3 0h1m9 0h2m6 0h1m2 0h1m3 0h1m49 0h2m3 0h1m2 0h1m23 0h1m5 0h2m2 0h1m5 0h1m21 0h1m5 0h1m-651 1h1m8 0h1m34 0h1m16 0h1m89 0h1m35 0h2m2 0h1m19 0h1m15 0h1m8 0h1m17 0h2m21 0h1m51 0h2m1 0h1m4 0h1m7 0h3m3 0h2m7 0h1m6 0h1m2 0h2m5 0h1m1 0h1m7 0h1m1 0h2m1 0h1m5 0h2m2 0h1m7 0h1m1 0h2m3 0h1m3 0h1m8 0h3m12 0h1m5 0h1m4 0h1m1 0h1m1 0h1m8 0h1m1 0h1m4 0h1m3 0h1m1 0h3m13 0h1m2 0h1m7 0h2m10 0h1m2 0h1m63 0h1m5 0h1m5 0h1m1 0h1m7 0h1m1 0h2m6 0h1m1 0h1m7 0h1m18 0h1m-655 1h2m17 0h1m5 0h1m12 0h2m9 0h1m100 0h1m13 0h1m74 0h3m2 0h1m14 0h1m31 0h1m3 0h1m28 0h1m7 0h1m3 0h1m5 0h1m10 0h2m4 0h1m1 0h1m3 0h1m2 0h1m9 0h1m1 0h2m1 0h1m4 0h1m3 0h2m2 0h3m30 0h1m3 0h1m8 0h1m11 0h1m1 0h2m2 0h1m15 0h1m1 0h1m2 0h2m4 0h1m1 0h1m5 0h1m3 0h1m9 0h1m5 0h1m1 0h1m59 0h1m7 0h1m9 0h1m6 0h1m11 0h1m1 0h1m5 0h1m4 0h1m4 0h1m1 0h1m-540 1h2m84 0h1m62 0h1m3 0h1m19 0h1m21 0h2m26 0h1m11 0h1m2 0h1m3 0h2m3 0h1m2 0h1m16 0h1m1 0h2m11 0h1m1 0h1m12 0h1m2 0h1m4 0h1m8 0h1m8 0h2m8 0h2m3 0h2m4 0h1m1 0h1m12 0h1m2 0h1m7 0h1m10 0h1m7 0h1m2 0h1m6 0h1m4 0h1m4 0h3m9 0h1m19 0h1m38 0h2m6 0h1m20 0h4m1 0h1m2 0h3m4 0h2m12 0h2m32 0h2m8 0h1m-650 1h1m8 0h1m7 0h1m19 0h1m26 0h1m27 0h1m45 0h1m12 0h1m4 0h1m3 0h2m1 0h1m5 0h1m43 0h2m48 0h1m18 0h1m20 0h1m2 0h1m3 0h1m1 0h1m33 0h2m1 0h1m4 0h2m8 0h1m1 0h1m1 0h1m17 0h1m1 0h1m8 0h1m13 0h1m5 0h1m11 0h1m14 0h1m11 0h2m4 0h1m5 0h1m1 0h1m6 0h1m5 0h2m2 0h1m3 0h1m15 0h1m51 0h1m1 0h1m1 0h1m15 0h1m2 0h1m2 0h1m1 0h1m12 0h1m2 0h2m4 0h1m2 0h1m31 0h1m-674 1h1m5 0h1m31 0h3m120 0h1m20 0h2m8 0h2m8 0h1m6 0h1m70 0h1m1 0h1m5 0h2m1 0h1m2 0h1m8 0h2m43 0h2m10 0h1m5 0h1m11 0h2m7 0h1m9 0h2m11 0h2m5 0h1m6 0h1m2 0h2m10 0h1m9 0h1m29 0h1m2 0h1m6 0h1m11 0h1m5 0h1m8 0h1m58 0h1m3 0h1m14 0h1m2 0h2m3 0h1m1 0h2m1 0h1m2 0h2m5 0h1m9 0h1m5 0h1m6 0h1m32 0h1m1 0h1m-643 1h1m66 0h1m64 0h1m2 0h1m6 0h1m7 0h1m19 0h1m87 0h4m9 0h1m3 0h1m1 0h1m31 0h3m3 0h1m9 0h1m2 0h2m3 0h1m7 0h1m2 0h1m5 0h1m8 0h1m3 0h1m13 0h2m7 0h1m7 0h1m3 0h1m3 0h1m3 0h2m3 0h1m2 0h1m1 0h1m7 0h1m3 0h1m2 0h1m1 0h2m25 0h1m7 0h1m4 0h1m3 0h1m65 0h1m1 0h1m1 0h1m5 0h1m1 0h2m2 0h1m4 0h1m3 0h3m6 0h2m2 0h1m1 0h1m1 0h1m7 0h1m11 0h1m35 0h1m1 0h1m-514 1h1m4 0h1m11 0h2m12 0h1m3 0h1m25 0h1m2 0h1m44 0h1m1 0h1m16 0h1m3 0h1m3 0h1m7 0h1m39 0h1m11 0h2m4 0h1m1 0h1m13 0h1m7 0h1m2 0h1m3 0h1m14 0h1m1 0h1m7 0h2m11 0h2m3 0h1m2 0h2m15 0h1m21 0h1m3 0h2m1 0h1m3 0h1m7 0h2m3 0h1m10 0h1m1 0h1m54 0h1m5 0h1m10 0h1m1 0h2m8 0h1m16 0h1m3 0h1m1 0h1m4 0h1m1 0h2m10 0h1m20 0h2m4 0h1m-670 1h1m2 0h1m4 0h1m20 0h1m15 0h1m155 0h1m9 0h1m57 0h1m27 0h1m46 0h1m5 0h1m8 0h1m2 0h3m1 0h1m18 0h1m16 0h1m13 0h1m6 0h1m7 0h1m8 0h1m14 0h2m5 0h1m14 0h2m4 0h1m4 0h2m2 0h1m3 0h1m1 0h2m74 0h1m11 0h1m1 0h1m5 0h1m2 0h1m1 0h2m2 0h2m1 0h1m7 0h1m3 0h1m5 0h3m1 0h1m13 0h1m5 0h1m-639 1h1m15 0h1m2 0h1m25 0h1m54 0h2m77 0h1m2 0h1m2 0h1m1 0h1m14 0h1m75 0h1m1 0h1m4 0h1m18 0h1m20 0h1m23 0h1m1 0h1m5 0h2m1 0h1m6 0h2m3 0h1m7 0h2m11 0h1m7 0h1m2 0h2m2 0h2m7 0h1m7 0h1m6 0h1m7 0h1m3 0h1m8 0h2m17 0h1m8 0h1m3 0h1m8 0h5m7 0h1m1 0h1m1 0h1m4 0h1m50 0h1m3 0h1m3 0h1m2 0h1m7 0h1m1 0h2m8 0h1m11 0h1m1 0h1m6 0h2m3 0h1m28 0h2m1 0h1m1 0h1m-667 1h2m19 0h2m5 0h1m14 0h1m10 0h1m57 0h1m44 0h1m4 0h1m2 0h1m5 0h1m14 0h1m1 0h1m1 0h1m19 0h1m27 0h1m15 0h2m24 0h1m15 0h1m26 0h1m35 0h1m6 0h1m1 0h1m1 0h1m6 0h1m9 0h1m2 0h1m13 0h1m18 0h1m5 0h1m12 0h2m1 0h2m2 0h1m1 0h2m1 0h1m7 0h1m4 0h1m3 0h2m5 0h1m9 0h1m1 0h2m8 0h2m4 0h1m15 0h1m1 0h1m47 0h1m8 0h1m6 0h1m4 0h1m5 0h1m2 0h1m3 0h1m18 0h1m5 0h1m3 0h1m-633 1h1m13 0h1m14 0h1m8 0h1m71 0h1m44 0h1m11 0h1m12 0h1m15 0h1m55 0h1m36 0h1m2 0h1m9 0h2m15 0h1m5 0h1m5 0h2m20 0h1m18 0h1m1 0h2m7 0h1m3 0h1m6 0h1m2 0h1m4 0h2m2 0h1m11 0h1m3 0h1m12 0h1m7 0h1m2 0h1m1 0h2m3 0h1m16 0h1m6 0h1m1 0h1m3 0h1m22 0h1m7 0h1m1 0h1m2 0h1m49 0h1m3 0h1m5 0h1m1 0h1m1 0h1m1 0h2m2 0h1m4 0h1m13 0h1m2 0h2m1 0h1m4 0h1m13 0h1m-598 1h1m9 0h1m63 0h1m77 0h1m1 0h1m20 0h1m42 0h1m8 0h1m14 0h1m2 0h1m17 0h1m4 0h1m16 0h1m10 0h2m5 0h1m12 0h2m1 0h1m9 0h2m3 0h1m4 0h1m10 0h1m11 0h1m2 0h1m1 0h2m7 0h1m3 0h3m3 0h1m12 0h1m9 0h2m21 0h1m12 0h2m2 0h1m15 0h1m10 0h2m5 0h1m41 0h1m10 0h1m4 0h1m2 0h1m8 0h1m14 0h1m7 0h1m2 0h1m1 0h1m-621 1h1m1 0h1m15 0h1m24 0h1m5 0h1m1 0h1m54 0h1m24 0h2m30 0h1m6 0h1m19 0h1m5 0h1m12 0h1m43 0h1m3 0h2m9 0h1m29 0h1m4 0h1m1 0h2m9 0h2m20 0h1m18 0h1m13 0h1m6 0h1m1 0h1m6 0h1m4 0h1m4 0h3m3 0h1m2 0h1m7 0h1m4 0h1m3 0h1m1 0h1m10 0h2m2 0h1m6 0h1m5 0h1m2 0h2m11 0h3m3 0h1m8 0h1m2 0h2m2 0h1m5 0h1m3 0h1m2 0h1m8 0h1m4 0h1m3 0h1m7 0h1m41 0h1m2 0h1m3 0h2m3 0h1m1 0h1m4 0h2m3 0h2m2 0h1m8 0h1m12 0h1m6 0h1m1 0h1m-610 1h1m14 0h1m7 0h1m13 0h1m31 0h2m11 0h1m6 0h2m59 0h1m36 0h1m11 0h1m31 0h1m50 0h1m12 0h2m1 0h1m1 0h1m1 0h1m14 0h3m3 0h1m8 0h1m3 0h2m2 0h1m1 0h4m3 0h1m2 0h1m1 0h1m3 0h1m3 0h1m3 0h1m2 0h1m2 0h1m2 0h1m2 0h4m2 0h4m1 0h1m9 0h2m2 0h1m19 0h2m2 0h1m3 0h1m1 0h1m1 0h1m1 0h1m8 0h1m3 0h1m3 0h1m3 0h2m19 0h1m8 0h1m1 0h2m4 0h1m5 0h1m4 0h2m41 0h1m1 0h1m17 0h3m2 0h2m2 0h1m11 0h3m14 0h2m1 0h1m-627 1h1m1 0h1m26 0h2m52 0h1m49 0h2m20 0h1m22 0h2m5 0h1m9 0h1m7 0h1m21 0h1m2 0h1m44 0h2m9 0h1m4 0h1m1 0h1m21 0h1m2 0h1m1 0h1m11 0h2m5 0h2m17 0h1m1 0h1m3 0h2m5 0h1m4 0h1m2 0h1m3 0h1m1 0h1m3 0h1m6 0h1m5 0h3m1 0h1m1 0h1m7 0h1m3 0h1m2 0h1m3 0h1m24 0h1m1 0h1m8 0h1m6 0h1m1 0h1m7 0h1m7 0h2m1 0h1m2 0h1m2 0h1m2 0h1m12 0h1m5 0h3m1 0h1m32 0h1m10 0h2m22 0h1m6 0h1m3 0h1m7 0h1m4 0h1m3 0h1m9 0h1m1 0h1m-611 1h3m35 0h1m77 0h1m42 0h2m49 0h1m38 0h2m4 0h1m5 0h1m9 0h1m15 0h1m12 0h1m9 0h1m2 0h1m6 0h1m19 0h1m6 0h1m4 0h2m4 0h2m2 0h1m13 0h1m8 0h1m6 0h1m1 0h1m12 0h1m4 0h1m10 0h2m7 0h1m17 0h1m11 0h1m3 0h1m2 0h1m10 0h1m6 0h1m4 0h1m44 0h2m8 0h1m2 0h1m6 0h1m6 0h1m9 0h2m3 0h1m3 0h1m5 0h2m3 0h1m5 0h1m-622 1h1m19 0h1m3 0h1m13 0h1m2 0h1m7 0h2m3 0h1m95 0h2m3 0h1m1 0h1m38 0h1m65 0h1m11 0h1m2 0h1m7 0h1m33 0h1m6 0h1m2 0h1m8 0h1m1 0h2m5 0h1m12 0h1m3 0h2m5 0h1m5 0h1m2 0h2m5 0h1m1 0h2m3 0h1m14 0h2m2 0h1m3 0h1m5 0h1m2 0h1m7 0h1m4 0h2m13 0h2m2 0h2m11 0h1m1 0h1m4 0h1m9 0h1m1 0h1m3 0h1m2 0h1m4 0h2m1 0h1m1 0h1m1 0h2m3 0h2m40 0h1m3 0h1m1 0h1m3 0h3m15 0h1m11 0h1m2 0h1m9 0h1m9 0h1m3 0h1m3 0h2m12 0h2m-642 1h2m5 0h2m1 0h1m5 0h1m3 0h1m144 0h1m23 0h1m17 0h2m41 0h1m27 0h1m10 0h1m6 0h1m27 0h1m5 0h1m3 0h2m1 0h1m4 0h1m2 0h1m19 0h1m17 0h1m2 0h1m2 0h2m4 0h1m14 0h1m4 0h1m4 0h3m2 0h2m8 0h1m1 0h1m8 0h1m1 0h1m10 0h1m2 0h1m7 0h1m18 0h1m3 0h1m2 0h1m1 0h2m1 0h1m9 0h1m38 0h1m2 0h1m1 0h1m1 0h1m1 0h2m2 0h1m2 0h1m3 0h2m3 0h1m1 0h1m5 0h1m18 0h1m5 0h1m3 0h1m2 0h1m12 0h1m12 0h1m-644 1h1m4 0h2m2 0h1m1 0h1m6 0h1m7 0h1m1 0h1m3 0h1m38 0h1m38 0h1m47 0h1m34 0h1m3 0h1m3 0h2m30 0h1m15 0h1m41 0h1m25 0h1m13 0h1m33 0h1m3 0h1m1 0h1m4 0h1m3 0h3m1 0h1m3 0h2m9 0h1m1 0h2m12 0h1m4 0h1m8 0h1m3 0h1m3 0h2m5 0h1m1 0h1m11 0h1m2 0h1m3 0h1m1 0h1m13 0h1m9 0h1m3 0h1m1 0h1m3 0h2m4 0h1m5 0h1m5 0h1m30 0h2m9 0h1m1 0h1m6 0h1m3 0h1m1 0h1m9 0h1m2 0h1m4 0h2m2 0h1m14 0h1m6 0h1m27 0h1m-644 1h2m2 0h1m1 0h1m2 0h1m4 0h1m15 0h1m3 0h1m70 0h1m62 0h1m15 0h2m66 0h1m10 0h1m20 0h1m3 0h1m4 0h1m29 0h1m5 0h1m7 0h1m22 0h2m7 0h1m2 0h1m1 0h1m3 0h1m5 0h1m4 0h1m1 0h1m8 0h1m2 0h1m5 0h1m5 0h1m5 0h1m8 0h1m9 0h1m1 0h2m10 0h1m20 0h1m6 0h1m3 0h1m2 0h1m3 0h1m4 0h1m5 0h1m46 0h1m1 0h1m18 0h1m3 0h1m5 0h1m1 0h2m1 0h1m7 0h2m8 0h1m4 0h1m-610 1h1m5 0h1m11 0h1m2 0h1m22 0h1m40 0h1m5 0h1m63 0h1m9 0h1m1 0h1m1 0h1m4 0h1m5 0h2m13 0h1m2 0h2m46 0h1m64 0h1m10 0h1m8 0h1m4 0h1m20 0h2m7 0h2m7 0h1m3 0h1m1 0h1m1 0h1m11 0h1m9 0h1m14 0h2m9 0h1m12 0h1m9 0h2m6 0h1m17 0h1m3 0h1m21 0h2m37 0h1m8 0h3m9 0h1m1 0h2m6 0h1m2 0h1m3 0h1m9 0h2m7 0h1m2 0h1m4 0h3m1 0h1m2 0h2m1 0h1m-624 1h1m3 0h1m32 0h1m125 0h1m6 0h1m5 0h1m3 0h1m17 0h1m2 0h1m46 0h1m16 0h1m10 0h1m2 0h1m6 0h1m25 0h1m17 0h1m8 0h1m19 0h1m6 0h1m9 0h1m7 0h1m1 0h1m7 0h1m3 0h1m3 0h1m5 0h1m7 0h2m15 0h3m4 0h1m38 0h1m4 0h1m2 0h1m3 0h1m3 0h1m11 0h1m12 0h1m27 0h1m1 0h1m11 0h1m12 0h1m4 0h1m7 0h1m1 0h1m3 0h1m3 0h2m14 0h1m-613 1h1m2 0h1m23 0h1m3 0h1m10 0h2m39 0h3m1 0h1m80 0h1m6 0h1m23 0h1m44 0h1m6 0h1m31 0h1m11 0h1m14 0h1m24 0h1m2 0h1m20 0h1m1 0h1m16 0h1m2 0h1m11 0h1m3 0h1m6 0h1m14 0h1m8 0h1m2 0h1m2 0h3m19 0h1m11 0h1m7 0h1m3 0h2m2 0h1m8 0h1m3 0h1m1 0h2m1 0h1m3 0h1m14 0h1m30 0h1m1 0h1m3 0h1m2 0h1m17 0h2m2 0h1m4 0h1m1 0h1m1 0h2m6 0h2m3 0h1m21 0h1m9 0h1m-649 1h1m20 0h1m76 0h1m43 0h1m41 0h1m16 0h1m39 0h1m2 0h1m20 0h1m38 0h1m10 0h1m5 0h3m6 0h2m6 0h2m4 0h2m5 0h1m23 0h1m1 0h2m10 0h1m7 0h1m2 0h1m7 0h1m5 0h1m2 0h1m8 0h3m1 0h1m4 0h1m4 0h1m1 0h1m2 0h1m1 0h1m8 0h1m21 0h2m15 0h2m10 0h1m3 0h1m2 0h1m10 0h1m1 0h3m18 0h1m7 0h1m3 0h2m4 0h1m3 0h1m3 0h1m1 0h1m10 0h1m14 0h2m1 0h1m1 0h2m3 0h2m4 0h1m2 0h1m1 0h1m26 0h1m-650 1h1m10 0h1m9 0h1m29 0h1m5 0h1m40 0h1m80 0h1m12 0h1m72 0h1m9 0h1m15 0h2m10 0h1m18 0h1m6 0h1m14 0h1m4 0h1m19 0h1m1 0h4m1 0h2m13 0h1m10 0h1m7 0h1m11 0h1m16 0h1m5 0h1m14 0h2m23 0h1m7 0h1m2 0h1m8 0h1m3 0h1m3 0h1m13 0h1m13 0h2m1 0h1m2 0h1m6 0h1m2 0h1m2 0h1m3 0h1m14 0h1m14 0h1m6 0h2m2 0h1m1 0h1m8 0h1m35 0h2m-654 1h1m1 0h1m9 0h1m2 0h1m1 0h1m3 0h1m22 0h1m32 0h1m74 0h1m31 0h1m64 0h1m3 0h1m5 0h1m2 0h1m17 0h1m17 0h1m11 0h1m3 0h1m31 0h3m21 0h1m2 0h1m4 0h1m4 0h2m5 0h1m5 0h1m1 0h1m11 0h1m2 0h1m1 0h1m4 0h1m5 0h1m2 0h1m6 0h1m8 0h1m9 0h1m1 0h1m28 0h1m1 0h1m2 0h1m6 0h1m2 0h1m2 0h2m5 0h1m2 0h1m1 0h1m1 0h1m3 0h2m3 0h1m5 0h1m3 0h1m3 0h1m2 0h1m13 0h1m4 0h1m7 0h1m4 0h1m2 0h1m17 0h1m2 0h2m2 0h1m2 0h1m5 0h1m5 0h1m3 0h1m1 0h2m2 0h1m23 0h1m-637 1h1m25 0h1m24 0h1m18 0h1m10 0h1m43 0h1m25 0h1m12 0h1m20 0h1m14 0h1m21 0h1m10 0h1m6 0h1m12 0h1m21 0h1m7 0h1m26 0h2m18 0h1m3 0h2m3 0h1m20 0h1m7 0h1m3 0h3m7 0h1m3 0h2m1 0h1m2 0h1m2 0h1m6 0h2m1 0h1m4 0h1m1 0h1m5 0h1m1 0h1m2 0h1m10 0h1m26 0h1m5 0h1m1 0h1m7 0h1m2 0h1m1 0h1m1 0h2m1 0h1m2 0h1m3 0h1m2 0h1m2 0h1m1 0h1m13 0h1m2 0h1m19 0h1m3 0h2m3 0h1m3 0h1m3 0h1m7 0h1m5 0h2m9 0h1m5 0h2m17 0h1m1 0h1m-620 1h1m5 0h2m2 0h1m30 0h1m22 0h1m6 0h1m19 0h1m94 0h1m11 0h1m9 0h1m2 0h1m20 0h1m20 0h1m27 0h1m5 0h1m5 0h1m28 0h1m15 0h2m21 0h1m30 0h1m1 0h1m2 0h1m2 0h1m9 0h1m1 0h1m11 0h1m1 0h1m2 0h1m6 0h1m8 0h1m3 0h2m1 0h1m24 0h1m3 0h2m4 0h1m16 0h1m2 0h1m2 0h1m3 0h1m7 0h1m4 0h1m5 0h1m2 0h1m18 0h1m10 0h1m2 0h1m16 0h1m3 0h1m4 0h2m6 0h1m1 0h1m1 0h1m-588 1h1m1 0h1m29 0h1m1 0h1m13 0h1m2 0h1m30 0h1m71 0h1m2 0h1m35 0h1m27 0h1m2 0h1m5 0h1m22 0h1m7 0h2m2 0h1m20 0h1m15 0h1m4 0h1m1 0h1m1 0h1m11 0h2m45 0h1m2 0h1m1 0h1m2 0h1m1 0h1m1 0h1m1 0h3m1 0h1m2 0h1m11 0h2m3 0h1m4 0h1m3 0h2m3 0h1m4 0h1m10 0h1m13 0h1m14 0h1m6 0h1m14 0h2m14 0h1m7 0h1m2 0h1m9 0h2m6 0h2m20 0h1m6 0h1m2 0h1m2 0h1m13 0h2m12 0h1m25 0h1m-644 1h1m8 0h1m50 0h1m30 0h1m8 0h1m1 0h1m36 0h1m16 0h1m50 0h1m60 0h2m9 0h1m38 0h1m2 0h1m1 0h3m4 0h3m1 0h2m5 0h1m5 0h1m17 0h1m3 0h1m6 0h1m10 0h1m8 0h3m1 0h2m11 0h1m8 0h1m5 0h2m3 0h1m1 0h1m1 0h1m16 0h1m1 0h1m15 0h2m8 0h1m3 0h1m1 0h1m1 0h1m8 0h1m19 0h1m7 0h1m11 0h3m6 0h1m7 0h1m15 0h1m2 0h1m4 0h1m6 0h3m4 0h1m5 0h1m1 0h3m10 0h1m-616 1h1m14 0h1m19 0h1m2 0h2m21 0h1m38 0h1m28 0h1m35 0h1m70 0h2m18 0h1m21 0h1m1 0h1m39 0h1m2 0h1m3 0h1m15 0h1m6 0h1m17 0h2m1 0h2m12 0h1m1 0h1m7 0h1m5 0h1m10 0h2m3 0h1m3 0h3m4 0h2m6 0h1m3 0h1m24 0h1m9 0h1m2 0h1m6 0h1m5 0h1m6 0h1m3 0h1m5 0h1m4 0h1m5 0h3m3 0h1m2 0h2m3 0h1m3 0h1m1 0h1m6 0h1m2 0h1m2 0h1m2 0h1m6 0h1m9 0h2m5 0h1m8 0h1m3 0h1m14 0h2m10 0h1m26 0h1m-644 1h1m24 0h2m5 0h1m93 0h1m18 0h1m1 0h1m2 0h1m18 0h1m36 0h1m26 0h1m3 0h1m5 0h1m4 0h2m9 0h1m22 0h1m7 0h2m7 0h1m8 0h1m2 0h1m7 0h1m20 0h1m2 0h2m7 0h2m9 0h2m11 0h1m16 0h1m10 0h1m9 0h1m2 0h1m7 0h1m1 0h2m13 0h2m8 0h1m17 0h1m2 0h1m9 0h2m9 0h1m3 0h1m3 0h1m5 0h1m3 0h1m3 0h1m1 0h1m4 0h1m2 0h1m6 0h1m1 0h1m1 0h1m3 0h1m8 0h1m14 0h1m2 0h2m3 0h1m9 0h1m4 0h2m1 0h1m1 0h1m6 0h2m2 0h1m-602 1h1m1 0h1m62 0h2m72 0h1m1 0h1m28 0h1m66 0h1m32 0h1m2 0h1m6 0h1m15 0h2m10 0h1m14 0h1m18 0h1m13 0h1m8 0h1m1 0h1m6 0h1m4 0h1m11 0h1m12 0h1m8 0h1m16 0h2m2 0h1m2 0h1m3 0h1m6 0h1m17 0h1m2 0h1m3 0h1m4 0h1m9 0h1m14 0h2m6 0h1m2 0h1m9 0h1m13 0h2m1 0h1m5 0h1m9 0h1m10 0h1m18 0h1m1 0h1m4 0h1m8 0h1m1 0h1m1 0h1m7 0h1m-593 1h1m5 0h1m5 0h1m10 0h1m18 0h1m55 0h1m25 0h1m7 0h1m2 0h1m6 0h1m6 0h2m27 0h1m1 0h2m34 0h2m25 0h1m2 0h2m23 0h1m7 0h1m2 0h1m6 0h1m13 0h2m1 0h1m13 0h1m6 0h1m7 0h2m5 0h1m5 0h2m3 0h1m3 0h2m2 0h1m11 0h2m1 0h1m2 0h3m3 0h2m2 0h1m5 0h1m6 0h1m9 0h2m5 0h2m3 0h1m4 0h1m2 0h1m8 0h1m7 0h1m7 0h1m5 0h1m3 0h1m1 0h1m7 0h1m6 0h1m5 0h2m1 0h2m6 0h1m6 0h1m10 0h1m2 0h1m12 0h1m9 0h3m5 0h1m4 0h1m5 0h2m6 0h1m-606 1h2m6 0h1m6 0h1m30 0h1m24 0h1m1 0h1m6 0h1m72 0h1m15 0h1m38 0h1m25 0h1m9 0h1m59 0h1m12 0h1m7 0h1m1 0h2m4 0h1m3 0h1m3 0h1m3 0h2m8 0h2m12 0h1m4 0h1m10 0h2m16 0h1m3 0h1m16 0h1m2 0h1m7 0h1m1 0h1m5 0h2m5 0h1m8 0h1m6 0h1m14 0h2m1 0h1m5 0h2m4 0h1m1 0h2m1 0h1m2 0h1m5 0h1m4 0h1m1 0h1m1 0h1m5 0h1m2 0h1m1 0h1m16 0h2m7 0h1m26 0h1m19 0h1m16 0h1m22 0h1m3 0h1m1 0h1m1 0h1m-650 1h1m2 0h2m9 0h1m24 0h1m3 0h1m38 0h1m26 0h1m23 0h1m25 0h1m20 0h1m25 0h1m26 0h1m8 0h1m15 0h1m3 0h3m3 0h1m2 0h1m9 0h1m2 0h1m3 0h1m21 0h1m4 0h1m13 0h2m19 0h1m2 0h1m3 0h1m14 0h1m14 0h1m15 0h1m1 0h1m5 0h2m6 0h2m4 0h1m16 0h1m9 0h2m1 0h1m3 0h1m2 0h1m7 0h1m2 0h1m4 0h1m1 0h1m4 0h2m8 0h2m11 0h1m2 0h1m5 0h1m1 0h1m4 0h1m9 0h1m3 0h1m4 0h1m1 0h1m3 0h1m13 0h1m2 0h1m2 0h1m12 0h2m1 0h1m1 0h1m9 0h1m2 0h2m6 0h3m2 0h1m4 0h1m4 0h1m-622 1h1m14 0h1m13 0h1m17 0h1m80 0h1m16 0h1m25 0h1m30 0h1m21 0h1m18 0h1m18 0h1m1 0h2m41 0h1m19 0h1m1 0h1m18 0h1m1 0h2m3 0h1m1 0h1m11 0h1m5 0h1m1 0h2m4 0h1m6 0h1m3 0h1m1 0h1m5 0h2m5 0h2m2 0h1m2 0h1m1 0h2m5 0h1m12 0h1m6 0h1m3 0h1m2 0h1m6 0h2m6 0h1m6 0h1m4 0h1m5 0h1m3 0h1m3 0h1m6 0h1m8 0h2m2 0h1m1 0h1m4 0h1m9 0h1m1 0h1m1 0h1m3 0h1m2 0h1m19 0h2m2 0h1m18 0h1m2 0h1m5 0h1m2 0h1m10 0h1m11 0h2m-621 1h1m13 0h1m142 0h1m63 0h2m4 0h1m12 0h1m22 0h1m18 0h1m24 0h1m31 0h1m11 0h1m14 0h1m3 0h1m4 0h1m1 0h1m9 0h1m1 0h3m15 0h1m11 0h1m1 0h1m13 0h1m3 0h1m5 0h1m12 0h2m16 0h1m8 0h1m2 0h1m1 0h1m7 0h1m2 0h2m5 0h2m3 0h1m3 0h1m12 0h1m5 0h1m9 0h6m7 0h1m1 0h1m20 0h2m6 0h1m8 0h2m7 0h1m2 0h2m31 0h1m-645 1h1m2 0h1m23 0h1m8 0h2m12 0h1m81 0h1m45 0h1m27 0h1m17 0h1m61 0h1m17 0h1m3 0h1m16 0h1m14 0h1m38 0h3m9 0h1m2 0h1m2 0h3m8 0h1m3 0h1m4 0h1m7 0h1m4 0h1m4 0h1m2 0h1m3 0h1m3 0h1m2 0h1m16 0h1m9 0h2m1 0h1m1 0h1m7 0h1m10 0h1m2 0h1m10 0h1m8 0h1m9 0h1m2 0h2m4 0h1m5 0h1m1 0h1m25 0h1m3 0h3m13 0h1m3 0h1m5 0h1m2 0h1m2 0h1m-613 1h1m2 0h1m16 0h2m27 0h1m1 0h1m90 0h1m2 0h2m12 0h1m8 0h1m2 0h1m65 0h1m2 0h1m2 0h2m10 0h1m38 0h1m9 0h1m4 0h1m15 0h1m19 0h1m17 0h1m4 0h1m1 0h1m3 0h2m6 0h1m6 0h1m8 0h1m9 0h1m10 0h1m12 0h1m4 0h4m6 0h1m3 0h1m12 0h1m20 0h1m10 0h2m22 0h3m3 0h1m4 0h3m4 0h2m2 0h1m1 0h1m8 0h1m10 0h1m10 0h1m23 0h2m43 0h2m-647 1h1m4 0h1m1 0h1m2 0h1m4 0h1m188 0h1m3 0h1m14 0h1m5 0h2m4 0h1m6 0h1m6 0h2m15 0h1m6 0h2m23 0h1m2 0h1m31 0h1m5 0h1m7 0h1m21 0h1m3 0h1m1 0h1m1 0h2m10 0h1m5 0h1m2 0h2m5 0h1m4 0h1m1 0h1m1 0h1m1 0h1m8 0h1m6 0h1m1 0h1m2 0h1m4 0h3m1 0h2m1 0h2m3 0h1m8 0h1m3 0h1m8 0h1m3 0h1m6 0h1m6 0h1m2 0h1m9 0h1m14 0h2m1 0h1m7 0h1m28 0h1m2 0h1m11 0h1m5 0h2m2 0h1m2 0h2m1 0h1m2 0h1m4 0h1m9 0h1m7 0h1m19 0h1m7 0h1m-643 1h1m145 0h1m12 0h1m44 0h1m18 0h1m4 0h1m38 0h1m26 0h1m18 0h2m13 0h2m8 0h1m1 0h2m7 0h1m9 0h2m10 0h3m7 0h1m11 0h1m2 0h1m1 0h2m1 0h2m2 0h1m10 0h1m7 0h1m5 0h1m7 0h2m1 0h2m2 0h2m9 0h3m6 0h1m2 0h2m3 0h1m7 0h4m1 0h1m6 0h1m4 0h1m16 0h1m1 0h1m1 0h1m6 0h1m5 0h1m4 0h1m1 0h2m6 0h1m1 0h1m2 0h1m3 0h1m2 0h1m3 0h1m8 0h2m11 0h1m8 0h1m8 0h2m-593 1h1m7 0h1m25 0h1m7 0h1m96 0h1m14 0h1m6 0h1m46 0h1m9 0h1m3 0h1m6 0h1m3 0h1m5 0h1m4 0h1m5 0h1m30 0h1m7 0h1m8 0h1m4 0h2m12 0h2m7 0h1m1 0h1m16 0h1m3 0h1m10 0h1m2 0h2m3 0h1m5 0h3m5 0h1m1 0h2m2 0h2m1 0h1m11 0h1m4 0h1m16 0h1m4 0h1m3 0h1m9 0h1m20 0h1m4 0h1m2 0h1m3 0h1m3 0h1m1 0h2m3 0h3m3 0h1m3 0h1m2 0h1m7 0h1m23 0h1m3 0h1m11 0h1m2 0h1m2 0h1m5 0h3m1 0h1m6 0h1m18 0h1m13 0h1m11 0h1m1 0h1m4 0h1m2 0h1m-638 1h1m5 0h1m19 0h1m19 0h1m105 0h1m14 0h1m16 0h1m33 0h2m41 0h1m37 0h1m41 0h1m1 0h1m3 0h1m2 0h1m4 0h1m23 0h2m2 0h1m8 0h1m7 0h1m12 0h2m14 0h4m2 0h1m6 0h1m2 0h1m5 0h1m15 0h1m6 0h1m12 0h1m4 0h2m1 0h1m1 0h1m5 0h1m2 0h1m8 0h1m3 0h1m4 0h1m7 0h2m5 0h1m1 0h1m3 0h2m5 0h1m6 0h2m3 0h2m2 0h1m2 0h1m4 0h1m1 0h1m54 0h1m2 0h1m-636 1h1m2 0h1m14 0h2m28 0h1m19 0h1m83 0h1m32 0h1m34 0h1m6 0h1m15 0h2m4 0h1m5 0h2m17 0h1m3 0h1m41 0h2m12 0h1m4 0h2m1 0h1m13 0h1m2 0h1m3 0h1m6 0h1m1 0h2m2 0h1m1 0h1m3 0h1m1 0h1m3 0h2m4 0h1m3 0h2m10 0h1m1 0h1m4 0h1m2 0h1m10 0h2m7 0h1m2 0h1m7 0h1m4 0h1m11 0h1m1 0h1m1 0h1m8 0h1m9 0h2m7 0h1m8 0h1m13 0h1m18 0h1m2 0h1m3 0h1m13 0h1m1 0h1m10 0h1m4 0h1m21 0h1m12 0h1m17 0h1m-638 1h1m2 0h1m10 0h1m3 0h1m3 0h1m28 0h1m3 0h1m71 0h2m21 0h1m39 0h1m30 0h2m2 0h1m16 0h1m1 0h1m1 0h2m10 0h1m17 0h1m8 0h1m49 0h1m1 0h1m5 0h1m8 0h1m7 0h1m1 0h1m4 0h1m6 0h1m8 0h1m1 0h1m1 0h1m3 0h1m3 0h1m6 0h1m2 0h1m5 0h1m12 0h1m1 0h1m15 0h2m4 0h1m4 0h1m5 0h1m5 0h1m3 0h1m5 0h2m14 0h1m1 0h1m4 0h1m3 0h1m16 0h1m1 0h1m36 0h1m3 0h1m5 0h1m2 0h2m3 0h2m4 0h1m3 0h2m8 0h1m25 0h1m5 0h1m-629 1h1m12 0h1m8 0h1m7 0h1m10 0h1m85 0h1m49 0h1m12 0h1m30 0h1m5 0h1m7 0h1m6 0h1m11 0h1m1 0h1m12 0h1m3 0h1m17 0h1m12 0h2m29 0h3m20 0h1m3 0h2m11 0h2m14 0h3m2 0h1m7 0h1m3 0h1m3 0h1m3 0h1m3 0h1m5 0h1m2 0h1m5 0h3m2 0h1m4 0h2m2 0h1m1 0h1m11 0h1m7 0h1m11 0h2m3 0h1m1 0h2m1 0h2m9 0h1m1 0h1m2 0h1m1 0h1m45 0h1m4 0h1m18 0h1m5 0h1m2 0h1m5 0h3m18 0h1m7 0h1m11 0h2m-621 1h1m1 0h1m18 0h1m118 0h1m24 0h2m41 0h1m23 0h1m12 0h1m5 0h2m1 0h2m17 0h1m17 0h1m9 0h2m10 0h1m4 0h1m9 0h1m15 0h3m7 0h1m3 0h1m3 0h2m3 0h1m9 0h1m1 0h1m1 0h1m3 0h1m3 0h1m6 0h1m19 0h1m5 0h1m10 0h1m1 0h1m6 0h1m2 0h3m3 0h2m2 0h1m3 0h1m5 0h1m3 0h1m4 0h2m8 0h1m2 0h1m2 0h1m6 0h1m2 0h1m2 0h2m18 0h2m2 0h2m1 0h1m1 0h1m10 0h1m5 0h1m1 0h1m16 0h3m36 0h4m8 0h3m-633 1h1m2 0h1m16 0h1m1 0h1m129 0h1m19 0h1m3 0h1m38 0h1m20 0h1m18 0h1m10 0h1m7 0h1m12 0h1m5 0h1m6 0h1m3 0h1m20 0h2m15 0h1m2 0h1m1 0h2m4 0h1m11 0h1m12 0h1m10 0h1m1 0h1m2 0h2m1 0h1m2 0h1m6 0h1m8 0h1m16 0h2m6 0h1m5 0h1m8 0h2m9 0h1m1 0h1m1 0h1m5 0h1m2 0h2m4 0h1m1 0h1m4 0h2m3 0h1m2 0h1m1 0h1m1 0h4m3 0h1m1 0h1m13 0h1m3 0h1m2 0h1m4 0h1m18 0h2m11 0h1m3 0h1m3 0h1m3 0h2m2 0h1m19 0h1m10 0h1m4 0h1m-623 1h1m25 0h1m218 0h2m5 0h2m3 0h1m31 0h1m8 0h1m7 0h1m7 0h1m30 0h1m2 0h3m9 0h1m10 0h1m3 0h1m8 0h1m4 0h1m8 0h1m1 0h1m1 0h2m2 0h2m6 0h1m2 0h1m4 0h1m3 0h2m10 0h1m5 0h1m4 0h1m5 0h3m2 0h1m2 0h1m5 0h1m8 0h4m1 0h3m4 0h1m3 0h1m2 0h1m30 0h1m4 0h1m6 0h1m8 0h1m1 0h2m3 0h1m3 0h1m1 0h1m5 0h1m10 0h1m24 0h1m15 0h2m-604 1h1m155 0h1m39 0h1m84 0h1m29 0h1m10 0h1m1 0h2m16 0h2m2 0h1m10 0h1m7 0h1m19 0h1m8 0h1m2 0h1m4 0h1m7 0h1m2 0h1m6 0h1m5 0h1m6 0h1m2 0h1m1 0h1m3 0h1m20 0h1m7 0h2m6 0h2m10 0h1m1 0h1m1 0h1m14 0h3m1 0h1m1 0h1m5 0h1m4 0h1m5 0h1m4 0h1m7 0h1m10 0h1m2 0h1m5 0h1m3 0h1m-598 1h1m2 0h1m151 0h1m1 0h2m92 0h1m14 0h2m7 0h2m1 0h1m8 0h1m4 0h2m5 0h1m10 0h1m1 0h1m15 0h1m4 0h1m4 0h1m12 0h1m6 0h1m3 0h2m3 0h3m8 0h1m1 0h1m20 0h1m3 0h1m6 0h1m5 0h1m5 0h1m2 0h2m1 0h1m7 0h1m3 0h1m3 0h1m6 0h1m2 0h1m7 0h1m6 0h1m3 0h1m3 0h1m16 0h1m19 0h1m3 0h1m17 0h3m32 0h1m9 0h1m4 0h1m36 0h1m-628 1h2m24 0h2m5 0h1m46 0h2m3 0h1m136 0h1m6 0h1m6 0h1m10 0h1m28 0h1m6 0h1m6 0h2m35 0h3m2 0h2m3 0h1m9 0h1m12 0h1m2 0h1m5 0h1m3 0h1m1 0h1m3 0h1m5 0h1m1 0h2m6 0h1m1 0h1m9 0h1m5 0h1m5 0h1m4 0h1m1 0h1m6 0h1m17 0h1m2 0h1m3 0h1m3 0h2m1 0h1m4 0h2m2 0h2m8 0h1m11 0h1m12 0h1m4 0h2m8 0h2m14 0h1m1 0h1m3 0h1m3 0h1m3 0h1m11 0h2m5 0h1m14 0h1m33 0h1m4 0h1m-621 1h1m19 0h1m7 0h1m42 0h1m106 0h1m38 0h3m58 0h1m4 0h1m1 0h1m12 0h1m6 0h1m16 0h1m5 0h1m1 0h1m7 0h1m8 0h1m6 0h1m11 0h1m13 0h1m1 0h1m4 0h1m6 0h1m4 0h2m4 0h1m2 0h1m19 0h1m9 0h1m3 0h2m6 0h1m11 0h3m2 0h1m5 0h1m2 0h1m2 0h1m4 0h1m8 0h2m1 0h1m9 0h1m3 0h1m8 0h1m9 0h1m9 0h1m4 0h1m1 0h1m1 0h1m3 0h2m23 0h1m13 0h1m3 0h1m25 0h3m5 0h1m-638 1h1m8 0h1m17 0h1m13 0h1m9 0h1m3 0h1m121 0h1m1 0h1m6 0h3m49 0h1m11 0h1m18 0h2m11 0h3m2 0h1m9 0h2m1 0h1m14 0h1m5 0h2m5 0h1m7 0h1m9 0h1m8 0h1m7 0h1m6 0h2m16 0h1m6 0h1m5 0h1m1 0h1m1 0h1m3 0h1m2 0h1m2 0h1m20 0h1m3 0h1m3 0h1m1 0h1m3 0h1m3 0h2m1 0h1m3 0h1m1 0h2m6 0h2m4 0h1m1 0h1m14 0h1m15 0h1m2 0h2m3 0h1m8 0h1m15 0h1m3 0h1m2 0h1m1 0h2m8 0h3m6 0h1m13 0h1m13 0h1m26 0h1m8 0h3m-638 1h2m38 0h1m2 0h1m11 0h2m117 0h1m6 0h1m3 0h1m1 0h1m47 0h2m6 0h1m2 0h1m15 0h1m6 0h1m17 0h1m22 0h2m5 0h1m6 0h1m5 0h1m29 0h2m1 0h1m10 0h1m6 0h3m5 0h2m25 0h1m1 0h1m1 0h2m1 0h1m14 0h1m12 0h2m13 0h1m16 0h1m8 0h1m2 0h1m11 0h1m9 0h2m3 0h2m6 0h1m38 0h1m8 0h1m1 0h1m10 0h1m1 0h1m3 0h1m1 0h1m26 0h1m-609 1h1m12 0h1m24 0h1m88 0h2m32 0h2m74 0h2m11 0h1m82 0h2m1 0h1m4 0h1m3 0h1m1 0h1m2 0h1m11 0h1m3 0h1m3 0h1m9 0h1m2 0h1m6 0h1m11 0h1m12 0h1m1 0h1m1 0h1m4 0h1m1 0h3m4 0h1m5 0h2m4 0h1m3 0h1m2 0h1m3 0h2m19 0h1m2 0h1m1 0h1m8 0h1m4 0h1m1 0h1m2 0h1m2 0h2m1 0h2m4 0h1m5 0h1m16 0h1m23 0h1m3 0h2m4 0h2m7 0h1m31 0h1m1 0h1m-584 1h1m5 0h1m104 0h1m17 0h1m3 0h1m3 0h1m59 0h1m23 0h1m13 0h1m27 0h2m1 0h1m9 0h1m7 0h1m1 0h1m9 0h2m1 0h1m4 0h1m2 0h1m3 0h2m7 0h1m2 0h2m5 0h1m3 0h1m3 0h1m8 0h1m3 0h1m4 0h1m2 0h2m6 0h1m11 0h1m6 0h2m2 0h1m1 0h1m3 0h1m30 0h1m2 0h1m4 0h2m1 0h1m9 0h2m1 0h1m7 0h1m11 0h1m3 0h1m3 0h1m3 0h1m13 0h1m2 0h1m5 0h1m2 0h1m2 0h2m5 0h1m18 0h1m8 0h1m5 0h1m23 0h2m7 0h1m4 0h1m-585 1h1m121 0h1m2 0h1m4 0h1m46 0h1m19 0h1m12 0h2m64 0h1m3 0h1m9 0h1m2 0h1m4 0h1m5 0h1m14 0h1m3 0h1m5 0h1m1 0h1m3 0h1m2 0h1m1 0h1m6 0h1m3 0h1m3 0h2m10 0h1m6 0h1m6 0h1m6 0h1m1 0h1m8 0h1m13 0h1m5 0h1m2 0h1m2 0h1m8 0h1m5 0h1m7 0h1m10 0h1m12 0h1m4 0h1m8 0h2m9 0h1m1 0h1m15 0h1m9 0h1m8 0h1m5 0h1m7 0h1m23 0h1m2 0h1m7 0h1m-484 1h1m13 0h1m26 0h1m1 0h1m53 0h1m30 0h1m11 0h1m4 0h1m6 0h1m3 0h1m2 0h1m3 0h1m2 0h1m10 0h1m2 0h1m1 0h1m5 0h1m15 0h2m2 0h1m8 0h1m4 0h2m3 0h1m4 0h1m5 0h2m1 0h2m6 0h2m9 0h1m5 0h1m2 0h1m1 0h2m3 0h1m4 0h1m1 0h2m3 0h1m1 0h1m1 0h1m1 0h1m8 0h1m29 0h1m16 0h2m3 0h1m4 0h1m5 0h2m1 0h2m2 0h1m8 0h1m5 0h1m11 0h1m10 0h1m5 0h1m6 0h1m7 0h1m15 0h2m27 0h2m2 0h2m-636 1h1m2 0h1m22 0h1m1 0h1m3 0h1m14 0h1m125 0h1m20 0h1m9 0h1m27 0h1m18 0h1m41 0h1m15 0h1m3 0h1m17 0h1m2 0h4m12 0h1m6 0h1m4 0h2m4 0h1m2 0h1m13 0h1m6 0h1m4 0h1m10 0h1m8 0h3m2 0h2m3 0h1m1 0h3m1 0h1m8 0h3m8 0h2m9 0h1m3 0h2m2 0h1m3 0h1m5 0h2m3 0h1m1 0h1m5 0h1m13 0h1m17 0h1m8 0h2m18 0h1m1 0h1m6 0h1m2 0h1m1 0h1m10 0h1m5 0h1m7 0h1m5 0h1m8 0h1m17 0h3m-605 1h1m3 0h1m2 0h1m12 0h1m1 0h1m4 0h1m113 0h2m39 0h1m24 0h1m3 0h1m8 0h1m15 0h1m22 0h1m10 0h2m7 0h1m3 0h1m1 0h1m4 0h1m12 0h2m3 0h1m4 0h3m2 0h1m2 0h1m35 0h1m1 0h1m2 0h1m16 0h2m6 0h2m11 0h2m3 0h1m2 0h1m3 0h1m1 0h1m5 0h1m13 0h2m6 0h1m2 0h1m26 0h1m5 0h1m2 0h1m2 0h1m14 0h3m7 0h1m2 0h1m7 0h1m4 0h1m2 0h1m5 0h1m5 0h2m22 0h1m12 0h1m19 0h1m3 0h1m9 0h1m-588 1h1m9 0h1m89 0h1m17 0h1m58 0h1m16 0h1m20 0h1m1 0h1m14 0h1m7 0h2m4 0h1m1 0h1m2 0h2m2 0h2m3 0h2m8 0h1m10 0h1m8 0h2m23 0h2m4 0h1m1 0h2m3 0h2m1 0h2m1 0h1m3 0h1m4 0h1m1 0h1m6 0h2m10 0h1m14 0h1m2 0h1m2 0h2m5 0h1m2 0h1m20 0h1m2 0h2m4 0h1m12 0h1m5 0h1m1 0h1m3 0h1m6 0h1m2 0h1m14 0h1m4 0h1m5 0h1m3 0h2m3 0h2m1 0h1m3 0h1m1 0h1m4 0h1m2 0h2m9 0h2m16 0h1m5 0h1m2 0h1m5 0h1m6 0h1m13 0h1m1 0h1m2 0h1m1 0h1m2 0h1m-635 1h1m15 0h1m32 0h1m99 0h2m15 0h1m30 0h1m9 0h1m30 0h1m11 0h1m31 0h1m24 0h1m7 0h1m3 0h1m4 0h1m7 0h1m2 0h1m7 0h2m7 0h1m2 0h1m2 0h1m1 0h1m3 0h1m3 0h3m4 0h1m2 0h2m1 0h1m2 0h1m2 0h1m4 0h1m3 0h1m1 0h1m2 0h2m11 0h1m1 0h1m4 0h1m3 0h1m3 0h1m2 0h1m6 0h1m3 0h1m8 0h1m1 0h1m1 0h1m6 0h1m25 0h1m1 0h1m4 0h1m3 0h3m6 0h1m1 0h2m2 0h1m18 0h1m2 0h2m25 0h1m21 0h1m4 0h1m8 0h1m2 0h1m10 0h1m3 0h1m3 0h2m9 0h1m-632 1h1m13 0h1m7 0h1m20 0h1m3 0h1m93 0h1m2 0h1m29 0h1m80 0h2m25 0h1m56 0h1m1 0h1m1 0h1m11 0h2m2 0h1m2 0h2m1 0h1m3 0h1m3 0h1m2 0h2m4 0h1m8 0h1m3 0h1m9 0h1m7 0h3m1 0h2m1 0h1m1 0h1m7 0h1m3 0h1m6 0h1m5 0h2m5 0h1m1 0h1m2 0h1m13 0h1m9 0h1m11 0h2m11 0h1m19 0h1m8 0h1m1 0h1m3 0h2m7 0h1m7 0h1m3 0h1m15 0h1m21 0h1m8 0h2m6 0h1m1 0h1m3 0h1m5 0h1m1 0h1m-631 1h1m1 0h1m16 0h1m119 0h1m20 0h1m15 0h1m2 0h1m59 0h1m3 0h1m3 0h2m23 0h1m18 0h1m1 0h1m2 0h2m4 0h1m2 0h2m3 0h2m2 0h1m2 0h1m2 0h1m8 0h1m6 0h1m3 0h1m17 0h1m8 0h1m4 0h3m1 0h1m5 0h1m2 0h1m2 0h1m1 0h1m5 0h3m3 0h1m4 0h2m11 0h1m6 0h1m10 0h1m4 0h2m2 0h1m2 0h1m1 0h1m1 0h1m5 0h1m1 0h1m8 0h1m4 0h1m4 0h2m7 0h1m1 0h1m22 0h1m8 0h1m3 0h1m1 0h1m15 0h1m3 0h1m4 0h1m1 0h1m6 0h1m16 0h1m28 0h1m7 0h1m6 0h1m-573 1h1m113 0h1m3 0h1m2 0h2m4 0h1m44 0h1m9 0h1m11 0h1m13 0h1m15 0h1m6 0h1m4 0h1m11 0h1m2 0h1m1 0h1m6 0h1m1 0h1m2 0h3m1 0h2m16 0h1m12 0h1m6 0h2m9 0h1m6 0h1m18 0h1m7 0h1m2 0h1m4 0h1m3 0h2m2 0h1m11 0h1m9 0h1m10 0h1m7 0h1m4 0h1m10 0h1m4 0h1m1 0h3m3 0h2m13 0h1m23 0h1m8 0h1m32 0h1m11 0h1m1 0h1m24 0h1m5 0h3m2 0h2m5 0h2m-637 1h1m19 0h1m7 0h1m1 0h1m10 0h1m4 0h1m2 0h1m62 0h1m73 0h1m23 0h1m2 0h1m34 0h1m3 0h1m14 0h1m3 0h1m6 0h2m3 0h1m10 0h3m32 0h1m4 0h1m3 0h1m1 0h1m3 0h1m7 0h1m13 0h1m2 0h1m6 0h1m9 0h1m1 0h2m7 0h1m7 0h1m13 0h1m1 0h1m7 0h1m3 0h1m6 0h2m8 0h1m1 0h1m7 0h1m7 0h1m2 0h1m5 0h2m1 0h1m2 0h1m1 0h1m8 0h1m2 0h1m1 0h1m7 0h1m4 0h1m5 0h1m3 0h1m7 0h1m1 0h1m6 0h1m14 0h1m4 0h1m13 0h1m4 0h1m7 0h1m7 0h1m1 0h1m1 0h1m8 0h1m5 0h1m2 0h1m2 0h2m14 0h1m-627 1h1m154 0h1m16 0h1m31 0h1m2 0h1m15 0h1m7 0h1m17 0h1m12 0h1m1 0h1m5 0h2m4 0h1m21 0h1m10 0h2m1 0h2m4 0h1m7 0h1m2 0h1m3 0h1m20 0h1m14 0h1m1 0h2m3 0h1m2 0h1m8 0h2m3 0h2m5 0h1m5 0h1m4 0h1m7 0h1m5 0h1m3 0h1m1 0h1m4 0h1m22 0h1m3 0h1m16 0h1m1 0h1m1 0h2m4 0h1m4 0h1m8 0h1m11 0h1m11 0h1m1 0h1m3 0h3m5 0h1m4 0h1m32 0h1m2 0h1m24 0h1m6 0h3m5 0h1m1 0h1m-618 1h1m8 0h1m2 0h1m5 0h1m10 0h1m96 0h1m21 0h2m5 0h1m6 0h2m65 0h1m24 0h1m1 0h1m8 0h1m5 0h1m4 0h1m1 0h1m1 0h2m8 0h2m1 0h1m7 0h2m1 0h1m1 0h1m2 0h1m26 0h1m3 0h1m5 0h2m3 0h1m1 0h1m4 0h1m5 0h1m3 0h1m6 0h1m2 0h1m2 0h2m7 0h1m5 0h1m1 0h2m1 0h2m1 0h1m6 0h2m9 0h1m1 0h1m2 0h2m10 0h1m1 0h2m6 0h1m1 0h3m6 0h1m6 0h1m13 0h1m4 0h1m16 0h2m6 0h1m10 0h1m3 0h1m11 0h1m10 0h1m2 0h1m12 0h2m11 0h1m3 0h3m3 0h1m3 0h1m4 0h2m6 0h1m3 0h1m6 0h1m-625 1h1m18 0h1m9 0h1m2 0h1m44 0h1m4 0h1m46 0h1m1 0h1m5 0h1m33 0h1m54 0h1m27 0h1m8 0h1m21 0h1m9 0h1m9 0h1m1 0h1m3 0h2m1 0h1m2 0h1m14 0h1m8 0h2m5 0h2m2 0h2m12 0h1m1 0h2m2 0h1m2 0h3m4 0h2m12 0h1m2 0h1m2 0h1m2 0h2m7 0h1m1 0h1m3 0h1m1 0h1m1 0h1m2 0h2m7 0h1m6 0h2m7 0h1m3 0h1m3 0h1m12 0h1m1 0h1m10 0h2m1 0h1m2 0h1m2 0h1m5 0h1m4 0h1m2 0h2m11 0h1m3 0h2m5 0h1m46 0h1m9 0h1m4 0h1m19 0h2m-621 1h1m2 0h1m5 0h1m8 0h1m1 0h1m6 0h1m98 0h1m1 0h1m2 0h1m46 0h1m48 0h1m50 0h1m5 0h1m3 0h1m3 0h1m2 0h1m3 0h1m5 0h2m8 0h2m1 0h1m7 0h1m5 0h1m13 0h2m9 0h1m1 0h2m5 0h1m3 0h1m7 0h1m34 0h1m2 0h1m2 0h1m8 0h1m2 0h1m5 0h1m1 0h2m16 0h1m6 0h1m7 0h1m1 0h1m3 0h2m7 0h1m4 0h1m14 0h1m10 0h2m3 0h1m2 0h1m4 0h1m4 0h2m12 0h1m5 0h1m8 0h1m16 0h1m4 0h1m10 0h1m8 0h1m1 0h1m9 0h1m2 0h1m1 0h1m-601 1h1m5 0h1m6 0h1m1 0h1m92 0h1m7 0h1m7 0h1m84 0h1m19 0h1m13 0h1m16 0h1m17 0h1m16 0h2m7 0h1m2 0h1m8 0h1m4 0h1m9 0h2m22 0h1m4 0h1m12 0h1m2 0h2m12 0h3m10 0h1m4 0h1m2 0h2m16 0h1m7 0h1m21 0h2m12 0h2m17 0h1m7 0h1m1 0h2m5 0h3m7 0h1m5 0h2m11 0h2m3 0h1m12 0h1m1 0h1m6 0h1m4 0h2m11 0h1m3 0h2m4 0h1m-622 1h1m2 0h1m4 0h1m2 0h1m10 0h1m4 0h1m42 0h1m67 0h1m14 0h1m28 0h1m76 0h1m2 0h1m8 0h1m32 0h1m9 0h2m4 0h1m4 0h1m2 0h1m12 0h1m13 0h2m2 0h2m12 0h2m8 0h1m5 0h1m7 0h1m3 0h1m7 0h2m5 0h1m1 0h1m2 0h2m7 0h1m6 0h1m15 0h1m3 0h1m6 0h1m4 0h2m3 0h1m1 0h1m6 0h1m4 0h1m5 0h1m3 0h1m1 0h1m14 0h1m8 0h1m4 0h1m3 0h1m19 0h1m1 0h1m21 0h1m4 0h1m1 0h1m7 0h1m27 0h2m1 0h1m4 0h1m-597 1h1m52 0h1m41 0h1m3 0h1m10 0h1m40 0h1m51 0h1m21 0h1m2 0h1m2 0h2m1 0h1m4 0h2m6 0h1m7 0h1m4 0h1m11 0h1m10 0h1m2 0h1m2 0h1m1 0h1m1 0h1m1 0h1m1 0h1m4 0h1m2 0h1m2 0h1m16 0h1m1 0h1m4 0h2m23 0h2m1 0h1m6 0h2m4 0h2m5 0h1m6 0h1m6 0h2m1 0h1m8 0h1m1 0h1m1 0h1m18 0h1m5 0h1m6 0h2m5 0h1m1 0h1m1 0h1m3 0h1m1 0h1m7 0h1m2 0h1m1 0h1m5 0h1m7 0h1m1 0h1m1 0h2m1 0h1m6 0h1m3 0h1m10 0h1m19 0h1m15 0h1m7 0h1m4 0h1m2 0h1m15 0h1m2 0h2m4 0h1m-609 1h1m6 0h1m5 0h1m6 0h1m9 0h1m95 0h1m2 0h1m6 0h1m2 0h1m82 0h1m6 0h2m2 0h1m7 0h1m5 0h1m2 0h2m20 0h1m6 0h1m17 0h1m5 0h1m1 0h1m11 0h1m1 0h2m2 0h1m17 0h1m1 0h1m5 0h1m7 0h1m4 0h1m7 0h1m7 0h1m1 0h2m6 0h1m5 0h1m2 0h2m4 0h1m6 0h1m5 0h1m2 0h2m3 0h1m1 0h1m7 0h1m3 0h1m3 0h1m3 0h1m23 0h1m9 0h1m15 0h2m8 0h1m15 0h1m9 0h1m12 0h1m7 0h1m3 0h1m11 0h1m5 0h1m1 0h1m3 0h2m15 0h1m10 0h1m-623 1h2m3 0h1m8 0h1m3 0h1m14 0h1m6 0h1m85 0h2m20 0h1m93 0h2m10 0h1m6 0h1m10 0h1m10 0h2m10 0h1m17 0h1m1 0h1m4 0h1m8 0h1m3 0h1m4 0h1m6 0h1m8 0h1m9 0h2m3 0h2m4 0h1m2 0h1m1 0h1m3 0h1m4 0h4m2 0h1m13 0h1m7 0h1m2 0h1m4 0h1m4 0h1m4 0h1m5 0h1m7 0h1m2 0h1m9 0h2m2 0h1m11 0h1m6 0h1m4 0h1m11 0h1m8 0h1m1 0h2m1 0h1m1 0h1m3 0h3m13 0h2m2 0h1m8 0h1m14 0h1m3 0h1m5 0h1m4 0h1m3 0h1m12 0h2m10 0h2m4 0h2m9 0h1m-616 1h1m4 0h1m4 0h1m2 0h1m13 0h1m202 0h1m2 0h2m20 0h1m16 0h1m10 0h1m5 0h2m13 0h2m6 0h1m5 0h1m13 0h3m1 0h1m6 0h1m9 0h1m23 0h2m1 0h1m7 0h1m5 0h1m3 0h1m1 0h1m5 0h1m22 0h1m4 0h1m11 0h1m5 0h2m1 0h1m12 0h4m8 0h1m11 0h1m2 0h1m7 0h1m4 0h2m2 0h2m4 0h1m4 0h1m9 0h1m10 0h1m13 0h2m2 0h1m3 0h1m5 0h1m5 0h1m4 0h3m11 0h2m-611 1h1m8 0h1m8 0h1m2 0h1m23 0h1m4 0h3m71 0h1m2 0h1m2 0h2m22 0h1m1 0h1m10 0h1m16 0h1m7 0h1m1 0h1m56 0h1m15 0h1m19 0h1m7 0h1m1 0h3m3 0h2m1 0h1m5 0h1m6 0h1m17 0h1m9 0h2m16 0h1m14 0h1m2 0h2m3 0h3m2 0h1m9 0h1m2 0h1m2 0h1m22 0h2m17 0h1m13 0h1m3 0h1m1 0h5m29 0h1m1 0h1m1 0h1m6 0h1m26 0h1m19 0h1m12 0h1m4 0h1m4 0h1m1 0h1m4 0h1m16 0h1m-607 1h1m15 0h1m4 0h1m1 0h1m143 0h1m13 0h1m3 0h1m7 0h1m32 0h1m1 0h1m28 0h1m4 0h1m38 0h2m3 0h2m3 0h2m2 0h1m4 0h2m9 0h1m18 0h1m3 0h1m1 0h2m3 0h1m17 0h1m1 0h2m8 0h1m8 0h1m16 0h1m10 0h1m7 0h2m3 0h1m1 0h3m8 0h2m5 0h1m6 0h1m29 0h1m3 0h3m3 0h1m5 0h1m10 0h1m15 0h1m33 0h1m12 0h1m4 0h1m5 0h1m5 0h1m3 0h2m6 0h2m1 0h1m-616 1h1m26 0h1m90 0h1m11 0h1m21 0h1m1 0h2m3 0h1m6 0h1m1 0h1m4 0h2m11 0h1m48 0h1m44 0h2m1 0h1m2 0h1m5 0h1m7 0h1m12 0h1m1 0h1m10 0h1m1 0h1m2 0h1m2 0h1m10 0h2m3 0h1m2 0h1m2 0h2m2 0h1m3 0h1m5 0h1m1 0h1m1 0h1m1 0h1m1 0h1m7 0h1m4 0h1m1 0h2m7 0h3m4 0h1m1 0h1m13 0h1m1 0h1m4 0h1m15 0h2m2 0h2m20 0h1m5 0h1m4 0h1m2 0h1m2 0h1m4 0h2m2 0h1m1 0h1m1 0h2m7 0h1m21 0h1m9 0h1m6 0h1m6 0h1m19 0h1m5 0h1m1 0h1m5 0h1m10 0h2m9 0h1m-610 1h1m9 0h2m1 0h1m4 0h1m7 0h1m119 0h1m7 0h2m6 0h1m1 0h1m16 0h1m36 0h1m22 0h1m4 0h1m1 0h1m27 0h1m1 0h4m12 0h1m7 0h1m2 0h1m20 0h1m11 0h4m5 0h1m8 0h1m3 0h1m4 0h1m5 0h2m15 0h1m11 0h2m19 0h1m8 0h1m7 0h1m2 0h1m3 0h1m12 0h1m2 0h1m12 0h1m6 0h1m2 0h1m2 0h1m5 0h1m4 0h1m3 0h1m5 0h1m12 0h3m14 0h1m6 0h1m3 0h1m1 0h1m3 0h1m3 0h1m2 0h1m1 0h1m3 0h1m1 0h1m16 0h1m6 0h1m4 0h2m3 0h2m2 0h2m-627 1h1m2 0h1m13 0h1m15 0h1m4 0h1m8 0h1m4 0h1m2 0h1m73 0h1m47 0h1m19 0h1m38 0h1m12 0h1m4 0h1m9 0h1m27 0h1m2 0h2m5 0h1m30 0h1m6 0h1m3 0h1m8 0h1m17 0h1m3 0h1m3 0h1m4 0h1m14 0h2m6 0h1m2 0h2m3 0h1m2 0h1m5 0h1m23 0h2m7 0h2m6 0h1m4 0h1m6 0h1m2 0h1m3 0h1m15 0h1m6 0h1m2 0h1m2 0h1m3 0h1m13 0h1m8 0h1m13 0h1m4 0h1m6 0h2m5 0h1m11 0h2m12 0h3m7 0h2m6 0h1m6 0h4m-625 1h1m14 0h1m12 0h1m1 0h1m13 0h1m11 0h1m68 0h1m2 0h1m2 0h1m11 0h1m5 0h1m22 0h1m5 0h3m57 0h3m10 0h1m7 0h1m2 0h1m16 0h1m3 0h1m4 0h2m13 0h1m9 0h1m4 0h1m11 0h1m1 0h1m2 0h1m5 0h1m2 0h2m4 0h1m7 0h2m4 0h1m1 0h1m4 0h1m5 0h1m5 0h1m2 0h1m6 0h2m1 0h2m1 0h3m8 0h2m6 0h1m22 0h1m1 0h1m14 0h1m16 0h1m3 0h1m6 0h1m5 0h1m16 0h1m2 0h1m16 0h1m10 0h1m5 0h1m8 0h1m2 0h1m15 0h1m12 0h2m17 0h1m1 0h1m2 0h1m4 0h1m-619 1h1m2 0h1m27 0h1m19 0h1m6 0h1m65 0h2m20 0h1m24 0h1m10 0h2m67 0h1m32 0h2m5 0h2m7 0h1m1 0h1m7 0h1m6 0h1m10 0h1m7 0h1m1 0h1m1 0h2m1 0h1m3 0h1m1 0h1m1 0h1m2 0h1m1 0h2m1 0h1m2 0h1m3 0h2m2 0h1m5 0h1m4 0h1m2 0h2m6 0h3m4 0h1m3 0h1m4 0h1m9 0h1m19 0h1m3 0h1m2 0h2m1 0h2m2 0h1m4 0h1m1 0h1m7 0h1m9 0h1m4 0h1m1 0h1m11 0h1m8 0h2m1 0h1m3 0h2m1 0h1m12 0h1m20 0h2m5 0h1m6 0h1m4 0h1m10 0h1m4 0h1m1 0h1m2 0h1m9 0h1m4 0h1m6 0h1m4 0h1m-612 1h2m8 0h1m1 0h1m4 0h1m2 0h3m3 0h1m19 0h1m4 0h1m22 0h1m52 0h1m3 0h1m28 0h1m5 0h1m8 0h1m55 0h1m20 0h1m2 0h1m1 0h1m22 0h1m5 0h1m17 0h1m6 0h2m6 0h1m5 0h2m4 0h2m8 0h2m1 0h1m1 0h2m3 0h2m2 0h1m6 0h2m6 0h1m11 0h1m6 0h3m1 0h1m9 0h2m7 0h1m27 0h2m15 0h1m7 0h1m5 0h1m6 0h2m7 0h1m4 0h1m6 0h1m3 0h3m5 0h1m1 0h1m2 0h1m11 0h2m22 0h1m3 0h1m4 0h1m1 0h1m4 0h1m20 0h1m1 0h1m2 0h1m7 0h1m3 0h1m8 0h1m-601 1h1m11 0h2m2 0h1m3 0h1m2 0h1m35 0h1m47 0h1m10 0h1m21 0h1m16 0h1m4 0h1m7 0h1m1 0h1m57 0h1m6 0h1m50 0h1m6 0h1m5 0h1m1 0h2m6 0h2m6 0h1m4 0h1m4 0h1m3 0h1m1 0h2m8 0h1m6 0h2m5 0h1m6 0h1m12 0h1m3 0h1m18 0h1m6 0h1m1 0h1m7 0h1m10 0h2m10 0h2m12 0h1m7 0h1m1 0h1m22 0h3m4 0h1m9 0h1m2 0h1m24 0h1m13 0h1m4 0h1m5 0h1m1 0h1m1 0h1m4 0h1m18 0h1m4 0h1m4 0h2m6 0h1m-621 1h1m7 0h1m17 0h1m1 0h1m1 0h1m92 0h1m9 0h1m6 0h1m14 0h1m33 0h1m51 0h1m17 0h1m18 0h1m9 0h1m1 0h1m2 0h1m5 0h1m8 0h1m10 0h1m2 0h1m2 0h1m2 0h2m12 0h1m1 0h1m5 0h1m8 0h1m3 0h1m3 0h2m2 0h1m1 0h1m5 0h1m2 0h1m8 0h2m4 0h4m3 0h1m6 0h2m14 0h1m1 0h1m12 0h1m10 0h1m2 0h1m6 0h1m5 0h1m5 0h1m5 0h1m8 0h1m5 0h1m4 0h1m7 0h3m1 0h1m1 0h1m2 0h1m2 0h1m5 0h1m10 0h1m6 0h1m3 0h1m2 0h2m13 0h1m1 0h1m4 0h1m9 0h1m3 0h1m2 0h1m17 0h1m2 0h1m-611 1h1m10 0h1m11 0h1m12 0h1m10 0h1m93 0h1m2 0h2m10 0h1m19 0h1m43 0h1m8 0h1m1 0h1m7 0h1m8 0h1m11 0h2m14 0h2m4 0h1m17 0h1m7 0h1m9 0h1m1 0h1m1 0h1m7 0h2m3 0h1m14 0h1m4 0h1m3 0h1m2 0h1m8 0h2m21 0h3m7 0h1m3 0h1m8 0h1m7 0h1m1 0h1m2 0h2m6 0h1m5 0h1m11 0h1m4 0h1m2 0h1m4 0h1m1 0h1m6 0h1m10 0h2m10 0h3m2 0h1m2 0h1m5 0h2m8 0h2m3 0h1m4 0h1m1 0h2m19 0h2m4 0h1m1 0h1m1 0h1m2 0h1m9 0h2m5 0h1m8 0h1m-588 1h1m8 0h1m7 0h1m3 0h1m2 0h1m22 0h1m28 0h2m32 0h1m3 0h1m12 0h1m7 0h1m3 0h1m6 0h1m16 0h3m50 0h1m2 0h2m1 0h1m10 0h1m3 0h1m4 0h2m1 0h1m29 0h2m10 0h1m3 0h1m3 0h1m1 0h1m1 0h3m1 0h2m3 0h1m8 0h1m7 0h2m4 0h1m13 0h1m1 0h1m1 0h1m2 0h2m4 0h1m2 0h3m1 0h1m2 0h1m2 0h2m1 0h2m6 0h1m2 0h1m14 0h1m4 0h1m2 0h1m20 0h1m2 0h1m6 0h1m7 0h1m6 0h1m4 0h1m6 0h2m4 0h1m1 0h1m5 0h1m6 0h1m3 0h1m5 0h1m14 0h1m2 0h2m2 0h3m5 0h2m9 0h1m7 0h1m5 0h1m7 0h1m11 0h1m2 0h1m4 0h1m1 0h1m7 0h1m13 0h1m-613 1h1m7 0h1m3 0h1m9 0h1m99 0h1m93 0h1m10 0h1m2 0h1m45 0h1m41 0h1m1 0h1m6 0h1m4 0h1m5 0h1m1 0h2m2 0h2m2 0h1m9 0h1m8 0h2m1 0h1m4 0h1m2 0h1m8 0h1m5 0h1m1 0h1m9 0h2m7 0h1m1 0h1m7 0h1m22 0h1m2 0h1m10 0h2m11 0h2m5 0h1m5 0h1m1 0h1m7 0h1m10 0h1m1 0h1m2 0h1m12 0h1m2 0h1m18 0h2m12 0h2m5 0h2m5 0h1m3 0h1m6 0h1m1 0h1m4 0h1m21 0h1m-576 1h1m10 0h1m12 0h1m3 0h1m71 0h1m3 0h1m4 0h1m64 0h1m5 0h1m12 0h1m6 0h1m24 0h1m4 0h1m3 0h1m2 0h1m10 0h1m5 0h2m9 0h2m2 0h1m2 0h1m8 0h2m11 0h4m1 0h1m1 0h1m1 0h1m8 0h4m7 0h1m1 0h1m15 0h1m2 0h1m1 0h1m1 0h1m2 0h1m5 0h1m5 0h1m4 0h1m1 0h1m16 0h1m2 0h1m10 0h1m1 0h1m3 0h1m1 0h1m10 0h1m5 0h1m5 0h1m18 0h1m4 0h1m8 0h1m5 0h1m3 0h1m4 0h1m5 0h1m8 0h1m9 0h1m2 0h1m3 0h1m1 0h1m8 0h1m4 0h2m12 0h1m5 0h1m2 0h1m2 0h1m7 0h2m2 0h1m7 0h1m1 0h1m3 0h1m-620 1h1m4 0h1m2 0h1m24 0h1m16 0h1m4 0h1m8 0h1m11 0h1m41 0h1m2 0h1m1 0h2m12 0h1m3 0h1m27 0h1m2 0h1m51 0h1m3 0h3m8 0h1m2 0h1m4 0h2m10 0h1m11 0h1m2 0h1m14 0h1m5 0h1m4 0h1m1 0h1m1 0h1m2 0h2m22 0h1m4 0h1m2 0h1m4 0h1m1 0h1m7 0h1m3 0h1m13 0h1m3 0h1m1 0h2m3 0h1m15 0h1m1 0h1m2 0h1m5 0h1m1 0h1m4 0h1m8 0h1m3 0h2m1 0h1m9 0h1m3 0h1m14 0h1m9 0h2m2 0h2m9 0h1m18 0h2m4 0h1m16 0h1m1 0h1m1 0h1m8 0h2m3 0h1m3 0h1m1 0h2m4 0h1m5 0h1m17 0h1m6 0h1m5 0h1m1 0h1m6 0h3m11 0h1m-627 1h1m10 0h1m1 0h1m27 0h1m43 0h1m41 0h1m8 0h1m6 0h1m6 0h1m4 0h1m25 0h1m40 0h2m3 0h1m1 0h2m15 0h1m8 0h1m15 0h1m1 0h1m4 0h1m3 0h1m5 0h1m3 0h1m7 0h2m6 0h1m10 0h1m10 0h1m8 0h1m5 0h1m1 0h1m3 0h1m1 0h2m9 0h1m3 0h1m5 0h1m1 0h1m2 0h1m3 0h1m6 0h2m5 0h2m2 0h1m8 0h1m7 0h1m2 0h1m1 0h1m1 0h1m1 0h2m6 0h1m8 0h1m11 0h1m7 0h1m7 0h1m2 0h1m2 0h1m11 0h1m8 0h1m7 0h1m2 0h2m3 0h2m2 0h2m1 0h1m6 0h2m4 0h2m11 0h1m1 0h1m5 0h1m3 0h1m5 0h2m17 0h1m10 0h1m6 0h1m-594 1h1m14 0h1m23 0h1m5 0h1m3 0h1m11 0h1m2 0h1m12 0h1m44 0h1m1 0h1m28 0h1m59 0h2m1 0h1m7 0h1m31 0h1m1 0h2m6 0h1m2 0h1m3 0h1m7 0h2m2 0h1m2 0h1m3 0h1m5 0h3m7 0h1m11 0h2m3 0h1m2 0h1m9 0h2m1 0h1m7 0h4m4 0h1m11 0h1m1 0h1m1 0h1m7 0h2m9 0h3m1 0h1m1 0h1m5 0h1m14 0h1m5 0h1m6 0h1m2 0h1m2 0h2m10 0h1m3 0h1m7 0h2m7 0h1m1 0h1m15 0h1m5 0h2m2 0h1m7 0h1m3 0h1m11 0h2m3 0h1m1 0h1m5 0h1m1 0h1m1 0h1m12 0h1m1 0h1m16 0h1m2 0h1m9 0h1m5 0h2m3 0h2m14 0h3m2 0h1m-618 1h1m22 0h2m37 0h1m3 0h2m6 0h1m1 0h1m36 0h1m10 0h1m13 0h1m2 0h1m74 0h2m1 0h1m24 0h3m8 0h1m1 0h1m5 0h2m8 0h2m7 0h1m2 0h1m9 0h2m6 0h1m32 0h3m1 0h1m4 0h1m1 0h1m1 0h1m3 0h1m3 0h1m10 0h1m2 0h1m10 0h1m8 0h1m3 0h1m6 0h1m1 0h1m6 0h1m11 0h1m9 0h2m10 0h2m10 0h1m7 0h1m1 0h1m2 0h1m2 0h1m19 0h1m18 0h1m11 0h1m10 0h1m2 0h1m3 0h1m1 0h1m6 0h2m34 0h1m1 0h1m7 0h2m1 0h1m1 0h1m3 0h1m1 0h1m1 0h1m5 0h2m-617 1h1m7 0h1m9 0h1m5 0h2m39 0h1m9 0h1m34 0h1m18 0h1m4 0h1m8 0h1m26 0h1m42 0h1m3 0h1m45 0h1m6 0h1m23 0h1m7 0h1m4 0h1m2 0h1m8 0h1m7 0h1m2 0h1m4 0h1m3 0h1m5 0h2m3 0h3m13 0h1m1 0h2m7 0h1m25 0h1m1 0h1m1 0h2m4 0h1m2 0h2m2 0h1m12 0h2m1 0h1m1 0h2m10 0h1m10 0h1m2 0h1m5 0h2m2 0h2m12 0h1m2 0h1m6 0h1m5 0h2m1 0h2m3 0h1m1 0h1m1 0h1m3 0h1m7 0h1m10 0h1m10 0h2m5 0h2m7 0h1m12 0h1m4 0h1m1 0h2m1 0h1m3 0h1m2 0h1m10 0h1m7 0h1m-614 1h1m9 0h1m14 0h1m142 0h1m42 0h1m10 0h1m22 0h1m4 0h1m22 0h2m9 0h1m3 0h1m12 0h1m2 0h1m51 0h1m1 0h1m8 0h4m3 0h1m7 0h1m7 0h2m2 0h1m7 0h1m1 0h1m6 0h1m10 0h1m2 0h1m3 0h1m2 0h1m2 0h1m19 0h1m2 0h3m1 0h2m4 0h1m8 0h1m2 0h1m3 0h1m5 0h1m5 0h1m1 0h1m10 0h1m1 0h1m4 0h1m3 0h1m7 0h1m1 0h1m5 0h1m3 0h2m4 0h1m6 0h1m7 0h1m2 0h1m11 0h1m4 0h1m1 0h1m4 0h1m6 0h1m11 0h1m2 0h1m-608 1h1m3 0h1m2 0h1m6 0h1m1 0h1m5 0h1m10 0h1m93 0h1m22 0h1m10 0h1m41 0h1m1 0h1m5 0h1m10 0h1m11 0h1m7 0h1m20 0h2m10 0h1m8 0h2m4 0h1m30 0h1m2 0h1m2 0h1m6 0h1m1 0h2m2 0h1m3 0h1m3 0h1m2 0h1m1 0h1m2 0h1m3 0h1m1 0h3m3 0h2m3 0h2m25 0h1m3 0h1m13 0h1m3 0h1m5 0h2m18 0h1m3 0h1m5 0h2m6 0h2m3 0h1m2 0h2m12 0h1m4 0h1m5 0h1m7 0h1m2 0h1m10 0h1m2 0h2m13 0h1m8 0h1m5 0h1m2 0h1m6 0h1m17 0h1m4 0h2m2 0h1m1 0h1m7 0h1m2 0h2m2 0h1m1 0h1m-502 1h1m24 0h1m5 0h1m11 0h1m51 0h1m5 0h1m2 0h1m38 0h1m6 0h1m16 0h1m4 0h1m4 0h1m6 0h2m4 0h1m5 0h1m1 0h2m10 0h1m1 0h2m13 0h2m6 0h1m5 0h1m1 0h2m2 0h1m3 0h1m3 0h2m3 0h1m7 0h1m3 0h1m3 0h1m4 0h2m7 0h2m17 0h1m3 0h2m4 0h2m5 0h1m7 0h1m4 0h1m3 0h1m9 0h1m1 0h1m7 0h1m12 0h1m3 0h1m4 0h1m4 0h1m20 0h1m5 0h1m1 0h1m11 0h2m4 0h1m4 0h1m5 0h1m3 0h2m9 0h1m1 0h2m3 0h1m7 0h1m3 0h2m10 0h1m-608 1h1m1 0h1m2 0h1m22 0h1m1 0h1m2 0h1m44 0h1m91 0h1m20 0h1m25 0h2m8 0h1m54 0h3m4 0h2m3 0h1m8 0h1m1 0h2m2 0h1m12 0h1m3 0h2m2 0h2m1 0h2m1 0h1m3 0h1m5 0h1m1 0h1m1 0h2m3 0h1m1 0h1m2 0h1m3 0h1m1 0h1m1 0h1m3 0h1m1 0h1m6 0h1m2 0h2m7 0h2m2 0h1m6 0h1m5 0h1m6 0h1m1 0h1m1 0h1m8 0h1m5 0h1m5 0h1m9 0h1m5 0h1m4 0h1m4 0h1m5 0h1m4 0h1m5 0h2m3 0h1m2 0h1m9 0h1m3 0h1m14 0h1m3 0h2m2 0h1m2 0h1m4 0h1m1 0h1m8 0h1m1 0h2m9 0h1m11 0h1m1 0h1m1 0h1m10 0h1m3 0h1m5 0h1m3 0h1m12 0h1m-626 1h1m15 0h2m70 0h1m46 0h1m43 0h1m17 0h1m23 0h1m2 0h1m18 0h1m7 0h1m3 0h1m6 0h1m11 0h1m3 0h1m12 0h1m12 0h2m3 0h1m2 0h4m3 0h1m2 0h1m8 0h2m4 0h1m4 0h1m1 0h1m4 0h2m7 0h2m6 0h3m7 0h1m5 0h1m7 0h1m3 0h1m7 0h3m9 0h2m4 0h2m6 0h1m1 0h1m6 0h5m3 0h1m9 0h2m5 0h1m8 0h1m17 0h1m2 0h2m4 0h1m2 0h1m3 0h1m10 0h1m1 0h1m1 0h2m2 0h1m5 0h1m2 0h1m12 0h1m4 0h3m1 0h3m12 0h1m4 0h1m3 0h1m3 0h1m4 0h1m3 0h1m3 0h1m2 0h1m7 0h1m4 0h1m11 0h1m1 0h1m-622 1h1m5 0h1m6 0h3m8 0h1m2 0h1m11 0h1m8 0h1m95 0h1m40 0h2m17 0h2m43 0h1m15 0h2m11 0h1m9 0h1m5 0h1m4 0h1m3 0h1m8 0h3m17 0h1m1 0h1m1 0h1m22 0h2m3 0h2m2 0h1m1 0h1m4 0h1m3 0h1m8 0h1m5 0h1m3 0h2m15 0h1m6 0h1m11 0h1m3 0h1m8 0h2m2 0h1m15 0h1m3 0h1m1 0h1m7 0h4m13 0h1m8 0h1m1 0h1m1 0h1m2 0h2m6 0h1m2 0h2m17 0h1m4 0h1m7 0h1m38 0h1m7 0h1m2 0h1m5 0h1m-604 1h1m4 0h1m8 0h1m3 0h2m11 0h1m11 0h2m23 0h1m52 0h1m94 0h1m5 0h1m3 0h1m20 0h1m5 0h1m2 0h2m3 0h1m7 0h1m8 0h1m2 0h1m1 0h1m7 0h1m2 0h1m3 0h1m10 0h1m9 0h1m1 0h1m4 0h1m2 0h1m9 0h1m3 0h1m6 0h3m6 0h1m1 0h2m3 0h1m3 0h1m2 0h1m3 0h1m1 0h1m4 0h1m1 0h1m2 0h1m3 0h1m4 0h1m28 0h1m1 0h1m1 0h1m3 0h1m6 0h1m2 0h1m1 0h1m5 0h1m4 0h1m2 0h1m2 0h1m12 0h1m16 0h2m8 0h1m3 0h1m9 0h1m1 0h1m3 0h1m11 0h1m4 0h1m1 0h2m2 0h1m2 0h1m4 0h1m12 0h2m2 0h1m7 0h3m2 0h2m16 0h1m2 0h1m3 0h1m2 0h1m-623 1h1m8 0h2m8 0h1m4 0h1m12 0h1m31 0h1m161 0h1m17 0h1m23 0h1m2 0h1m1 0h1m11 0h1m3 0h1m2 0h1m1 0h1m1 0h1m9 0h1m2 0h1m1 0h1m1 0h4m8 0h1m7 0h2m1 0h3m1 0h1m2 0h1m6 0h1m3 0h1m5 0h1m2 0h4m1 0h1m2 0h1m2 0h1m3 0h1m14 0h1m8 0h2m5 0h1m3 0h2m1 0h1m4 0h1m4 0h2m2 0h2m3 0h1m11 0h1m1 0h1m18 0h1m2 0h2m8 0h4m7 0h1m3 0h2m4 0h1m8 0h1m1 0h2m1 0h1m10 0h1m4 0h1m6 0h2m3 0h1m19 0h1m12 0h1m8 0h1m31 0h1m-630 1h1m9 0h1m8 0h1m6 0h1m19 0h1m50 0h1m43 0h1m107 0h1m3 0h1m30 0h1m13 0h1m2 0h1m2 0h1m1 0h1m15 0h1m2 0h2m8 0h1m3 0h2m22 0h1m11 0h1m6 0h1m9 0h1m8 0h1m1 0h2m1 0h1m5 0h1m3 0h1m11 0h1m14 0h2m4 0h1m6 0h1m1 0h2m2 0h1m18 0h2m8 0h1m2 0h2m2 0h2m6 0h1m9 0h1m3 0h1m2 0h1m21 0h1m16 0h1m3 0h1m11 0h2m3 0h1m4 0h2m4 0h3m1 0h2m2 0h1m10 0h1m5 0h1m3 0h1m2 0h1m2 0h3m-622 1h1m2 0h1m36 0h1m46 0h1m101 0h2m34 0h1m7 0h1m15 0h3m2 0h1m13 0h1m1 0h2m1 0h1m3 0h2m20 0h1m1 0h2m2 0h1m1 0h1m1 0h1m10 0h3m2 0h1m2 0h1m1 0h2m1 0h3m4 0h2m7 0h1m20 0h2m6 0h3m4 0h1m11 0h1m4 0h1m3 0h1m6 0h1m3 0h1m1 0h1m16 0h1m1 0h1m9 0h3m7 0h1m5 0h1m2 0h2m3 0h1m1 0h2m10 0h1m1 0h1m2 0h1m2 0h1m1 0h1m5 0h1m7 0h1m12 0h1m7 0h1m17 0h1m8 0h1m11 0h3m4 0h1m2 0h1m4 0h1m8 0h1m6 0h2m2 0h1m2 0h1m2 0h1m7 0h1m-620 1h1m1 0h1m6 0h1m7 0h1m10 0h2m5 0h1m69 0h1m24 0h1m47 0h1m7 0h1m46 0h1m17 0h1m12 0h1m9 0h2m17 0h1m4 0h1m1 0h1m4 0h1m1 0h1m2 0h3m3 0h1m4 0h1m12 0h1m3 0h1m4 0h2m5 0h1m5 0h1m6 0h1m1 0h2m3 0h1m18 0h1m4 0h1m17 0h1m2 0h2m1 0h2m11 0h1m4 0h2m5 0h1m1 0h1m2 0h1m2 0h1m1 0h1m2 0h2m14 0h2m5 0h1m4 0h1m2 0h1m7 0h3m1 0h1m2 0h1m4 0h2m12 0h2m2 0h1m10 0h1m8 0h1m3 0h1m3 0h1m8 0h1m2 0h1m1 0h1m1 0h1m3 0h1m6 0h1m6 0h1m4 0h1m1 0h1m8 0h1m5 0h1m7 0h2m-617 1h2m1 0h1m10 0h1m24 0h1m42 0h1m47 0h1m40 0h2m10 0h2m7 0h1m32 0h2m3 0h1m3 0h1m13 0h1m1 0h2m14 0h1m5 0h1m2 0h1m11 0h1m4 0h2m1 0h1m1 0h1m1 0h2m6 0h1m6 0h1m1 0h4m6 0h2m2 0h1m2 0h1m4 0h1m6 0h1m3 0h1m2 0h1m10 0h1m10 0h1m2 0h1m1 0h1m1 0h1m2 0h1m4 0h2m1 0h1m8 0h1m8 0h1m2 0h1m3 0h1m10 0h1m1 0h1m5 0h1m18 0h1m3 0h3m1 0h1m1 0h1m6 0h1m3 0h1m20 0h1m1 0h2m23 0h1m23 0h1m4 0h1m9 0h1m18 0h2m1 0h1m5 0h1m1 0h1m5 0h1m-607 1h2m9 0h1m12 0h1m87 0h2m69 0h1m89 0h1m1 0h1m4 0h1m5 0h1m8 0h2m10 0h1m19 0h1m7 0h1m7 0h1m2 0h1m1 0h1m5 0h1m1 0h1m13 0h1m5 0h1m7 0h1m2 0h1m1 0h1m1 0h2m3 0h1m1 0h1m14 0h1m3 0h1m2 0h1m10 0h3m4 0h1m1 0h1m5 0h1m13 0h1m1 0h1m2 0h2m1 0h2m15 0h1m1 0h1m21 0h1m9 0h1m1 0h1m3 0h2m3 0h1m11 0h1m2 0h1m2 0h1m2 0h1m4 0h1m1 0h1m9 0h1m1 0h1m5 0h1m13 0h1m1 0h1m16 0h1m3 0h4m2 0h1m1 0h1m5 0h1m-629 1h1m74 0h1m1 0h1m95 0h1m10 0h1m91 0h1m5 0h1m7 0h1m1 0h1m4 0h1m3 0h1m4 0h2m7 0h2m6 0h2m4 0h2m1 0h1m5 0h1m3 0h3m10 0h1m1 0h1m4 0h1m3 0h1m1 0h1m7 0h3m2 0h1m5 0h1m9 0h1m4 0h1m6 0h2m5 0h1m1 0h1m6 0h2m9 0h2m5 0h1m2 0h1m3 0h2m18 0h1m1 0h1m2 0h1m1 0h1m2 0h1m5 0h2m2 0h2m3 0h2m10 0h2m9 0h1m5 0h1m8 0h2m12 0h1m4 0h1m1 0h1m8 0h4m3 0h1m21 0h1m1 0h1m13 0h2m16 0h2m-630 1h1m27 0h1m12 0h1m38 0h1m23 0h1m32 0h1m4 0h1m30 0h1m4 0h1m96 0h2m3 0h1m3 0h1m14 0h1m3 0h1m3 0h2m2 0h3m2 0h1m8 0h1m2 0h3m2 0h2m3 0h1m3 0h1m7 0h1m3 0h1m8 0h1m2 0h1m1 0h1m5 0h1m11 0h2m2 0h1m5 0h1m4 0h1m1 0h1m3 0h2m1 0h1m7 0h2m4 0h1m2 0h1m9 0h1m3 0h1m11 0h1m10 0h1m4 0h1m12 0h1m2 0h1m2 0h3m2 0h1m3 0h1m6 0h2m1 0h1m24 0h1m3 0h1m2 0h1m8 0h1m2 0h1m6 0h1m2 0h1m1 0h1m2 0h1m8 0h2m23 0h2m5 0h1m7 0h1m-594 1h1m6 0h1m8 0h1m70 0h1m84 0h1m62 0h1m5 0h2m20 0h1m2 0h2m9 0h1m1 0h1m2 0h2m5 0h1m7 0h1m6 0h1m5 0h1m2 0h1m4 0h1m5 0h1m4 0h1m16 0h1m3 0h1m10 0h1m4 0h3m3 0h3m6 0h1m1 0h2m12 0h1m3 0h1m4 0h1m1 0h2m4 0h1m5 0h1m1 0h1m1 0h1m1 0h1m4 0h1m4 0h1m1 0h1m4 0h1m5 0h1m1 0h1m4 0h1m1 0h2m5 0h1m1 0h1m1 0h1m4 0h1m2 0h1m11 0h1m1 0h1m6 0h1m21 0h2m3 0h2m1 0h2m8 0h1m8 0h2m36 0h1m2 0h1m6 0h1m4 0h1m5 0h1m-624 1h1m5 0h1m11 0h1m50 0h1m43 0h1m67 0h1m4 0h1m48 0h1m23 0h2m3 0h1m1 0h1m12 0h1m2 0h3m11 0h1m11 0h1m2 0h3m15 0h1m7 0h1m10 0h1m1 0h1m17 0h1m5 0h1m1 0h1m3 0h1m15 0h1m4 0h1m9 0h1m1 0h1m6 0h1m2 0h1m7 0h1m3 0h1m1 0h1m5 0h1m11 0h1m10 0h1m2 0h1m6 0h1m7 0h1m9 0h1m3 0h1m4 0h1m1 0h1m5 0h1m4 0h1m1 0h1m2 0h1m2 0h1m5 0h1m1 0h1m5 0h2m1 0h1m4 0h1m6 0h1m16 0h2m18 0h1m5 0h1m14 0h1m5 0h1m2 0h1m-618 1h1m1 0h1m16 0h1m16 0h1m31 0h1m33 0h1m4 0h1m38 0h1m21 0h1m55 0h1m6 0h1m25 0h1m4 0h1m2 0h4m3 0h2m1 0h1m3 0h1m2 0h1m6 0h1m10 0h1m4 0h1m14 0h1m5 0h1m1 0h1m10 0h3m2 0h1m2 0h1m1 0h1m4 0h1m3 0h1m3 0h2m2 0h2m2 0h1m1 0h1m4 0h2m11 0h1m4 0h1m6 0h1m3 0h2m2 0h1m4 0h1m5 0h1m3 0h1m3 0h3m3 0h1m2 0h1m2 0h2m2 0h1m11 0h2m2 0h1m3 0h1m4 0h1m3 0h1m7 0h1m6 0h1m10 0h2m1 0h1m6 0h1m1 0h2m5 0h2m5 0h2m1 0h1m7 0h1m2 0h2m2 0h1m9 0h1m1 0h1m8 0h2m2 0h1m16 0h1m10 0h1m9 0h1m11 0h1m-628 1h1m23 0h1m51 0h1m109 0h1m59 0h2m1 0h2m1 0h1m11 0h1m6 0h1m1 0h1m5 0h1m5 0h1m15 0h2m1 0h1m2 0h1m4 0h1m3 0h1m4 0h1m10 0h1m3 0h1m2 0h1m6 0h1m1 0h2m3 0h2m2 0h2m2 0h1m3 0h2m3 0h1m1 0h1m2 0h3m9 0h1m4 0h2m2 0h3m6 0h1m4 0h1m3 0h1m6 0h1m2 0h1m4 0h1m1 0h1m2 0h1m2 0h1m4 0h1m3 0h1m2 0h1m11 0h2m1 0h1m9 0h1m8 0h1m5 0h2m2 0h2m5 0h1m8 0h1m1 0h1m3 0h1m4 0h1m10 0h1m2 0h1m5 0h1m3 0h1m3 0h2m3 0h1m2 0h1m12 0h1m3 0h2m17 0h1m13 0h1m-602 1h1m1 0h3m4 0h1m2 0h1m6 0h1m8 0h1m47 0h1m15 0h1m59 0h1m33 0h2m39 0h1m16 0h1m13 0h1m18 0h1m4 0h1m5 0h1m3 0h1m2 0h1m13 0h1m7 0h1m17 0h1m13 0h1m1 0h1m7 0h1m2 0h1m3 0h1m10 0h1m2 0h1m14 0h1m8 0h4m2 0h1m6 0h2m13 0h2m3 0h1m6 0h1m1 0h1m2 0h1m4 0h1m3 0h3m4 0h1m60 0h1m10 0h3m8 0h1m2 0h1m4 0h2m1 0h1m2 0h1m3 0h1m1 0h1m6 0h1m6 0h1m2 0h2m6 0h1m10 0h1m10 0h1m-612 1h1m10 0h1m1 0h1m8 0h1m36 0h1m117 0h3m12 0h1m1 0h1m33 0h1m30 0h1m3 0h4m2 0h1m4 0h1m8 0h1m23 0h1m12 0h1m4 0h1m4 0h1m7 0h1m4 0h4m4 0h1m2 0h1m5 0h3m9 0h5m2 0h1m3 0h1m5 0h2m17 0h1m4 0h1m3 0h1m18 0h1m6 0h1m1 0h2m1 0h2m6 0h2m3 0h1m4 0h1m2 0h3m5 0h1m5 0h1m6 0h1m2 0h1m4 0h1m15 0h1m5 0h1m1 0h1m4 0h1m8 0h1m3 0h2m9 0h1m2 0h2m2 0h1m20 0h1m4 0h1m10 0h2m6 0h1m12 0h1m-613 1h1m17 0h1m2 0h1m64 0h1m3 0h1m19 0h1m3 0h1m51 0h1m5 0h1m7 0h1m1 0h1m2 0h1m63 0h1m11 0h1m2 0h1m4 0h1m6 0h1m4 0h2m1 0h1m12 0h1m1 0h1m10 0h1m2 0h1m2 0h2m1 0h1m4 0h2m3 0h1m3 0h1m7 0h2m7 0h1m3 0h1m1 0h1m2 0h1m8 0h1m7 0h1m7 0h1m4 0h1m1 0h1m6 0h1m1 0h1m3 0h1m8 0h1m2 0h1m4 0h1m1 0h1m9 0h1m6 0h2m7 0h1m6 0h1m5 0h1m15 0h1m9 0h1m6 0h1m10 0h3m1 0h1m26 0h1m1 0h1m8 0h1m2 0h3m2 0h1m19 0h1m1 0h1m3 0h2m7 0h1m1 0h1m5 0h1m6 0h1m-601 1h2m3 0h1m49 0h1m1 0h2m23 0h1m78 0h1m81 0h1m9 0h1m10 0h2m10 0h1m7 0h1m13 0h4m7 0h1m4 0h2m6 0h1m2 0h2m2 0h1m5 0h1m1 0h1m11 0h1m3 0h1m8 0h2m3 0h1m3 0h1m1 0h1m1 0h1m3 0h1m1 0h2m16 0h1m1 0h1m5 0h1m13 0h2m21 0h1m19 0h1m7 0h1m1 0h1m6 0h1m14 0h1m5 0h1m3 0h1m2 0h1m2 0h1m7 0h1m2 0h1m5 0h1m16 0h2m4 0h1m7 0h1m8 0h1m13 0h1m15 0h1m-549 1h2m11 0h1m74 0h1m22 0h1m12 0h1m47 0h1m29 0h1m2 0h1m1 0h1m8 0h1m23 0h2m4 0h1m4 0h1m3 0h1m6 0h1m3 0h1m1 0h1m3 0h1m4 0h2m2 0h1m1 0h1m4 0h1m14 0h1m4 0h1m1 0h1m1 0h1m2 0h2m5 0h1m7 0h1m9 0h1m5 0h3m1 0h2m9 0h2m4 0h1m11 0h1m3 0h1m2 0h1m1 0h1m3 0h1m5 0h1m13 0h1m7 0h1m5 0h2m1 0h1m3 0h1m13 0h3m1 0h1m20 0h1m5 0h1m5 0h1m2 0h1m1 0h1m1 0h1m11 0h1m4 0h1m1 0h2m17 0h1m17 0h1m2 0h1m-579 1h1m31 0h1m21 0h2m80 0h1m55 0h1m45 0h1m3 0h1m3 0h1m18 0h1m4 0h2m14 0h1m9 0h1m4 0h1m6 0h1m3 0h1m5 0h1m4 0h1m5 0h2m1 0h1m1 0h1m1 0h1m4 0h2m1 0h1m4 0h1m17 0h2m1 0h1m7 0h1m14 0h1m2 0h1m1 0h1m8 0h1m9 0h1m5 0h1m1 0h2m11 0h2m5 0h1m1 0h1m7 0h1m26 0h3m2 0h1m3 0h2m3 0h1m13 0h1m3 0h1m5 0h1m8 0h1m1 0h1m11 0h1m8 0h1m8 0h2m6 0h1m6 0h1m-606 1h1m7 0h1m27 0h1m13 0h1m3 0h1m11 0h1m1 0h1m13 0h1m33 0h1m48 0h1m72 0h1m19 0h2m8 0h1m1 0h1m3 0h1m3 0h1m1 0h1m12 0h2m3 0h1m7 0h1m30 0h1m1 0h1m1 0h1m11 0h2m7 0h1m1 0h1m9 0h2m1 0h1m2 0h1m3 0h1m1 0h1m1 0h2m2 0h1m1 0h2m2 0h1m1 0h1m6 0h1m12 0h2m2 0h1m19 0h1m21 0h1m5 0h1m4 0h3m3 0h1m2 0h1m5 0h1m13 0h2m10 0h1m2 0h1m22 0h1m9 0h1m3 0h1m8 0h1m3 0h1m4 0h1m5 0h3m4 0h1m3 0h1m5 0h2m1 0h1m3 0h1m-606 1h1m1 0h1m4 0h1m8 0h1m22 0h1m25 0h1m78 0h1m76 0h1m31 0h1m3 0h2m7 0h1m4 0h1m1 0h1m1 0h1m1 0h1m14 0h1m7 0h1m1 0h2m1 0h1m2 0h2m5 0h3m7 0h2m3 0h2m6 0h1m2 0h1m6 0h1m6 0h1m6 0h1m12 0h1m2 0h1m5 0h1m1 0h1m8 0h2m1 0h2m1 0h1m19 0h1m1 0h1m6 0h1m3 0h1m4 0h1m2 0h1m3 0h2m5 0h1m16 0h1m3 0h1m1 0h1m1 0h1m5 0h1m7 0h1m11 0h1m2 0h1m1 0h1m2 0h1m6 0h1m1 0h1m31 0h1m4 0h1m8 0h1m4 0h1m6 0h1m1 0h1m9 0h1m3 0h1m5 0h1m-550 1h1m13 0h1m13 0h1m31 0h1m50 0h1m82 0h1m3 0h1m3 0h1m5 0h1m2 0h1m2 0h2m5 0h1m3 0h1m12 0h1m2 0h1m3 0h1m3 0h2m22 0h2m6 0h1m1 0h1m1 0h5m3 0h1m3 0h1m1 0h1m7 0h4m1 0h1m12 0h1m6 0h2m5 0h1m6 0h2m5 0h1m5 0h1m5 0h2m2 0h3m1 0h1m12 0h1m8 0h1m6 0h2m21 0h2m2 0h1m12 0h2m11 0h2m1 0h1m27 0h1m2 0h1m4 0h1m3 0h1m3 0h2m4 0h1m1 0h2m2 0h1m1 0h1m11 0h1m1 0h2m10 0h2m-557 1h1m14 0h1m13 0h1m1 0h1m23 0h1m20 0h1m33 0h1m16 0h1m49 0h1m35 0h2m12 0h1m3 0h1m3 0h1m7 0h2m9 0h1m3 0h1m1 0h1m1 0h1m5 0h2m1 0h2m1 0h1m3 0h1m3 0h1m3 0h1m26 0h1m4 0h2m2 0h1m3 0h2m1 0h1m1 0h1m2 0h1m9 0h1m3 0h1m1 0h1m2 0h1m5 0h1m8 0h1m3 0h1m24 0h1m3 0h1m3 0h1m1 0h1m2 0h2m14 0h2m3 0h1m3 0h1m2 0h1m1 0h1m1 0h1m2 0h1m2 0h1m3 0h1m2 0h1m14 0h1m4 0h2m5 0h1m11 0h1m2 0h3m2 0h1m3 0h2m4 0h1m3 0h1m1 0h1m2 0h1m9 0h1m1 0h1m11 0h2m16 0h1m-571 1h2m5 0h1m59 0h1m16 0h1m106 0h1m12 0h2m12 0h1m7 0h1m6 0h2m16 0h1m9 0h2m6 0h3m13 0h1m4 0h1m11 0h1m4 0h1m9 0h2m2 0h2m4 0h1m1 0h1m5 0h2m12 0h2m4 0h1m2 0h1m1 0h1m2 0h1m14 0h1m7 0h1m3 0h2m14 0h1m10 0h2m3 0h1m10 0h1m4 0h2m2 0h2m2 0h1m4 0h1m2 0h1m2 0h1m3 0h2m6 0h1m19 0h2m15 0h1m3 0h1m1 0h1m1 0h1m14 0h1m5 0h1m10 0h1m6 0h1m3 0h1m3 0h1m-560 1h1m4 0h1m73 0h1m33 0h1m75 0h2m15 0h1m19 0h1m6 0h1m1 0h1m1 0h2m18 0h1m6 0h1m2 0h2m5 0h1m6 0h2m6 0h1m2 0h1m10 0h1m1 0h1m1 0h2m19 0h2m13 0h1m2 0h1m4 0h1m11 0h3m3 0h1m7 0h1m3 0h1m2 0h1m3 0h1m2 0h2m1 0h1m5 0h1m4 0h2m5 0h1m3 0h2m5 0h1m7 0h1m4 0h1m6 0h1m3 0h1m9 0h1m9 0h1m3 0h1m6 0h1m14 0h1m1 0h1m6 0h1m14 0h1m12 0h2m12 0h1m6 0h2m8 0h3m-540 1h1m21 0h1m20 0h1m49 0h1m13 0h1m19 0h1m55 0h1m1 0h1m5 0h1m8 0h1m1 0h1m5 0h2m20 0h1m2 0h2m9 0h1m1 0h1m1 0h2m2 0h1m5 0h2m19 0h1m3 0h1m1 0h1m5 0h1m8 0h1m1 0h1m2 0h1m3 0h1m2 0h1m3 0h3m3 0h1m1 0h1m5 0h1m11 0h1m4 0h1m4 0h4m1 0h1m1 0h3m6 0h1m4 0h1m1 0h1m1 0h1m1 0h1m2 0h1m5 0h1m11 0h1m9 0h2m2 0h1m8 0h1m1 0h3m2 0h1m1 0h2m5 0h1m15 0h1m3 0h2m2 0h1m2 0h1m9 0h1m3 0h1m7 0h2m4 0h1m2 0h1m2 0h1m9 0h2m3 0h1m2 0h1m1 0h1m13 0h1m3 0h1m-574 1h1m6 0h1m5 0h1m20 0h2m21 0h1m7 0h1m1 0h1m30 0h1m109 0h1m10 0h1m20 0h1m30 0h2m8 0h1m2 0h1m2 0h1m7 0h1m24 0h1m2 0h1m8 0h1m1 0h1m1 0h1m5 0h1m2 0h1m2 0h2m8 0h1m7 0h1m6 0h1m2 0h1m6 0h1m3 0h1m24 0h1m10 0h1m1 0h1m9 0h1m4 0h1m15 0h1m6 0h1m29 0h1m5 0h1m3 0h2m18 0h1m22 0h1m5 0h1m12 0h1m-559 1h1m9 0h1m8 0h2m6 0h1m23 0h1m1 0h2m18 0h1m14 0h1m61 0h1m1 0h1m3 0h1m37 0h1m29 0h1m7 0h1m1 0h2m1 0h1m2 0h2m4 0h1m5 0h1m11 0h1m3 0h1m4 0h2m3 0h2m3 0h2m1 0h1m7 0h1m17 0h2m2 0h1m8 0h1m8 0h1m2 0h1m6 0h1m1 0h1m1 0h1m12 0h3m2 0h2m5 0h1m1 0h1m6 0h2m3 0h2m3 0h2m7 0h1m1 0h1m1 0h1m17 0h1m1 0h1m2 0h1m13 0h2m7 0h2m1 0h1m7 0h1m15 0h1m4 0h1m4 0h1m4 0h1m16 0h1m15 0h1m13 0h1m-513 1h1m16 0h1m10 0h1m21 0h1m27 0h1m25 0h2m14 0h1m57 0h2m17 0h1m13 0h2m15 0h1m10 0h1m1 0h1m12 0h1m2 0h1m2 0h1m18 0h1m11 0h1m2 0h1m2 0h1m2 0h1m4 0h1m2 0h1m13 0h1m1 0h1m5 0h1m5 0h1m1 0h1m5 0h1m1 0h1m5 0h1m3 0h1m9 0h1m7 0h1m7 0h1m8 0h1m2 0h1m10 0h1m1 0h1m5 0h1m5 0h2m1 0h2m8 0h1m3 0h1m2 0h1m3 0h1m4 0h1m5 0h1m3 0h1m3 0h1m2 0h1m1 0h1m4 0h1m4 0h1m16 0h1m4 0h2m10 0h1m6 0h1m4 0h1m4 0h1m-556 1h1m6 0h1m5 0h1m16 0h1m13 0h1m6 0h2m5 0h1m34 0h1m55 0h1m33 0h1m17 0h1m30 0h1m1 0h2m6 0h1m30 0h1m2 0h1m1 0h2m1 0h1m2 0h1m9 0h1m4 0h4m11 0h2m4 0h1m14 0h1m3 0h3m2 0h1m4 0h1m5 0h1m10 0h1m10 0h1m6 0h1m8 0h2m1 0h1m3 0h1m2 0h1m3 0h1m3 0h2m7 0h1m1 0h1m16 0h1m7 0h1m3 0h1m11 0h1m6 0h1m1 0h1m8 0h2m7 0h1m2 0h1m1 0h1m9 0h2m3 0h1m9 0h1m4 0h1m6 0h1m17 0h1m2 0h2m1 0h1m2 0h1m-569 1h1m9 0h1m7 0h1m13 0h1m22 0h1m22 0h2m4 0h1m55 0h1m2 0h1m21 0h1m10 0h1m15 0h1m8 0h1m30 0h1m13 0h1m1 0h1m5 0h1m5 0h1m4 0h1m6 0h1m14 0h1m5 0h1m11 0h1m1 0h1m3 0h2m4 0h1m12 0h1m4 0h2m6 0h1m3 0h2m8 0h1m3 0h1m2 0h1m17 0h1m6 0h1m7 0h1m1 0h1m6 0h1m5 0h1m16 0h1m2 0h1m11 0h1m2 0h1m3 0h1m2 0h1m2 0h1m22 0h2m3 0h1m7 0h1m9 0h1m6 0h1m2 0h1m2 0h1m11 0h1m8 0h1m1 0h1m10 0h1m1 0h1m6 0h1m8 0h1m-549 1h1m30 0h1m29 0h1m10 0h1m70 0h2m12 0h2m54 0h1m18 0h2m17 0h1m3 0h1m3 0h1m14 0h1m1 0h1m10 0h1m3 0h2m3 0h1m3 0h1m5 0h1m1 0h1m14 0h1m5 0h1m2 0h3m3 0h1m24 0h1m5 0h1m6 0h1m5 0h1m12 0h1m1 0h1m1 0h1m8 0h1m3 0h1m5 0h1m7 0h1m1 0h1m9 0h1m2 0h2m5 0h1m12 0h1m10 0h1m7 0h1m4 0h1m3 0h1m3 0h1m20 0h1m8 0h1m5 0h1m2 0h1m6 0h1m2 0h1m5 0h1m-530 1h1m52 0h1m36 0h1m52 0h1m14 0h1m36 0h1m22 0h1m10 0h1m2 0h2m9 0h2m1 0h1m6 0h2m7 0h1m10 0h2m3 0h1m1 0h1m1 0h1m3 0h1m9 0h1m1 0h1m17 0h1m6 0h1m1 0h1m13 0h1m13 0h1m10 0h1m1 0h1m5 0h1m2 0h1m1 0h1m3 0h1m1 0h1m5 0h3m10 0h1m1 0h3m1 0h1m5 0h2m9 0h1m1 0h1m5 0h1m1 0h1m3 0h1m3 0h1m2 0h2m18 0h2m4 0h2m3 0h1m2 0h1m2 0h1m3 0h1m2 0h1m6 0h1m1 0h1m6 0h1m1 0h1m5 0h1m6 0h1m-557 1h1m24 0h1m58 0h2m83 0h1m19 0h1m7 0h1m15 0h1m16 0h1m15 0h1m16 0h1m6 0h1m17 0h1m1 0h1m1 0h1m1 0h2m5 0h1m6 0h1m1 0h1m14 0h1m3 0h4m1 0h2m1 0h1m8 0h2m5 0h1m2 0h3m6 0h1m3 0h1m2 0h1m1 0h1m2 0h1m4 0h1m2 0h1m5 0h1m11 0h1m23 0h1m2 0h1m11 0h1m12 0h1m9 0h2m15 0h1m16 0h1m5 0h1m9 0h3m4 0h1m1 0h1m11 0h2m2 0h1m2 0h1m5 0h1m2 0h1m1 0h1m6 0h1m2 0h1m-563 1h1m36 0h1m40 0h1m5 0h1m65 0h1m5 0h1m28 0h1m2 0h1m7 0h1m26 0h1m8 0h1m12 0h1m12 0h2m4 0h1m4 0h1m2 0h2m13 0h1m9 0h1m2 0h1m1 0h2m6 0h1m1 0h2m1 0h1m2 0h1m9 0h2m2 0h1m1 0h1m4 0h1m6 0h1m7 0h1m4 0h1m6 0h1m4 0h2m4 0h2m14 0h2m2 0h2m3 0h1m2 0h1m7 0h1m10 0h1m23 0h2m2 0h1m3 0h1m11 0h1m6 0h1m9 0h1m4 0h1m9 0h1m9 0h1m1 0h2m9 0h1m4 0h1m5 0h1m6 0h1m3 0h1m13 0h1m1 0h1m-554 1h1m2 0h1m107 0h1m36 0h1m4 0h1m10 0h1m1 0h1m8 0h1m3 0h1m43 0h1m13 0h1m8 0h1m11 0h2m2 0h1m2 0h1m13 0h1m2 0h1m5 0h1m2 0h2m1 0h2m10 0h1m5 0h2m9 0h1m2 0h1m1 0h1m12 0h2m3 0h1m13 0h1m11 0h1m1 0h1m4 0h1m2 0h1m12 0h1m4 0h1m14 0h1m1 0h1m5 0h1m20 0h1m22 0h1m1 0h1m3 0h1m1 0h1m2 0h1m4 0h1m3 0h1m7 0h1m15 0h1m1 0h1m3 0h1m7 0h1m3 0h1m1 0h1m12 0h1m3 0h1m-552 1h1m24 0h1m3 0h1m91 0h1m48 0h1m15 0h1m28 0h2m5 0h1m16 0h1m13 0h1m1 0h1m9 0h2m2 0h1m11 0h1m2 0h1m1 0h3m3 0h1m3 0h3m3 0h2m3 0h1m2 0h1m3 0h2m3 0h1m2 0h1m2 0h1m3 0h1m25 0h1m5 0h1m4 0h3m1 0h1m1 0h1m1 0h2m2 0h1m3 0h1m4 0h1m13 0h1m5 0h1m2 0h1m1 0h1m4 0h1m2 0h1m2 0h2m6 0h1m12 0h1m25 0h2m19 0h1m4 0h2m4 0h1m3 0h1m7 0h1m7 0h1m13 0h1m2 0h1m4 0h1m4 0h1m4 0h2m-486 1h1m38 0h1m32 0h1m39 0h1m27 0h1m5 0h1m2 0h1m32 0h2m1 0h1m11 0h1m17 0h2m5 0h3m2 0h2m1 0h1m23 0h1m2 0h1m3 0h2m24 0h1m9 0h1m6 0h2m10 0h1m2 0h1m16 0h1m4 0h1m6 0h1m7 0h1m2 0h2m4 0h1m3 0h2m4 0h1m4 0h1m5 0h1m14 0h1m26 0h1m1 0h2m3 0h1m2 0h1m8 0h1m4 0h1m8 0h1m1 0h1m2 0h1m2 0h1m7 0h1m1 0h1m-559 1h1m15 0h1m14 0h1m13 0h1m18 0h1m53 0h1m9 0h1m50 0h1m2 0h1m13 0h1m20 0h1m10 0h1m5 0h1m10 0h1m3 0h2m5 0h1m6 0h1m11 0h1m2 0h1m8 0h2m1 0h1m1 0h1m2 0h1m10 0h4m4 0h1m1 0h3m3 0h1m3 0h1m19 0h2m12 0h2m4 0h1m14 0h1m1 0h1m13 0h1m15 0h2m2 0h1m1 0h1m12 0h2m15 0h1m10 0h1m5 0h2m1 0h1m6 0h1m4 0h1m9 0h1m16 0h2m1 0h1m9 0h1m8 0h1m4 0h1m11 0h1m12 0h1m-566 1h1m8 0h1m5 0h1m8 0h1m15 0h1m1 0h1m26 0h1m19 0h1m38 0h1m3 0h2m23 0h1m1 0h1m27 0h1m10 0h1m18 0h1m3 0h2m6 0h1m18 0h2m1 0h1m3 0h1m2 0h1m1 0h2m33 0h1m9 0h2m2 0h2m10 0h1m4 0h1m1 0h1m23 0h1m8 0h1m3 0h1m14 0h1m4 0h1m4 0h1m14 0h3m1 0h1m8 0h1m13 0h1m6 0h1m10 0h2m2 0h3m2 0h1m2 0h1m7 0h1m1 0h1m7 0h1m21 0h1m12 0h1m2 0h1m3 0h1m6 0h1m9 0h1m2 0h1m15 0h3m8 0h1m-570 1h1m54 0h1m16 0h1m14 0h1m30 0h1m9 0h1m28 0h1m26 0h1m15 0h1m17 0h1m38 0h1m1 0h1m4 0h2m1 0h2m10 0h1m3 0h1m2 0h1m7 0h1m5 0h1m5 0h1m4 0h1m25 0h1m3 0h1m1 0h1m3 0h1m2 0h1m3 0h1m4 0h1m1 0h1m4 0h1m5 0h1m1 0h1m1 0h1m32 0h1m7 0h1m1 0h1m6 0h1m5 0h1m1 0h1m6 0h2m10 0h1m5 0h1m1 0h2m9 0h1m1 0h1m2 0h1m2 0h1m1 0h1m3 0h1m5 0h1m1 0h4m18 0h1m7 0h1m10 0h1m4 0h1m8 0h1m15 0h1m-564 1h1m4 0h1m9 0h1m11 0h1m12 0h1m9 0h2m30 0h1m43 0h2m2 0h1m53 0h1m12 0h1m17 0h1m1 0h1m31 0h2m14 0h1m1 0h1m9 0h2m7 0h1m11 0h1m1 0h2m3 0h1m3 0h2m6 0h1m2 0h1m4 0h1m9 0h2m4 0h1m8 0h1m3 0h2m2 0h1m8 0h1m8 0h1m6 0h1m32 0h1m2 0h1m2 0h2m4 0h1m3 0h1m6 0h1m1 0h1m5 0h2m8 0h1m7 0h1m3 0h1m1 0h1m4 0h1m1 0h1m4 0h2m5 0h1m11 0h1m12 0h1m4 0h2m10 0h1m14 0h1m1 0h1m-550 1h1m180 0h1m9 0h2m34 0h1m1 0h1m3 0h1m15 0h1m5 0h1m6 0h1m11 0h1m3 0h1m9 0h2m1 0h2m4 0h3m2 0h1m14 0h1m7 0h2m8 0h1m6 0h1m9 0h1m2 0h1m10 0h1m3 0h5m22 0h3m6 0h1m11 0h1m9 0h1m1 0h1m1 0h1m42 0h2m15 0h1m5 0h1m1 0h1m2 0h1m3 0h1m7 0h1m1 0h1m3 0h1m1 0h1m8 0h1m4 0h2m6 0h1m3 0h1m4 0h1m6 0h2m-546 1h1m1 0h1m14 0h1m45 0h1m87 0h1m19 0h1m18 0h1m17 0h1m2 0h1m2 0h1m18 0h1m11 0h2m7 0h1m1 0h1m2 0h1m1 0h1m5 0h1m9 0h2m1 0h1m6 0h3m3 0h2m6 0h1m2 0h1m21 0h1m11 0h1m17 0h1m6 0h1m1 0h1m17 0h2m6 0h2m3 0h1m5 0h3m10 0h1m12 0h1m5 0h1m16 0h1m3 0h1m4 0h2m1 0h2m24 0h1m12 0h1m14 0h1m1 0h1m9 0h1m1 0h1m1 0h1m3 0h1m-521 1h1m8 0h1m123 0h1m22 0h1m40 0h1m3 0h2m10 0h1m6 0h1m10 0h4m3 0h1m6 0h1m1 0h1m4 0h1m7 0h1m6 0h1m1 0h1m2 0h1m2 0h3m3 0h1m4 0h1m3 0h1m13 0h1m16 0h1m2 0h1m12 0h1m6 0h2m3 0h1m3 0h1m16 0h1m4 0h1m18 0h1m1 0h1m13 0h1m6 0h1m7 0h1m10 0h1m2 0h1m15 0h1m6 0h1m1 0h2m3 0h1m1 0h2m21 0h1m6 0h1m11 0h1m4 0h1m-553 1h1m2 0h1m9 0h1m2 0h1m20 0h1m5 0h1m36 0h1m77 0h1m17 0h1m2 0h1m18 0h1m2 0h1m45 0h1m14 0h1m3 0h1m5 0h2m1 0h2m6 0h1m1 0h1m1 0h3m4 0h1m2 0h1m1 0h1m1 0h2m9 0h1m8 0h1m1 0h1m1 0h1m11 0h1m2 0h1m1 0h1m2 0h1m9 0h1m2 0h1m1 0h1m12 0h1m7 0h1m16 0h2m4 0h1m8 0h1m10 0h2m3 0h1m3 0h2m3 0h1m2 0h1m1 0h1m4 0h1m16 0h1m2 0h1m18 0h1m1 0h2m4 0h1m2 0h2m5 0h1m1 0h2m4 0h1m3 0h1m1 0h1m4 0h2m6 0h1m2 0h2m8 0h1m2 0h4m-550 1h1m11 0h2m87 0h1m10 0h1m37 0h1m8 0h1m67 0h1m10 0h1m9 0h1m1 0h1m11 0h1m12 0h1m9 0h1m4 0h1m9 0h1m3 0h1m7 0h1m1 0h1m6 0h1m9 0h1m10 0h1m5 0h2m9 0h1m7 0h2m7 0h1m6 0h2m1 0h1m1 0h2m10 0h1m10 0h2m6 0h2m10 0h1m8 0h1m21 0h1m8 0h1m7 0h2m6 0h1m4 0h2m8 0h1m3 0h1m23 0h1m5 0h1m6 0h1m7 0h1m-552 1h1m2 0h1m3 0h2m33 0h1m1 0h1m17 0h1m51 0h1m36 0h1m15 0h1m1 0h1m2 0h1m49 0h1m2 0h1m13 0h1m17 0h1m10 0h1m2 0h1m4 0h1m7 0h1m2 0h1m16 0h1m6 0h1m10 0h1m3 0h1m17 0h1m1 0h1m1 0h1m5 0h1m5 0h1m1 0h2m2 0h1m5 0h1m3 0h1m9 0h1m4 0h2m7 0h2m3 0h1m5 0h1m10 0h1m3 0h1m6 0h2m1 0h1m3 0h1m1 0h1m7 0h2m6 0h1m4 0h1m20 0h1m3 0h1m6 0h1m17 0h1m4 0h1m20 0h1m8 0h2m1 0h1m-546 1h1m29 0h2m34 0h1m36 0h1m40 0h1m5 0h1m1 0h1m5 0h1m3 0h1m3 0h1m11 0h1m12 0h1m4 0h1m21 0h1m1 0h1m9 0h2m1 0h1m4 0h1m2 0h2m7 0h1m2 0h1m1 0h1m3 0h2m1 0h1m12 0h1m2 0h1m4 0h2m1 0h1m1 0h1m9 0h1m4 0h2m1 0h1m1 0h3m10 0h1m5 0h1m1 0h1m2 0h1m2 0h1m4 0h2m6 0h1m2 0h1m8 0h1m18 0h1m5 0h1m8 0h1m1 0h1m4 0h2m1 0h1m4 0h1m3 0h1m11 0h1m13 0h1m1 0h2m6 0h1m42 0h1m2 0h1m2 0h1m6 0h1m2 0h1m9 0h1m3 0h1m11 0h1m2 0h2m4 0h1m-546 1h1m29 0h1m9 0h1m13 0h1m14 0h1m86 0h2m5 0h1m30 0h1m1 0h1m23 0h1m3 0h1m8 0h1m2 0h1m1 0h3m2 0h1m6 0h1m12 0h2m7 0h1m12 0h1m5 0h1m2 0h2m3 0h1m11 0h2m4 0h1m18 0h2m3 0h1m23 0h1m8 0h1m7 0h1m4 0h1m8 0h3m6 0h1m6 0h2m2 0h1m4 0h3m2 0h3m2 0h1m2 0h1m1 0h1m2 0h1m2 0h1m6 0h1m5 0h1m1 0h1m4 0h1m18 0h1m1 0h1m10 0h1m6 0h1m7 0h2m1 0h1m1 0h1m5 0h1m13 0h1m1 0h1m9 0h2m-547 1h1m29 0h1m32 0h1m30 0h1m10 0h1m49 0h1m5 0h1m12 0h1m13 0h1m6 0h1m15 0h1m2 0h1m4 0h1m4 0h2m10 0h1m9 0h1m6 0h1m3 0h1m4 0h1m9 0h2m8 0h1m7 0h1m17 0h2m9 0h1m4 0h1m10 0h1m6 0h2m12 0h1m2 0h1m5 0h1m8 0h1m5 0h1m1 0h1m11 0h1m17 0h1m2 0h1m4 0h1m2 0h1m11 0h1m4 0h1m18 0h1m1 0h1m13 0h1m2 0h2m5 0h1m3 0h1m10 0h1m3 0h1m18 0h1m1 0h1m4 0h1m6 0h2m2 0h1m-544 1h2m31 0h1m28 0h1m32 0h1m5 0h1m1 0h1m1 0h1m2 0h1m47 0h1m16 0h1m39 0h1m7 0h1m18 0h1m4 0h2m1 0h1m2 0h1m10 0h1m1 0h1m4 0h1m4 0h1m6 0h1m5 0h1m6 0h1m23 0h1m7 0h1m6 0h1m13 0h2m1 0h1m9 0h1m2 0h2m1 0h1m3 0h1m10 0h1m8 0h2m4 0h2m10 0h1m7 0h2m1 0h1m5 0h1m6 0h2m18 0h1m5 0h1m2 0h1m20 0h4m2 0h1m4 0h1m2 0h1m4 0h1m3 0h2m3 0h2m10 0h1m6 0h1m1 0h1m2 0h1m1 0h1m8 0h1m1 0h1m-551 1h1m6 0h1m5 0h1m20 0h1m3 0h1m104 0h2m38 0h1m17 0h1m14 0h1m3 0h1m11 0h1m1 0h1m9 0h1m2 0h1m5 0h1m2 0h1m3 0h1m4 0h1m1 0h1m11 0h2m5 0h1m1 0h2m5 0h1m2 0h1m1 0h2m6 0h1m12 0h1m8 0h1m3 0h1m15 0h1m1 0h3m26 0h1m6 0h1m9 0h1m17 0h1m3 0h1m15 0h1m1 0h2m8 0h1m1 0h1m10 0h1m21 0h1m16 0h1m1 0h1m14 0h1m2 0h1m7 0h1m6 0h1m6 0h2m6 0h1m-550 1h1m1 0h2m16 0h1m33 0h1m25 0h1m61 0h1m3 0h1m60 0h2m6 0h1m8 0h1m6 0h1m2 0h1m33 0h1m2 0h1m3 0h1m3 0h3m4 0h1m1 0h1m2 0h2m1 0h1m2 0h1m3 0h1m5 0h2m7 0h1m23 0h2m2 0h3m12 0h1m6 0h1m10 0h1m4 0h1m1 0h1m5 0h1m9 0h1m2 0h1m8 0h1m3 0h1m4 0h1m3 0h1m2 0h1m7 0h2m1 0h1m8 0h1m2 0h1m3 0h2m29 0h1m1 0h1m17 0h1m8 0h1m1 0h1m2 0h2m5 0h1m2 0h2m2 0h1m3 0h1m3 0h2m1 0h1m-481 1h1m47 0h2m31 0h1m14 0h1m33 0h1m15 0h1m2 0h1m5 0h1m14 0h1m7 0h1m13 0h1m2 0h1m1 0h1m18 0h1m7 0h1m6 0h1m1 0h2m1 0h3m4 0h1m19 0h1m11 0h1m7 0h1m2 0h1m1 0h1m8 0h2m2 0h2m5 0h1m1 0h1m6 0h1m4 0h1m7 0h1m1 0h1m2 0h1m2 0h1m1 0h1m1 0h2m12 0h1m4 0h1m11 0h1m3 0h1m4 0h2m1 0h2m5 0h1m9 0h3m12 0h1m15 0h1m4 0h1m8 0h1m16 0h1m2 0h1m13 0h2m-549 1h1m7 0h1m30 0h2m16 0h2m34 0h1m20 0h1m64 0h1m11 0h1m2 0h1m15 0h1m7 0h2m5 0h1m28 0h2m1 0h2m5 0h1m1 0h1m13 0h1m2 0h1m6 0h1m2 0h1m7 0h1m1 0h1m1 0h2m21 0h1m4 0h1m6 0h1m36 0h1m2 0h1m4 0h1m19 0h1m8 0h1m4 0h1m15 0h2m5 0h1m2 0h1m4 0h1m1 0h1m2 0h1m3 0h1m47 0h2m6 0h1m2 0h1m1 0h1m12 0h1m7 0h1m-503 1h1m17 0h1m5 0h1m24 0h1m34 0h1m55 0h1m2 0h1m12 0h1m22 0h2m7 0h2m1 0h1m3 0h2m10 0h1m8 0h1m2 0h1m1 0h2m3 0h1m10 0h2m8 0h3m5 0h1m7 0h1m1 0h1m4 0h1m2 0h2m1 0h1m16 0h1m3 0h2m6 0h1m17 0h1m3 0h1m4 0h1m4 0h1m8 0h2m11 0h2m3 0h1m14 0h1m8 0h1m15 0h1m10 0h1m12 0h1m7 0h1m9 0h1m16 0h1m12 0h1m1 0h1m1 0h1m1 0h3m11 0h3m3 0h1m3 0h1m-490 1h1m4 0h1m22 0h1m3 0h1m35 0h1m74 0h1m25 0h1m2 0h1m1 0h1m9 0h1m3 0h1m6 0h1m26 0h1m8 0h1m1 0h1m2 0h1m1 0h4m4 0h1m9 0h3m4 0h2m14 0h3m2 0h1m8 0h1m1 0h1m11 0h2m1 0h1m9 0h1m3 0h1m1 0h2m2 0h2m2 0h1m2 0h1m3 0h1m13 0h2m2 0h1m11 0h1m1 0h1m12 0h2m3 0h1m2 0h1m11 0h1m4 0h1m5 0h2m12 0h2m5 0h1m5 0h2m1 0h2m9 0h1m3 0h2m18 0h2m4 0h1m-501 1h1m21 0h1m20 0h1m68 0h1m18 0h1m2 0h1m9 0h1m9 0h1m6 0h1m4 0h2m4 0h1m1 0h1m6 0h1m13 0h2m8 0h1m8 0h1m4 0h1m2 0h1m5 0h2m4 0h2m5 0h1m1 0h1m3 0h1m4 0h2m2 0h2m1 0h1m3 0h1m9 0h2m3 0h3m4 0h1m2 0h1m1 0h1m1 0h1m2 0h1m11 0h2m1 0h1m1 0h2m11 0h2m6 0h1m2 0h1m4 0h2m5 0h2m3 0h4m4 0h1m5 0h1m3 0h1m1 0h1m1 0h1m14 0h1m3 0h1m3 0h1m1 0h2m27 0h1m13 0h1m7 0h1m2 0h1m6 0h1m4 0h2m8 0h1m4 0h1m3 0h2m1 0h1m8 0h1m-500 1h1m23 0h1m8 0h1m47 0h1m29 0h1m2 0h1m19 0h1m15 0h1m21 0h1m2 0h1m8 0h1m10 0h1m3 0h1m7 0h1m26 0h1m8 0h2m5 0h1m2 0h1m3 0h1m7 0h1m15 0h1m2 0h2m11 0h1m5 0h1m15 0h1m7 0h1m2 0h1m2 0h1m8 0h1m4 0h1m2 0h1m9 0h1m8 0h2m1 0h2m3 0h1m1 0h1m16 0h1m2 0h1m1 0h1m3 0h1m3 0h1m1 0h2m1 0h1m2 0h1m2 0h1m32 0h2m13 0h1m18 0h3m3 0h1m4 0h1m-490 1h2m11 0h1m90 0h1m19 0h1m20 0h1m40 0h1m33 0h1m3 0h1m18 0h1m6 0h1m3 0h2m1 0h1m7 0h1m5 0h1m6 0h1m9 0h2m7 0h1m6 0h2m13 0h1m3 0h1m3 0h1m8 0h1m2 0h1m8 0h1m12 0h1m6 0h1m10 0h1m1 0h2m9 0h1m6 0h1m4 0h2m2 0h1m11 0h1m6 0h1m6 0h1m5 0h1m2 0h1m4 0h1m8 0h1m12 0h1m17 0h1m3 0h1m-497 1h1m35 0h2m5 0h1m82 0h1m1 0h2m4 0h1m19 0h1m14 0h1m16 0h1m29 0h2m12 0h2m14 0h1m2 0h1m5 0h1m9 0h1m6 0h2m12 0h1m3 0h4m4 0h1m7 0h1m1 0h1m15 0h4m3 0h1m2 0h2m6 0h2m7 0h1m1 0h1m12 0h1m4 0h2m4 0h1m3 0h1m46 0h1m7 0h1m13 0h1m6 0h1m3 0h1m4 0h1m8 0h2m4 0h1m1 0h2m-494 1h1m8 0h1m26 0h1m13 0h1m85 0h1m9 0h1m17 0h1m18 0h1m28 0h1m2 0h2m4 0h1m1 0h1m12 0h1m3 0h1m9 0h1m1 0h1m1 0h4m18 0h1m2 0h2m8 0h2m4 0h1m16 0h1m3 0h1m3 0h1m8 0h2m11 0h1m3 0h1m2 0h1m10 0h1m1 0h1m5 0h1m4 0h2m1 0h1m7 0h1m3 0h1m2 0h1m26 0h1m12 0h1m14 0h1m2 0h1m8 0h2m6 0h1m1 0h1m18 0h1m-470 1h1m141 0h1m12 0h1m4 0h1m7 0h1m4 0h1m13 0h1m1 0h1m4 0h2m3 0h1m2 0h1m1 0h1m11 0h1m3 0h2m6 0h1m1 0h1m3 0h1m6 0h1m5 0h1m27 0h1m7 0h2m12 0h1m4 0h1m8 0h1m6 0h1m3 0h1m2 0h2m12 0h1m1 0h1m1 0h1m1 0h1m3 0h1m7 0h2m2 0h1m5 0h1m5 0h2m7 0h1m1 0h2m19 0h1m30 0h2m17 0h1m14 0h1m-491 1h1m19 0h1m22 0h1m1 0h1m8 0h1m67 0h1m16 0h2m3 0h1m2 0h1m15 0h1m11 0h1m7 0h1m13 0h1m10 0h1m8 0h1m4 0h3m10 0h1m10 0h1m6 0h1m6 0h1m3 0h1m2 0h1m15 0h1m10 0h1m6 0h1m13 0h2m2 0h1m1 0h1m11 0h1m11 0h1m2 0h1m2 0h2m8 0h1m9 0h2m8 0h1m7 0h1m14 0h1m10 0h1m6 0h1m2 0h1m7 0h1m21 0h1m20 0h1m8 0h1m1 0h1m14 0h1m-478 1h1m1 0h1m7 0h1m3 0h1m6 0h1m47 0h1m3 0h1m19 0h1m23 0h2m5 0h1m11 0h1m15 0h1m5 0h2m5 0h2m8 0h1m16 0h1m12 0h1m8 0h1m4 0h4m17 0h1m7 0h1m4 0h2m8 0h1m10 0h1m3 0h1m3 0h1m5 0h1m3 0h1m6 0h2m15 0h1m2 0h2m4 0h1m2 0h1m1 0h1m6 0h1m4 0h1m8 0h1m3 0h1m7 0h1m3 0h1m11 0h1m5 0h1m1 0h1m8 0h1m2 0h1m1 0h1m5 0h1m11 0h1m22 0h2m3 0h1m2 0h1m6 0h1m-440 1h1m5 0h1m7 0h1m107 0h2m14 0h2m6 0h1m9 0h1m6 0h1m4 0h2m4 0h1m5 0h1m5 0h1m3 0h1m2 0h1m17 0h1m3 0h2m2 0h1m1 0h1m1 0h1m2 0h1m1 0h2m1 0h3m3 0h1m1 0h1m4 0h1m5 0h1m6 0h1m14 0h1m4 0h1m1 0h1m1 0h1m8 0h1m2 0h1m7 0h1m1 0h1m2 0h1m3 0h2m2 0h1m3 0h1m26 0h2m3 0h2m3 0h2m1 0h1m24 0h1m5 0h3m7 0h1m2 0h1m3 0h1m2 0h1m5 0h3m3 0h1m7 0h1m14 0h1m4 0h2m1 0h1m-376 1h2m24 0h1m1 0h1m65 0h2m9 0h1m2 0h4m2 0h1m14 0h1m4 0h1m4 0h1m11 0h1m12 0h1m1 0h1m6 0h3m3 0h1m2 0h1m4 0h1m1 0h3m4 0h1m1 0h1m13 0h1m21 0h1m3 0h1m1 0h2m8 0h1m4 0h1m3 0h1m13 0h1m11 0h1m1 0h1m9 0h1m5 0h1m2 0h1m12 0h1m2 0h1m3 0h1m1 0h1m9 0h1m9 0h1m11 0h1m12 0h1m-437 1h1m38 0h1m22 0h1m70 0h1m2 0h1m25 0h1m4 0h1m22 0h1m37 0h1m18 0h1m4 0h1m1 0h1m5 0h1m13 0h1m8 0h2m3 0h2m6 0h2m4 0h2m10 0h1m12 0h1m2 0h1m3 0h1m2 0h2m5 0h3m1 0h1m5 0h1m3 0h1m3 0h1m6 0h1m1 0h1m2 0h1m17 0h1m9 0h1m6 0h1m3 0h1m2 0h1m11 0h1m1 0h1m-453 1h1m15 0h1m4 0h1m89 0h2m14 0h1m14 0h1m17 0h1m5 0h1m2 0h1m5 0h1m12 0h1m7 0h1m5 0h1m8 0h1m12 0h1m5 0h1m4 0h1m3 0h2m19 0h1m1 0h1m3 0h1m3 0h1m5 0h1m13 0h1m15 0h1m7 0h1m4 0h1m2 0h1m6 0h1m8 0h1m17 0h1m3 0h1m2 0h1m6 0h1m3 0h1m1 0h1m7 0h1m3 0h2m3 0h2m22 0h1m4 0h2m11 0h1m2 0h1m12 0h1m8 0h1m-419 1h1m14 0h1m4 0h1m72 0h1m2 0h1m12 0h1m1 0h1m10 0h2m6 0h1m14 0h1m6 0h2m1 0h1m4 0h1m5 0h1m4 0h1m3 0h1m6 0h1m3 0h2m3 0h1m9 0h1m9 0h1m8 0h1m1 0h2m1 0h4m11 0h1m1 0h1m5 0h1m3 0h1m4 0h1m12 0h1m14 0h1m7 0h1m2 0h1m10 0h1m3 0h1m5 0h1m1 0h1m1 0h1m11 0h1m6 0h1m1 0h3m1 0h1m3 0h1m7 0h2m10 0h1m20 0h1m5 0h1m1 0h1m5 0h1m1 0h1m1 0h1m5 0h2m-393 1h2m22 0h1m20 0h1m23 0h1m7 0h1m4 0h1m2 0h1m4 0h1m3 0h1m19 0h1m4 0h1m1 0h2m2 0h1m1 0h3m21 0h1m13 0h2m3 0h1m6 0h1m7 0h2m1 0h1m3 0h1m5 0h1m4 0h1m4 0h1m7 0h1m5 0h2m2 0h1m26 0h1m3 0h1m10 0h1m6 0h1m22 0h2m5 0h1m2 0h1m1 0h1m2 0h2m11 0h2m11 0h1m10 0h1m7 0h2m5 0h1m18 0h1m4 0h1m1 0h1m-462 1h1m63 0h1m2 0h1m68 0h1m7 0h1m8 0h1m9 0h1m4 0h2m8 0h1m9 0h2m4 0h1m2 0h1m1 0h1m7 0h1m3 0h1m4 0h1m19 0h1m1 0h2m6 0h1m8 0h1m1 0h1m1 0h1m4 0h1m2 0h1m1 0h1m2 0h1m3 0h1m9 0h1m12 0h1m1 0h1m2 0h2m5 0h1m6 0h1m3 0h2m4 0h2m2 0h1m5 0h1m5 0h1m3 0h1m4 0h1m4 0h1m9 0h1m1 0h1m8 0h1m7 0h2m2 0h1m2 0h1m2 0h1m2 0h1m3 0h1m15 0h1m2 0h2m14 0h1m7 0h1m1 0h1m2 0h1m7 0h1m1 0h1m-447 1h1m33 0h1m90 0h1m6 0h1m10 0h1m3 0h1m1 0h1m1 0h1m16 0h1m14 0h1m8 0h1m1 0h1m27 0h1m4 0h1m4 0h1m10 0h1m10 0h1m5 0h1m2 0h1m3 0h1m2 0h1m1 0h1m2 0h1m1 0h1m1 0h1m15 0h1m2 0h2m4 0h1m3 0h1m2 0h1m5 0h1m14 0h1m11 0h3m15 0h2m7 0h1m16 0h1m2 0h1m12 0h1m2 0h1m1 0h1m15 0h1m1 0h1m14 0h1m1 0h1m-439 1h2m23 0h1m64 0h1m35 0h1m4 0h1m1 0h1m8 0h3m3 0h1m4 0h1m26 0h1m6 0h1m4 0h1m14 0h1m5 0h1m3 0h1m2 0h1m31 0h1m14 0h1m1 0h1m9 0h2m7 0h1m1 0h1m5 0h1m14 0h1m3 0h1m8 0h1m2 0h1m8 0h2m6 0h1m14 0h1m8 0h1m4 0h1m17 0h1m1 0h1m7 0h1m2 0h1m1 0h1m2 0h1m4 0h1m7 0h1m10 0h2m1 0h1m-463 1h1m24 0h1m24 0h1m38 0h1m24 0h1m69 0h1m9 0h1m11 0h2m11 0h1m6 0h1m14 0h1m1 0h1m32 0h2m1 0h1m2 0h2m3 0h1m2 0h1m5 0h1m9 0h1m3 0h1m2 0h3m1 0h1m6 0h2m8 0h1m3 0h1m4 0h1m6 0h3m3 0h1m12 0h2m2 0h1m17 0h1m16 0h1m1 0h1m16 0h1m6 0h2m4 0h2m2 0h1m1 0h1m5 0h1m10 0h1m-437 1h1m65 0h1m25 0h2m26 0h1m11 0h2m3 0h1m1 0h1m11 0h1m2 0h1m8 0h1m2 0h1m21 0h1m10 0h1m12 0h2m2 0h1m1 0h1m3 0h1m13 0h1m8 0h2m6 0h1m15 0h1m1 0h1m3 0h1m3 0h1m1 0h1m4 0h1m28 0h1m1 0h1m6 0h1m2 0h3m2 0h1m4 0h1m9 0h1m1 0h2m6 0h4m14 0h1m8 0h1m2 0h1m4 0h1m3 0h1m7 0h1m1 0h1m10 0h1m2 0h1m3 0h1m5 0h1m7 0h1m-465 1h1m1 0h1m11 0h1m57 0h1m20 0h2m65 0h1m2 0h1m1 0h3m12 0h2m22 0h1m17 0h1m13 0h1m3 0h1m10 0h1m1 0h1m4 0h1m24 0h1m3 0h1m2 0h1m14 0h1m7 0h1m4 0h1m1 0h1m7 0h1m12 0h2m10 0h1m4 0h1m4 0h1m6 0h1m5 0h1m4 0h2m7 0h1m10 0h1m14 0h2m15 0h2m5 0h1m8 0h1m2 0h1m5 0h1m4 0h1m-451 1h1m11 0h1m3 0h1m21 0h1m14 0h1m78 0h1m12 0h1m7 0h1m5 0h1m3 0h1m4 0h1m17 0h1m22 0h1m1 0h1m8 0h1m1 0h1m1 0h1m3 0h1m6 0h1m1 0h1m10 0h1m7 0h1m11 0h1m1 0h1m11 0h1m1 0h1m1 0h1m12 0h2m1 0h1m4 0h1m6 0h1m14 0h2m1 0h2m1 0h2m7 0h1m4 0h1m3 0h1m3 0h1m6 0h1m5 0h1m4 0h1m4 0h2m2 0h1m3 0h1m1 0h1m3 0h1m10 0h1m1 0h1m5 0h1m7 0h1m8 0h2m5 0h1m-451 1h1m20 0h1m27 0h1m65 0h1m22 0h1m26 0h1m3 0h1m19 0h1m1 0h1m8 0h2m1 0h3m5 0h2m1 0h1m14 0h1m2 0h1m11 0h1m4 0h1m26 0h1m2 0h1m11 0h1m1 0h1m1 0h1m4 0h1m3 0h1m5 0h1m2 0h3m4 0h1m1 0h1m2 0h1m5 0h1m6 0h1m4 0h1m1 0h1m15 0h2m4 0h1m1 0h1m9 0h1m14 0h1m2 0h1m2 0h1m2 0h1m2 0h1m26 0h1m11 0h1m6 0h1m1 0h1m-453 1h1m16 0h1m125 0h1m7 0h1m16 0h1m15 0h1m15 0h2m7 0h2m12 0h1m3 0h1m25 0h1m19 0h1m9 0h1m4 0h1m11 0h1m1 0h1m2 0h1m13 0h1m1 0h1m3 0h1m10 0h2m3 0h1m8 0h1m1 0h1m6 0h1m7 0h1m6 0h1m2 0h1m2 0h1m11 0h1m1 0h1m3 0h1m2 0h1m15 0h1m25 0h1m-418 1h1m43 0h1m40 0h1m41 0h1m13 0h1m2 0h2m2 0h1m20 0h1m42 0h1m5 0h1m8 0h1m16 0h1m3 0h1m8 0h1m8 0h1m6 0h1m1 0h1m12 0h2m7 0h2m13 0h1m2 0h1m3 0h1m4 0h1m6 0h1m1 0h1m18 0h1m8 0h1m8 0h1m16 0h1m7 0h1m6 0h1m2 0h1m4 0h2m5 0h1m2 0h1m5 0h2m3 0h1m-344 1h2m22 0h1m4 0h2m21 0h1m35 0h1m4 0h2m9 0h1m10 0h1m6 0h1m7 0h1m7 0h1m36 0h1m15 0h1m3 0h1m6 0h2m1 0h1m11 0h2m23 0h1m3 0h3m23 0h1m8 0h1m11 0h2m2 0h1m15 0h1m3 0h1m23 0h1m2 0h1m-433 1h1m37 0h1m45 0h1m4 0h1m31 0h2m7 0h1m14 0h1m11 0h1m8 0h1m3 0h1m9 0h1m3 0h1m3 0h1m8 0h1m18 0h1m4 0h1m2 0h1m5 0h1m6 0h2m1 0h1m9 0h1m3 0h1m5 0h1m3 0h2m6 0h1m7 0h1m7 0h1m1 0h1m5 0h1m15 0h1m4 0h1m1 0h1m5 0h1m3 0h1m29 0h1m3 0h1m1 0h1m1 0h1m4 0h1m3 0h1m2 0h1m4 0h1m9 0h1m17 0h1m5 0h1m1 0h2m7 0h1m-433 1h2m2 0h1m40 0h1m3 0h1m72 0h1m2 0h1m5 0h1m36 0h1m1 0h1m14 0h2m2 0h2m14 0h1m17 0h1m6 0h1m5 0h1m17 0h4m10 0h1m2 0h1m3 0h1m8 0h1m2 0h1m3 0h1m5 0h1m6 0h2m7 0h2m1 0h1m1 0h1m6 0h1m3 0h1m2 0h1m7 0h1m8 0h1m12 0h1m1 0h1m1 0h1m3 0h1m3 0h1m4 0h1m1 0h1m1 0h1m1 0h1m14 0h1m28 0h1m-425 1h1m81 0h1m33 0h1m18 0h1m4 0h1m25 0h1m8 0h1m2 0h1m14 0h1m16 0h1m1 0h1m13 0h1m1 0h1m2 0h1m2 0h1m4 0h2m11 0h1m6 0h1m3 0h3m8 0h1m1 0h1m2 0h2m3 0h1m4 0h1m3 0h1m2 0h1m1 0h1m1 0h1m10 0h1m2 0h1m25 0h1m3 0h1m7 0h1m3 0h1m3 0h1m10 0h1m4 0h1m1 0h1m4 0h1m1 0h1m2 0h2m5 0h1m2 0h1m5 0h2m12 0h1m2 0h1m-380 1h1m2 0h1m102 0h1m10 0h2m1 0h1m13 0h3m2 0h3m1 0h1m31 0h2m17 0h3m3 0h1m1 0h1m6 0h1m7 0h1m2 0h1m1 0h1m3 0h1m2 0h1m8 0h1m2 0h3m21 0h1m6 0h1m6 0h1m6 0h1m10 0h1m2 0h1m5 0h1m5 0h1m12 0h1m1 0h2m9 0h1m5 0h1m6 0h2m27 0h1m-366 1h1m62 0h1m24 0h1m9 0h1m7 0h1m20 0h1m10 0h1m6 0h1m58 0h1m5 0h1m3 0h1m4 0h1m28 0h1m13 0h1m12 0h2m8 0h1m7 0h1m2 0h1m1 0h1m3 0h1m3 0h1m1 0h1m1 0h2m3 0h1m1 0h1m9 0h2m1 0h1m9 0h2m2 0h1m5 0h1m6 0h1m8 0h1m5 0h1m-313 1h1m7 0h1m2 0h1m4 0h1m3 0h1m4 0h4m20 0h1m3 0h2m3 0h1m6 0h1m3 0h1m10 0h1m12 0h1m3 0h1m3 0h1m14 0h1m26 0h1m1 0h1m4 0h1m3 0h1m5 0h1m3 0h2m10 0h1m8 0h1m9 0h2m30 0h1m15 0h1m11 0h2m9 0h1m10 0h1m7 0h1m3 0h1m16 0h1m4 0h1m-386 1h1m18 0h2m83 0h1m3 0h1m8 0h1m1 0h2m8 0h1m5 0h1m6 0h1m23 0h3m5 0h1m10 0h1m21 0h1m2 0h1m5 0h1m1 0h1m18 0h1m2 0h1m8 0h1m12 0h1m6 0h1m3 0h1m10 0h1m23 0h1m6 0h1m1 0h1m1 0h1m2 0h2m9 0h1m17 0h2m1 0h1m5 0h2m6 0h1m3 0h1m3 0h1m2 0h3m-413 1h1m27 0h1m1 0h1m75 0h1m7 0h1m33 0h1m11 0h1m1 0h2m5 0h1m24 0h1m8 0h1m3 0h1m11 0h3m2 0h1m14 0h2m6 0h1m6 0h1m4 0h1m2 0h1m1 0h1m1 0h1m1 0h2m3 0h1m2 0h1m1 0h1m3 0h1m8 0h1m18 0h1m18 0h1m1 0h1m1 0h1m5 0h1m18 0h1m3 0h1m10 0h1m5 0h1m4 0h1m2 0h1m-359 1h1m94 0h1m5 0h1m17 0h1m45 0h1m6 0h1m8 0h1m6 0h1m1 0h1m1 0h1m16 0h1m1 0h1m1 0h1m2 0h1m11 0h1m3 0h2m2 0h2m2 0h1m4 0h1m20 0h2m4 0h1m5 0h1m2 0h2m13 0h1m1 0h1m10 0h1m8 0h1m2 0h1m21 0h1m3 0h1m9 0h1m4 0h1m2 0h1m6 0h3m12 0h1m-375 1h1m5 0h1m3 0h1m42 0h1m10 0h1m5 0h1m17 0h1m2 0h1m6 0h1m3 0h1m2 0h2m2 0h1m22 0h1m1 0h1m14 0h1m2 0h1m8 0h1m7 0h1m4 0h1m6 0h1m3 0h1m19 0h1m6 0h1m22 0h1m1 0h1m23 0h1m4 0h1m4 0h1m24 0h1m3 0h1m9 0h1m12 0h2m1 0h1m17 0h1m2 0h1m9 0h1m5 0h1m1 0h1m1 0h2m2 0h2m-373 1h1m2 0h1m9 0h1m5 0h1m52 0h1m31 0h2m2 0h1m10 0h1m8 0h1m14 0h1m30 0h1m4 0h1m4 0h1m11 0h1m2 0h1m14 0h1m2 0h1m3 0h1m11 0h1m18 0h1m2 0h1m17 0h1m5 0h1m9 0h1m9 0h1m3 0h1m5 0h1m6 0h1m1 0h1m1 0h1m1 0h1m5 0h1m5 0h2m3 0h2m6 0h1m4 0h1m4 0h1m6 0h1m3 0h1m4 0h2m-358 1h1m58 0h1m8 0h1m16 0h1m12 0h2m20 0h1m6 0h1m9 0h1m6 0h1m4 0h1m6 0h1m2 0h1m4 0h2m10 0h1m4 0h1m1 0h1m14 0h1m1 0h2m1 0h2m9 0h1m1 0h2m9 0h1m27 0h1m1 0h1m3 0h1m2 0h1m7 0h1m5 0h1m3 0h1m4 0h1m4 0h1m24 0h1m25 0h1m2 0h2m-302 1h1m4 0h2m6 0h1m24 0h1m6 0h1m1 0h1m4 0h1m14 0h1m24 0h1m6 0h1m3 0h1m6 0h1m1 0h1m4 0h1m11 0h1m16 0h1m11 0h1m10 0h1m4 0h1m6 0h1m3 0h1m16 0h1m1 0h1m2 0h1m1 0h1m7 0h1m6 0h1m9 0h1m6 0h1m12 0h1m2 0h1m12 0h1m1 0h1m17 0h1m9 0h1m3 0h1m1 0h1m1 0h2m-337 1h1m43 0h1m1 0h1m19 0h1m16 0h1m2 0h1m3 0h1m20 0h1m2 0h1m2 0h1m8 0h1m3 0h1m9 0h1m1 0h1m29 0h1m2 0h1m2 0h1m3 0h1m1 0h1m17 0h1m9 0h1m6 0h1m8 0h1m4 0h2m1 0h1m38 0h1m5 0h1m4 0h1m10 0h1m23 0h1m2 0h1m6 0h1m-299 1h1m15 0h1m10 0h1m1 0h3m25 0h1m3 0h2m12 0h1m17 0h1m6 0h2m3 0h2m10 0h2m13 0h2m1 0h1m2 0h1m4 0h1m12 0h1m4 0h1m1 0h1m4 0h1m2 0h1m4 0h3m19 0h1m15 0h2m7 0h1m2 0h1m7 0h1m3 0h1m13 0h1m2 0h1m2 0h1m24 0h1m5 0h1m2 0h1m4 0h3m-347 1h1m45 0h2m3 0h1m11 0h1m12 0h1m1 0h1m2 0h1m7 0h2m13 0h1m4 0h1m2 0h1m2 0h1m27 0h1m3 0h1m18 0h2m5 0h1m4 0h1m14 0h1m8 0h1m8 0h1m3 0h1m6 0h1m1 0h1m22 0h1m2 0h1m3 0h1m16 0h1m4 0h2m3 0h1m2 0h1m3 0h1m3 0h2m2 0h3m1 0h1m6 0h1m17 0h1m2 0h1m3 0h1m3 0h2m1 0h2m2 0h1m3 0h1m-346 1h1m34 0h1m7 0h1m21 0h1m13 0h1m4 0h1m7 0h2m13 0h1m1 0h1m5 0h1m4 0h2m4 0h1m10 0h1m6 0h1m6 0h2m1 0h1m6 0h1m7 0h1m1 0h1m1 0h1m8 0h1m9 0h1m2 0h1m1 0h1m2 0h1m36 0h1m1 0h1m9 0h2m3 0h1m4 0h1m1 0h1m2 0h1m7 0h1m2 0h1m4 0h1m1 0h1m13 0h1m1 0h1m5 0h1m7 0h1m1 0h1m6 0h1m4 0h1m5 0h1m1 0h1m9 0h1m1 0h2m-348 1h2m83 0h2m11 0h1m3 0h1m21 0h1m1 0h1m10 0h1m2 0h1m2 0h1m7 0h1m3 0h1m12 0h2m14 0h1m3 0h3m4 0h1m1 0h2m1 0h1m16 0h1m3 0h1m6 0h1m8 0h1m20 0h1m4 0h1m2 0h2m9 0h1m13 0h1m12 0h2m2 0h1m3 0h2m5 0h1m7 0h1m10 0h1m7 0h1m-352 1h1m43 0h2m36 0h1m2 0h2m1 0h3m2 0h1m4 0h1m17 0h1m13 0h1m1 0h1m4 0h1m11 0h1m2 0h1m12 0h1m3 0h1m1 0h1m2 0h1m8 0h1m1 0h1m1 0h2m7 0h1m4 0h2m4 0h1m3 0h2m8 0h1m17 0h1m3 0h1m6 0h1m6 0h1m8 0h1m3 0h3m17 0h1m1 0h1m1 0h1m28 0h2m1 0h1m9 0h1m12 0h1m3 0h3m-314 1h1m1 0h1m3 0h1m20 0h2m6 0h1m7 0h2m25 0h1m3 0h1m10 0h1m1 0h2m7 0h1m3 0h1m7 0h1m8 0h1m6 0h2m1 0h1m5 0h2m2 0h1m3 0h1m22 0h1m2 0h1m3 0h2m1 0h1m6 0h1m8 0h1m4 0h1m12 0h3m1 0h1m13 0h1m11 0h1m2 0h2m5 0h2m3 0h2m13 0h1m5 0h1m4 0h1m24 0h1m8 0h1m-354 1h1m34 0h1m1 0h1m45 0h1m2 0h1m10 0h1m1 0h2m20 0h1m3 0h1m22 0h1m5 0h2m8 0h1m55 0h1m12 0h1m30 0h1m13 0h1m1 0h1m9 0h1m1 0h1m7 0h2m1 0h1m11 0h1m3 0h1m6 0h1m2 0h1m15 0h1m3 0h1m-346 1h1m38 0h1m5 0h1m7 0h1m19 0h1m4 0h1m10 0h1m1 0h1m4 0h1m12 0h1m1 0h1m1 0h1m8 0h1m7 0h1m4 0h1m23 0h2m3 0h3m1 0h1m2 0h1m3 0h1m1 0h1m10 0h1m8 0h1m3 0h1m2 0h1m6 0h1m1 0h1m1 0h1m10 0h2m3 0h1m4 0h1m32 0h1m8 0h1m2 0h1m4 0h1m4 0h1m6 0h1m2 0h1m4 0h1m15 0h1m5 0h1m13 0h3m-300 1h1m1 0h1m12 0h1m12 0h1m10 0h1m7 0h1m4 0h1m2 0h1m17 0h1m6 0h2m8 0h1m12 0h1m2 0h1m2 0h1m1 0h1m5 0h1m7 0h1m2 0h3m2 0h2m5 0h1m4 0h1m3 0h1m1 0h2m3 0h1m5 0h2m23 0h1m19 0h1m9 0h1m27 0h2m14 0h2m3 0h1m4 0h4m8 0h1m3 0h1m2 0h1m1 0h2m-341 1h1m60 0h2m21 0h1m8 0h1m3 0h1m1 0h1m4 0h1m11 0h1m6 0h1m2 0h3m9 0h1m3 0h1m4 0h1m7 0h3m2 0h1m4 0h1m4 0h1m5 0h2m4 0h1m6 0h1m4 0h1m7 0h2m6 0h2m29 0h1m3 0h1m6 0h1m3 0h1m11 0h1m23 0h1m15 0h2m13 0h1m12 0h2m1 0h2m1 0h1m-300 1h1m34 0h1m8 0h2m11 0h1m1 0h1m8 0h1m9 0h1m1 0h1m4 0h2m5 0h1m10 0h2m12 0h2m2 0h1m11 0h1m7 0h1m15 0h1m1 0h1m3 0h2m2 0h1m2 0h1m4 0h1m7 0h2m2 0h2m5 0h2m14 0h2m8 0h1m4 0h1m7 0h1m11 0h2m31 0h1m12 0h1m3 0h1m2 0h1m1 0h1m-288 1h1m8 0h1m13 0h2m2 0h1m3 0h1m9 0h1m7 0h1m10 0h1m1 0h1m3 0h1m1 0h1m9 0h1m14 0h1m2 0h1m18 0h1m10 0h2m1 0h3m9 0h2m1 0h1m1 0h2m4 0h1m1 0h1m4 0h1m2 0h1m11 0h1m2 0h1m15 0h1m15 0h2m32 0h2m6 0h1m14 0h1m24 0h1m-346 1h1m1 0h1m38 0h1m20 0h1m16 0h1m5 0h1m7 0h2m1 0h1m16 0h1m3 0h1m3 0h1m10 0h1m16 0h1m1 0h1m11 0h1m1 0h1m5 0h2m7 0h2m29 0h1m2 0h3m8 0h1m11 0h1m3 0h1m2 0h1m4 0h1m21 0h1m9 0h1m9 0h1m31 0h1m13 0h1m1 0h2m2 0h2m4 0h1m1 0h1m-357 1h2m62 0h1m1 0h1m24 0h1m3 0h1m1 0h1m4 0h1m14 0h1m11 0h1m13 0h2m1 0h1m1 0h1m4 0h1m3 0h1m4 0h2m18 0h1m25 0h2m4 0h2m5 0h1m6 0h1m5 0h1m8 0h1m4 0h1m4 0h1m15 0h1m5 0h1m4 0h1m6 0h2m10 0h2m12 0h1m3 0h2m2 0h2m8 0h1m16 0h1m-349 1h1m63 0h1m12 0h1m3 0h1m7 0h1m7 0h1m9 0h1m5 0h4m23 0h1m3 0h2m5 0h1m1 0h1m3 0h1m3 0h1m7 0h2m3 0h1m4 0h2m7 0h2m6 0h1m9 0h1m9 0h1m4 0h1m5 0h1m8 0h1m5 0h1m15 0h1m3 0h1m12 0h1m5 0h2m6 0h2m1 0h1m6 0h1m4 0h1m2 0h2m3 0h1m4 0h1m4 0h1m3 0h2m7 0h1m16 0h1m-350 1h1m40 0h1m14 0h1m34 0h1m12 0h2m1 0h1m1 0h1m3 0h1m3 0h1m2 0h1m2 0h1m1 0h2m5 0h1m1 0h1m3 0h1m8 0h1m7 0h1m4 0h1m1 0h2m3 0h2m1 0h1m2 0h1m3 0h1m21 0h1m4 0h1m1 0h1m17 0h1m17 0h1m13 0h1m6 0h1m4 0h1m9 0h1m18 0h1m1 0h1m5 0h1m4 0h1m14 0h1m2 0h1m5 0h2m7 0h1m-278 1h1m4 0h1m21 0h2m5 0h3m6 0h1m4 0h1m1 0h1m8 0h1m8 0h1m5 0h1m4 0h3m1 0h1m2 0h1m4 0h1m1 0h1m7 0h3m8 0h2m5 0h1m11 0h1m2 0h2m1 0h1m1 0h1m8 0h1m4 0h1m10 0h1m4 0h2m5 0h1m8 0h1m2 0h1m7 0h1m26 0h1m4 0h1m2 0h1m6 0h2m1 0h1m5 0h2m1 0h1m4 0h1m20 0h1m1 0h1m-346 1h1m33 0h1m1 0h2m6 0h1m10 0h1m6 0h1m2 0h1m26 0h1m8 0h1m15 0h1m1 0h1m6 0h1m8 0h1m3 0h1m3 0h1m3 0h1m1 0h1m10 0h1m2 0h1m3 0h1m1 0h1m5 0h2m7 0h1m2 0h1m5 0h1m3 0h1m9 0h1m3 0h1m26 0h2m4 0h1m10 0h1m18 0h1m2 0h1m12 0h1m2 0h1m3 0h1m10 0h1m3 0h1m11 0h2m3 0h1m4 0h2m8 0h3m-343 1h1m28 0h1m4 0h1m1 0h1m10 0h1m3 0h1m2 0h2m32 0h1m4 0h1m2 0h1m12 0h1m3 0h1m6 0h1m1 0h1m10 0h1m9 0h2m3 0h1m12 0h1m15 0h1m4 0h1m10 0h1m3 0h1m17 0h1m12 0h1m3 0h1m3 0h1m14 0h1m4 0h1m6 0h1m8 0h1m3 0h1m12 0h1m3 0h1m11 0h1m5 0h1m8 0h1m17 0h1m1 0h1m2 0h1m-333 1h1m1 0h1m21 0h1m7 0h1m13 0h1m21 0h1m27 0h1m3 0h1m7 0h1m4 0h1m2 0h1m1 0h1m1 0h1m15 0h1m3 0h2m2 0h1m1 0h2m10 0h3m2 0h1m2 0h1m5 0h1m1 0h1m5 0h1m1 0h1m17 0h1m5 0h2m4 0h1m2 0h1m3 0h1m14 0h1m11 0h1m1 0h1m4 0h1m2 0h1m2 0h1m1 0h2m1 0h1m5 0h1m9 0h1m11 0h1m19 0h1m4 0h1m10 0h1m-331 1h1m35 0h1m11 0h1m29 0h1m26 0h1m11 0h1m3 0h1m7 0h1m4 0h2m1 0h1m2 0h1m1 0h1m18 0h1m10 0h2m6 0h1m1 0h1m2 0h1m1 0h1m20 0h1m2 0h1m7 0h1m2 0h1m1 0h3m6 0h2m1 0h1m3 0h1m26 0h1m1 0h2m11 0h1m3 0h1m2 0h2m19 0h2m1 0h1m2 0h1m3 0h1m13 0h2m-308 1h1m11 0h2m5 0h1m29 0h1m2 0h3m2 0h1m34 0h1m2 0h1m10 0h1m2 0h1m4 0h1m2 0h1m3 0h1m1 0h1m5 0h1m5 0h1m1 0h1m6 0h1m3 0h2m19 0h1m22 0h1m10 0h1m8 0h1m6 0h1m15 0h2m23 0h1m5 0h1m3 0h1m1 0h1m1 0h1m3 0h1m8 0h3m3 0h1m3 0h1m2 0h1m4 0h1m8 0h1m-319 1h1m23 0h1m22 0h1m15 0h1m4 0h1m2 0h1m7 0h1m13 0h1m2 0h1m1 0h1m11 0h1m2 0h1m1 0h1m4 0h1m18 0h1m7 0h1m3 0h1m1 0h1m4 0h2m35 0h1m4 0h1m22 0h1m3 0h1m4 0h1m30 0h1m13 0h1m4 0h1m7 0h1m6 0h1m4 0h1m2 0h1m4 0h1m5 0h1m1 0h1m2 0h1m-346 1h1m25 0h1m9 0h1m34 0h1m11 0h1m11 0h1m4 0h1m10 0h1m9 0h1m6 0h1m11 0h1m6 0h1m16 0h1m7 0h1m7 0h1m1 0h1m13 0h2m9 0h1m1 0h1m21 0h1m18 0h2m23 0h1m4 0h1m2 0h1m2 0h2m2 0h1m16 0h1m5 0h1m4 0h1m1 0h3m6 0h1m-303 1h1m9 0h1m2 0h1m9 0h1m15 0h2m5 0h3m5 0h1m18 0h1m3 0h3m4 0h2m2 0h1m1 0h1m8 0h1m4 0h3m1 0h1m6 0h1m1 0h1m8 0h1m2 0h1m13 0h1m6 0h1m3 0h1m3 0h1m1 0h2m1 0h2m3 0h1m1 0h1m18 0h2m1 0h2m7 0h1m10 0h1m5 0h1m5 0h1m23 0h1m16 0h4m5 0h1m29 0h1m12 0h1m-319 1h1m13 0h2m5 0h2m14 0h1m18 0h1m6 0h2m5 0h1m8 0h1m9 0h1m1 0h1m5 0h1m6 0h3m12 0h1m15 0h2m1 0h1m4 0h1m21 0h1m9 0h1m21 0h3m16 0h1m6 0h1m26 0h1m1 0h4m4 0h1m7 0h1m15 0h1m12 0h3m11 0h1m8 0h1m1 0h1m-327 1h1m17 0h1m7 0h1m10 0h1m13 0h1m8 0h1m4 0h1m7 0h1m4 0h2m6 0h1m18 0h1m10 0h1m6 0h1m9 0h1m2 0h1m1 0h1m1 0h1m15 0h1m12 0h1m4 0h1m3 0h1m3 0h1m3 0h1m69 0h1m2 0h2m9 0h1m2 0h2m15 0h1m1 0h2m1 0h1m14 0h2m1 0h1m6 0h1m2 0h1m-320 1h1m3 0h1m47 0h1m3 0h1m1 0h1m7 0h1m15 0h1m6 0h1m16 0h2m10 0h1m14 0h3m13 0h1m2 0h1m2 0h1m1 0h1m19 0h1m11 0h2m3 0h1m1 0h2m63 0h1m2 0h1m3 0h3m16 0h1m2 0h2m9 0h1m8 0h1m-310 1h1m33 0h1m10 0h1m18 0h1m15 0h1m14 0h1m2 0h1m5 0h1m1 0h1m10 0h1m6 0h1m1 0h2m8 0h1m2 0h1m6 0h1m14 0h1m12 0h1m1 0h1m5 0h1m2 0h1m5 0h2m62 0h1m2 0h1m35 0h1m1 0h1m2 0h1m16 0h1m1 0h1m2 0h1m-348 1h1m69 0h1m13 0h1m1 0h1m5 0h1m5 0h3m28 0h1m1 0h1m4 0h1m37 0h1m34 0h1m6 0h1m71 0h1m28 0h1m5 0h1m13 0h1m1 0h1m2 0h1m2 0h4m-323 1h1m54 0h1m30 0h1m2 0h1m7 0h1m3 0h2m2 0h1m4 0h1m1 0h1m6 0h2m3 0h1m3 0h1m4 0h1m20 0h2m5 0h1m3 0h1m4 0h1m4 0h1m2 0h1m77 0h1m7 0h1m21 0h1m8 0h1m3 0h2m3 0h1m5 0h1m6 0h1m4 0h1m-328 1h1m20 0h1m33 0h1m9 0h1m4 0h1m21 0h1m5 0h1m11 0h1m33 0h2m3 0h1m5 0h2m3 0h2m2 0h2m3 0h2m3 0h1m4 0h1m2 0h2m115 0h2m7 0h1m2 0h1m-268 1h1m73 0h1m12 0h1m15 0h1m8 0h1m5 0h1m1 0h3m10 0h1m3 0h1m4 0h1m7 0h1m71 0h1m28 0h2m1 0h1m1 0h1m10 0h1m-333 1h1m64 0h1m21 0h1m13 0h1m1 0h1m9 0h1m1 0h2m33 0h1m9 0h1m11 0h1m11 0h1m1 0h1m8 0h1m2 0h1m22 0h1m65 0h1m29 0h1m13 0h1m1 0h1m2 0h1m1 0h1m-234 1h4m3 0h1m8 0h1m28 0h1m7 0h1m10 0h2m6 0h1m6 0h1m3 0h1m14 0h1m114 0h1m15 0h1m8 0h2m-310 1h1m1 0h2m36 0h1m7 0h1m8 0h1m6 0h1m5 0h1m8 0h1m18 0h1m11 0h1m4 0h1m4 0h2m6 0h1m4 0h1m6 0h1m4 0h2m2 0h1m3 0h1m4 0h1m2 0h2m120 0h1m16 0h1m-296 1h1m34 0h1m9 0h1m15 0h1m12 0h1m3 0h1m2 0h1m26 0h2m4 0h1m5 0h3m13 0h1m10 0h1m132 0h1m7 0h2m1 0h1m2 0h3m1 0h2m3 0h1m5 0h1m-315 1h2m9 0h1m22 0h1m24 0h2m2 0h1m16 0h1m10 0h2m24 0h2m2 0h1m2 0h2m5 0h1m5 0h2m7 0h1m19 0h1m1 0h1m13 0h1m107 0h1m6 0h1m5 0h3m2 0h1m-234 1h1m5 0h1m7 0h1m4 0h1m10 0h1m2 0h1m13 0h1m6 0h2m3 0h1m12 0h1m3 0h1m8 0h1m5 0h1m5 0h1m115 0h1m16 0h1m5 0h1m-262 1h1m18 0h1m11 0h1m4 0h1m2 0h1m1 0h1m20 0h1m4 0h1m11 0h1m3 0h1m20 0h1m5 0h1m7 0h1m6 0h2m4 0h2m114 0h1m7 0h1m8 0h1m1 0h1m3 0h1m-337 1h1m55 0h2m23 0h1m10 0h1m2 0h1m2 0h1m2 0h2m4 0h1m8 0h2m3 0h2m5 0h1m19 0h2m32 0h1m16 0h1m106 0h1m5 0h1m1 0h1m6 0h1m9 0h1m6 0h1m-296 1h1m3 0h1m2 0h1m3 0h1m12 0h1m18 0h1m3 0h1m15 0h1m9 0h1m8 0h1m1 0h1m24 0h1m6 0h1m1 0h1m8 0h1m3 0h1m1 0h1m5 0h1m1 0h1m1 0h1m3 0h1m3 0h1m1 0h1m135 0h1m-286 1h3m4 0h1m12 0h1m1 0h1m8 0h1m7 0h1m4 0h1m8 0h1m2 0h1m16 0h1m35 0h2m13 0h1m3 0h1m1 0h1m3 0h1m4 0h1m2 0h1m116 0h1m15 0h1m10 0h1m-295 1h1m3 0h1m30 0h1m11 0h1m37 0h2m3 0h1m29 0h1m10 0h1m2 0h2m2 0h2m6 0h5m116 0h1m8 0h1m2 0h1m11 0h1m1 0h1m-293 1h1m12 0h1m1 0h2m19 0h1m3 0h1m12 0h1m27 0h1m51 0h1m4 0h2m12 0h1m113 0h1m7 0h1m4 0h1m11 0h1m4 0h1m-289 1h1m4 0h1m19 0h1m2 0h1m1 0h1m9 0h1m3 0h1m7 0h1m5 0h1m69 0h1m140 0h1m11 0h1m2 0h1m1 0h1m-301 1h1m3 0h1m16 0h1m21 0h1m4 0h1m8 0h1m26 0h2m59 0h1m24 0h1m106 0h1m14 0h1m9 0h2m-305 1h1m12 0h2m21 0h2m16 0h1m3 0h1m3 0h1m3 0h1m5 0h1m12 0h2m69 0h1m120 0h1m3 0h1m1 0h1m-281 1h1m4 0h1m5 0h1m5 0h1m5 0h1m19 0h1m10 0h1m2 0h1m109 0h1m4 0h1m103 0h1m5 0h1m4 0h1m3 0h1m13 0h1m-307 1h1m4 0h1m21 0h1m12 0h1m6 0h1m11 0h1m6 0h1m4 0h1m3 0h1m2 0h1m67 0h1m1 0h1m21 0h3m98 0h1m11 0h1m7 0h1m-287 1h1m3 0h1m22 0h1m4 0h1m3 0h2m5 0h1m7 0h1m3 0h2m4 0h1m81 0h1m20 0h1m115 0h1m1 0h1m7 0h1m4 0h1m-297 1h1m4 0h2m9 0h1m17 0h1m13 0h1m6 0h2m6 0h1m14 0h1m188 0h2m1 0h1m2 0h1m16 0h2m1 0h1m2 0h1m5 0h2m-303 1h1m14 0h1m4 0h1m17 0h1m2 0h1m2 0h1m10 0h1m14 0h2m4 0h1m218 0h1m1 0h1m2 0h2m-300 1h1m1 0h2m9 0h1m2 0h1m2 0h1m18 0h1m18 0h1m6 0h1m4 0h1m194 0h1m4 0h1m19 0h1m7 0h1m2 0h1m-274 1h1m3 0h1m9 0h2m3 0h1m6 0h1m2 0h1m3 0h1m9 0h1m222 0h1m-296 1h1m6 0h2m14 0h1m13 0h1m6 0h1m25 0h1m223 0h1m2 0h1m5 0h1m-308 1h1m37 0h1m1 0h1m3 0h1m14 0h1m4 0h1m224 0h1m17 0h1m-304 1h1m35 0h1m5 0h1m3 0h1m6 0h1m6 0h1m4 0h1m3 0h1m211 0h1m11 0h2m4 0h2m-283 1h1m7 0h1m6 0h1m9 0h1m11 0h1m222 0h1m6 0h1m9 0h1m-279 1h1m18 0h1m13 0h1m10 0h1m2 0h1m1 0h1m210 0h1m1 0h1m17 0h1m6 0h1m-287 1h1m4 0h1m1 0h1m20 0h1m9 0h1m5 0h1m227 0h1m6 0h3m6 0h1m-272 1h1m20 0h1m219 0h2m18 0h2m3 0h3m-281 1h2m12 0h1m21 0h1m213 0h2m6 0h1m12 0h1m2 0h1m5 0h1m-305 1h1m44 0h1m2 0h1m8 0h1m219 0h1m2 0h1m10 0h1m7 0h1m1 0h1m1 0h1m-305 1h1m29 0h1m23 0h1m227 0h2m9 0h1m11 0h1m-268 1h2m2 0h1m238 0h2m10 0h1m1 0h1m-268 1h1m14 0h1m4 0h1m4 0h1m235 0h1m7 0h1m1 0h1m5 0h1m-254 1h1m222 0h1m14 0h1m1 0h1m4 0h3m3 0h1m9 0h1m-281 1h1m8 0h2m2 0h1m2 0h1m232 0h1m9 0h1m1 0h1m2 0h1m12 0h1m-292 1h1m8 0h1m9 0h1m257 0h1m3 0h1m-262 1h1m1 0h1m6 0h1m228 0h1m18 0h1m5 0h2m10 0h1m-24 1h1m7 0h1m3 0h1m2 0h1m1 0h1m1 0h1m1 0h1m-31 1h1m1 0h1m9 0h2m14 0h2m-283 1h1m1 0h1m2 0h1m-2 1h1m3 0h2m244 0h1m7 0h1m1 0h1m-249 1h1m241 0h1m5 0h1m3 0h1m2 0h1m3 0h1m-281 1h3m14 0h1m241 0h1m9 0h1m6 0h1m3 0h2m-20 1h1m11 0h1m3 0h2m1 0h1m4 0h1m-28 1h1m10 1h1m1 0h1m-278 1h1m14 0h1m250 0h1m16 0h1m4 0h1m-281 1h1m8 0h1m4 0h1m244 0h1m4 0h1m21 0h2m-289 1h1m265 0h1m1 0h1m-262 1h1m273 0h1m4 0h1m-284 1h1m264 0h1m3 0h1m-9 1h1m5 0h1m8 0h1m-7 2h1m10 0h2m2 0h2m-290 1h1m9 0h1m4 0h1m-9 1h1m7 0h1m251 0h1m6 0h2m-288 2h2m285 0h1m2 0h2m-291 1h1m15 0h1m265 0h1m1 0h3m7 0h2m-291 1h1m276 0h2m4 0h1m-280 1h1m4 0h2m273 0h1m-4 1h1m-283 1h1m11 0h1m280 0h1m-293 1h1m3 0h1m280 0h1m4 0h2m-283 1h1m3 0h1m-10 1h1m277 0h1m2 0h1m-282 1h1m12 0h1m269 0h1m-271 1h1m1 0h1m262 0h2m-269 3h1m4 0h1m2 1h1m1 0h1m-4 1h1m3 0h1m-6 1h2m1 1h1m255 1h1m-5 2h1m2 0h1"/>
</g>
<path d="M134.9 99.0L138.0 100.6L141.2 102.2L144.3 103.7L147.5 105.3L150.6 106.9L153.8 108.5L154.9 110.1L156.0 111.7L157.1 113.4L158.2 115.0L159.3 116.6L160.4 118.2L162.6 121.1L164.7 124.0L166.8 126.9L168.9 129.8L171.1 132.7L173.2 135.5L177.5 136.4L181.8 137.3L186.1 138.2L190.4 139.0L194.7 139.9L199.0 140.7L203.4 141.4L207.7 142.1L212.0 142.8L216.4 143.5L220.7 144.2L225.0 144.9L228.3 144.6L231.5 144.2L234.8 143.9L238.0 143.6L241.2 143.2L244.5 142.9L246.8 142.8L249.2 142.8L251.5 142.7L253.9 142.7L256.2 142.6L258.6 142.5L267.3 144.6L276.0 146.7L284.7 148.8L293.4 150.8L302.2 152.8L310.9 154.8M332.3 45.0L328.8 60.5L325.3 76.1L321.8 91.7L318.3 107.4L314.8 123.1L311.3 138.8L311.2 141.4L311.2 144.1L311.1 146.8L311.0 149.4L311.0 152.1L310.9 154.8M310.9 154.8L312.2 157.6L313.6 160.5L314.9 163.4L316.3 166.2L317.6 169.1L318.9 171.9L316.9 175.3L314.8 178.7L312.7 182.1L310.6 185.5L308.5 188.8L306.4 192.2L303.6 196.1L300.9 200.0L298.1 203.9L295.3 207.7L292.5 211.6L289.7 215.5L289.8 218.7L289.8 221.9L289.9 225.2L289.9 228.4L290.0 231.6L290.0 234.8L287.6 245.9L285.1 256.9L282.6 268.0L280.2 279.0L277.7 290.1L275.2 301.1M83.3 250.5L115.0 259.9L146.8 269.0L178.8 277.6L210.8 285.9L243.0 293.7L275.2 301.1L302.2 307.0L329.2 312.6L356.3 318.0L383.4 323.0L410.6 327.8L437.8 332.2M356.4 50.2L355.1 56.4L353.8 62.6L352.5 68.7L351.2 74.9L349.8 81.1L348.5 87.3L349.2 91.1L349.9 94.9L350.6 98.8L351.3 102.6L352.1 106.4L352.8 110.3L354.3 111.5L355.7 112.8L357.2 114.1L358.7 115.3L360.2 116.6L361.7 117.8L363.8 122.1L366.0 126.3L368.2 130.6L370.4 134.9L372.7 139.1L374.9 143.4L375.1 148.2L375.2 153.0L375.4 157.8L375.5 162.6L375.7 167.4L375.9 172.2L377.4 174.4L379.0 176.6L380.6 178.8L382.2 181.0L383.8 183.2L385.3 185.4L386.6 189.2L387.9 192.9L389.2 196.7L390.6 200.4L391.9 204.2L393.2 207.9L395.3 212.4L397.4 217.0L399.5 221.5L401.6 226.0L403.7 230.5L405.9 235.1L411.7 235.1L417.6 235.2L423.5 235.3L429.3 235.3L435.2 235.3L441.0 235.3L443.0 236.0L444.9 236.6L446.8 237.2L448.7 237.8L450.7 238.5L452.6 239.1M455.5 220.5L451.6 245.3L447.7 270.1L443.7 294.9L439.8 319.8L435.8 344.7L431.9 369.6L441.1 371.0L450.4 372.4L459.7 373.8L468.9 375.2L478.2 376.5L487.5 377.8L520.0 382.0L552.5 385.9L585.1 389.4L617.7 392.4L650.4 395.1L683.1 397.3M455.5 220.5L486.1 225.2L516.7 229.5L547.4 233.4L578.1 236.9L608.9 240.1L639.7 242.8M652.2 94.0L648.0 143.4L643.9 193.0L639.7 242.8L635.5 292.8L631.3 343.0L627.0 393.2M487.5 377.8L479.2 438.3L470.9 498.8L462.6 559.3L454.3 619.7L446.0 680.1L437.7 740.3M356.0 317.9L349.1 353.8L342.3 389.8L335.4 425.7L328.5 461.7L321.6 497.7L314.7 533.7L311.7 534.7L308.7 535.7L305.7 536.7L302.7 537.8L299.7 538.8L296.7 539.8L295.4 545.7L294.1 551.5L292.8 557.4L291.5 563.2L290.2 569.1L288.9 574.9M195.2 281.9L190.5 300.2L185.8 318.5L181.1 336.9L176.4 355.2L171.7 373.6L167.0 391.9L186.0 422.7L205.5 453.5L225.6 484.0L246.1 514.5L267.2 544.8L288.9 574.9L288.6 579.4L288.4 583.8L288.2 588.3L288.0 592.7L287.8 597.2L287.6 601.7L285.5 607.0L283.4 612.4L281.3 617.8L279.2 623.1L277.1 628.5L275.0 633.8L274.1 638.0L273.1 642.2L272.2 646.4L271.2 650.6L270.3 654.7L269.4 658.9M320.4 503.9L374.2 513.6L428.2 522.3L482.3 530.0L536.6 536.6L591.0 542.1L645.4 546.6L686.8 549.4L728.2 551.5L769.6 552.9L811.1 553.8L852.6 554.1L894.0 553.8M645.4 546.6L645.2 549.8L645.0 552.9L644.8 556.1L644.5 559.2L644.3 562.4L644.1 565.5L643.9 565.5L643.7 565.5L643.5 565.5L643.3 565.5L643.1 565.5L642.9 565.5L640.7 593.8L638.5 622.1L636.3 650.4L634.2 678.7L632.0 706.9L629.8 735.1L611.1 733.7L592.4 732.1L573.6 730.5L554.9 728.7L536.2 726.8L517.5 724.7L517.9 726.2L518.2 727.6L518.5 729.0L518.8 730.5L519.1 731.9L519.5 733.3M683.1 397.3L681.5 422.5L679.9 447.7L678.3 472.9L676.7 498.1L675.2 523.3L673.6 548.6M642.6 207.7L675.1 210.2L707.7 212.3L740.3 213.9L772.9 215.2L805.5 216.0L838.1 216.3M821.9 102.1L823.4 110.8L824.9 119.5L826.4 128.1L827.9 136.8L829.5 145.5L831.0 154.2L832.0 162.3L833.0 170.4L834.0 178.5L835.1 186.6L836.1 194.7L837.1 202.9L837.3 205.1L837.4 207.4L837.6 209.6L837.8 211.9L837.9 214.1L838.1 216.3L838.1 220.3L838.0 224.3L838.0 228.3L838.0 232.4L838.0 236.4L838.0 240.4L838.5 240.4L838.9 240.4L839.4 240.4L839.9 240.4L840.4 240.4L840.9 240.4L840.8 251.6L840.8 262.9L840.7 274.2L840.7 285.5L840.7 296.8L840.6 308.1L839.9 313.1L839.2 318.2L838.5 323.2L837.8 328.2L837.1 333.2L836.4 338.3L837.1 339.5L837.8 340.8L838.4 342.1L839.1 343.3L839.8 344.6L840.5 345.8M633.4 317.9L658.5 319.9L683.7 321.6L708.9 323.1L734.1 324.4L759.4 325.4L784.6 326.1L791.4 327.9L798.2 329.6L805.0 331.3L811.8 333.0L818.6 334.7L825.4 336.3L827.9 337.9L830.4 339.5L832.9 341.1L835.5 342.7L838.0 344.3L840.5 345.8M840.6 308.1L864.2 308.1L887.9 307.8L911.5 307.4L935.1 306.7L958.7 305.8L982.3 304.7M680.7 435.1L712.7 436.9L744.7 438.4L776.7 439.4L808.8 440.1L840.8 440.4L872.9 440.3M840.5 345.8L842.5 350.3L844.6 354.7L846.6 359.1L848.7 363.5L850.8 367.9L852.9 372.3L853.6 377.3L854.3 382.4L855.0 387.4L855.7 392.5L856.4 397.5L857.1 402.6L857.6 405.1L858.1 407.6L858.5 410.1L859.0 412.6L859.5 415.2L860.0 417.7L862.1 421.5L864.3 425.2L866.4 429.0L868.6 432.8L870.7 436.6L872.9 440.3L876.3 446.0L879.6 451.6L883.1 457.3L886.5 462.9L889.9 468.5L893.4 474.2L893.5 487.4L893.6 500.7L893.7 514.0L893.8 527.2L893.9 540.5L894.0 553.8L894.1 556.9L894.1 560.1L894.2 563.2L894.2 566.4L894.3 569.5L894.3 572.7L895.4 579.6L896.4 586.6L897.5 593.5L898.6 600.4L899.6 607.3L900.7 614.3L900.6 625.4L900.6 636.5L900.5 647.6L900.5 658.7L900.4 669.8L900.3 680.9M859.4 418.4L878.4 418.2L897.5 417.8L916.5 417.3L935.5 416.6L954.5 415.8L973.5 414.9L975.1 416.1L976.7 417.3L978.3 418.4L979.9 419.6L981.6 420.8L983.2 422.0M644.1 565.5L659.0 566.6L673.9 567.6L688.8 568.4L703.7 569.3L718.6 570.0L733.6 570.6L733.1 582.9L732.6 595.1L732.1 607.3L731.6 619.6L731.1 631.8L730.5 644.0L734.5 646.5L738.5 648.9L742.5 651.3L746.6 653.7L750.6 656.1L754.6 658.5L761.2 660.6L767.8 662.7L774.5 664.8L781.1 666.9L787.8 668.9L794.4 670.9L801.6 671.7L808.8 672.4L816.0 673.1L823.2 673.9L830.5 674.5L837.7 675.2L844.4 674.3L851.1 673.3L857.8 672.4L864.5 671.4L871.2 670.4L877.9 669.4L881.6 671.4L885.3 673.3L889.1 675.2L892.8 677.1L896.6 679.0L900.3 680.9L902.6 681.4L904.9 681.9L907.2 682.4L909.5 683.0L911.8 683.5L914.0 684.0L914.3 693.8L914.5 703.6L914.7 713.5L914.9 723.3L915.1 733.1L915.3 742.9L916.7 747.8L918.1 752.7L919.5 757.7L920.8 762.6L922.2 767.5L923.6 772.5L925.1 776.8L926.5 781.2L928.0 785.5L929.4 789.9L930.9 794.2L932.3 798.6L930.8 803.6L929.4 808.7L927.9 813.8L926.4 818.8L924.9 823.8L923.4 828.9M914.5 704.0L929.4 703.8L944.4 703.5L959.3 703.1L974.3 702.6L989.2 702.1L1004.2 701.5L1004.5 705.9L1004.9 710.3L1005.2 714.7L1005.5 719.1L1005.8 723.4L1006.2 727.8L1004.6 733.6L1003.1 739.3L1001.5 745.1L1000.0 750.8L998.4 756.5L996.8 762.3L996.2 764.8L995.7 767.4L995.1 769.9L994.5 772.4L993.9 775.0L993.4 777.5L1003.5 777.0L1013.6 776.5L1023.8 775.9L1033.9 775.3L1044.1 774.7L1054.2 774.1L1054.3 777.2L1054.4 780.3L1054.5 783.5L1054.6 786.6L1054.7 789.7L1054.8 792.9L1055.7 794.8L1056.7 796.8L1057.6 798.7L1058.6 800.7L1059.5 802.6L1060.5 804.5M894.3 572.7L916.6 572.3L938.8 571.7L961.1 570.9L983.3 569.9L1005.5 568.8L1027.8 567.5L1026.9 570.7L1026.0 573.9L1025.1 577.1L1024.2 580.4L1023.2 583.6L1022.3 586.8L1025.7 586.6L1029.0 586.4L1032.4 586.2L1035.8 586.0L1039.1 585.7L1042.5 585.5L1040.9 592.0L1039.3 598.4L1037.7 604.8L1036.1 611.2L1034.5 617.7L1032.8 624.1L1030.5 628.0L1028.2 632.0L1025.9 635.9L1023.6 639.8L1021.3 643.7L1018.9 647.7L1016.5 656.7L1014.1 665.6L1011.6 674.6L1009.2 683.6L1006.7 692.5L1004.2 701.5M982.3 304.7L983.1 309.4L983.8 314.1L984.6 318.8L985.4 323.5L986.2 328.1L987.0 332.8L989.1 334.3L991.3 335.8L993.4 337.2L995.6 338.7L997.7 340.1L999.8 341.6L1002.2 345.9L1004.5 350.1L1006.8 354.4L1009.1 358.7L1011.5 363.0L1013.8 367.2L1010.4 371.2L1006.9 375.2L1003.4 379.2L999.9 383.2L996.4 387.2L992.9 391.2L991.3 396.3L989.7 401.5L988.1 406.6L986.4 411.7L984.8 416.9L983.2 422.0L983.1 424.5L983.0 427.1L982.8 429.6L982.7 432.1L982.6 434.7L982.5 437.2L986.3 442.1L990.1 446.9L994.0 451.8L997.8 456.6L1001.7 461.5L1005.6 466.3L1008.3 468.7L1011.1 471.1L1013.9 473.4L1016.7 475.8L1019.5 478.2L1022.3 480.5L1022.3 484.3L1022.3 488.1L1022.3 491.9L1022.3 495.7L1022.3 499.5L1022.3 503.3L1026.1 509.4L1029.9 515.5L1033.7 521.5L1037.6 527.6L1041.4 533.7L1045.3 539.8L1047.1 541.0L1048.9 542.3L1050.8 543.5L1052.6 544.8L1054.4 546.1L1056.2 547.3L1055.0 550.5L1053.7 553.6L1052.5 556.7L1051.2 559.9L1049.9 563.0L1048.6 566.1L1047.6 569.3L1046.6 572.6L1045.6 575.8L1044.5 579.0L1043.5 582.3L1042.5 585.5M948.3 187.8L948.5 191.3L948.6 194.7L948.7 198.1L948.9 201.6L949.0 205.0L949.1 208.4L947.1 211.6L945.0 214.8L943.0 218.0L940.9 221.2L938.8 224.4L936.8 227.6L937.1 232.0L937.5 236.4L937.9 240.7L938.2 245.1L938.6 249.5L939.0 253.9L943.3 257.5L947.7 261.1L952.0 264.7L956.4 268.2L960.8 271.8L965.2 275.4L968.0 280.3L970.9 285.2L973.7 290.1L976.5 295.0L979.4 299.9L982.3 304.7M999.8 341.6L1012.9 340.8L1025.9 340.0L1038.9 339.0L1052.0 338.1L1065.0 337.0L1078.0 335.9M997.5 188.4L998.5 190.6L999.6 192.9L1000.6 195.1L1001.6 197.4L1002.6 199.6L1003.6 201.9L1011.9 202.9L1020.2 203.9L1028.6 204.9L1036.9 205.9L1045.3 206.8L1053.7 207.7L1056.4 211.2L1059.1 214.7L1061.8 218.3L1064.5 221.8L1067.2 225.3L1070.0 228.9L1070.7 230.4L1071.5 231.9L1072.3 233.4L1073.1 234.9L1073.9 236.4L1074.7 237.9M1088.1 365.4L1089.4 380.1L1090.8 394.9L1092.1 409.6L1093.4 424.4L1094.8 439.2L1096.1 454.0L1096.0 456.8L1096.0 459.7L1095.9 462.5L1095.8 465.4L1095.7 468.3L1095.6 471.1L1094.5 475.0L1093.4 478.9L1092.3 482.8L1091.2 486.7L1090.1 490.6L1088.9 494.5L1088.5 497.8L1088.0 501.0L1087.6 504.2L1087.1 507.4L1086.6 510.6L1086.2 513.8L1084.7 516.5L1083.2 519.1L1081.7 521.8L1080.2 524.4L1078.7 527.1L1077.2 529.8L1073.7 532.7L1070.2 535.6L1066.7 538.6L1063.3 541.5L1059.8 544.4L1056.2 547.3M1087.9 363.1L1100.5 362.3L1113.2 361.5L1125.8 360.6L1138.4 359.6L1151.0 358.6L1163.6 357.5L1169.8 356.5L1176.0 355.6L1182.2 354.6L1188.4 353.6L1194.5 352.6L1200.7 351.6M1163.6 357.5L1165.5 373.7L1167.3 390.0L1169.2 406.3L1171.0 422.6L1172.9 438.9L1174.7 455.3L1171.9 459.4L1169.1 463.6L1166.3 467.7L1163.4 471.8L1160.6 476.0L1157.7 480.1L1154.2 483.7L1150.7 487.2L1147.2 490.8L1143.7 494.3L1140.1 497.9L1136.6 501.4L1132.8 503.1L1129.0 504.7L1125.3 506.4L1121.5 508.0L1117.7 509.7L1114.0 511.3L1109.3 511.7L1104.7 512.2L1100.1 512.6L1095.4 513.0L1090.8 513.4L1086.2 513.8M1174.7 455.3L1177.3 455.9L1179.9 456.5L1182.5 457.2L1185.1 457.8L1187.7 458.5L1190.3 459.1L1196.7 459.9L1203.1 460.6L1209.6 461.4L1216.0 462.1L1222.4 462.9L1228.9 463.6L1231.0 465.2L1233.2 466.8L1235.4 468.4L1237.6 470.0L1239.8 471.6L1242.0 473.2L1245.2 468.6L1248.5 464.0L1251.7 459.3L1254.9 454.7L1258.1 450.1L1261.3 445.5L1263.8 442.8L1266.3 440.2L1268.9 437.6L1271.4 435.0L1273.9 432.3L1276.4 429.7L1277.7 427.6L1279.1 425.4L1280.4 423.3L1281.8 421.2L1283.1 419.0L1284.5 416.9L1285.1 410.8L1285.7 404.7L1286.3 398.6L1286.8 392.5L1287.4 386.4L1288.0 380.3L1286.6 371.9L1285.2 363.6L1283.9 355.2L1282.5 346.9L1281.1 338.6L1279.7 330.3M1298.6 315.9L1298.9 317.6L1299.2 319.3L1299.5 321.0L1299.8 322.6L1300.1 324.3L1300.3 326.0L1320.4 322.4L1340.4 318.7L1360.4 314.9L1380.3 310.8L1400.2 306.7L1420.1 302.3L1422.4 305.1L1424.7 307.8L1426.9 310.5L1429.2 313.2L1431.5 315.9L1433.8 318.7L1435.3 319.3L1436.9 319.9L1438.5 320.5L1440.0 321.1L1441.6 321.7L1443.2 322.3L1442.0 325.5L1440.8 328.7L1439.6 331.9L1438.4 335.1L1437.2 338.2L1436.0 341.4L1437.2 344.4L1438.3 347.4L1439.5 350.3L1440.6 353.3L1441.8 356.3L1442.9 359.3L1444.4 360.5L1445.9 361.8L1447.4 363.1L1448.9 364.4L1450.4 365.6L1451.9 366.9L1449.0 369.9L1446.0 372.8L1443.0 375.7L1440.0 378.7L1437.0 381.6L1434.0 384.5M1288.0 380.3L1288.9 386.0L1289.9 391.7L1290.8 397.4L1291.8 403.2L1292.7 408.9L1293.7 414.6L1315.9 410.9L1338.1 406.9L1360.3 402.8L1382.4 398.4L1404.5 393.9L1426.5 389.3L1428.2 397.1L1429.9 404.9L1431.6 412.8L1433.3 420.6L1435.0 428.4L1436.7 436.3L1440.2 435.5L1443.7 434.8L1447.2 434.0L1450.7 433.2L1454.3 432.4L1457.8 431.6M1323.0 409.6L1323.6 412.9L1324.1 416.1L1324.7 419.3L1325.3 422.6L1325.8 425.8L1326.4 429.0L1331.1 425.6L1335.7 422.2L1340.4 418.8L1345.0 415.4L1349.6 412.0L1354.2 408.5L1357.8 409.8L1361.5 411.0L1365.1 412.2L1368.8 413.5L1372.4 414.7L1376.1 415.9L1379.3 417.5L1382.6 419.1L1385.9 420.7L1389.1 422.3L1392.4 423.9L1395.6 425.5L1395.5 428.5L1395.4 431.4L1395.2 434.3L1395.1 437.3L1394.9 440.2L1394.8 443.1L1399.9 445.3L1405.0 447.5L1410.2 449.6L1415.4 451.8L1420.5 453.9L1425.7 456.1M1373.3 416.5L1371.4 419.4L1369.5 422.3L1367.6 425.3L1365.7 428.2L1363.9 431.1L1362.0 434.1L1359.1 437.2L1356.3 440.3L1353.4 443.4L1350.5 446.5L1347.6 449.6L1344.8 452.7L1342.4 455.7L1339.9 458.7L1337.5 461.7L1335.1 464.7L1332.6 467.7L1330.2 470.7L1327.5 475.0L1324.8 479.3L1322.0 483.6L1319.3 487.9L1316.5 492.3L1313.8 496.6L1310.6 498.4L1307.4 500.2L1304.2 502.0L1301.0 503.8L1297.8 505.6L1294.6 507.4L1291.3 508.5L1288.0 509.7L1284.7 510.9L1281.4 512.0L1278.1 513.2L1274.7 514.3L1272.9 512.4L1271.2 510.4L1269.4 508.4L1267.6 506.5L1265.8 504.5L1264.0 502.5L1262.3 501.2L1260.6 499.8L1258.9 498.5L1257.3 497.1L1255.6 495.8L1253.9 494.4L1251.9 490.9L1249.9 487.4L1247.9 483.8L1245.9 480.3L1243.9 476.7L1242.0 473.2M1264.0 502.5L1256.7 509.7L1249.4 516.8L1242.0 523.9L1234.6 531.0L1227.2 538.1L1219.7 545.1L1198.2 548.5L1176.7 551.7L1155.1 554.7L1133.6 557.6L1112.0 560.3L1090.3 562.9L1083.4 563.5L1076.4 564.0L1069.5 564.6L1062.5 565.1L1055.6 565.6L1048.6 566.1M1219.7 545.1L1258.0 540.1L1296.4 534.6L1334.6 528.6L1372.7 522.0L1410.8 514.9L1448.8 507.3M1279.6 536.6L1278.4 540.0L1277.2 543.3L1275.9 546.7L1274.6 550.1L1273.4 553.5L1272.1 556.9L1269.2 557.9L1266.4 559.0L1263.5 560.1L1260.6 561.1L1257.7 562.2L1254.8 563.2L1250.7 566.7L1246.7 570.1L1242.6 573.5L1238.5 577.0L1234.4 580.4L1230.2 583.8L1226.5 586.5L1222.8 589.3L1219.1 592.0L1215.4 594.7L1211.6 597.4L1207.9 600.1L1208.0 601.3L1208.2 602.6L1208.3 603.8L1208.5 605.1L1208.7 606.3L1208.8 607.6L1189.1 610.0L1169.5 612.2L1149.8 614.3L1130.1 616.3L1110.3 618.2L1090.6 619.9L1080.0 620.7L1069.3 621.6L1058.7 622.3L1048.0 623.1L1037.4 623.8L1026.7 624.5M1207.9 600.1L1214.1 600.6L1220.3 601.0L1226.5 601.5L1232.7 602.0L1238.9 602.4L1245.1 602.8L1255.3 600.4L1265.4 598.0L1275.6 595.6L1285.7 593.1L1295.9 590.6L1306.0 588.0L1307.6 590.0L1309.2 592.0L1310.8 594.0L1312.4 595.9L1314.0 597.9L1315.6 599.9L1321.2 599.0L1326.7 598.1L1332.2 597.2L1337.7 596.2L1343.3 595.3L1348.8 594.3L1355.6 599.2L1362.4 604.1L1369.3 608.9L1376.1 613.8L1383.0 618.6L1390.0 623.4M1245.1 602.8L1250.5 608.4L1255.9 614.1L1261.3 619.7L1266.8 625.2L1272.3 630.8L1277.7 636.4L1280.9 640.4L1284.1 644.4L1287.3 648.3L1290.6 652.3L1293.8 656.3L1297.0 660.2L1301.3 667.6L1305.6 674.9L1309.9 682.1L1314.2 689.4L1318.5 696.7L1322.9 704.0M1169.5 612.2L1173.0 625.8L1176.6 639.3L1180.2 652.9L1183.8 666.4L1187.4 680.0L1191.1 693.5L1192.7 698.3L1194.3 703.2L1195.9 708.1L1197.6 713.0L1199.2 717.9L1200.8 722.7L1201.6 729.0L1202.3 735.2L1203.0 741.4L1203.8 747.7L1204.5 753.9L1205.2 760.1L1206.2 761.9L1207.3 763.7L1208.3 765.5L1209.3 767.2L1210.3 769.0L1211.3 770.8L1225.6 770.0L1239.8 769.2L1254.0 768.3L1268.2 767.3L1282.5 766.2L1296.7 765.1L1297.5 763.4L1298.4 761.7L1299.2 760.0L1300.0 758.3L1300.9 756.6L1301.7 754.9L1304.7 755.1L1307.7 755.2L1310.7 755.4L1313.7 755.6L1316.7 755.8L1319.8 755.9M1205.2 760.1L1191.4 761.7L1177.6 763.3L1163.8 764.7L1150.0 766.1L1136.1 767.4L1122.3 768.7L1123.7 772.4L1125.1 776.0L1126.5 779.7L1127.9 783.3L1129.3 787.0L1130.7 790.6M1090.6 619.9L1090.9 639.5L1091.3 659.0L1091.6 678.6L1091.9 698.2L1092.1 717.7L1092.4 737.2L1093.4 746.6L1094.4 756.0L1095.5 765.3L1096.5 774.7L1097.5 784.1L1098.5 793.4M1447.3 179.9L1449.6 188.4L1451.9 196.8L1454.2 205.3L1456.5 213.8L1458.8 222.3L1461.1 230.8L1462.6 235.9L1464.1 241.0L1465.5 246.2L1467.0 251.3L1468.5 256.5L1470.0 261.6L1470.0 266.1L1469.9 270.7L1469.8 275.2L1469.7 279.8L1469.7 284.4L1469.6 288.9L1470.5 295.5L1471.4 302.1L1472.2 308.7L1473.1 315.3L1474.0 321.9L1474.8 328.5M1494.8 167.8L1493.8 172.6L1492.7 177.4L1491.7 182.2L1490.7 187.0L1489.6 191.8L1488.6 196.7L1488.4 203.8L1488.1 211.0L1487.9 218.2L1487.6 225.4L1487.4 232.6L1487.1 239.8L1487.4 242.8L1487.7 245.8L1488.0 248.8L1488.2 251.7L1488.5 254.7L1488.8 257.7M1470.0 261.6L1478.7 259.8L1487.5 257.9L1496.2 256.0L1504.9 254.1L1513.6 252.2L1522.3 250.2L1523.7 248.6L1525.2 247.0L1526.7 245.5L1528.1 243.9L1529.6 242.3L1531.1 240.8M1534.1 231.3L1532.3 228.9L1530.5 226.5L1528.6 224.0L1526.8 221.6L1525.0 219.2L1523.1 216.7L1519.7 206.3L1516.3 195.8L1512.8 185.4L1509.4 174.9L1506.0 164.5L1502.6 154.1M1469.6 288.9L1477.3 287.4L1485.0 285.8L1492.7 284.2L1500.3 282.6L1508.0 280.9L1515.7 279.3L1517.5 278.8L1519.3 278.3L1521.0 277.9L1522.8 277.4L1524.6 276.9L1526.4 276.4L1528.5 279.1L1530.5 281.9L1532.6 284.6L1534.7 287.3L1536.7 290.0L1538.8 292.7M1515.7 279.3L1516.5 283.5L1517.4 287.7L1518.3 291.9L1519.1 296.1L1520.0 300.3L1520.8 304.5" fill="none" stroke="#999999" stroke-width="1.3" stroke-linejoin="round"/>
<path d="M757.4 923.1H802.1V945.2H763.4V930.8H757.4Z" fill="#c09a9a"/>
<path d="M770.4 946.3H805.4L807 960L806 970L790 966L770.4 960Z" fill="#6f3c3d"/>
<path d="M786 953L800 950L806 955L790 958Z" fill="#472022"/>
<path d="M1248 297.6L1251 305L1231 325L1219 336L1215 329L1235 305Z" fill="#6f3c3d"/>
<path d="M1025 141L1041 129L1043 131L1027 143Z M112 574L119 574L120 578L113 578Z M122 575L127 576L127 579L123 579Z M157 606L163 611L162 613L156 609Z M153 621L158 629L159 632L152 624Z" fill="none" stroke="#a0a0a0" stroke-width="1.4"/>
<path d="M1354 884L1366 882L1368 898L1357 900Z" fill="#eadcdc"/>
<path d="M1349 916L1362 914L1369 930L1368 940L1356 936Z" fill="#c09a9a"/>
<path d="M194.2 9.6L205.2 12.8L216.3 15.9L227.3 18.9L238.4 21.9L249.5 24.8L260.6 27.7L271.7 30.5L282.8 33.3L294.0 36.0L305.1 38.7L316.3 41.3L327.5 43.9L338.7 46.4L349.9 48.8L361.1 51.2L372.3 53.6L383.6 55.9L394.8 58.1L406.1 60.3L417.4 62.4L428.7 64.5L440.0 66.5L451.3 68.4L462.6 70.3L473.9 72.2L485.2 74.0L496.6 75.7L507.9 77.4L519.3 79.0L530.6 80.6L542.0 82.1L553.4 83.6L564.8 85.0L576.2 86.4L587.6 87.7L599.0 88.9L610.4 90.1L621.8 91.2L633.2 92.3L644.6 93.3L656.1 94.3L667.5 95.2L678.9 96.1L690.4 96.9L701.8 97.6L713.3 98.3L724.7 99.0L736.2 99.5L747.6 100.1L759.1 100.5L770.6 100.9L782.0 101.3L793.5 101.6L805.0 101.9L816.4 102.0L827.9 102.2L839.4 102.3L850.9 102.3L862.3 102.3L873.8 102.2L871.3 102.3L874.0 91.5L882.1 91.5L887.5 115.7L909.0 118.4L930.0 115.7L940.0 123.3L949.7 125.2L959.4 131.0L969.1 135.8L980.7 129.1L986.5 132.9L1003.9 132.0L1015.6 135.8L998.1 146.5L978.8 160.1L965.2 173.6L953.6 185.3L965.2 181.4L978.8 177.5L986.5 179.4L984.6 189.1L996.2 189.1L1007.8 181.4L1021.4 177.5L1033.0 171.7L1042.7 162.0L1052.4 154.3L1064.0 152.3L1060.1 156.2L1050.4 165.9L1046.6 177.5L1056.3 173.6L1065.9 173.6L1073.7 181.4L1079.5 185.3L1093.1 188.2L1100.8 181.4L1110.5 177.5L1122.1 175.6L1129.9 171.7L1137.6 170.7L1137.6 179.4L1145.4 181.4L1153.1 179.4L1158.9 177.5L1160.9 185.3L1160.9 191.1L1166.7 194.9L1162.8 198.8L1149.3 198.8L1145.4 204.6L1139.6 208.5L1153.1 210.4L1166.7 214.3L1182.2 220.1L1188.0 227.9L1190.0 239.5L1191.9 253.1L1188.0 262.8L1180.3 270.5L1178.3 280.2L1184.1 284.1L1191.9 274.4L1203.5 264.7L1211.3 270.5L1217.1 286.0L1221.0 303.4L1222.9 313.1L1215.1 318.9L1211.3 332.5L1207.4 344.1L1201.6 353.8L1215.1 359.6L1228.7 361.6L1240.3 355.8L1253.9 351.9L1269.4 342.2L1281.5 327.0L1300.9 311.9L1318.1 294.7L1311.7 286.0L1311.7 275.3L1324.6 268.8L1346.1 267.8L1352.6 271.0L1367.6 265.6L1380.6 253.8L1382.7 245.1L1376.3 232.2L1384.9 221.5L1391.3 208.5L1402.1 193.5L1410.7 189.2L1492.5 169.8L1496.8 158.0L1509.7 152.6L1511.9 144.0L1516.2 124.6L1514.0 100.9L1527.0 64.3L1533.4 65.4L1537.7 71.8L1552.8 62.2L1567.9 68.6L1580.8 111.7L1593.7 120.3L1598.0 131.0L1606.6 133.2L1613.1 144.0L1608.8 150.4L1595.8 161.2L1578.6 171.9L1567.9 182.7L1559.2 191.3L1546.3 202.1L1539.9 208.5L1535.6 227.9L1533.4 247.3L1539.9 253.8L1535.6 264.5L1548.5 275.3L1557.1 277.4L1561.4 266.7L1567.9 273.1L1570.0 286.0L1561.4 290.4L1548.5 292.5L1539.9 294.7L1527.0 303.3L1507.6 311.9L1486.0 322.6L1471.0 333.4L1466.7 344.2L1473.1 352.8L1473.1 370.0L1468.8 393.7L1460.2 415.2L1444.8 403.7L1436.2 400.5L1447.0 418.8L1455.6 431.7L1457.7 448.9L1453.4 464.0L1447.0 476.9L1442.6 490.9L1449.1 500.6L1459.9 517.8L1468.5 530.7L1471.7 547.9L1468.5 556.5L1457.7 565.1L1447.0 573.8L1434.0 584.5L1421.1 593.1L1412.5 606.0L1408.2 621.1L1395.3 623.3L1382.4 634.0L1373.8 651.3L1363.0 664.2L1350.1 674.9L1337.2 685.7L1328.5 698.6L1322.1 715.8L1317.8 735.2L1317.8 756.7L1319.0 760.6L1325.4 773.5L1334.0 790.7L1344.8 807.9L1362.0 831.6L1362.0 838.1L1368.5 855.3L1379.2 874.7L1387.9 887.6L1390.0 909.1L1390.0 930.6L1385.7 947.9L1383.6 958.6L1372.8 956.5L1362.0 958.6L1357.7 950.0L1347.0 937.1L1336.2 932.8L1329.7 919.9L1319.0 913.4L1316.8 898.3L1303.9 887.6L1295.3 879.0L1293.1 866.0L1288.8 855.3L1288.8 833.8L1282.4 823.0L1273.8 816.5L1260.8 805.8L1250.1 795.0L1239.3 790.7L1230.7 795.0L1219.9 801.5L1207.0 812.2L1198.4 810.1L1191.9 801.5L1176.9 792.9L1166.1 788.5L1148.9 788.5L1123.1 795.0L1110.1 799.3L1092.9 797.2L1081.8 793.9L1068.9 798.8L1059.2 805.2L1054.4 811.7L1064.1 808.4L1067.3 814.9L1059.2 821.4L1060.8 827.8L1059.2 832.7L1065.7 840.7L1068.9 850.4L1077.0 847.2L1080.2 842.4L1073.8 835.9L1060.8 835.9L1056.0 832.7L1047.9 832.7L1046.3 840.7L1041.5 847.2L1035.0 842.4L1026.9 850.4L1018.9 847.2L1009.2 844.0L1005.9 840.7L1001.1 832.7L989.8 834.3L993.0 827.8L986.6 823.0L976.9 824.6L978.5 829.4L973.7 834.3L960.7 831.0L943.0 825.4L920.4 827.8L896.1 839.1L880.0 850.4L888.4 846.3L874.2 858.1L855.2 870.0L836.3 877.1L822.1 888.9L810.2 903.1L803.1 922.1L803.1 936.3L807.9 955.2L815.0 969.4L805.5 974.2L786.6 964.7L767.6 957.6L748.7 948.1L739.2 929.2L734.5 907.9L722.6 893.7L708.4 874.7L698.9 851.0L689.5 834.4L680.0 825.0L673.3 821.7L647.4 817.4L634.5 821.7L628.1 839.0L617.3 849.7L606.5 843.3L589.3 832.5L576.4 821.7L569.9 806.7L567.8 789.5L559.2 778.7L541.9 761.5L524.7 746.4L520.4 734.6L466.6 728.1L464.4 744.2L430.0 739.9L373.7 730.9L263.9 666.3L268.2 659.9L192.9 651.3L190.7 631.9L186.4 619.0L175.6 603.9L164.9 597.4L162.7 586.7L147.6 582.4L141.2 571.6L130.4 563.0L108.9 556.5L104.6 550.1L108.9 530.7L104.6 515.6L98.1 500.6L89.5 483.3L86.3 468.3L89.5 453.2L79.8 438.1L80.9 416.6L72.3 403.7L74.4 392.9L72.3 389.7L64.8 378.9L61.5 366.0L64.8 355.2L68.0 342.3L63.7 329.4L59.4 318.6L58.3 305.7L65.8 297.1L73.4 286.3L77.7 267.0L80.9 254.0L79.8 239.0L80.9 228.2L83.1 217.4L92.7 202.4L102.4 189.5L108.9 176.5L115.3 161.5L121.8 146.4L126.1 133.5L129.3 120.6L132.6 107.6L134.7 96.9L135.8 86.1L140.1 71.0L138.0 56.0L139.0 43.1L135.8 32.3L138.0 23.7L141.2 15.1L151.9 23.7L160.6 30.1L169.2 33.4L176.7 30.1L177.8 21.5L186.4 18.3L181.0 16.1L186.4 10.8L179.9 6.5ZM1098.9 212.4L1124.1 198.8L1137.6 198.8L1145.4 204.6L1139.6 212.4L1141.5 222.1L1131.8 227.9L1120.2 239.5L1112.4 251.1L1108.6 264.7L1106.6 278.3L1108.6 293.8L1116.3 309.3L1120.2 322.8L1116.3 342.2L1110.5 355.8L1098.9 365.5L1089.2 369.3L1085.3 359.6L1079.5 348.0L1077.6 332.5L1075.6 313.1L1075.6 293.8L1077.6 274.4L1081.4 255.0L1087.3 235.6L1095.0 220.1L1098.9 212.4ZM1065.9 260.8L1075.6 245.3L1089.2 231.8L1092.1 235.6L1081.4 251.1L1067.9 262.8L1065.9 260.8ZM1419.0 399.4L1412.5 414.4L1416.8 433.8L1423.3 451.0L1429.7 468.3L1431.9 483.3L1440.5 487.6L1441.6 470.4L1441.6 451.0L1438.3 431.7L1434.0 416.6L1427.6 403.7L1419.0 399.4ZM1473.1 333.4L1492.5 318.3L1518.3 314.0L1522.6 318.3L1503.3 329.1L1483.9 337.7L1473.1 339.9L1473.1 333.4ZM1336.2 986.6L1347.0 978.0L1357.7 973.7L1359.9 978.0L1349.1 984.5L1338.3 987.7Z" fill="none" stroke="#000" stroke-width="4.1" stroke-linejoin="round"/>
<path d="M179.9 282.0L188.5 269.1L190.7 284.2L203.6 292.8L205.8 301.4L212.2 292.8L223.0 286.3L228.4 282.0L229.5 297.1L240.2 297.1L253.1 286.3L259.6 288.5L263.9 301.4L268.2 312.2L279.0 322.9L287.6 338.0L298.3 327.2L309.1 329.4L317.7 322.9L328.5 333.7L341.4 329.4L352.2 331.5L369.4 325.1L382.3 316.5L395.2 310.0L406.0 314.3L416.7 307.9L427.5 301.4L434.0 310.0L440.0 312.2" fill="none" stroke="#000" stroke-width="4.1" stroke-linejoin="round"/>
<path d="M406.0 62.4L410.3 73.2L414.6 79.7L418.9 94.7L425.4 105.5L416.7 116.3L421.1 129.2L431.8 137.8L427.5 150.7L434.0 163.6L440.0 172.2" fill="none" stroke="#000" stroke-width="4.1" stroke-linejoin="round"/>
<path d="M240.2 25.8L241.3 34.4L238.1 40.9L229.5 42.0L227.3 53.8L219.8 58.1L218.7 68.9L210.1 79.7L207.9 90.4L200.4 99.0L197.2 111.9L188.5 122.7L178.9 124.9L177.8 133.5L182.1 146.4L179.9 159.3L175.6 167.9L171.3 183.0L167.0 193.8L162.7 202.4L154.1 211.0L151.9 217.4L156.3 223.9L163.8 226.0L167.0 236.8L172.4 245.4L179.9 249.7L177.8 264.8L173.5 275.6L179.9 282.0L177.8 286.3L169.2 290.6L160.6 294.9L156.3 288.5L145.5 286.3L130.4 288.5L121.8 292.8L117.5 301.4L111.0 307.9L106.7 316.5L98.1 318.6L94.9 325.1L97.1 340.2L94.9 353.1L91.7 363.8L85.2 361.7L83.1 370.3L89.5 383.2L86.3 400.0" fill="none" stroke="#000" stroke-width="4.1" stroke-linejoin="round"/>
<path d="M761.0 255.7L755.6 263.7L761.0 274.5L777.1 285.3L779.8 296.0L782.5 309.5L785.2 322.9L777.1 328.3L793.3 336.4L796.0 349.8L790.6 355.2" fill="none" stroke="#000" stroke-width="4.1" stroke-linejoin="round"/>
<path d="M432.7 134.6L430.0 150.7L438.1 161.5L443.5 177.6L459.6 183.0L465.0 196.4L456.9 209.9L455.6 223.4L462.3 234.1L465.0 247.6L473.1 258.3L478.4 269.1L474.4 279.9L478.4 290.6" fill="none" stroke="#000" stroke-width="4.1" stroke-linejoin="round"/>
<path d="M849.8 287.9L860.6 282.6L874.0 290.6L884.8 301.4L903.6 317.5L925.2 293.3L930.0 290.6" fill="none" stroke="#000" stroke-width="4.1" stroke-linejoin="round"/>
<path d="M857.9 296.0L860.6 317.5L847.1 336.4L836.4 349.8L828.3 347.1" fill="none" stroke="#000" stroke-width="4.1" stroke-linejoin="round"/>
<path d="M752.9 341.8L763.7 339.1L779.8 344.5L793.3 349.8L796.0 355.2L787.9 355.2L769.1 360.6L752.9 352.5L750.2 349.8L752.9 341.8" fill="none" stroke="#000" stroke-width="4.1" stroke-linejoin="round"/>
<path d="M657.4 99.6L664.1 107.6L680.3 107.6L696.4 118.4L712.6 137.2L734.1 150.7L752.9 164.2L766.4 174.9L769.1 188.4L769.1 204.5L774.5 215.3L763.7 226.0L755.6 236.8L752.9 247.6L761.0 255.7L742.2 263.7L736.8 271.8L717.9 271.8L699.1 277.2L685.7 282.6" fill="none" stroke="#000" stroke-width="4.1" stroke-linejoin="round"/>
<path d="M871.3 102.3L866.0 107.6L871.3 123.8L895.6 131.9L898.2 142.6L874.0 150.7L868.6 166.8L866.0 188.4L863.3 209.9L871.3 228.7L879.4 247.6L884.8 263.7L903.6 266.4L922.5 258.3L930.0 255.7" fill="none" stroke="#000" stroke-width="4.1" stroke-linejoin="round"/>
<path d="M1048.5 293.8L1060.1 301.5L1067.9 322.8L1075.6 342.2L1083.4 355.8L1091.1 375.1L1098.9 379.0L1104.7 373.2L1114.4 365.5L1124.1 367.4L1131.8 377.1L1147.3 377.1L1157.0 371.3L1172.5 351.9L1178.3 332.5L1191.9 317.0L1203.5 301.5L1209.3 286.0L1207.4 280.2" fill="none" stroke="#000" stroke-width="4.1" stroke-linejoin="round"/>
<path d="M218.7 651.3L214.4 627.6L216.5 614.7L212.2 603.9L218.7 595.3L216.5 586.7L207.9 580.2L212.2 569.5L229.5 573.8L240.2 571.6L251.0 575.9L261.7 569.5L268.2 558.7L279.0 550.1L289.7 539.3L296.2 537.2L296.2 560.8L307.0 565.1L313.4 573.8L326.3 567.3L334.9 563.0L339.2 552.2L345.7 565.1L360.8 569.5L365.1 580.2L373.7 578.1L375.8 595.3L384.5 612.5L401.7 621.1L418.9 627.6L436.1 638.3L440.0 642.6" fill="none" stroke="#000" stroke-width="4.1" stroke-linejoin="round"/>
<path d="M440.0 380.0L427.5 388.6L418.9 399.4L418.9 412.3L412.4 429.5L403.8 451.0L393.1 459.7L388.8 479.0L378.0 489.8L373.7 504.9L375.8 517.8L386.6 526.4L388.8 539.3L380.2 547.9L375.8 560.8L373.7 578.1" fill="none" stroke="#000" stroke-width="4.1" stroke-linejoin="round"/>
<path d="M91.7 380.0L91.7 392.9L83.1 397.2L74.4 392.9" fill="none" stroke="#000" stroke-width="4.1" stroke-linejoin="round"/>
<path d="M420.0 304.2L425.4 301.5L436.1 315.0L446.9 315.0L444.2 333.8L438.8 350.0L436.1 368.8L438.8 382.3L425.4 393.0L420.0 409.2" fill="none" stroke="#000" stroke-width="4.1" stroke-linejoin="round"/>
<path d="M446.9 315.0L455.0 296.1L471.1 285.4L473.8 280.0" fill="none" stroke="#000" stroke-width="4.1" stroke-linejoin="round"/>
<path d="M570.7 538.3L576.1 549.1L570.7 570.6L565.3 584.1L578.8 602.9L586.8 616.4L597.6 624.5L613.8 632.5L619.1 640.6L611.1 656.7L616.4 667.5L635.3 675.6L640.7 679.9" fill="none" stroke="#000" stroke-width="4.1" stroke-linejoin="round"/>
<path d="M473.8 280.0L490.0 320.4L500.7 331.1L522.3 333.8L543.8 344.6L535.7 360.7L549.2 393.0L551.9 409.2L573.4 411.9L576.1 425.3L568.0 438.8L559.9 454.9L559.9 468.4L573.4 473.8L594.9 465.7L613.8 463.0L629.9 457.6L643.4 468.4L656.8 471.1L667.6 489.9L675.7 503.4L670.3 516.8L654.1 524.9L635.3 533.0L613.8 546.4L597.6 541.0L578.8 538.3L570.7 535.7L565.3 541.0L549.2 543.7L538.4 533.0L530.3 546.4L522.3 567.9L500.7 578.7L481.9 592.2L479.2 602.9L484.6 608.3L476.5 619.1L481.9 632.5L471.1 640.6L449.6 643.3L433.5 637.9L420.0 629.8" fill="none" stroke="#000" stroke-width="4.1" stroke-linejoin="round"/>
<path d="M920.0 543.7L915.2 562.6L912.5 576.0L901.7 589.5L885.6 597.5L874.8 600.2L861.3 592.2L847.9 584.1L837.1 592.2L850.6 600.2L866.7 608.3L877.5 616.4L872.1 624.5L877.5 635.2L893.6 640.6L920.0 643.3" fill="none" stroke="#000" stroke-width="4.1" stroke-linejoin="round"/>
<path d="M866.7 627.1L847.9 632.5L829.0 640.6L826.4 656.7L834.4 679.9" fill="none" stroke="#000" stroke-width="4.1" stroke-linejoin="round"/>
<path d="M893.6 479.1L864.0 492.6L872.1 511.4L885.6 527.6L901.7 543.7L915.2 559.9" fill="none" stroke="#000" stroke-width="4.1" stroke-linejoin="round"/>
<path d="M656.8 471.1L689.1 465.7L729.5 452.2L769.8 441.5L764.5 422.6L812.9 393.0L850.6 401.1L842.5 411.9L831.7 419.9L826.4 414.6L823.7 403.8" fill="none" stroke="#000" stroke-width="4.1" stroke-linejoin="round"/>
<path d="M764.5 422.6L786.0 441.5L810.2 457.6L823.7 468.4L829.0 492.6L850.6 484.5L877.5 487.2L893.6 479.1L904.4 465.7L920.0 460.3" fill="none" stroke="#000" stroke-width="4.1" stroke-linejoin="round"/>
<path d="M751.0 352.7L769.8 360.7L791.4 371.5L815.6 382.3L834.4 393.0L850.6 401.1" fill="none" stroke="#000" stroke-width="4.1" stroke-linejoin="round"/>
<path d="M490.0 320.4L508.8 315.0L533.0 317.7L562.6 306.9L586.8 315.0L613.8 325.7L640.7 331.1L656.8 315.0L675.7 296.1L689.1 280.0" fill="none" stroke="#000" stroke-width="4.1" stroke-linejoin="round"/>
<path d="M1219.1 361.9L1235.2 372.7L1256.7 370.0L1267.5 353.8L1283.7 343.1L1305.2 361.9L1299.8 388.8L1294.4 413.0L1297.1 442.6" fill="none" stroke="#000" stroke-width="4.1" stroke-linejoin="round"/>
<path d="M880.0 483.0L896.1 461.5L906.9 458.8L933.8 461.5L955.3 466.8L976.9 477.6L1001.1 485.7L1019.9 483.0L1036.1 461.5L1054.9 450.7L1068.4 431.9L1071.1 426.5L1073.8 448.0L1063.0 456.1L1057.6 474.9L1063.0 501.8L1084.5 515.3L1100.7 493.8L1122.2 493.8L1138.3 483.0L1159.9 461.5L1165.3 450.7L1176.0 450.7L1192.2 434.6" fill="none" stroke="#000" stroke-width="4.1" stroke-linejoin="round"/>
<path d="M880.0 528.7L896.1 534.1L906.9 534.1L923.1 553.0" fill="none" stroke="#000" stroke-width="4.1" stroke-linejoin="round"/>
<path d="M1019.9 520.7L1011.9 523.4L1009.2 536.8L1019.9 547.6L1025.3 561.0L1022.6 574.5L1009.2 590.6L998.4 617.5L976.9 620.2L968.8 631.0" fill="none" stroke="#000" stroke-width="4.1" stroke-linejoin="round"/>
<path d="M1019.9 520.7L1017.2 534.1L1030.7 542.2L1041.5 542.2L1041.5 569.1L1036.1 585.3L1033.4 604.1L1028.0 625.6" fill="none" stroke="#000" stroke-width="4.1" stroke-linejoin="round"/>
<path d="M1260.0 365.7L1268.6 357.1L1281.5 342.0L1303.1 359.2L1305.2 378.6L1298.8 395.8L1294.4 413.1L1296.6 430.3L1300.9 447.5L1303.1 460.0" fill="none" stroke="#000" stroke-width="4.1" stroke-linejoin="round"/>
<path d="M1320.3 460.0L1335.3 447.5L1356.9 438.9L1371.9 436.7L1389.2 447.5L1410.7 454.0L1430.1 460.0" fill="none" stroke="#000" stroke-width="4.1" stroke-linejoin="round"/>
<path d="M1180.0 451.0L1190.8 440.3L1203.7 423.1L1205.8 436.0L1212.3 448.9L1216.6 464.0L1227.4 459.7L1236.0 451.0L1242.4 436.0L1246.7 440.3L1251.0 455.3L1266.1 461.8L1276.9 459.7L1291.9 455.3L1304.9 453.2L1317.8 459.7L1322.1 451.0L1328.5 459.7L1339.3 466.1L1345.8 479.0L1354.4 470.4L1363.0 448.9L1369.5 436.0L1375.9 438.1L1384.5 448.9L1399.6 455.3L1412.5 459.7L1423.3 466.1L1429.7 481.2L1438.3 491.9" fill="none" stroke="#000" stroke-width="4.1" stroke-linejoin="round"/>
<path d="M1322.1 453.2L1317.8 472.6L1309.2 491.9L1307.0 504.9L1317.8 513.5L1309.2 526.4L1291.9 539.3L1276.9 554.4L1268.3 569.5L1261.8 586.7L1248.9 597.4L1231.7 606.0L1223.1 616.8L1214.4 636.2L1201.5 647.0L1190.8 659.9L1184.3 672.8L1180.0 681.4" fill="none" stroke="#000" stroke-width="4.1" stroke-linejoin="round"/>
<path d="M1180.0 681.4L1186.5 702.9L1180.0 715.8" fill="none" stroke="#000" stroke-width="4.1" stroke-linejoin="round"/>
<path d="M1092.9 640.0L1110.1 646.5L1131.7 644.3L1153.2 644.3L1144.6 657.2L1133.8 672.3L1125.2 685.2L1120.9 698.1L1116.6 715.3L1114.4 730.4L1114.4 747.6L1112.3 764.9L1116.6 769.2L1118.8 786.4L1120.9 795.0" fill="none" stroke="#000" stroke-width="4.1" stroke-linejoin="round"/>
<path d="M1112.3 764.9L1125.2 749.8L1133.8 736.9L1148.9 728.3L1164.0 724.0L1179.0 717.5L1185.5 706.7L1185.5 683.1L1185.5 672.3L1191.9 655.1L1200.6 646.5L1213.5 640.0" fill="none" stroke="#000" stroke-width="4.1" stroke-linejoin="round"/>
<path d="M1226.4 799.3L1217.8 790.7L1209.2 782.1L1217.8 769.2L1230.7 751.9L1241.5 732.6L1243.6 717.5L1252.2 724.0L1260.8 736.9L1273.8 745.5L1291.0 745.5L1295.3 756.3L1288.8 769.2L1291.0 782.1L1303.9 777.8L1316.8 764.9L1319.0 760.6" fill="none" stroke="#000" stroke-width="4.1" stroke-linejoin="round"/>
<path d="M710.8 682.9L732.1 680.5L751.0 680.5L770.0 690.0L786.6 701.8L803.1 723.1L817.4 742.1L836.3 753.9L845.8 758.7L850.5 780.0L855.2 794.2L855.2 813.1L860.0 832.1L867.1 836.8L871.8 858.1" fill="none" stroke="#000" stroke-width="4.1" stroke-linejoin="round"/>
<path d="M710.8 682.9L729.7 690.0L732.1 699.5L715.5 708.9L701.3 713.7L689.5 704.2L680.0 701.8" fill="none" stroke="#000" stroke-width="4.1" stroke-linejoin="round"/>
<path d="M770.0 690.0L788.9 682.9L807.9 678.1L829.2 680.5L836.3 671.0L831.6 654.5L824.5 642.6L836.3 635.5L855.2 635.5L860.0 645.0L869.5 637.9L874.2 628.4L878.9 618.9L869.5 614.2L860.0 600.0" fill="none" stroke="#000" stroke-width="4.1" stroke-linejoin="round"/>
<path d="M860.0 640.3L878.9 640.3L897.9 642.6L916.8 642.6L931.0 637.9L950.0 635.5L959.4 640.3L968.9 647.4L980.8 659.2L990.2 671.0L992.6 682.9L987.9 697.1L978.4 711.3L973.7 720.8L976.0 737.4L987.9 746.8L992.6 761.0L995.0 777.6" fill="none" stroke="#000" stroke-width="4.1" stroke-linejoin="round"/>
<path d="M1030.5 600.0L1028.1 623.7L1054.2 626.0L1068.4 635.5L1066.0 659.2L1068.4 678.1L1058.9 694.7L1049.4 706.6L1037.6 718.4L1030.5 735.0L1028.1 749.2L1016.3 763.4L1002.1 775.2L995.0 777.6" fill="none" stroke="#000" stroke-width="4.1" stroke-linejoin="round"/>
<path d="M1068.4 635.5L1082.6 633.2L1096.8 642.6L1120.0 642.6" fill="none" stroke="#000" stroke-width="4.1" stroke-linejoin="round"/>
<path d="M520.4 727.0L535.5 729.2L541.9 735.6L544.1 746.4L557.0 755.0L561.3 770.1L569.9 780.8L576.4 793.8L578.5 803.4L589.3 789.5L585.0 772.2L580.7 755.0L574.2 737.8L572.1 731.3L602.2 729.2L613.0 720.6L617.3 711.9L608.7 701.2L606.5 686.1L610.8 671.0L613.0 653.8L610.8 638.8L619.5 634.4L615.1 628.0L602.2 621.5L593.6 617.2L585.0 604.3L580.7 600.0" fill="none" stroke="#000" stroke-width="4.1" stroke-linejoin="round"/>
<path d="M610.8 671.0L619.5 668.9L636.7 673.2L645.3 675.3L658.2 688.3L669.0 699.0L679.7 703.3L697.0 707.6L703.4 714.1L716.3 707.6L727.1 701.2L731.4 692.6L722.8 688.3L712.0 681.8" fill="none" stroke="#000" stroke-width="4.1" stroke-linejoin="round"/>
<path d="M712.0 681.8L731.4 681.8L750.8 679.7L763.7 690.4L774.5 690.4L791.7 701.2L804.6 716.3L817.5 733.5L826.1 748.5L830.0 752.9" fill="none" stroke="#000" stroke-width="4.1" stroke-linejoin="round"/>
<path d="M430.0 634.4L445.1 645.2L473.1 640.9L483.8 632.3L475.2 621.5L486.0 606.5L481.7 600.0" fill="none" stroke="#000" stroke-width="4.1" stroke-linejoin="round"/>
<path d="M867.4 108.6L869.5 123.7L893.2 132.3L899.7 142.0L884.6 149.5L869.5 158.1L867.4 173.2L865.2 192.6L865.2 207.6L869.5 222.7L876.0 235.6L882.4 250.7L884.6 261.5L899.7 263.6L910.4 257.2L927.6 259.3L919.0 270.1L910.4 278.7L921.2 287.3L923.3 295.9L931.9 293.8L938.4 298.1L944.9 306.7L957.8 306.7L970.7 302.4L979.3 298.1L990.1 298.1L985.8 311.0L983.6 326.0L1000.8 326.0L1018.1 323.9L1026.7 319.6L1035.3 306.7L1048.2 293.8" fill="none" stroke="#000" stroke-width="4.1" stroke-linejoin="round"/>
<path d="M848.0 287.3L856.6 283.0L865.2 289.5L876.0 295.9L882.4 302.4L893.2 306.7L901.8 317.4L910.4 313.1L923.3 295.9" fill="none" stroke="#000" stroke-width="4.1" stroke-linejoin="round"/>
<path d="M848.0 287.3L854.4 295.9L860.9 306.7L858.8 315.3L848.0 321.7L841.5 332.5L837.2 345.4L828.6 351.9L820.0 345.4" fill="none" stroke="#000" stroke-width="4.1" stroke-linejoin="round"/>
<path d="M820.0 448.8L826.5 485.4L832.9 487.5L848.0 483.2L867.4 481.1L884.6 474.6" fill="none" stroke="#000" stroke-width="4.1" stroke-linejoin="round"/>
<text x="16.5" y="42.2" font-size="36" font-weight="bold" font-style="italic" fill="#231f20" stroke="#231f20" stroke-width="1.3" font-family="Liberation Sans, sans-serif" textLength="20" lengthAdjust="spacingAndGlyphs">C</text>
<text x="1755.5" y="276.2" font-size="40" font-weight="bold" fill="#231f20" font-family="Liberation Sans, sans-serif" textLength="221" lengthAdjust="spacingAndGlyphs">EXPLANATION</text>
<text x="1602.6" y="332.7" font-size="34.5" fill="#231f20" font-family="Liberation Sans, sans-serif" textLength="528.5" lengthAdjust="spacingAndGlyphs">[≤, less than or equal to; &gt;, greater than]</text>
<text x="1638.5" y="383.3" font-size="34.5" font-weight="bold" fill="#231f20" font-family="Liberation Sans, sans-serif" textLength="490" lengthAdjust="spacingAndGlyphs">Public-supply average annual water</text>
<text x="1697.9" y="423.6" font-size="34.5" font-weight="bold" fill="#231f20" font-family="Liberation Sans, sans-serif" textLength="418" lengthAdjust="spacingAndGlyphs">consumptive use, in millions of</text>
<text x="1697.9" y="463.2" font-size="34.5" font-weight="bold" fill="#231f20" font-family="Liberation Sans, sans-serif" textLength="205" lengthAdjust="spacingAndGlyphs">gallons per day</text>
<rect x="1551" y="506" width="75" height="49.5" fill="#eadcdc"/>
<text x="1660.2" y="541.6" font-size="34.5" fill="#231f20" font-family="Liberation Sans, sans-serif" textLength="82" lengthAdjust="spacingAndGlyphs">≤0.001</text>
<rect x="1551" y="577" width="75" height="49.5" fill="#c09a9a"/>
<text x="1660.2" y="611.2" font-size="34.5" fill="#231f20" font-family="Liberation Sans, sans-serif" textLength="173" lengthAdjust="spacingAndGlyphs">&gt;0.001 to 0.01</text>
<rect x="1901" y="506" width="75" height="49.5" fill="#9a5a5a"/>
<text x="2009.5" y="541.6" font-size="34.5" fill="#231f20" font-family="Liberation Sans, sans-serif" textLength="146" lengthAdjust="spacingAndGlyphs">&gt;0.01 to 0.1</text>
<rect x="1901" y="576" width="75" height="49.5" fill="#6f3c3d"/>
<text x="2009.5" y="610.5" font-size="34.5" fill="#231f20" font-family="Liberation Sans, sans-serif" textLength="125" lengthAdjust="spacingAndGlyphs">&gt;0.1 to 10</text>
<rect x="1901" y="647" width="75" height="49.5" fill="#472022"/>
<text x="2009.5" y="680.9" font-size="34.5" fill="#231f20" font-family="Liberation Sans, sans-serif" textLength="47" lengthAdjust="spacingAndGlyphs">&gt;10</text>
<line x1="1546.5" y1="737" x2="1622.8" y2="737" stroke="#111" stroke-width="2.5"/>
<text x="1638.5" y="746.1" font-size="34.5" font-weight="bold" fill="#231f20" font-family="Liberation Sans, sans-serif" textLength="374" lengthAdjust="spacingAndGlyphs">Hydrologic region boundary</text>
<text x="401" y="1164.5" font-size="36" font-weight="bold" font-style="italic" fill="#231f20" stroke="#231f20" stroke-width="1.3" font-family="Liberation Sans, sans-serif" textLength="23" lengthAdjust="spacingAndGlyphs">D</text>
<text x="618.6" y="1201.4" font-size="39" fill="#231f20" font-family="Liberation Sans, sans-serif" textLength="465" lengthAdjust="spacingAndGlyphs">Million cubic meters per month</text>
<line x1="580.7" y1="1272" x2="580.7" y2="2227" stroke="#c0c0c0" stroke-width="2"/>
<line x1="761.4" y1="1272" x2="761.4" y2="2227" stroke="#c0c0c0" stroke-width="2"/>
<line x1="942.0" y1="1272" x2="942.0" y2="2227" stroke="#c0c0c0" stroke-width="2"/>
<line x1="1122.7" y1="1272" x2="1122.7" y2="2227" stroke="#c0c0c0" stroke-width="2"/>
<rect x="401" y="1289.7" width="392.0" height="45.8" fill="#787878"/>
<text x="381" y="1322.3" font-size="35.5" fill="#231f20" text-anchor="end" font-family="Liberation Sans, sans-serif" textLength="240.0" lengthAdjust="spacingAndGlyphs">Pacific Northwest</text>
<rect x="401" y="1341.0" width="354.0" height="45.8" fill="#787878"/>
<text x="381" y="1373.6" font-size="35.5" fill="#231f20" text-anchor="end" font-family="Liberation Sans, sans-serif" textLength="222.0" lengthAdjust="spacingAndGlyphs">Columbia–Snake</text>
<rect x="401" y="1392.3" width="622.2" height="45.8" fill="#787878"/>
<text x="381" y="1424.9" font-size="35.5" fill="#231f20" text-anchor="end" font-family="Liberation Sans, sans-serif" textLength="245.0" lengthAdjust="spacingAndGlyphs">California–Nevada</text>
<rect x="401" y="1443.7" width="840.7" height="45.8" fill="#787878"/>
<text x="381" y="1476.3" font-size="35.5" fill="#231f20" text-anchor="end" font-family="Liberation Sans, sans-serif" textLength="238.0" lengthAdjust="spacingAndGlyphs">Southwest Desert</text>
<rect x="401" y="1495.0" width="496.2" height="45.8" fill="#787878"/>
<text x="381" y="1527.6" font-size="35.5" fill="#231f20" text-anchor="end" font-family="Liberation Sans, sans-serif" textLength="207.0" lengthAdjust="spacingAndGlyphs">Central Rockies</text>
<rect x="401" y="1546.3" width="387.7" height="45.8" fill="#ddcfba"/>
<text x="381" y="1578.9" font-size="35.5" fill="#231f20" text-anchor="end" font-family="Liberation Sans, sans-serif" textLength="275.0" lengthAdjust="spacingAndGlyphs">Northern High Plains</text>
<rect x="401" y="1597.6" width="433.4" height="45.8" fill="#ddcfba"/>
<text x="381" y="1630.2" font-size="35.5" fill="#231f20" text-anchor="end" font-family="Liberation Sans, sans-serif" textLength="252.5" lengthAdjust="spacingAndGlyphs">Central High Plains</text>
<rect x="401" y="1648.9" width="499.7" height="45.8" fill="#ddcfba"/>
<text x="381" y="1681.5" font-size="35.5" fill="#231f20" text-anchor="end" font-family="Liberation Sans, sans-serif" textLength="277.0" lengthAdjust="spacingAndGlyphs">Southern High Plains</text>
<rect x="401" y="1700.3" width="580.7" height="45.8" fill="#959693"/>
<text x="381" y="1732.9" font-size="35.5" fill="#231f20" text-anchor="end" font-family="Liberation Sans, sans-serif" textLength="75.4" lengthAdjust="spacingAndGlyphs">Texas</text>
<rect x="401" y="1751.6" width="300.9" height="45.8" fill="#959693"/>
<text x="381" y="1784.2" font-size="35.5" fill="#231f20" text-anchor="end" font-family="Liberation Sans, sans-serif" textLength="136.4" lengthAdjust="spacingAndGlyphs">Gulf Coast</text>
<rect x="401" y="1802.9" width="352.8" height="45.8" fill="#959693"/>
<text x="381" y="1835.5" font-size="35.5" fill="#231f20" text-anchor="end" font-family="Liberation Sans, sans-serif" textLength="311.6" lengthAdjust="spacingAndGlyphs">Mississippi Embayment</text>
<rect x="401" y="1854.2" width="315.6" height="45.8" fill="#959693"/>
<text x="381" y="1886.8" font-size="35.5" fill="#231f20" text-anchor="end" font-family="Liberation Sans, sans-serif" textLength="275.0" lengthAdjust="spacingAndGlyphs">Tennessee–Missouri</text>
<rect x="401" y="1905.5" width="292.8" height="45.8" fill="#959693"/>
<text x="381" y="1938.1" font-size="35.5" fill="#231f20" text-anchor="end" font-family="Liberation Sans, sans-serif" textLength="186.0" lengthAdjust="spacingAndGlyphs">Atlantic Coast</text>
<rect x="401" y="1956.9" width="400.9" height="45.8" fill="#959693"/>
<text x="381" y="1989.5" font-size="35.5" fill="#231f20" text-anchor="end" font-family="Liberation Sans, sans-serif" textLength="88.5" lengthAdjust="spacingAndGlyphs">Florida</text>
<rect x="401" y="2008.2" width="396.2" height="45.8" fill="#b8b6a7"/>
<text x="381" y="2040.8" font-size="35.5" fill="#231f20" text-anchor="end" font-family="Liberation Sans, sans-serif" textLength="241.0" lengthAdjust="spacingAndGlyphs">Souris–Red–Rainy</text>
<rect x="401" y="2059.5" width="333.1" height="45.8" fill="#b8b6a7"/>
<text x="381" y="2092.1" font-size="35.5" fill="#231f20" text-anchor="end" font-family="Liberation Sans, sans-serif" textLength="115.7" lengthAdjust="spacingAndGlyphs">Midwest</text>
<rect x="401" y="2110.8" width="300.5" height="45.8" fill="#b8b6a7"/>
<text x="381" y="2143.4" font-size="35.5" fill="#231f20" text-anchor="end" font-family="Liberation Sans, sans-serif" textLength="156.8" lengthAdjust="spacingAndGlyphs">Great Lakes</text>
<rect x="401" y="2162.1" width="464.1" height="45.8" fill="#b8b6a7"/>
<text x="381" y="2194.7" font-size="35.5" fill="#231f20" text-anchor="end" font-family="Liberation Sans, sans-serif" textLength="132.0" lengthAdjust="spacingAndGlyphs">Northeast</text>
<rect x="400" y="1271" width="903.4" height="957.5" fill="none" stroke="#231f20" stroke-width="2.2"/>
<line x1="400.0" y1="1271" x2="400.0" y2="1286" stroke="#231f20" stroke-width="2"/>
<text x="400.0" y="1253.7" font-size="32.5" fill="#231f20" text-anchor="middle" font-family="Liberation Sans, sans-serif" textLength="14.3" lengthAdjust="spacingAndGlyphs">0</text>
<line x1="606.9" y1="1271" x2="606.9" y2="1286" stroke="#231f20" stroke-width="2"/>
<text x="606.9" y="1253.7" font-size="32.5" fill="#231f20" text-anchor="middle" font-family="Liberation Sans, sans-serif" textLength="42.9" lengthAdjust="spacingAndGlyphs">200</text>
<line x1="813.8" y1="1271" x2="813.8" y2="1286" stroke="#231f20" stroke-width="2"/>
<text x="813.8" y="1253.7" font-size="32.5" fill="#231f20" text-anchor="middle" font-family="Liberation Sans, sans-serif" textLength="42.9" lengthAdjust="spacingAndGlyphs">400</text>
<line x1="1020.7" y1="1271" x2="1020.7" y2="1286" stroke="#231f20" stroke-width="2"/>
<text x="1020.7" y="1253.7" font-size="32.5" fill="#231f20" text-anchor="middle" font-family="Liberation Sans, sans-serif" textLength="42.9" lengthAdjust="spacingAndGlyphs">600</text>
<line x1="1227.6" y1="1271" x2="1227.6" y2="1286" stroke="#231f20" stroke-width="2"/>
<text x="1227.6" y="1253.7" font-size="32.5" fill="#231f20" text-anchor="middle" font-family="Liberation Sans, sans-serif" textLength="42.9" lengthAdjust="spacingAndGlyphs">800</text>
<line x1="606.9" y1="2214" x2="606.9" y2="2228.5" stroke="#231f20" stroke-width="2"/>
<line x1="813.8" y1="2214" x2="813.8" y2="2228.5" stroke="#231f20" stroke-width="2"/>
<line x1="1020.7" y1="2214" x2="1020.7" y2="2228.5" stroke="#231f20" stroke-width="2"/>
<line x1="1227.6" y1="2214" x2="1227.6" y2="2228.5" stroke="#231f20" stroke-width="2"/>
<text x="400.0" y="2269" font-size="32.5" fill="#231f20" text-anchor="middle" font-family="Liberation Sans, sans-serif" textLength="13.8" lengthAdjust="spacingAndGlyphs">0</text>
<text x="580.7" y="2269" font-size="32.5" fill="#231f20" text-anchor="middle" font-family="Liberation Sans, sans-serif" textLength="13.8" lengthAdjust="spacingAndGlyphs">5</text>
<text x="761.4" y="2269" font-size="32.5" fill="#231f20" text-anchor="middle" font-family="Liberation Sans, sans-serif" textLength="27.6" lengthAdjust="spacingAndGlyphs">10</text>
<text x="942.0" y="2269" font-size="32.5" fill="#231f20" text-anchor="middle" font-family="Liberation Sans, sans-serif" textLength="27.6" lengthAdjust="spacingAndGlyphs">15</text>
<text x="1122.7" y="2269" font-size="32.5" fill="#231f20" text-anchor="middle" font-family="Liberation Sans, sans-serif" textLength="27.6" lengthAdjust="spacingAndGlyphs">20</text>
<text x="1303.4" y="2269" font-size="32.5" fill="#231f20" text-anchor="middle" font-family="Liberation Sans, sans-serif" textLength="27.6" lengthAdjust="spacingAndGlyphs">25</text>
<text x="616.3" y="2316" font-size="39" fill="#231f20" font-family="Liberation Sans, sans-serif" textLength="471" lengthAdjust="spacingAndGlyphs">Percentage of consumptive use</text>
<text x="1740.5" y="1482.8" font-size="40" font-weight="bold" fill="#231f20" font-family="Liberation Sans, sans-serif" textLength="220.5" lengthAdjust="spacingAndGlyphs">EXPLANATION</text>
<text x="1673.6" y="1556.4" font-size="35.5" font-weight="bold" fill="#231f20" font-family="Liberation Sans, sans-serif" textLength="416" lengthAdjust="spacingAndGlyphs">Aggregated hydrologic regions</text>
<rect x="1612.5" y="1594.8" width="75" height="45.8" fill="#787878"/>
<text x="1707" y="1627.9" font-size="36" fill="#231f20" font-family="Liberation Sans, sans-serif" textLength="112" lengthAdjust="spacingAndGlyphs">Western</text>
<rect x="1612.5" y="1656.0" width="75" height="45.8" fill="#959693"/>
<text x="1707" y="1689.1" font-size="36" fill="#231f20" font-family="Liberation Sans, sans-serif" textLength="135" lengthAdjust="spacingAndGlyphs">Southeast</text>
<rect x="1612.5" y="1717.2" width="75" height="45.8" fill="#ddcfba"/>
<text x="1707" y="1750.3" font-size="36" fill="#231f20" font-family="Liberation Sans, sans-serif" textLength="148" lengthAdjust="spacingAndGlyphs">High Plains</text>
<rect x="1612.5" y="1778.4" width="75" height="45.8" fill="#b8b6a7"/>
<text x="1707" y="1811.5" font-size="36" fill="#231f20" font-family="Liberation Sans, sans-serif" textLength="368" lengthAdjust="spacingAndGlyphs">Northeast through Midwest</text>
</svg></body></html>
